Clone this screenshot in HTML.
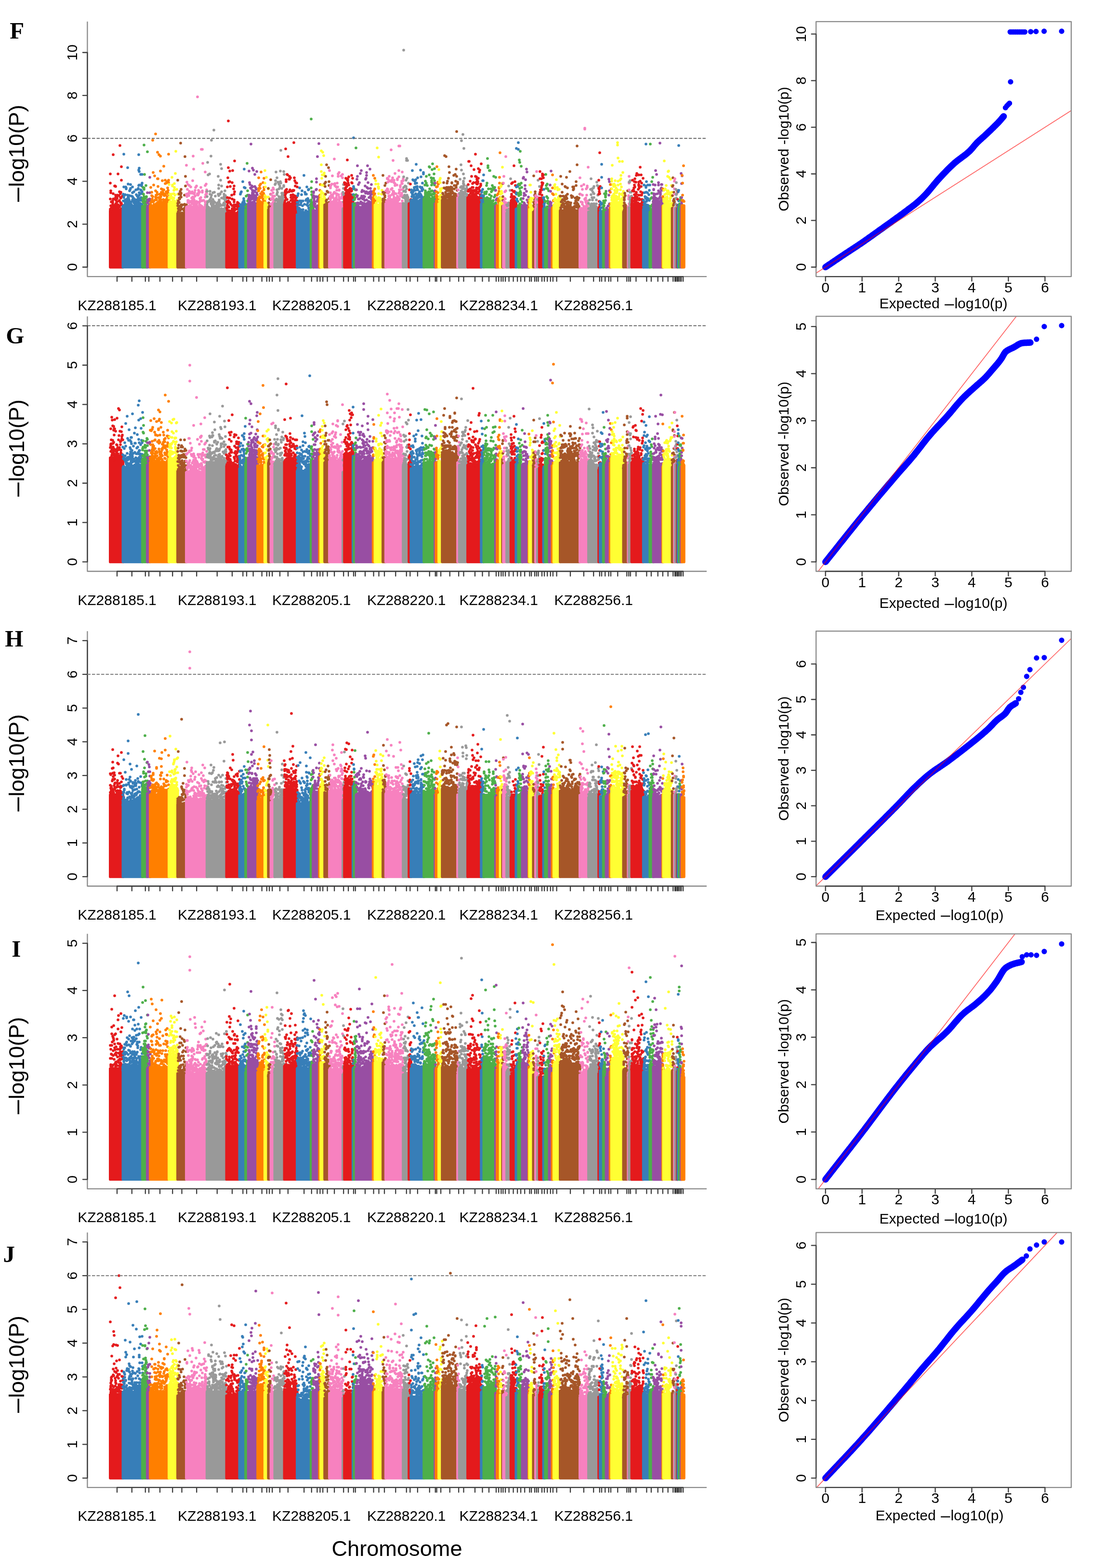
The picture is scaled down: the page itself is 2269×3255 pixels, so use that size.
<!DOCTYPE html><html><head><meta charset="utf-8"><style>html,body{margin:0;padding:0;background:#fff;width:2269px;height:3255px;overflow:hidden}svg{display:block}.tl{font-family:"Liberation Sans",sans-serif;font-size:30px;fill:#000}.al{font-family:"Liberation Sans",sans-serif;font-size:30px;fill:#000}.yl{font-family:"Liberation Sans",sans-serif;font-size:45.2px;fill:#000}.d1{font-size:52.9px}.d2{font-size:35px}.lt{font-family:"Liberation Serif",serif;font-size:49px;font-weight:bold;fill:#000}g.pts path{fill:none;stroke-width:5.7;stroke-linecap:round}</style></head><body><svg width="2269" height="3255" viewBox="0 0 2269 3255"><rect width="2269" height="3255" fill="#fff"/><g class="pts"><rect x="226" y="435.1" width="32.2" height="122.3" rx="2.9" fill="#E41A1C"/><path d="M229 361h0m0 19h0m0 33h0m0 21h0m0 1h0m0 5h0m0 0h0m1-44h0m0 4h0m0 27h0m0 12h0m1-20h0m0 13h0m2-1h0m1-14h0m0 4h0m0 3h0m0 3h0m0 3h0m1-109h0m0 81h0m0 11h0m0 22h0m0 5h0m0 0h0m0 0h0m1-27h0m0 24h0m1 2h0m1-53h0m0 42h0m0 4h0m0 6h0m1-52h0m0 40h0m0 14h0m1-53h0m0 18h0m0 5h0m0 4h0m0 10h0m0 7h0m0 5h0m1-20h0m0 6h0m0 2h0m0 3h0m0 6h0m0 3h0m1-12h0m0 3h0m0 2h0m1-21h0m0 2h0m0 2h0m0 7h0m0 15h0m0 3h0m0 0h0m0 3h0m1-35h0m0 22h0m0 4h0m0 2h0m0 4h0m1-76h0m0 64h0m0 13h0m1-6h0m0 1h0m0 3h0m1-30h0m0 11h0m0 10h0m0 13h0m1-42h0m0 18h0m0 13h0m0 8h0m0 0h0m1-135h0m0 125h0m1-25h0m0 8h0m0 10h0m1-21h0m0 12h0m0 11h0m0 13h0m1-89h0m0 28h0m0 48h0m0 11h0m0 6h0m1-1h0m1-31h0m0 19h0m0 7h0m0 2h0m1-8h0m0 9h0" stroke="#E41A1C"/><rect x="252.5" y="424.8" width="46.2" height="132.5" rx="2.9" fill="#377EB8"/><path d="M256 403h0m0 14h0m1-97h0m0 68h0m0 17h0m0 5h0m0 0h0m1 19h0m0 0h0m1-24h0m0 13h0m0 7h0m0 0h0m1-21h0m0 11h0m0 5h0m0 0h0m0 3h0m0 0h0m0 4h0m0 1h0m1-40h0m1 2h0m0 2h0m0 22h0m0 2h0m0 3h0m2 6h0m0 3h0m1-80h0m0 57h0m0 7h0m0 1h0m0 10h0m0 4h0m0 3h0m1-48h0m0 27h0m0 0h0m0 2h0m0 2h0m0 2h0m0 7h0m0 1h0m1-12h0m0 7h0m0 8h0m1-20h0m0 9h0m0 4h0m0 2h0m0 2h0m0 7h0m1-34h0m0 10h0m0 15h0m0 2h0m1-29h0m0 35h0m1-46h0m0 8h0m0 28h0m1 1h0m0 5h0m1-18h0m0 18h0m0 1h0m0 0h0m2-38h0m0 12h0m0 8h0m0 7h0m0 2h0m1-4h0m0 16h0m1-18h0m0 19h0m1-32h0m0 22h0m0 1h0m0 8h0m1-14h0m1-1h0m0 9h0m0 5h0m1 2h0m1-36h0m0 23h0m0 2h0m0 11h0m1-26h0m0 11h0m0 4h0m0 4h0m0 6h0m0 1h0m1-3h0m1-20h0m1-14h0m0 15h0m0 6h0m0 12h0m1-35h0m0 17h0m0 0h0m0 4h0m0 15h0m0 0h0m1-106h0m0 32h0m0 32h0m0 32h0m0 4h0m1-72h0m0 7h0m0 28h0m0 16h0m0 5h0m0 7h0m0 0h0m0 12h0m1-11h0m0 2h0m0 9h0m1-22h0m0 20h0m0 2h0m1-62h0m0 32h0m0 20h0m0 9h0m0 4h0m0 0h0m0 2h0m1-34h0m0 15h0m0 4h0m0 2h0m1-33h0m0 1h0m0 2h0m0 26h0m0 17h0m0 0h0m1-67h0m0 18h0m0 18h0m0 4h0m0 10h0m0 12h0m0 1h0m0 5h0" stroke="#377EB8"/><rect x="293" y="427.1" width="15.7" height="130.3" rx="2.9" fill="#4DAF4A"/><path d="M296 412h0m0 16h0m0 0h0m1-39h0m0 29h0m0 1h0m1-16h0m0 9h0m0 1h0m0 1h0m0 14h0m1-127h0m0 89h0m0 3h0m0 15h0m0 6h0m0 8h0m1-60h0m0 48h0m0 8h0m0 12h0m1-19h0m0 16h0m1-17h0m0 16h0m0 3h0m1-44h0m0 34h0m0 0h0m0 2h0m0 3h0m0 3h0m0 3h0m1-22h0m0 1h0m0 0h0m0 10h0m0 10h0m0 2h0m1-16h0m0 4h0m0 9h0m0 4h0m1-117h0" stroke="#4DAF4A"/><rect x="303" y="429.7" width="11.7" height="127.6" rx="2.9" fill="#984EA3"/><path d="M306 400h0m0 21h0m0 7h0m0 5h0m0 1h0m1-19h0m0 14h0m1-15h0m0 4h0m0 9h0m0 7h0m1-17h0m0 15h0m1-17h0m0 9h0m0 8h0m1-64h0m0 32h0m0 13h0m0 11h0m0 7h0m0 3h0m1-18h0" stroke="#984EA3"/><rect x="309" y="424.8" width="44.7" height="132.5" rx="2.9" fill="#FF7F00"/><path d="M313 389h0m0 31h0m0 5h0m2-26h0m0 7h0m0 10h0m0 13h0m1-16h0m0 3h0m0 13h0m1-138h0m0 117h0m0 11h0m0 11h0m1-72h0m0 69h0m1-43h0m0 34h0m1 6h0m1-59h0m1 50h0m0 12h0m0 1h0m0 0h0m1-150h0m0 118h0m0 13h0m1-4h0m0 5h0m0 1h0m1 4h0m0 7h0m0 1h0m1-24h0m0 5h0m0 19h0m0 4h0m0 1h0m0 2h0m1-114h0m0 55h0m0 57h0m0 2h0m1-59h0m0 16h0m0 33h0m0 1h0m0 2h0m1-13h0m1-89h0m0 99h0m0 1h0m0 1h0m1-19h0m0 9h0m0 4h0m0 8h0m0 1h0m1-14h0m0 4h0m0 2h0m0 6h0m0 1h0m0 3h0m1-103h0m0 31h0m0 53h0m0 5h0m0 2h0m0 13h0m0 1h0m1-25h0m0 4h0m0 7h0m0 3h0m0 4h0m0 3h0m1-33h0m0 7h0m1 1h0m0 28h0m1-53h0m0 18h0m1 7h0m0 20h0m1-25h0m0 6h0m0 3h0m0 10h0m0 6h0m0 3h0m1-78h0m0 49h0m0 23h0m0 3h0m1-14h0m0 17h0m1-19h0m0 15h0m1-45h0m0 7h0m0 46h0m1-22h0m0 0h0m0 10h0m0 14h0m1-49h0m0 18h0m0 2h0m0 27h0m0 1h0m0 1h0m1-16h0m0 7h0m0 3h0m1-46h0m0 32h0m0 6h0m0 1h0m0 2h0m0 6h0m1-34h0m0 7h0m0 30h0m1-32h0m0 6h0m1-81h0m0 54h0m0 5h0m0 25h0m0 13h0m0 4h0m0 4h0m0 3h0m0 1h0m1-18h0m0 3h0m0 10h0" stroke="#FF7F00"/><rect x="348" y="419.9" width="23.7" height="137.4" rx="2.9" fill="#FFFF33"/><path d="M351 383h0m0 28h0m0 14h0m1-22h0m0 7h0m0 9h0m1-1h0m0 0h0m0 7h0m1-13h0m1-9h0m0 3h0m0 4h0m0 9h0m0 3h0m0 2h0m1-21h0m1-35h0m0 43h0m0 12h0m0 1h0m1-40h0m0 2h0m0 24h0m1 6h0m0 5h0m1-19h0m0 16h0m1-23h0m0 7h0m0 9h0m0 10h0m0 3h0m1-43h0m0 8h0m0 5h0m0 9h0m0 0h0m0 14h0m0 0h0m0 1h0m1-13h0m0 14h0m1-59h0m0 64h0m1-110h0m0 106h0m2-27h0m0 28h0m1-6h0m1-12h0" stroke="#FFFF33"/><rect x="366" y="440" width="23.7" height="117.4" rx="2.9" fill="#A65628"/><path d="M369 374h0m0 48h0m0 5h0m1-10h0m0 10h0m0 6h0m0 6h0m1-18h0m0 13h0m0 11h0m1-43h0m0 1h0m0 8h0m0 9h0m0 9h0m1-17h0m0 1h0m1-16h0m0 31h0m0 9h0m1-140h0m0 107h0m0 5h0m0 20h0m1-36h0m0 8h0m0 8h0m0 16h0m0 3h0m0 6h0m1-1h0m1-8h0m0 1h0m0 16h0m1-8h0m2 0h0m0 10h0m1-7h0m1-32h0m0 19h0m0 1h0m0 0h0m0 7h0m0 1h0m0 0h0m0 9h0m1-117h0m0 114h0m0 2h0m1-75h0m0 20h0m0 43h0m0 13h0m0 0h0m1-5h0m1-12h0" stroke="#A65628"/><rect x="384" y="429.7" width="48.5" height="127.6" rx="2.9" fill="#F781BF"/><path d="M387 343h0m0 60h0m0 1h0m0 26h0m1-52h0m0 30h0m1-15h0m0 36h0m0 0h0m1-46h0m0 19h0m0 4h0m0 10h0m0 4h0m0 9h0m0 5h0m1-18h0m0 4h0m0 9h0m0 3h0m1-31h0m0 5h0m0 12h0m0 3h0m0 11h0m0 3h0m1-50h0m0 12h0m0 30h0m1-27h0m1 18h0m0 8h0m0 3h0m1-41h0m0 12h0m0 1h0m0 28h0m0 1h0m0 4h0m1-14h0m1-9h0m0 6h0m0 12h0m1-31h0m0 25h0m1-48h0m0 26h0m0 8h0m0 2h0m0 7h0m1-94h0m0 90h0m0 18h0m1-81h0m0 51h0m0 9h0m0 13h0m0 5h0m0 2h0m1-29h0m0 13h0m0 12h0m0 3h0m1-30h0m0 19h0m0 1h0m0 12h0m1-37h0m0 11h0m0 1h0m0 14h0m0 1h0m0 1h0m0 6h0m0 2h0m0 3h0m1-45h0m0 30h0m0 1h0m1 6h0m0 3h0m0 0h0m1-43h0m0 32h0m0 6h0m1-3h0m0 7h0m1-227h0m0 201h0m0 2h0m1 1h0m0 15h0m0 12h0m0 1h0m1-38h0m0 8h0m0 28h0m0 1h0m1-34h0m1 0h0m0 1h0m0 20h0m0 1h0m0 5h0m0 6h0m1-19h0m0 6h0m0 11h0m1-14h0m0 11h0m0 7h0m1-44h0m0 21h0m1-100h0m0 106h0m0 13h0m1-12h0m0 11h0m0 3h0m0 3h0m1-124h0m0 86h0m0 3h0m0 31h0m0 4h0m1-95h0m0 96h0m1-19h0m1 0h0m2 14h0m0 5h0m1-78h0m0 28h0m0 24h0m0 11h0m0 5h0m0 3h0m0 4h0m1-28h0m0 19h0m0 8h0m1-49h0m0 16h0m0 5h0m0 21h0m0 5h0m1-35h0m0 1h0m0 7h0m0 16h0m0 4h0m0 0h0" stroke="#F781BF"/><rect x="426.8" y="432.4" width="46.5" height="124.9" rx="2.9" fill="#999999"/><path d="M430 397h0m0 11h0m0 17h0m0 3h0m0 3h0m0 1h0m0 4h0m0 1h0m0 0h0m1-100h0m0 83h0m1-57h0m0 55h0m0 20h0m1-8h0m0 1h0m0 2h0m0 2h0m0 0h0m1-18h0m0 15h0m0 1h0m1-72h0m0 57h0m1-21h0m0 6h0m0 11h0m0 19h0m0 2h0m1-17h0m1-94h0m0 86h0m0 7h0m0 6h0m0 10h0m0 3h0m1-145h0m0 114h0m0 14h0m0 1h0m0 12h0m1-5h0m0 0h0m0 4h0m0 6h0m1 0h0m1-37h0m0 14h0m0 10h0m0 5h0m0 3h0m1-9h0m0 1h0m0 2h0m1-156h0m0 148h0m0 16h0m1-35h0m0 29h0m0 4h0m0 5h0m1-17h0m0 9h0m0 0h0m0 3h0m1-25h0m0 21h0m1 1h0m0 4h0m1-7h0m0 1h0m1-5h0m0 2h0m0 1h0m0 6h0m1-4h0m1 0h0m0 4h0m0 0h0m0 1h0m1-66h0m0 37h0m0 17h0m0 3h0m0 1h0m1-40h0m0 7h0m0 15h0m0 24h0m0 0h0m1-15h0m0 2h0m0 2h0m0 3h0m0 4h0m0 10h0m1-2h0m1-32h0m0 1h0m0 21h0m0 1h0m0 9h0m1-93h0m0 33h0m0 53h0m0 0h0m2-77h0m0 36h0m0 12h0m0 13h0m0 22h0m1 1h0m1-8h0m0 10h0m2-24h0m0 11h0m1-20h0m0 5h0m0 13h0m0 1h0m0 0h0m0 4h0m0 0h0m1-19h0m0 0h0m0 2h0m0 17h0m0 7h0m1-37h0m0 19h0m0 8h0m0 11h0m0 1h0m1-29h0m0 11h0m0 14h0m0 4h0m1-20h0m1-4h0m0 24h0" stroke="#999999"/><rect x="467.5" y="440" width="32.7" height="117.4" rx="2.9" fill="#E41A1C"/><path d="M471 419h0m0 13h0m0 0h0m0 1h0m1-45h0m0 22h0m0 16h0m0 2h0m0 9h0m0 7h0m1-75h0m0 52h0m1-170h0m0 97h0m0 69h0m0 12h0m1-51h0m0 33h0m0 8h0m0 11h0m0 7h0m0 1h0m0 1h0m0 2h0m0 4h0m1-1h0m1-89h0m0 22h0m0 34h0m0 9h0m1-33h0m1 37h0m0 0h0m0 14h0m0 6h0m0 1h0m1-4h0m0 0h0m0 3h0m1-39h0m0 32h0m0 6h0m1-64h0m0 34h0m0 14h0m0 6h0m0 3h0m0 1h0m0 4h0m1-87h0m0 81h0m0 3h0m1-5h0m0 5h0m1-46h0m0 46h0m1-52h0m0 17h0m0 12h0m0 4h0m0 6h0m0 5h0m0 1h0m0 1h0m1-98h0m0 64h0m0 31h0m0 8h0m1 7h0m0 0h0m1-10h0m1-9h0m1 19h0m1-16h0m1-8h0m0 9h0m0 5h0m0 0h0m1-11h0m0 2h0m0 15h0m1-18h0m0 12h0m1-7h0m1-3h0m0 8h0m0 7h0m0 6h0" stroke="#E41A1C"/><rect x="494.5" y="429.7" width="18.3" height="127.6" rx="2.9" fill="#377EB8"/><path d="M499 403h0m0 22h0m0 0h0m1-25h0m0 30h0m1-32h0m1 29h0m0 3h0m0 1h0m1-8h0m0 1h0m0 4h0m0 4h0m1-55h0m0 43h0m0 5h0m1-5h0m0 6h0m0 2h0m0 3h0m0 3h0m1-22h0m0 4h0m0 2h0m0 8h0m1-75h0m0 38h0m0 28h0m0 3h0m0 5h0m0 5h0m1-2h0m1-38h0m0 37h0m1-3h0" stroke="#377EB8"/><rect x="507.1" y="432.4" width="11.3" height="124.9" rx="2.9" fill="#4DAF4A"/><path d="M510 429h0m1-22h0m1 28h0m0 1h0m1-97h0m0 86h0m1-29h0m0 9h0m0 12h0m0 12h0m0 5h0m0 2h0m0 2h0m1-5h0m0 2h0m0 2h0" stroke="#4DAF4A"/><rect x="512.8" y="419.9" width="25.2" height="137.4" rx="2.9" fill="#984EA3"/><path d="M516 413h0m0 9h0m1-67h0m0 50h0m0 4h0m1-30h0m0 31h0m0 8h0m0 5h0m0 1h0m1-41h0m0 25h0m0 6h0m0 5h0m1-29h0m1-91h0m0 92h0m0 23h0m0 9h0m0 2h0m1-19h0m0 2h0m0 2h0m0 10h0m1-34h0m0 23h0m1-60h0m0 39h0m0 7h0m0 5h0m0 2h0m0 4h0m0 18h0m0 1h0m1-17h0m0 3h0m0 13h0m1-71h0m0 50h0m0 2h0m0 8h0m0 6h0m0 4h0m1-27h0m0 0h0m0 11h0m0 6h0m0 11h0m0 0h0m1-27h0m0 14h0m0 2h0m0 6h0m1-57h0m0 25h0m0 11h0m0 8h0m0 9h0m0 10h0m2-35h0m0 18h0m0 16h0m1-31h0m1-37h0m0 44h0m0 4h0m0 7h0m0 4h0m1-11h0m1 14h0m0 5h0" stroke="#984EA3"/><rect x="532.2" y="419.9" width="20.3" height="137.4" rx="2.9" fill="#FF7F00"/><path d="M535 418h0m1-3h0m0 2h0m0 7h0m1-55h0m0 22h0m0 5h0m0 0h0m0 15h0m1 2h0m1-28h0m0 5h0m0 18h0m0 13h0m0 2h0m1-32h0m0 27h0m0 4h0m1-40h0m0 20h0m0 8h0m1-53h0m2 41h0m0 7h0m0 2h0m0 3h0m0 10h0m0 2h0m0 2h0m0 1h0m1-19h0m0 19h0m1-46h0m0 35h0m0 9h0m0 2h0m1-24h0m0 18h0m0 6h0m1-55h0m0 19h0m0 5h0m0 10h0m0 1h0m0 8h0m0 0h0m0 10h0m1-8h0m1-8h0m0 11h0" stroke="#FF7F00"/><rect x="546.9" y="422.2" width="13.2" height="135.2" rx="2.9" fill="#FFFF33"/><path d="M550 354h0m0 0h0m0 26h0m0 26h0m0 15h0m1-33h0m0 24h0m0 1h0m0 9h0m0 5h0m0 0h0m1-6h0m0 1h0m1-54h0m0 55h0m0 3h0m2-17h0m1 18h0m1-35h0m0 17h0m0 14h0" stroke="#FFFF33"/><rect x="554.4" y="432.4" width="10.9" height="124.9" rx="2.9" fill="#A65628"/><path d="M557 391h0m1 30h0m0 9h0m0 4h0m0 3h0m1-9h0m0 7h0m1-22h0m0 11h0m1 12h0m1-63h0m0 30h0m0 11h0m0 14h0" stroke="#A65628"/><rect x="559.6" y="429.7" width="13.6" height="127.6" rx="2.9" fill="#F781BF"/><path d="M562 424h0m1-21h0m0 10h0m0 21h0m0 1h0m1-40h0m0 37h0m1-3h0m0 2h0m0 3h0m1-27h0m0 3h0m0 11h0m0 2h0m1-33h0m0 10h0m0 13h0m0 7h0m0 5h0m0 4h0m1-36h0m0 20h0m0 3h0m0 7h0m0 7h0m0 4h0m1-27h0m0 8h0m0 8h0m1-16h0m0 12h0m0 7h0" stroke="#F781BF"/><rect x="567.5" y="419.9" width="25.8" height="137.4" rx="2.9" fill="#999999"/><path d="M571 383h0m0 39h0m0 2h0m0 1h0m1-50h0m0 6h0m0 35h0m0 9h0m1-68h0m0 59h0m0 7h0m1-10h0m0 3h0m0 7h0m1-54h0m0 25h0m0 8h0m0 2h0m1-5h0m0 15h0m1-36h0m0 41h0m1 0h0m0 3h0m1-43h0m0 3h0m0 10h0m0 16h0m0 9h0m0 5h0m1-10h0m1-26h0m0 4h0m0 25h0m0 8h0m1-68h0m0 22h0m0 44h0m0 3h0m1-112h0m0 68h0m0 30h0m1 2h0m0 13h0m1-34h0m0 10h0m0 6h0m0 6h0m0 4h0m0 2h0m1-18h0m0 4h0m0 2h0m0 2h0m1-8h0m0 13h0m0 4h0m0 4h0m0 3h0m1-15h0m0 9h0m0 4h0m1-67h0m0 29h0m0 2h0m0 20h0m0 13h0m1-58h0m0 42h0m0 18h0m0 0h0" stroke="#999999"/><rect x="587.6" y="420.8" width="32.1" height="136.5" rx="2.9" fill="#E41A1C"/><path d="M591 420h0m0 4h0m0 1h0m1-28h0m0 2h0m0 6h0m0 11h0m1-107h0m0 86h0m0 7h0m0 8h0m1-37h0m0 4h0m0 37h0m1-21h0m0 30h0m1-61h0m0 37h0m0 15h0m1-51h0m1-38h0m0 95h0m0 5h0m2-53h0m0 26h0m0 22h0m1-54h0m0 6h0m0 25h0m1-3h0m1-25h0m1 36h0m0 5h0m0 6h0m2-19h0m0 9h0m0 17h0m1-11h0m0 9h0m0 2h0m1-28h0m0 9h0m0 11h0m0 5h0m0 4h0m1-28h0m1-100h0m0 99h0m0 15h0m0 6h0m0 1h0m1-48h0m0 37h0m1-31h0m0 0h0m0 33h0m0 8h0m0 7h0m0 2h0m1-39h0m0 21h0m0 12h0m0 2h0m0 3h0m0 0h0m1-45h0m0 33h0m0 7h0m1 0h0m0 7h0m1-46h0m0 29h0m1-21h0m0 29h0" stroke="#E41A1C"/><rect x="614" y="442.7" width="34.6" height="114.7" rx="2.9" fill="#377EB8"/><path d="M617 420h0m0 6h0m0 21h0m0 1h0m1-42h0m0 25h0m0 1h0m0 3h0m1-33h0m0 18h0m0 14h0m0 6h0m2-15h0m0 7h0m0 8h0m0 1h0m0 6h0m1-57h0m0 27h0m0 18h0m0 2h0m0 4h0m1-6h0m1-10h0m0 10h0m0 1h0m0 12h0m1-31h0m0 4h0m0 19h0m1-36h0m0 36h0m0 2h0m0 1h0m1-47h0m1 31h0m0 20h0m1-30h0m0 18h0m0 5h0m0 1h0m0 2h0m1 0h0m1-79h0m1 60h0m0 17h0m1-42h0m1 4h0m0 37h0m0 0h0m0 7h0m1-31h0m0 21h0m0 9h0m1-43h0m0 11h0m0 25h0m0 3h0m0 3h0m1-57h0m0 37h0m1-9h0m0 24h0m1-28h0m0 9h0m0 6h0m1-33h0m0 45h0m0 1h0m0 1h0m0 0h0m0 2h0m1-50h0m0 23h0m0 15h0m0 2h0m0 9h0m2-24h0m0 19h0m1-12h0m0 11h0m0 7h0m0 0h0m1-12h0m0 13h0" stroke="#377EB8"/><rect x="642.9" y="419.9" width="10" height="137.4" rx="2.9" fill="#4DAF4A"/><path d="M646 247h0m0 143h0m0 25h0m1-38h0m0 21h0m0 6h0m0 16h0m1 2h0m0 1h0m0 2h0m1-17h0m0 2h0m1-3h0m0 13h0" stroke="#4DAF4A"/><rect x="647.2" y="435.1" width="18.8" height="122.3" rx="2.9" fill="#984EA3"/><path d="M651 398h0m0 2h0m0 6h0m0 2h0m0 28h0m0 1h0m1-28h0m0 2h0m0 2h0m0 4h0m0 5h0m0 2h0m1-6h0m0 5h0m0 4h0m0 1h0m1-5h0m0 17h0m1-11h0m1-35h0m0 14h0m1-37h0m0 7h0m0 15h0m0 39h0m1-23h0m0 9h0m0 14h0m0 4h0m1-111h0m0 90h0m0 12h0m0 4h0m0 2h0m0 2h0m0 3h0m1-2h0m1-28h0m0 3h0m0 20h0m1-133h0m0 111h0m0 22h0" stroke="#984EA3"/><rect x="660.3" y="412.4" width="8.5" height="145" rx="2.9" fill="#FF7F00"/><path d="M664 395h0m0 10h0m0 1h0m0 1h0m0 3h0m0 1h0m0 3h0m0 2h0m0 0h0m1-33h0m0 28h0m0 2h0m0 4h0" stroke="#FF7F00"/><rect x="663.1" y="410.1" width="13.8" height="147.2" rx="2.9" fill="#FFFF33"/><path d="M666 407h0m1-94h0m0 29h0m0 14h0m0 41h0m0 4h0m0 1h0m1-32h0m0 14h0m0 28h0m1-49h0m0 37h0m1-84h0m0 97h0m1-29h0m1-61h0m0 62h0m0 17h0m0 5h0m0 6h0m1-54h0m0 5h0m0 42h0m1-1h0m0 6h0m0 2h0" stroke="#FFFF33"/><rect x="671.2" y="422.6" width="15.5" height="134.7" rx="2.9" fill="#A65628"/><path d="M674 381h0m1 6h0m0 38h0m1-59h0m0 12h0m0 25h0m0 25h0m1-11h0m1-75h0m0 73h0m0 6h0m1-24h0m0 25h0m2-23h0m0 26h0m1-77h0m1 29h0m0 8h0m0 27h0m0 8h0m0 2h0m0 3h0" stroke="#A65628"/><rect x="681" y="419.9" width="33.7" height="137.4" rx="2.9" fill="#F781BF"/><path d="M684 354h0m1 54h0m0 1h0m0 4h0m0 11h0m1-37h0m0 3h0m0 10h0m0 8h0m0 6h0m1-30h0m0 35h0m1-14h0m0 2h0m0 18h0m1-43h0m1-17h0m0 45h0m0 11h0m0 1h0m1-18h0m0 0h0m0 5h0m1 9h0m0 2h0m0 1h0m1-20h0m0 19h0m0 3h0m1-93h0m0 52h0m0 17h0m0 15h0m0 2h0m0 2h0m0 3h0m1-40h0m0 1h0m0 3h0m0 33h0m1-17h0m0 11h0m0 5h0m0 6h0m1-36h0m0 32h0m0 2h0m1-11h0m0 2h0m0 6h0m0 0h0m0 2h0m1-31h0m0 6h0m0 7h0m0 3h0m0 15h0m0 5h0m1-45h0m0 34h0m1-26h0m1-88h0m0 61h0m0 5h0m0 55h0m0 4h0m1-21h0m0 20h0m1-66h0m0 36h0m0 1h0m0 14h0m0 5h0m0 2h0m0 4h0m0 1h0m0 0h0m0 3h0m1-12h0m1 0h0m0 11h0m0 2h0m2-60h0m0 55h0m0 3h0m1-3h0m0 3h0m1-21h0m0 1h0m0 5h0m1-46h0m0 7h0m0 43h0m1-5h0m0 16h0m0 1h0" stroke="#F781BF"/><rect x="709" y="432.4" width="8.9" height="124.9" rx="2.9" fill="#999999"/><path d="M712 399h0m0 34h0m1-50h0m0 8h0m0 13h0m0 15h0m0 18h0m1-35h0m0 32h0m1-29h0m0 11h0m0 8h0m0 2h0" stroke="#999999"/><rect x="712.2" y="407.5" width="23.4" height="149.9" rx="2.9" fill="#E41A1C"/><path d="M715 379h0m0 30h0m1-26h0m1-3h0m0 11h0m0 3h0m1-24h0m0 11h0m0 8h0m0 12h0m0 5h0m1-24h0m0 17h0m0 11h0m1-23h0m0 8h0m0 5h0m1-68h0m0 39h0m0 2h0m0 22h0m0 8h0m0 5h0m1-36h0m0 3h0m0 20h0m0 16h0m0 1h0m1-32h0m0 17h0m0 9h0m1-39h0m0 17h0m0 14h0m0 3h0m1-1h0m0 5h0m0 1h0m0 4h0m0 1h0m1-19h0m0 11h0m0 9h0m0 0h0m1-21h0m0 6h0m0 9h0m0 3h0m0 3h0m1-1h0m1-14h0m0 7h0m1-40h0m0 15h0m0 17h0m0 14h0m1-30h0m0 12h0m0 15h0m1-37h0m0 38h0m0 4h0m0 0h0m1-6h0" stroke="#E41A1C"/><rect x="730" y="419.9" width="8.2" height="137.4" rx="2.9" fill="#377EB8"/><path d="M733 404h0m0 20h0m0 1h0m1-139h0m0 101h0m0 5h0m0 12h0m0 11h0m1-24h0m0 23h0m0 10h0" stroke="#377EB8"/><rect x="732.5" y="419.9" width="9.8" height="137.4" rx="2.9" fill="#4DAF4A"/><path d="M735 406h0m1 8h0m1-3h0m1-17h0m0 30h0m1-117h0m0 97h0m0 18h0m0 0h0" stroke="#4DAF4A"/><rect x="736.6" y="427.5" width="41" height="129.8" rx="2.9" fill="#984EA3"/><path d="M740 394h0m1-22h0m0 36h0m0 14h0m1-78h0m0 22h0m0 40h0m0 21h0m1-6h0m0 6h0m0 2h0m1-46h0m0 0h0m0 30h0m0 16h0m0 2h0m2-52h0m0 34h0m0 10h0m2-63h0m0 71h0m0 1h0m1-21h0m0 8h0m1-65h0m0 69h0m0 10h0m0 0h0m1-35h0m0 9h0m0 15h0m0 1h0m1-28h0m0 26h0m1-13h0m0 5h0m0 13h0m1-4h0m0 4h0m0 3h0m0 1h0m1-23h0m0 5h0m0 20h0m1-35h0m0 25h0m0 4h0m1-18h0m0 8h0m1-30h0m0 42h0m0 3h0m1-59h0m0 29h0m0 31h0m1-62h0m0 54h0m0 5h0m1-71h0m0 6h0m0 34h0m0 17h0m1-26h0m0 33h0m0 0h0m0 2h0m1-80h0m0 56h0m1-21h0m0 12h0m0 11h0m0 22h0m0 5h0m1-11h0m0 9h0m1-17h0m0 0h0m0 9h0m0 5h0m0 4h0m0 1h0m0 2h0m1-32h0m0 20h0m0 0h0m0 9h0m1-77h0m0 75h0m0 3h0m0 2h0m1-40h0m0 11h0m0 5h0m0 13h0m0 7h0m0 5h0m0 0h0m1-35h0m0 1h0m0 35h0m1-50h0m0 15h0m0 2h0m0 3h0m0 7h0m0 3h0m0 7h0m0 4h0m1-12h0m0 9h0m0 1h0m0 6h0m1-11h0m0 2h0m0 4h0m0 2h0m0 6h0m1-32h0m0 24h0m0 3h0m0 1h0m0 1h0m1-27h0" stroke="#984EA3"/><rect x="771.9" y="407.5" width="9.4" height="149.9" rx="2.9" fill="#FF7F00"/><path d="M775 364h0m0 36h0m0 0h0m0 11h0m1-15h0m0 10h0m1-1h0m0 7h0m1-42h0m0 22h0m0 10h0" stroke="#FF7F00"/><rect x="775.6" y="422.6" width="22.1" height="134.7" rx="2.9" fill="#FFFF33"/><path d="M779 409h0m1-34h0m0 7h0m0 26h0m1 4h0m0 9h0m0 2h0m0 2h0m0 1h0m1 1h0m1-120h0m1 108h0m0 3h0m0 10h0m1-46h0m0 6h0m0 25h0m0 5h0m0 9h0m1-101h0m0 62h0m0 3h0m0 11h0m0 8h0m0 6h0m2 10h0m0 0h0m1-15h0m0 1h0m0 5h0m0 3h0m0 4h0m1-7h0m0 2h0m1 8h0m1-24h0m0 15h0m1-23h0m0 20h0m0 7h0m0 1h0m1 2h0" stroke="#FFFF33"/><rect x="792" y="419.9" width="11.6" height="137.4" rx="2.9" fill="#A65628"/><path d="M795 364h0m0 35h0m0 14h0m0 3h0m0 5h0m0 4h0m1-26h0m0 19h0m1-15h0m0 11h0m0 9h0m1-3h0m0 1h0m0 2h0m0 1h0m1-39h0m0 21h0m0 3h0m1 7h0m1-36h0m0 19h0" stroke="#A65628"/><rect x="797.9" y="419.9" width="41.9" height="137.4" rx="2.9" fill="#F781BF"/><path d="M801 396h0m0 29h0m1-7h0m0 0h0m1-22h0m1-26h0m0 1h0m0 21h0m0 8h0m0 20h0m0 1h0m0 3h0m1-46h0m0 15h0m0 23h0m0 0h0m1-44h0m0 29h0m0 12h0m0 2h0m0 5h0m0 3h0m0 1h0m0 0h0m0 1h0m0 0h0m1-18h0m0 9h0m0 0h0m0 5h0m1-55h0m0 32h0m0 19h0m0 5h0m0 2h0m1-48h0m0 34h0m1-34h0m0 30h0m0 11h0m0 5h0m0 3h0m1-5h0m1-109h0m0 82h0m0 21h0m0 1h0m0 5h0m0 3h0m0 1h0m1-50h0m0 3h0m0 44h0m0 0h0m0 1h0m1-31h0m0 13h0m0 13h0m1-48h0m0 33h0m0 1h0m0 1h0m0 12h0m0 3h0m0 3h0m1-89h0m0 64h0m0 26h0m1-26h0m0 0h0m0 7h0m0 9h0m0 7h0m1-46h0m0 5h0m0 21h0m0 9h0m1 3h0m0 2h0m0 9h0m1-63h0m0 21h0m0 4h0m0 34h0m1-7h0m0 6h0m0 0h0m1-16h0m0 10h0m1-1h0m0 5h0m0 4h0m1-36h0m1-13h0m0 2h0m0 34h0m0 12h0m1-8h0m0 6h0m1-7h0m1-107h0m0 51h0m0 13h0m0 34h0m0 11h0m0 3h0m1-21h0m0 5h0m0 14h0m1-110h0m1 82h0m0 3h0m0 18h0m0 19h0m1-31h0m0 11h0m0 2h0m2-31h0m0 4h0m0 21h0m0 7h0m0 17h0m1-68h0m0 24h0m0 25h0m0 11h0m1-24h0m1-22h0m0 4h0m0 32h0" stroke="#F781BF"/><rect x="834.1" y="419.9" width="17.8" height="137.4" rx="2.9" fill="#999999"/><path d="M837 410h0m0 12h0m1-318h0m0 263h0m0 22h0m0 8h0m1 0h0m0 13h0m1-5h0m0 19h0m0 1h0m1-39h0m0 10h0m0 14h0m0 2h0m0 10h0m1-24h0m0 9h0m0 10h0m1-43h0m0 13h0m0 23h0m1-81h0m0 4h0m0 59h0m0 14h0m0 14h0m0 4h0m1-54h0m0 35h0m0 18h0m0 1h0m1-91h0m0 75h0m0 7h0m0 5h0m1-10h0m0 4h0m1-34h0m0 37h0m1-1h0m0 2h0" stroke="#999999"/><rect x="846.2" y="419.9" width="9.8" height="137.4" rx="2.9" fill="#E41A1C"/><path d="M850 394h0m2-12h0m0 39h0m1-7h0m0 2h0" stroke="#E41A1C"/><rect x="850.4" y="415" width="32.5" height="142.3" rx="2.9" fill="#377EB8"/><path d="M854 394h0m0 5h0m0 16h0m1-7h0m0 8h0m1-62h0m0 47h0m0 2h0m1-30h0m0 26h0m0 20h0m1-45h0m0 23h0m1-2h0m0 10h0m0 3h0m0 2h0m0 3h0m0 1h0m1-25h0m0 1h0m1-14h0m0 19h0m0 21h0m0 1h0m0 3h0m0 0h0m1-39h0m0 14h0m0 16h0m0 6h0m1-44h0m0 15h0m0 14h0m0 9h0m0 3h0m0 4h0m1-77h0m0 68h0m0 2h0m0 4h0m0 1h0m0 0h0m1-36h0m0 25h0m1-18h0m0 4h0m0 3h0m1-25h0m0 25h0m0 12h0m0 5h0m0 6h0m0 0h0m2-15h0m1 17h0m1-21h0m0 3h0m0 4h0m0 2h0m0 2h0m1-21h0m0 21h0m0 6h0m0 4h0m1-66h0m0 50h0m0 3h0m0 2h0m1-41h0m0 38h0m0 13h0m1-27h0m0 16h0m0 7h0m1-25h0m0 7h0m0 15h0m0 1h0m0 4h0m1-36h0m0 30h0m0 7h0m1-24h0m0 17h0m1-52h0m0 3h0m1 55h0" stroke="#377EB8"/><rect x="877.2" y="410.1" width="28.7" height="147.2" rx="2.9" fill="#4DAF4A"/><path d="M881 412h0m0 1h0m0 2h0m1-31h0m0 24h0m0 2h0m1-34h0m0 20h0m0 4h0m0 3h0m0 7h0m1-5h0m1-39h0m0 14h0m0 4h0m0 28h0m0 3h0m1-15h0m0 7h0m0 7h0m1-29h0m0 16h0m0 7h0m0 5h0m1-7h0m0 2h0m0 2h0m1-10h0m0 5h0m1-7h0m0 9h0m0 6h0m0 2h0m1-69h0m0 17h0m0 38h0m0 3h0m0 6h0m1-63h0m0 45h0m2 11h0m0 0h0m1-34h0m0 28h0m0 8h0m1-30h0m0 3h0m0 6h0m0 31h0m1-63h0m0 18h0m0 26h0m0 7h0m1-63h0m0 0h0m0 40h0m0 29h0m1-6h0m0 11h0m1-44h0m0 33h0m0 11h0m1-53h0m0 38h0m1-49h0m0 25h0m0 9h0m0 13h0m0 5h0m0 8h0m0 5h0m1-17h0m0 10h0" stroke="#4DAF4A"/><rect x="900.2" y="419.9" width="8" height="137.4" rx="2.9" fill="#984EA3"/><path d="M903 380h0m0 16h0m2 20h0" stroke="#984EA3"/><rect x="902.5" y="419.9" width="11.3" height="137.4" rx="2.9" fill="#FF7F00"/><path d="M906 388h0m0 10h0m0 7h0m0 1h0m0 3h0m0 8h0m0 2h0m0 3h0m1-76h0m0 65h0m0 5h0m0 4h0m0 3h0m1-36h0m0 21h0m0 1h0m0 2h0m1-33h0m0 3h0m0 19h0m0 9h0m0 13h0m0 0h0m1-40h0m0 27h0m0 9h0m0 3h0m1-6h0" stroke="#FF7F00"/><rect x="908.1" y="419.9" width="12.8" height="137.4" rx="2.9" fill="#FFFF33"/><path d="M911 352h0m0 73h0m1-47h0m0 32h0m0 7h0m0 7h0m1-51h0m0 35h0m1-38h0m0 9h0m0 13h0m0 6h0m0 10h0m1-12h0m0 9h0m0 2h0m0 2h0m0 1h0m0 1h0m0 2h0m1-2h0m0 7h0m0 3h0m1-4h0m0 1h0m0 1h0m0 4h0m0 1h0m0 1h0m1-34h0m0 19h0" stroke="#FFFF33"/><rect x="915.2" y="412.4" width="37.6" height="145" rx="2.9" fill="#A65628"/><path d="M918 409h0m1-8h0m0 10h0m1-8h0m0 9h0m1-33h0m1 11h0m0 18h0m0 0h0m0 8h0m1-93h0m0 93h0m1-25h0m0 0h0m0 16h0m0 5h0m0 1h0m0 1h0m1-15h0m0 10h0m1-84h0m0 78h0m0 5h0m0 2h0m1-21h0m0 5h0m0 9h0m0 1h0m0 3h0m0 2h0m0 8h0m1-37h0m0 13h0m0 11h0m1-28h0m0 40h0m0 1h0m1-28h0m0 2h0m0 5h0m0 0h0m0 9h0m0 4h0m1-39h0m0 19h0m0 13h0m0 6h0m0 2h0m1-64h0m0 70h0m0 1h0m1-59h0m0 48h0m1-17h0m0 5h0m0 2h0m0 11h0m0 5h0m1-11h0m0 5h0m1-18h0m0 13h0m0 2h0m0 5h0m1-18h0m0 4h0m0 16h0m0 1h0m0 5h0m0 1h0m1-38h0m0 1h0m0 9h0m0 4h0m0 4h0m0 19h0m1-18h0m0 13h0m0 3h0m0 0h0m0 3h0m1-9h0m0 9h0m1-16h0m0 9h0m1-46h0m0 48h0m0 3h0m1-30h0m0 7h0m0 13h0m0 2h0m0 1h0m0 2h0m0 3h0m1-11h0m0 8h0m0 0h0m0 4h0m1-52h0m0 50h0m0 6h0m1-42h0m0 27h0m1-52h0m0 34h0m0 4h0m0 22h0m1-138h0m0 93h0m0 39h0m1-10h0m0 11h0m0 2h0m0 7h0m0 0h0m0 0h0m1-37h0m0 3h0" stroke="#A65628"/><rect x="947.1" y="407.5" width="9.5" height="149.9" rx="2.9" fill="#F781BF"/><path d="M951 394h0m0 10h0m1 1h0m1-3h0m0 9h0" stroke="#F781BF"/><rect x="950.9" y="407.5" width="22.9" height="149.9" rx="2.9" fill="#999999"/><path d="M954 401h0m1-29h0m0 31h0m0 5h0m0 0h0m0 4h0m1-23h0m1-47h0m0 54h0m1-104h0m0 61h0m0 34h0m0 11h0m0 8h0m0 4h0m1-12h0m1-7h0m0 10h0m0 11h0m1-133h0m0 113h0m0 12h0m1-43h0m0 15h0m0 4h0m0 1h0m0 7h0m0 11h0m0 13h0m1-104h0m0 75h0m0 1h0m0 1h0m0 18h0m0 1h0m0 3h0m1-37h0m0 31h0m0 7h0m1-16h0m0 9h0m0 1h0m1-5h0m1 0h0m0 12h0m0 0h0m1 4h0m1-27h0m0 5h0m0 4h0m0 0h0m0 8h0m0 2h0m0 3h0m1-2h0" stroke="#999999"/><rect x="968.1" y="407.5" width="33.8" height="149.9" rx="2.9" fill="#E41A1C"/><path d="M972 383h0m0 14h0m0 16h0m1-78h0m0 59h0m0 15h0m1-74h0m0 70h0m0 1h0m1-11h0m1-19h0m0 16h0m0 3h0m0 1h0m0 11h0m0 2h0m0 0h0m0 1h0m0 0h0m1-15h0m0 6h0m1-57h0m0 52h0m0 2h0m1-32h0m0 47h0m1-24h0m0 6h0m0 8h0m0 0h0m0 8h0m1-30h0m0 25h0m0 2h0m0 4h0m1-23h0m0 10h0m0 2h0m1-22h0m0 16h0m0 1h0m0 9h0m0 6h0m0 0h0m1-59h0m0 57h0m1-12h0m0 9h0m1-11h0m0 8h0m0 3h0m0 1h0m1-87h0m0 46h0m0 44h0m0 1h0m1-32h0m0 24h0m0 1h0m0 0h0m0 8h0m0 0h0m1-45h0m0 11h0m0 2h0m0 10h0m0 4h0m0 4h0m0 2h0m0 8h0m0 2h0m0 3h0m1-41h0m0 10h0m0 8h0m0 2h0m0 16h0m0 1h0m0 3h0m1-37h0m0 7h0m0 18h0m1-23h0m0 3h0m0 21h0m1-51h0m0 20h0m1 20h0m0 2h0m0 6h0m1-41h0m1-4h0m0 35h0m0 8h0m0 13h0m0 1h0m1-14h0m0 8h0m1-22h0m0 3h0m1-45h0m0 69h0m0 3h0" stroke="#E41A1C"/><rect x="996.2" y="420.8" width="10.9" height="136.5" rx="2.9" fill="#377EB8"/><path d="M999 407h0m0 8h0m1-18h0m0 2h0m0 6h0m0 11h0m0 3h0m0 4h0m1 2h0m0 1h0m1-51h0m0 18h0m1-18h0m0 33h0m0 7h0m0 3h0m0 3h0m0 5h0m1-63h0m0 43h0m0 4h0m0 12h0" stroke="#377EB8"/><rect x="1001.5" y="420.8" width="30.1" height="136.5" rx="2.9" fill="#4DAF4A"/><path d="M1006 399h0m0 3h0m0 10h0m0 13h0m1-13h0m0 5h0m1-16h0m0 18h0m0 6h0m1-23h0m0 15h0m0 7h0m1-39h0m0 13h0m0 25h0m1-43h0m0 30h0m0 3h0m0 0h0m0 2h0m0 4h0m1-90h0m0 92h0m1-77h0m0 4h0m0 67h0m0 2h0m1-25h0m0 20h0m0 9h0m1-6h0m0 4h0m0 1h0m1-66h0m0 50h0m0 12h0m1-62h0m0 65h0m0 1h0m1-8h0m0 13h0m1-33h0m0 25h0m0 1h0m0 4h0m1-24h0m0 9h0m0 15h0m0 2h0m1 2h0m1-41h0m0 10h0m0 23h0m1 0h0m0 7h0m1-36h0m0 27h0m1-50h0m0 26h0m0 32h0m1-15h0m1-20h0m0 34h0m0 1h0m1-29h0m0 10h0m0 1h0m1-38h0m0 53h0" stroke="#4DAF4A"/><rect x="1025.9" y="425.3" width="8.9" height="132.1" rx="2.9" fill="#984EA3"/><path d="M1029 395h0m0 34h0m1-14h0m1-1h0m0 12h0m0 1h0m0 2h0m1-17h0m0 1h0" stroke="#984EA3"/><rect x="1029.1" y="424" width="12.2" height="133.4" rx="2.9" fill="#FF7F00"/><path d="M1032 405h0m1 22h0m1-25h0m0 15h0m1-4h0m0 1h0m0 7h0m1-32h0m0 2h0m0 6h0m0 32h0m1-61h0m0 12h0m0 33h0m0 4h0m0 4h0m1-104h0m0 85h0m0 8h0m0 4h0m0 9h0" stroke="#FF7F00"/><rect x="1035.6" y="418.6" width="10.4" height="138.7" rx="2.9" fill="#FFFF33"/><path d="M1039 387h0m0 14h0m0 2h0m0 8h0m0 12h0m1-36h0m0 27h0m1-30h0m0 13h0m0 25h0m1-21h0m0 11h0m0 1h0m0 10h0m1-76h0m0 33h0m0 33h0" stroke="#FFFF33"/><rect x="1040.3" y="425.3" width="7.6" height="132.1" rx="2.9" fill="#A65628"/><path d="M1044 381h0m0 27h0m0 8h0" stroke="#A65628"/><rect x="1042.2" y="424" width="12.6" height="133.4" rx="2.9" fill="#F781BF"/><path d="M1045 380h0m1-14h0m0 52h0m1 2h0m0 8h0m1-30h0m0 14h0m0 9h0m0 6h0m1-14h0m0 7h0m0 2h0m0 4h0m0 0h0m1-101h0m0 71h0m1 25h0m0 1h0m1 0h0m0 3h0m0 3h0" stroke="#F781BF"/><rect x="1049.1" y="440.9" width="14.4" height="116.5" rx="2.9" fill="#999999"/><path d="M1052 425h0m0 11h0m0 6h0m1-15h0m0 11h0m1-12h0m1 1h0m0 9h0m1-50h0m0 35h0m0 5h0m0 18h0m0 1h0m1-12h0m0 9h0m1-3h0m0 2h0m0 4h0m1-50h0m0 40h0m0 1h0m1-65h0m0 56h0m0 1h0m0 15h0" stroke="#999999"/><rect x="1057.8" y="418.6" width="16.4" height="138.7" rx="2.9" fill="#E41A1C"/><path d="M1061 409h0m0 8h0m0 3h0m0 2h0m1-41h0m0 22h0m0 4h0m0 8h0m1-20h0m0 12h0m1-28h0m1 32h0m0 7h0m1-20h0m0 19h0m0 5h0m1-78h0m0 64h0m0 2h0m0 5h0m1-18h0m0 21h0m0 1h0m1-42h0m0 33h0m0 7h0m0 5h0m1-37h0m0 15h0m0 19h0m1-19h0m0 19h0" stroke="#E41A1C"/><rect x="1068.4" y="431.5" width="10.8" height="125.8" rx="2.9" fill="#377EB8"/><path d="M1072 308h0m0 80h0m0 12h0m0 3h0m1 10h0m0 2h0m0 0h0m0 18h0m2-49h0m0 3h0m0 31h0m0 15h0m1-137h0m0 14h0m0 122h0m0 4h0m0 0h0" stroke="#377EB8"/><rect x="1073.5" y="424" width="13.7" height="133.4" rx="2.9" fill="#4DAF4A"/><path d="M1076 401h0m0 27h0m1-46h0m0 24h0m1-74h0m1 5h0m0 47h0m0 7h0m0 10h0m0 22h0m0 6h0m1-115h0m0 83h0m0 32h0m1-29h0m0 4h0m0 10h0m0 11h0m0 0h0m1-80h0m0 35h0m0 32h0m0 13h0m1-36h0m1 30h0m0 7h0m0 2h0" stroke="#4DAF4A"/><rect x="1081.5" y="424" width="19.2" height="133.4" rx="2.9" fill="#984EA3"/><path d="M1086 370h0m0 42h0m0 16h0m1-60h0m1 33h0m0 5h0m0 15h0m1 2h0m1-38h0m0 7h0m1-19h0m0 32h0m0 21h0m1 2h0m0 1h0m1-78h0m0 46h0m1-40h0m0 58h0m2 5h0m1-11h0m0 19h0" stroke="#984EA3"/><rect x="1095" y="425.3" width="7.2" height="132.1" rx="2.9" fill="#FF7F00"/><path d="M1098 421h0m1-6h0m0 5h0m0 5h0m0 3h0" stroke="#FF7F00"/><rect x="1096.5" y="431.5" width="13.6" height="125.8" rx="2.9" fill="#FFFF33"/><path d="M1100 384h0m0 32h0m0 10h0m1-42h0m0 36h0m0 2h0m0 2h0m0 5h0m1-30h0m0 12h0m0 15h0m1-9h0m0 9h0m1-14h0m0 0h0m0 6h0m0 17h0m1-5h0m0 5h0m2-23h0" stroke="#FFFF33"/><rect x="1104.4" y="437.3" width="10.3" height="120" rx="2.9" fill="#A65628"/><path d="M1108 365h0m0 55h0m0 7h0m0 13h0m1-16h0m0 5h0m1-24h0m0 10h0m0 14h0m0 8h0m0 2h0m1-41h0m0 5h0m0 4h0m0 23h0m0 2h0m0 2h0m0 8h0m1-30h0" stroke="#A65628"/><rect x="1109" y="429.7" width="9.4" height="127.6" rx="2.9" fill="#F781BF"/><path d="M1112 406h0m0 1h0m0 9h0m0 5h0m0 6h0m1-14h0m0 10h0m0 3h0m0 5h0m1-75h0m0 0h0m0 52h0m0 9h0m1 1h0m0 9h0m0 3h0m0 5h0m1-26h0m0 24h0" stroke="#F781BF"/><rect x="1112.8" y="431.5" width="9.9" height="125.8" rx="2.9" fill="#999999"/><path d="M1116 414h0m0 11h0m0 8h0m1-59h0m0 55h0m0 4h0m1-18h0m0 0h0m0 18h0m1-30h0m1-16h0m0 25h0m0 15h0" stroke="#999999"/><rect x="1116.9" y="410.1" width="14.4" height="147.2" rx="2.9" fill="#E41A1C"/><path d="M1120 411h0m0 2h0m1-57h0m0 15h0m0 28h0m0 4h0m0 8h0m0 2h0m1-19h0m0 5h0m1 12h0m0 4h0m1-44h0m0 18h0m0 5h0m0 17h0m1-32h0m0 6h0m0 9h0m0 11h0m0 8h0m0 2h0m1-54h0m0 4h0m0 18h0m0 32h0m1-35h0m0 31h0m0 4h0m1-52h0m0 6h0" stroke="#E41A1C"/><rect x="1125.6" y="429.7" width="9.5" height="127.6" rx="2.9" fill="#377EB8"/><path d="M1128 411h0m1-18h0m0 17h0m0 14h0m1-8h0m0 7h0m0 5h0m0 6h0m1-14h0" stroke="#377EB8"/><rect x="1129.4" y="431.5" width="13.8" height="125.8" rx="2.9" fill="#4DAF4A"/><path d="M1132 418h0m0 17h0m1-73h0m0 72h0m1-49h0m0 6h0m0 41h0m0 2h0m1-26h0m0 25h0m1-51h0m0 9h0m0 38h0m1-37h0m0 19h0m0 6h0m0 5h0m2-26h0m1 24h0m0 4h0m0 5h0" stroke="#4DAF4A"/><rect x="1137.5" y="431.5" width="11.7" height="125.8" rx="2.9" fill="#984EA3"/><path d="M1141 428h0m1-44h0m0 35h0m0 17h0m1-39h0m0 24h0m0 4h0m0 3h0m1-73h0m0 66h0m0 8h0m1-2h0m0 4h0m0 2h0" stroke="#984EA3"/><rect x="1143.5" y="429.7" width="9.1" height="127.6" rx="2.9" fill="#FF7F00"/><path d="M1147 363h0m0 27h0m0 12h0m0 29h0m0 3h0m1-2h0m1-28h0m0 12h0m0 1h0m0 14h0m0 3h0m0 1h0m0 0h0" stroke="#FF7F00"/><rect x="1146.9" y="424" width="18.8" height="133.4" rx="2.9" fill="#FFFF33"/><path d="M1150 425h0m0 1h0m0 2h0m1-43h0m0 31h0m1-33h0m0 9h0m0 20h0m0 12h0m1-35h0m0 32h0m0 8h0m1-26h0m1-30h0m0 42h0m2-26h0m0 26h0m0 0h0m0 2h0m1-23h0m0 23h0m0 6h0m0 3h0m1-16h0m0 9h0m1-8h0m0 4h0m0 0h0m0 11h0m1-33h0m0 14h0m0 15h0m0 0h0m0 1h0m1-16h0m0 13h0m1-9h0m0 5h0m0 8h0" stroke="#FFFF33"/><rect x="1160" y="434.6" width="46.7" height="122.7" rx="2.9" fill="#A65628"/><path d="M1163 407h0m1-41h0m0 41h0m0 24h0m0 4h0m1-16h0m0 12h0m1-12h0m0 7h0m0 3h0m1-47h0m0 17h0m0 17h0m0 10h0m1-12h0m0 10h0m1-17h0m0 15h0m0 2h0m1 15h0m1-16h0m0 8h0m0 7h0m1-28h0m0 5h0m0 2h0m0 11h0m0 6h0m0 6h0m1-53h0m0 21h0m0 5h0m0 21h0m0 3h0m1-49h0m0 47h0m1-29h0m0 7h0m0 17h0m0 4h0m1-66h0m0 42h0m0 10h0m0 1h0m0 1h0m1-10h0m0 15h0m0 3h0m0 5h0m1-45h0m0 13h0m1 16h0m0 6h0m0 0h0m0 3h0m0 1h0m0 3h0m1-3h0m0 6h0m1-15h0m0 8h0m0 4h0m0 4h0m0 0h0m0 0h0m1 0h0m1-80h0m0 74h0m0 0h0m0 7h0m1-12h0m0 3h0m1-7h0m1-15h0m0 0h0m0 27h0m1-23h0m0 21h0m1 0h0m0 7h0m1-50h0m0 20h0m0 24h0m1-38h0m0 37h0m0 6h0m1-49h0m0 4h0m0 38h0m0 1h0m0 0h0m0 4h0m1-2h0m0 2h0m0 4h0m1-17h0m0 6h0m0 8h0m0 0h0m1-25h0m0 26h0m1-20h0m1-40h0m0 8h0m1 25h0m0 1h0m0 4h0m0 9h0m0 1h0m0 1h0m0 3h0m0 1h0m0 8h0m0 2h0m1-137h0m0 39h0m0 67h0m0 3h0m0 9h0m0 9h0m0 8h0m1-9h0m0 9h0m1-23h0m0 9h0m0 14h0m1-6h0m0 0h0m0 0h0m0 6h0m1-27h0m0 17h0m0 3h0m0 5h0m0 0h0m0 3h0m1-7h0m0 7h0m1-36h0m0 37h0" stroke="#A65628"/><rect x="1201" y="432" width="23.7" height="125.4" rx="2.9" fill="#F781BF"/><path d="M1204 369h0m1 34h0m0 30h0m1-14h0m0 13h0m0 5h0m1-51h0m0 51h0m2-44h0m0 12h0m0 15h0m0 4h0m1 11h0m0 0h0m0 2h0m1-5h0m0 3h0m1-52h0m0 45h0m0 7h0m0 2h0m2-171h0m0 2h0m0 145h0m0 1h0m0 15h0m0 4h0m0 1h0m1-4h0m0 5h0m1-24h0m0 5h0m0 3h0m0 15h0m1-42h0m0 29h0m0 7h0m0 5h0m0 2h0m0 1h0m1-31h0m0 20h0m0 3h0m0 5h0m0 3h0m1-50h0m0 3h0m0 33h0m0 5h0m0 9h0m0 0h0m1-19h0m0 11h0m0 1h0m0 2h0m0 3h0m0 0h0m0 3h0m1-90h0m0 77h0" stroke="#F781BF"/><rect x="1219" y="437.3" width="26.9" height="120" rx="2.9" fill="#999999"/><path d="M1222 422h0m0 11h0m0 7h0m2-25h0m0 18h0m1-1h0m0 9h0m1-48h0m0 33h0m0 4h0m0 4h0m0 1h0m0 4h0m0 1h0m0 2h0m1-71h0m0 33h0m1 19h0m0 12h0m0 1h0m1-44h0m0 3h0m0 15h0m0 16h0m0 10h0m0 2h0m0 3h0m1-26h0m0 9h0m0 5h0m0 4h0m0 9h0m1-43h0m0 39h0m1-48h0m0 33h0m0 8h0m0 0h0m0 8h0m0 2h0m0 1h0m1-55h0m0 15h0m0 8h0m0 18h0m0 2h0m0 4h0m1-11h0m0 3h0m0 1h0m0 13h0m1-12h0m0 9h0m0 2h0m0 1h0m0 2h0m1-11h0m1 2h0m1-18h0m0 8h0m0 6h0m1-51h0m0 55h0m1-48h0m0 50h0m0 2h0m1-32h0m0 33h0m0 1h0m1-52h0m1 48h0" stroke="#999999"/><rect x="1240.2" y="434.2" width="8.5" height="123.1" rx="2.9" fill="#E41A1C"/><path d="M1243 374h0m0 17h0m0 12h0m0 29h0m0 2h0m1-44h0m0 3h0m0 5h0m0 20h0m0 12h0m0 4h0m0 3h0m0 2h0m1-122h0m0 85h0m0 23h0m0 10h0m1-48h0" stroke="#E41A1C"/><rect x="1243.1" y="437.3" width="12.4" height="120" rx="2.9" fill="#377EB8"/><path d="M1246 419h0m0 15h0m1-10h0m0 1h0m0 13h0m1-7h0m1-90h0m0 27h0m0 22h0m1 32h0m0 1h0m0 16h0m0 4h0m2-13h0m1 11h0" stroke="#377EB8"/><rect x="1249.8" y="434.2" width="11.5" height="123.1" rx="2.9" fill="#4DAF4A"/><path d="M1253 417h0m0 9h0m0 3h0m0 5h0m0 3h0m1-16h0m0 6h0m0 8h0m0 1h0m1-34h0m0 19h0m0 15h0m2-30h0m0 3h0m0 7h0m1-19h0m0 5h0" stroke="#4DAF4A"/><rect x="1255.6" y="437.3" width="13.9" height="120" rx="2.9" fill="#984EA3"/><path d="M1259 432h0m2 2h0m1-6h0m1-1h0m0 11h0m0 4h0m1-70h0m0 33h0m0 33h0m0 2h0m1-63h0m0 19h0m0 27h0m0 17h0m0 2h0m1-6h0m0 0h0" stroke="#984EA3"/><rect x="1263.8" y="429.7" width="8.7" height="127.6" rx="2.9" fill="#FF7F00"/><path d="M1267 383h0m0 16h0m0 25h0m0 7h0m0 3h0m0 0h0m0 1h0m1-52h0m1 9h0m0 30h0m0 1h0m0 12h0m1-6h0" stroke="#FF7F00"/><rect x="1266.8" y="418.6" width="30.4" height="138.7" rx="2.9" fill="#FFFF33"/><path d="M1270 371h0m0 5h0m0 16h0m0 18h0m0 5h0m1-72h0m0 64h0m0 6h0m1-30h0m0 27h0m0 6h0m0 6h0m0 2h0m2-38h0m0 1h0m0 16h0m0 1h0m0 8h0m0 5h0m0 4h0m1-39h0m0 23h0m1-10h0m0 12h0m0 5h0m0 4h0m0 2h0m1-43h0m0 10h0m0 15h0m0 20h0m0 3h0m1-7h0m0 1h0m1-27h0m0 9h0m0 8h0m0 13h0m0 0h0m1-23h0m0 3h0m0 9h0m0 6h0m1-18h0m0 17h0m0 8h0m1-126h0m0 5h0m0 93h0m0 30h0m1-96h0m0 48h0m0 8h0m0 36h0m1 2h0m0 2h0m1-16h0m0 4h0m0 1h0m0 8h0m1-86h0m0 67h0m0 1h0m0 18h0m1-47h0m0 45h0m1-37h0m0 12h0m0 22h0m0 6h0m1-58h0m0 7h0m0 32h0m0 19h0m0 2h0m1-36h0m0 29h0m0 4h0m1-9h0m1-77h0m0 70h0m0 10h0m1-57h0m0 43h0m1-4h0m0 5h0m0 3h0m0 3h0m0 6h0" stroke="#FFFF33"/><rect x="1291.5" y="437.3" width="15.5" height="120" rx="2.9" fill="#A65628"/><path d="M1295 427h0m0 11h0m1-28h0m0 4h0m0 1h0m0 6h0m0 9h0m0 5h0m1-34h0m0 29h0m0 4h0m0 5h0m1-33h0m0 19h0m0 6h0m0 6h0m1-10h0m2 4h0m0 3h0m0 2h0m0 1h0m0 1h0m1-5h0m0 0h0m0 1h0m0 4h0m1-42h0" stroke="#A65628"/><rect x="1301.3" y="429.7" width="7.7" height="127.6" rx="2.9" fill="#F781BF"/><path d="M1304 429h0m1-23h0m0 2h0m0 5h0m0 16h0m0 4h0m1-67h0m0 14h0m0 14h0m0 14h0m0 15h0m0 6h0m0 5h0" stroke="#F781BF"/><rect x="1303.3" y="429.7" width="11" height="127.6" rx="2.9" fill="#999999"/><path d="M1306 378h0m0 53h0m1-53h0m1-3h0m0 24h0m0 11h0m0 5h0m0 4h0m0 2h0m0 2h0m0 2h0m0 7h0m0 2h0m1-15h0m0 1h0m0 12h0m1-33h0m0 15h0m1-7h0m0 27h0" stroke="#999999"/><rect x="1308.6" y="420.8" width="29.9" height="136.5" rx="2.9" fill="#E41A1C"/><path d="M1312 415h0m0 3h0m0 3h0m1-47h0m0 22h0m0 15h0m0 6h0m0 8h0m1 1h0m1-32h0m1-4h0m0 7h0m1-20h0m0 7h0m0 20h0m0 14h0m1-47h0m0 17h0m0 22h0m0 4h0m0 2h0m0 3h0m0 6h0m1-22h0m0 3h0m0 16h0m1-44h0m0 41h0m0 3h0m0 2h0m1-60h0m0 35h0m0 4h0m0 19h0m0 2h0m1-64h0m0 49h0m0 6h0m1-4h0m0 11h0m0 2h0m1-3h0m0 4h0m1-32h0m0 29h0m1-59h0m0 15h0m0 5h0m0 2h0m0 20h0m0 20h0m1-36h0m0 1h0m0 22h0m0 3h0m0 0h0m1-1h0m1-67h0m0 29h0m0 11h0m1 11h0m0 7h0m0 21h0m1-63h0m0 24h0m0 36h0m0 2h0m1-45h0m0 24h0m0 1h0m0 9h0m0 8h0m0 2h0m0 1h0m1-11h0m0 0h0m0 5h0m0 3h0m0 1h0m1-23h0m1-30h0m0 45h0m0 6h0" stroke="#E41A1C"/><rect x="1332.8" y="432" width="19.3" height="125.4" rx="2.9" fill="#377EB8"/><path d="M1336 416h0m0 13h0m0 5h0m1-50h0m0 39h0m1-23h0m0 31h0m0 2h0m1-25h0m0 12h0m0 7h0m0 3h0m0 5h0m0 1h0m1-25h0m1-112h0m0 87h0m0 3h0m0 10h0m0 36h0m1-58h0m0 22h0m0 11h0m0 3h0m0 5h0m0 7h0m0 4h0m1-13h0m0 11h0m0 7h0m1-34h0m0 32h0m1-48h0m0 28h0m0 14h0m0 11h0m1-5h0m1-28h0m0 26h0m1-35h0m0 21h0m0 0h0m0 12h0m0 7h0m0 0h0m0 1h0m1-52h0m0 46h0" stroke="#377EB8"/><rect x="1346.4" y="437.3" width="12.8" height="120" rx="2.9" fill="#4DAF4A"/><path d="M1350 299h0m0 129h0m1-16h0m0 22h0m0 6h0m1-2h0m1-61h0m0 24h0m0 9h0m0 18h0m1-3h0m0 0h0m0 10h0m1-67h0m0 65h0m1-22h0m0 7h0m0 0h0m0 13h0m0 2h0" stroke="#4DAF4A"/><rect x="1353.5" y="415.5" width="25.1" height="141.9" rx="2.9" fill="#984EA3"/><path d="M1356 383h0m0 28h0m1-18h0m0 1h0m0 8h0m0 8h0m0 6h0m0 3h0m1-13h0m0 8h0m2-30h0m0 26h0m0 1h0m0 2h0m1-59h0m0 49h0m0 11h0m0 5h0m0 0h0m1-5h0m0 1h0m0 2h0m1-55h0m0 50h0m0 6h0m1-5h0m0 2h0m1-13h0m0 13h0m1 2h0m1-38h0m0 5h0m0 12h0m0 23h0m1-7h0m0 8h0m1-21h0m0 21h0m1-123h0m0 112h0m1-9h0m0 2h0m0 2h0m0 0h0m0 6h0m0 9h0m1-27h0m0 24h0m0 2h0m1-35h0m0 7h0m0 5h0m1-12h0m0 10h0m0 2h0m0 17h0m0 2h0m0 1h0m0 3h0m1-5h0m0 2h0m0 1h0" stroke="#984EA3"/><rect x="1372.9" y="425.3" width="7.3" height="132.1" rx="2.9" fill="#FF7F00"/><path d="M1376 392h0m0 16h0m0 20h0m0 3h0m1-19h0" stroke="#FF7F00"/><rect x="1374.5" y="424" width="23.8" height="133.4" rx="2.9" fill="#FFFF33"/><path d="M1378 395h0m0 18h0m0 0h0m0 3h0m0 2h0m1-84h0m0 82h0m0 12h0m1-24h0m0 11h0m0 5h0m0 3h0m0 2h0m1-33h0m0 1h0m1 17h0m0 10h0m0 2h0m0 7h0m1-44h0m0 17h0m0 12h0m0 6h0m0 1h0m0 7h0m0 0h0m1-19h0m0 6h0m1-19h0m0 13h0m0 3h0m0 7h0m1-53h0m0 35h0m0 2h0m0 21h0m0 3h0m1-71h0m0 40h0m0 21h0m0 6h0m0 3h0m0 2h0m0 1h0m1-74h0m0 70h0m0 1h0m1-58h0m0 50h0m0 10h0m0 0h0m1-1h0m1-27h0m0 3h0m0 9h0m0 5h0m1-45h0m0 33h0m0 5h0m0 1h0m0 12h0m0 6h0m0 0h0m1-24h0m0 18h0m0 3h0m0 2h0m1-43h0m0 23h0m0 17h0m1-26h0m0 23h0" stroke="#FFFF33"/><rect x="1392.6" y="429.7" width="10.3" height="127.6" rx="2.9" fill="#A65628"/><path d="M1396 387h0m0 19h0m0 26h0m1-63h0m0 16h0m0 48h0m1-16h0m0 9h0m1-27h0m0 15h0m0 9h0m1-10h0m0 5h0m0 2h0" stroke="#A65628"/><rect x="1397.2" y="429.7" width="7.9" height="127.6" rx="2.9" fill="#F781BF"/><path d="M1400 376h0m0 16h0m1-21h0m0 32h0m1 28h0m0 2h0" stroke="#F781BF"/><rect x="1399.4" y="429.7" width="9.4" height="127.6" rx="2.9" fill="#999999"/><path d="M1403 393h0m0 19h0m0 12h0m0 11h0m1-56h0m0 24h0m0 1h0m0 7h0m0 20h0m1-36h0m0 7h0m0 26h0m0 5h0m1 0h0" stroke="#999999"/><rect x="1403.1" y="429.7" width="7" height="127.6" rx="2.9" fill="#E41A1C"/><path d="M1407 398h0m0 16h0m0 12h0m0 7h0" stroke="#E41A1C"/><rect x="1404.4" y="429.7" width="8.6" height="127.6" rx="2.9" fill="#377EB8"/><path d="M1408 398h0m0 28h0m0 9h0m1-133h0m0 93h0m0 22h0m0 8h0m0 3h0m0 3h0m1-2h0" stroke="#377EB8"/><rect x="1407.3" y="429.7" width="9.1" height="127.6" rx="2.9" fill="#4DAF4A"/><path d="M1410 430h0m1-7h0m0 2h0m1-9h0m0 9h0m1-15h0m0 3h0" stroke="#4DAF4A"/><rect x="1410.7" y="429.7" width="7.9" height="127.6" rx="2.9" fill="#984EA3"/><path d="M1414 360h0m0 68h0m1-47h0m0 29h0m0 9h0m0 4h0m0 3h0m1-61h0" stroke="#984EA3"/><rect x="1412.9" y="424" width="9.9" height="133.4" rx="2.9" fill="#FF7F00"/><path d="M1416 364h0m0 52h0m1-36h0m0 25h0m1 11h0m0 11h0m1-83h0m0 74h0m1 0h0" stroke="#FF7F00"/></g><path d="M181.4 44.8V574.1H1467" fill="none" stroke="#8a8a8a" stroke-width="2.3" stroke-linejoin="round"/><path d="M181.4 554.5V109M171.9 554.5H181.4M171.9 465.4H181.4M171.9 376.3H181.4M171.9 287.2H181.4M171.9 198.1H181.4M171.9 109H181.4M243 574.1H1418.1M243 574.1v9.8M273.8 574.1v9.8M301.8 574.1v9.8M309 574.1v9.8M332 574.1v9.8M358.2 574.1v9.8M377.5 574.1v9.8M408.2 574.1v9.8M450.8 574.1v9.8M482 574.1v9.8M504.3 574.1v9.8M512 574.1v9.8M525.6 574.1v9.8M543.7 574.1v9.8M553.8 574.1v9.8M559.1 574.1v9.8M565.2 574.1v9.8M581 574.1v9.8M597.9 574.1v9.8M631.2 574.1v9.8M646.8 574.1v9.8M658.4 574.1v9.8M664.4 574.1v9.8M670.2 574.1v9.8M679.6 574.1v9.8M694.1 574.1v9.8M713.2 574.1v9.8M723.1 574.1v9.8M734 574.1v9.8M737.8 574.1v9.8M758 574.1v9.8M775.6 574.1v9.8M786.5 574.1v9.8M798 574.1v9.8M821.3 574.1v9.8M843.8 574.1v9.8M851.3 574.1v9.8M866.9 574.1v9.8M891.8 574.1v9.8M903.8 574.1v9.8M906.6 574.1v9.8M915.1 574.1v9.8M933.8 574.1v9.8M952.2 574.1v9.8M962.5 574.1v9.8M986 574.1v9.8M1001.5 574.1v9.8M1015 574.1v9.8M1030 574.1v9.8M1035.2 574.1v9.8M1040.4 574.1v9.8M1044.4 574.1v9.8M1049.1 574.1v9.8M1056.6 574.1v9.8M1065.6 574.1v9.8M1074.1 574.1v9.8M1081.1 574.1v9.8M1089.2 574.1v9.8M1099.4 574.1v9.8M1103.1 574.1v9.8M1110 574.1v9.8M1113.8 574.1v9.8M1117.5 574.1v9.8M1125 574.1v9.8M1130 574.1v9.8M1136.2 574.1v9.8M1142.8 574.1v9.8M1147.9 574.1v9.8M1155.6 574.1v9.8M1184 574.1v9.8M1211.9 574.1v9.8M1232.2 574.1v9.8M1244.8 574.1v9.8M1249 574.1v9.8M1256.2 574.1v9.8M1263.6 574.1v9.8M1268 574.1v9.8M1282.3 574.1v9.8M1301.3 574.1v9.8M1305.3 574.1v9.8M1308.8 574.1v9.8M1320.4 574.1v9.8M1342.4 574.1v9.8M1351.9 574.1v9.8M1365.7 574.1v9.8M1375.9 574.1v9.8M1386.7 574.1v9.8M1397.3 574.1v9.8M1401.2 574.1v9.8M1403.4 574.1v9.8M1406.2 574.1v9.8M1408.5 574.1v9.8M1411.5 574.1v9.8M1414.3 574.1v9.8M1418.1 574.1v9.8" fill="none" stroke="#3c3c3c" stroke-width="2.3" stroke-linecap="round"/><path d="M181.4 287.2H1467" stroke="#666" stroke-width="2.1" stroke-dasharray="6.5 3.03"/><text transform="translate(160,554.5) rotate(-90)" text-anchor="middle" class="tl">0</text><text transform="translate(160,465.4) rotate(-90)" text-anchor="middle" class="tl">2</text><text transform="translate(160,376.3) rotate(-90)" text-anchor="middle" class="tl">4</text><text transform="translate(160,287.2) rotate(-90)" text-anchor="middle" class="tl">6</text><text transform="translate(160,198.1) rotate(-90)" text-anchor="middle" class="tl">8</text><text transform="translate(160,109) rotate(-90)" text-anchor="middle" class="tl">10</text><text x="243" y="643.6" text-anchor="middle" class="tl">KZ288185.1</text><text x="450.8" y="643.6" text-anchor="middle" class="tl">KZ288193.1</text><text x="646.8" y="643.6" text-anchor="middle" class="tl">KZ288205.1</text><text x="843.8" y="643.6" text-anchor="middle" class="tl">KZ288220.1</text><text x="1035.2" y="643.6" text-anchor="middle" class="tl">KZ288234.1</text><text x="1232.2" y="643.6" text-anchor="middle" class="tl">KZ288256.1</text><text transform="translate(50.2,419.1) rotate(-90)" class="yl"><tspan class="d1" dy="1.65">&#8211;</tspan><tspan dx="1.5" dy="-1.65">log10(P)</tspan></text><path d="M1713.7 554.5 L1716.1 552.9 L1718.4 551.3 L1720.8 549.7 L1723.2 548.1 L1725.6 546.5 L1727.9 544.9 L1730.3 543.3 L1732.7 541.6 L1735.1 540 L1737.4 538.4 L1739.8 536.8 L1742.2 535.2 L1744.5 533.6 L1746.9 532 L1749.3 530.4 L1751.7 528.9 L1754 527.3 L1756.4 525.7 L1758.8 524.1 L1761.2 522.6 L1763.5 521 L1765.9 519.5 L1768.3 517.9 L1770.6 516.4 L1773 514.8 L1775.4 513.2 L1777.8 511.7 L1780.1 510.1 L1782.5 508.5 L1784.9 506.9 L1787.3 505.3 L1789.6 503.7 L1792 502.1 L1794.4 500.4 L1796.7 498.8 L1799.1 497.1 L1801.5 495.5 L1803.8 493.8 L1806.2 492.1 L1808.6 490.4 L1810.9 488.7 L1813.3 487 L1815.7 485.3 L1818 483.6 L1820.4 481.9 L1822.8 480.2 L1825.1 478.5 L1827.5 476.8 L1829.9 475.2 L1832.4 473.4 L1834.9 471.6 L1837.4 469.8 L1839.9 468 L1842.4 466.2 L1844.9 464.5 L1847.4 462.7 L1849.9 460.9 L1852.4 459.1 L1854.9 457.3 L1857.4 455.4 L1859.9 453.6 L1862.4 451.8 L1865 450 L1867.5 448.1 L1870 446.3 L1872.5 444.5 L1875 442.6 L1877.5 440.7 L1880 438.9 L1882.5 437 L1885 435.1 L1887.5 433.3 L1890 431.4 L1892.5 429.5 L1895 427.6 L1897.5 425.7 L1900 423.7 L1902.5 421.6 L1905 419.5 L1907.5 417.3 L1910 415 L1912.5 412.7 L1915 410.2 L1917.5 407.7 L1920 405.2 L1922.5 402.6 L1925 399.9 L1927.5 397 L1930 394 L1932.5 391 L1935 388 L1937.5 384.9 L1940 381.8 L1942.6 378.8 L1945.1 375.9 L1947.6 373.1 L1949.9 370.5 L1952.2 368 L1954.6 365.4 L1956.9 362.9 L1959.2 360.4 L1961.6 358 L1963.9 355.6 L1966.2 353.2 L1968.6 350.8 L1970.9 348.5 L1973.2 346.2 L1975.6 344 L1977.9 341.8 L1980.2 339.7 L1982.5 337.6 L1984.9 335.7 L1987.2 333.8 L1989.5 332 L1991.9 330.3 L1994.2 328.6 L1996.5 326.8 L1998.9 325.1 L2001.2 323.4 L2003.5 321.6 L2005.9 319.7 L2008.2 317.8 L2010.5 315.7 L2012.9 313.6 L2015.5 310.8 L2018.2 307.9 L2020.8 304.7 L2023.5 301.5 L2026.2 298.5 L2028.8 295.7 L2031.5 293.1 L2034.1 290.6 L2036.8 288.3 L2039.4 285.9 L2042.1 283.6 L2044.8 281.1 L2047.1 278.9 L2049.5 276.7 L2051.9 274.4 L2054.3 272.1 L2056.7 269.8 L2059.1 267.5 L2061.5 265.2 L2064 262.6 L2066.6 260.1 L2069.2 257.5 L2071.8 254.9 L2074.4 252.1 L2077.4 248.7 L2080.4 245.1 L2083.5 241.5" fill="none" stroke="#0000FF" stroke-width="13.5" stroke-linecap="round" stroke-linejoin="round"/><path d="M2087.3 223.6h0M2090.3 219.7h0M2093.3 216.8h0M2095.6 214.4h0M2097.9 169.9h0M2097.1 66.3h0M2100.9 66.3h0M2104.7 66.3h0M2108.5 66.3h0M2112.3 66.3h0M2116.1 66.3h0M2119.9 66.3h0M2123.7 66.3h0M2127.5 66.3h0M2139.7 65.8h0M2150.7 65.4h0M2167.5 64.9h0M2203.9 64.9h0" stroke="#0000FF" stroke-width="11.2" stroke-linecap="round"/><path d="M1694.1 567L2223.8 229.5" stroke="#FF0000" stroke-opacity="0.62" stroke-width="1.7"/><rect x="1694.1" y="44.8" width="529.7" height="529.3" fill="none" stroke="#8a8a8a" stroke-width="2.3" stroke-linejoin="round"/><path d="M1694.1 554.5V70.7M1684.6 554.5H1694.1M1684.6 457.7H1694.1M1684.6 361H1694.1M1684.6 264.2H1694.1M1684.6 167.4H1694.1M1684.6 70.7H1694.1M1713.7 574.1H2169.3M1713.7 574.1v9.5M1789.6 574.1v9.5M1865.6 574.1v9.5M1941.5 574.1v9.5M2017.4 574.1v9.5M2093.3 574.1v9.5M2169.3 574.1v9.5" fill="none" stroke="#3c3c3c" stroke-width="2.3" stroke-linecap="round"/><text transform="translate(1672.5,554.5) rotate(-90)" text-anchor="middle" class="tl">0</text><text transform="translate(1672.5,457.7) rotate(-90)" text-anchor="middle" class="tl">2</text><text transform="translate(1672.5,361) rotate(-90)" text-anchor="middle" class="tl">4</text><text transform="translate(1672.5,264.2) rotate(-90)" text-anchor="middle" class="tl">6</text><text transform="translate(1672.5,167.4) rotate(-90)" text-anchor="middle" class="tl">8</text><text transform="translate(1672.5,70.7) rotate(-90)" text-anchor="middle" class="tl">10</text><text x="1713.7" y="606.6" text-anchor="middle" class="tl">0</text><text x="1789.6" y="606.6" text-anchor="middle" class="tl">1</text><text x="1865.6" y="606.6" text-anchor="middle" class="tl">2</text><text x="1941.5" y="606.6" text-anchor="middle" class="tl">3</text><text x="2017.4" y="606.6" text-anchor="middle" class="tl">4</text><text x="2093.3" y="606.6" text-anchor="middle" class="tl">5</text><text x="2169.3" y="606.6" text-anchor="middle" class="tl">6</text><text x="1958.5" y="640.4" text-anchor="middle" class="al">Expected <tspan class="d2" dx="2" dy="1.5">&#8211;</tspan><tspan dx="1" dy="-1.5">log10(p)</tspan></text><text transform="translate(1636.5,309.5) rotate(-90)" text-anchor="middle" class="al">Observed -log10(p)</text><text x="20.2" y="80" class="lt">F</text><g class="pts"><rect x="226" y="947.5" width="32.2" height="221.8" rx="2.9" fill="#E41A1C"/><path d="M229 929h0m1-39h0m0 32h0m0 0h0m0 3h0m0 12h0m0 18h0m0 1h0m0 1h0m1-44h0m0 8h0m0 28h0m0 3h0m0 5h0m1-91h0m0 68h0m0 11h0m0 12h0m0 0h0m1-85h0m0 49h0m0 8h0m0 12h0m0 15h0m1-72h0m0 30h0m0 28h0m0 11h0m0 0h0m0 0h0m1-33h0m0 8h0m0 1h0m0 10h0m0 6h0m0 10h0m1-70h0m0 8h0m0 25h0m0 23h0m0 10h0m0 1h0m1-62h0m0 13h0m0 29h0m0 2h0m0 2h0m0 6h0m0 12h0m1-83h0m0 19h0m0 54h0m0 2h0m0 6h0m1-16h0m0 8h0m0 3h0m0 6h0m1-58h0m0 41h0m1 12h0m1-25h0m0 10h0m0 6h0m0 13h0m1-84h0m0 56h0m0 20h0m0 5h0m0 0h0m0 6h0m0 2h0m1-27h0m0 5h0m0 19h0m0 0h0m1-25h0m0 13h0m0 11h0m1-105h0m0 65h0m0 20h0m0 13h0m0 10h0m1-52h0m0 48h0m0 0h0m1-101h0m0 78h0m0 28h0m1-62h0m0 51h0m0 0h0m1-29h0m0 6h0m0 11h0m1 0h0m0 1h0m0 5h0m0 3h0m0 3h0m0 7h0m0 3h0m0 1h0m1-61h0m0 18h0m0 29h0m0 8h0m1-65h0m0 20h0m0 5h0m0 32h0m0 3h0m0 1h0m0 0h0m0 5h0m0 5h0m1-54h0m0 43h0m0 8h0m1-41h0" stroke="#E41A1C"/><rect x="252.5" y="967.9" width="46.2" height="201.3" rx="2.9" fill="#377EB8"/><path d="M255 928h0m0 16h0m1 8h0m0 17h0m0 3h0m0 1h0m0 2h0m1-26h0m0 19h0m0 0h0m0 6h0m0 1h0m0 0h0m0 2h0m1-46h0m0 16h0m0 25h0m0 4h0m1-57h0m0 36h0m0 15h0m0 2h0m1-26h0m0 7h0m0 18h0m0 5h0m0 0h0m1-97h0m0 47h0m0 30h0m0 1h0m0 2h0m0 13h0m0 2h0m0 1h0m1-15h0m0 3h0m0 8h0m1-20h0m0 11h0m0 1h0m0 6h0m1-105h0m0 77h0m0 13h0m0 7h0m0 6h0m0 7h0m0 1h0m1-65h0m0 45h0m1-6h0m0 16h0m0 1h0m0 9h0m0 3h0m1-64h0m0 36h0m0 3h0m0 11h0m0 11h0m0 0h0m0 2h0m1-85h0m0 57h0m0 1h0m0 14h0m0 0h0m0 1h0m0 6h0m1-9h0m0 13h0m0 2h0m1-63h0m0 15h0m0 14h0m0 29h0m0 1h0m0 2h0m1-43h0m0 6h0m0 7h0m0 32h0m1-69h0m0 9h0m0 36h0m0 4h0m0 6h0m0 1h0m0 4h0m1-60h0m0 13h0m0 17h0m0 10h0m0 11h0m0 7h0m0 10h0m1-41h0m0 15h0m0 21h0m0 4h0m0 2h0m1-118h0m0 83h0m0 5h0m0 4h0m0 8h0m0 11h0m0 4h0m2-48h0m0 15h0m0 15h0m0 11h0m1-14h0m0 20h0m0 4h0m1-78h0m0 71h0m1-50h0m0 19h0m0 19h0m0 7h0m0 11h0m1-88h0m0 32h0m0 51h0m0 0h0m1-21h0m0 6h0m0 9h0m0 8h0m0 1h0m0 4h0m1-36h0m0 19h0m0 4h0m0 5h0m1-40h0m0 22h0m0 7h0m0 3h0m0 3h0m0 7h0m0 3h0m1-73h0m0 50h0m0 1h0m0 2h0m0 18h0m0 2h0m0 0h0m1-47h0m0 38h0m0 7h0m0 4h0m1-136h0m0 98h0m0 3h0m0 15h0m0 1h0m0 1h0m1-87h0m0 40h0m0 52h0m0 7h0m1-139h0m0 87h0m0 16h0m0 1h0m0 13h0m0 3h0m0 1h0m0 24h0m1-42h0m0 22h0m0 1h0m0 12h0m0 1h0m1-29h0m0 2h0m0 23h0m0 10h0m1-108h0m0 54h0m0 36h0m0 9h0m0 6h0m0 4h0m1-89h0m0 64h0m0 12h0m0 0h0m0 2h0m0 7h0m1-60h0m0 33h0m0 5h0m0 19h0m0 6h0m1-58h0m0 24h0m0 10h0m0 17h0m0 5h0m1-119h0m0 120h0" stroke="#377EB8"/><rect x="293" y="952.4" width="15.7" height="216.9" rx="2.9" fill="#4DAF4A"/><path d="M296 931h0m0 3h0m0 12h0m0 7h0m1-86h0m0 30h0m0 18h0m0 13h0m0 31h0m0 3h0m1-79h0m0 16h0m0 53h0m0 6h0m0 0h0m1-29h0m0 18h0m0 0h0m0 13h0m0 2h0m1-18h0m0 4h0m0 6h0m0 4h0m0 1h0m1-35h0m0 12h0m0 11h0m0 14h0m0 1h0m1-33h0m0 7h0m0 0h0m0 5h0m0 14h0m0 3h0m1-42h0m0 10h0m0 24h0m0 1h0m1-11h0m0 11h0m1-41h0m0 26h0m0 19h0m0 4h0m1-47h0m0 13h0m0 19h0m0 3h0" stroke="#4DAF4A"/><rect x="303" y="962.5" width="11.7" height="206.7" rx="2.9" fill="#984EA3"/><path d="M306 919h0m0 31h0m1 8h0m0 7h0m0 4h0m1-12h0m0 14h0m0 1h0m1-53h0m0 34h0m0 9h0m0 4h0m1-31h0m0 19h0m0 1h0m0 8h0m0 5h0m0 4h0m1-54h0m0 3h0m0 27h0m0 5h0m0 3h0m0 6h0m1-12h0m0 20h0" stroke="#984EA3"/><rect x="309" y="957.3" width="44.7" height="212" rx="2.9" fill="#FF7F00"/><path d="M312 893h0m0 57h0m0 4h0m0 7h0m0 2h0m1-90h0m0 50h0m0 36h0m1-65h0m0 46h0m0 9h0m0 4h0m0 10h0m1-26h0m0 18h0m0 12h0m1-76h0m0 25h0m0 17h0m0 2h0m0 1h0m0 8h0m0 2h0m0 5h0m0 1h0m0 6h0m0 2h0m0 6h0m1-79h0m0 36h0m0 5h0m0 8h0m0 4h0m0 21h0m1-32h0m0 33h0m0 0h0m1-36h0m0 8h0m0 17h0m1-82h0m0 62h0m0 24h0m0 11h0m1-69h0m0 17h0m0 33h0m1-34h0m0 18h0m0 11h0m0 8h0m0 13h0m0 4h0m1-65h0m0 1h0m0 35h0m0 11h0m0 9h0m0 2h0m0 4h0m0 3h0m1-9h0m1-83h0m0 62h0m0 26h0m0 0h0m0 1h0m0 2h0m0 0h0m1-26h0m0 6h0m0 0h0m0 8h0m0 5h0m0 1h0m0 0h0m0 7h0m1-63h0m0 13h0m0 36h0m0 13h0m1-1h0m0 1h0m1-115h0m0 39h0m0 2h0m0 59h0m0 11h0m0 1h0m1-90h0m0 41h0m0 6h0m0 12h0m0 22h0m0 2h0m0 2h0m0 8h0m0 1h0m1-97h0m0 67h0m0 13h0m0 14h0m1-109h0m0 48h0m0 15h0m0 20h0m0 1h0m0 4h0m0 10h0m1-5h0m0 13h0m0 0h0m0 3h0m0 2h0m1-79h0m0 53h0m0 6h0m0 2h0m0 14h0m1-85h0m0 60h0m0 1h0m0 5h0m0 16h0m0 1h0m1-28h0m0 21h0m0 5h0m0 1h0m0 0h0m0 3h0m1-40h0m0 11h0m0 13h0m0 9h0m0 7h0m1-33h0m0 29h0m1-61h0m0 21h0m0 5h0m1-20h0m0 22h0m0 4h0m1-17h0m0 3h0m0 12h0m0 32h0m1-42h0m0 23h0m0 11h0m1-131h0m0 90h0m0 20h0m0 14h0m0 8h0m0 0h0m1-26h0m0 15h0m0 22h0m1-38h0m1 9h0m0 8h0m1-37h0m0 33h0m0 19h0m1-64h0m0 12h0m0 14h0m0 8h0m0 20h0m0 11h0m0 5h0m0 0h0m0 1h0m1-41h0m0 22h0m0 8h0m0 0h0m0 6h0m1-126h0m0 76h0m0 42h0m0 0h0m0 3h0m0 6h0m0 1h0m0 0h0m1-55h0" stroke="#FF7F00"/><rect x="348" y="949.9" width="23.7" height="219.3" rx="2.9" fill="#FFFF33"/><path d="M351 944h0m0 11h0m1-80h0m0 0h0m0 32h0m0 17h0m0 5h0m0 11h0m0 13h0m1-31h0m0 14h0m0 12h0m0 4h0m1-25h0m0 2h0m0 15h0m0 7h0m1-29h0m0 36h0m1-80h0m0 44h0m0 8h0m0 7h0m0 4h0m0 14h0m0 3h0m1-62h0m0 12h0m0 12h0m0 18h0m0 1h0m0 13h0m1-10h0m1-71h0m0 69h0m1-41h0m0 17h0m0 38h0m0 0h0m1-84h0m0 47h0m0 22h0m0 12h0m1 2h0m1-44h0m0 1h0m1 12h0m0 6h0m0 2h0m0 10h0m0 8h0m1-39h0m0 24h0m0 16h0m1-71h0m0 17h0m0 22h0m0 17h0m0 4h0m0 16h0m0 5h0m1-82h0m0 55h0m0 13h0m0 9h0m0 4h0m1-19h0m0 10h0m0 3h0" stroke="#FFFF33"/><rect x="366" y="975.3" width="23.7" height="194" rx="2.9" fill="#A65628"/><path d="M369 937h0m0 21h0m1-28h0m0 21h0m0 15h0m0 8h0m0 0h0m0 5h0m1-55h0m0 21h0m0 29h0m0 1h0m0 1h0m1-27h0m0 4h0m0 6h0m0 10h0m0 11h0m1-34h0m0 5h0m0 27h0m1-20h0m0 18h0m0 2h0m0 3h0m1-68h0m0 23h0m0 27h0m0 8h0m0 11h0m1-54h0m0 47h0m1-50h0m0 11h0m0 9h0m0 4h0m0 16h0m0 4h0m0 2h0m0 10h0m1-44h0m0 19h0m0 3h0m0 0h0m0 7h0m0 8h0m1-46h0m0 34h0m0 10h0m0 4h0m1-13h0m0 1h0m0 7h0m0 12h0m0 0h0m1-40h0m0 5h0m0 15h0m0 7h0m0 8h0m0 7h0m1-39h0m0 3h0m0 12h0m0 7h0m1-55h0m0 23h0m0 12h0m1-16h0m0 13h0m0 12h0m0 9h0m0 9h0m0 1h0m0 2h0m0 2h0m0 5h0m1-18h0m0 9h0m0 1h0m1-42h0m0 8h0m0 7h0m0 8h0m0 12h0m0 7h0m0 5h0m0 2h0m0 0h0m1-17h0m0 2h0" stroke="#A65628"/><rect x="384" y="977.7" width="48.5" height="191.5" rx="2.9" fill="#F781BF"/><path d="M387 943h0m0 14h0m1 13h0m0 11h0m0 5h0m0 1h0m1-46h0m0 28h0m0 4h0m0 6h0m1-17h0m0 6h0m0 11h0m0 5h0m0 0h0m2-74h0m0 53h0m0 5h0m0 17h0m1-75h0m0 26h0m0 1h0m0 1h0m0 21h0m0 10h0m0 12h0m0 4h0m1-227h0m0 33h0m0 165h0m0 22h0m0 4h0m0 3h0m1-65h0m0 52h0m0 13h0m1-19h0m0 5h0m0 7h0m0 4h0m0 4h0m1-51h0m0 8h0m0 30h0m0 2h0m0 1h0m0 1h0m0 8h0m1-55h0m0 16h0m1 15h0m0 8h0m0 4h0m0 2h0m0 4h0m0 7h0m0 1h0m1-18h0m0 9h0m0 4h0m1-36h0m0 12h0m0 15h0m0 3h0m0 1h0m1-94h0m0 59h0m0 7h0m0 6h0m0 13h0m1-22h0m0 11h0m0 1h0m0 6h0m0 1h0m0 5h0m1-14h0m0 1h0m0 18h0m0 11h0m1-26h0m0 12h0m0 8h0m1-29h0m0 11h0m0 3h0m0 18h0m0 1h0m1-28h0m0 4h0m0 4h0m0 8h0m0 8h0m0 1h0m1-156h0m0 144h0m0 7h0m1-18h0m0 6h0m0 15h0m0 7h0m1-74h0m0 49h0m0 2h0m0 14h0m0 1h0m0 2h0m0 1h0m0 1h0m0 2h0m0 2h0m1-43h0m0 1h0m0 39h0m0 1h0m0 3h0m1-43h0m0 20h0m0 5h0m1-20h0m0 36h0m1-63h0m0 42h0m0 9h0m0 6h0m0 1h0m0 0h0m0 3h0m1-40h0m1-36h0m0 1h0m0 59h0m0 6h0m0 11h0m1-104h0m0 27h0m1-2h0m0 11h0m0 36h0m0 10h0m1-15h0m0 0h0m0 18h0m0 3h0m0 19h0m1-45h0m0 13h0m0 16h0m0 5h0m1-36h0m0 13h0m1-20h0m1 26h0m0 12h0m0 7h0m0 1h0m1-46h0m0 12h0m0 25h0m0 5h0m0 7h0m1-115h0m0 55h0m0 38h0m0 19h0m0 1h0m0 5h0m1-41h0m0 14h0m0 11h0m0 6h0m0 6h0m1-62h0m0 30h0m0 18h0m0 9h0m0 0h0m0 9h0m1-14h0m0 6h0m0 5h0m0 4h0m1-49h0m0 11h0m0 11h0m0 24h0m0 1h0m1-35h0" stroke="#F781BF"/><rect x="426.8" y="957.3" width="46.5" height="212" rx="2.9" fill="#999999"/><path d="M430 915h0m0 33h0m1-5h0m1-13h0m0 19h0m0 14h0m1-30h0m0 28h0m0 1h0m1-12h0m1-45h0m0 19h0m0 9h0m0 6h0m0 4h0m0 4h0m0 1h0m0 2h0m0 9h0m1-100h0m0 49h0m0 23h0m0 7h0m0 11h0m0 0h0m0 11h0m0 1h0m1-17h0m0 4h0m0 0h0m1 6h0m0 8h0m0 0h0m1-3h0m0 4h0m0 1h0m0 0h0m1-57h0m0 34h0m0 10h0m1-53h0m0 6h0m0 1h0m0 20h0m1-21h0m0 35h0m0 15h0m0 9h0m0 2h0m0 1h0m1-17h0m0 1h0m1 1h0m0 2h0m1-77h0m0 40h0m0 2h0m0 20h0m0 2h0m0 6h0m0 17h0m1-71h0m0 70h0m1-47h0m0 38h0m0 11h0m1-28h0m0 9h0m0 7h0m0 4h0m0 7h0m1-30h0m0 1h0m0 2h0m0 23h0m1-38h0m0 1h0m0 9h0m0 1h0m0 26h0m0 3h0m2-43h0m0 15h0m0 20h0m0 2h0m0 8h0m0 3h0m1-30h0m0 12h0m0 4h0m0 12h0m1-20h0m0 2h0m0 6h0m0 6h0m0 5h0m0 1h0m0 1h0m0 1h0m0 0h0m1-64h0m0 33h0m0 25h0m0 4h0m1-100h0m0 42h0m0 26h0m0 11h0m0 8h0m0 15h0m1-56h0m0 38h0m0 6h0m1-67h0m0 21h0m0 55h0m0 0h0m0 4h0m1-77h0m0 31h0m0 3h0m0 4h0m0 20h0m0 4h0m0 3h0m0 3h0m1-36h0m0 27h0m0 7h0m0 0h0m0 7h0m0 3h0m0 0h0m1-56h0m0 11h0m0 26h0m0 13h0m0 5h0m1-122h0m0 116h0m0 3h0m1-24h0m0 20h0m1-3h0m0 0h0m0 11h0m1-49h0m0 10h0m0 12h0m0 2h0m0 10h0m0 5h0m1-82h0m0 49h0m0 17h0m0 16h0m0 2h0m0 6h0m1-78h0m0 50h0m0 21h0m0 10h0m1-61h0m0 17h0m0 33h0m1-23h0m0 5h0m0 6h0m0 20h0m1-6h0m0 5h0m0 1h0" stroke="#999999"/><rect x="467.5" y="964.6" width="32.7" height="204.6" rx="2.9" fill="#E41A1C"/><path d="M470 944h0m1 7h0m0 13h0m0 6h0m0 4h0m1-169h0m0 143h0m0 26h0m1-46h0m0 19h0m0 0h0m0 4h0m0 3h0m0 6h0m0 3h0m0 1h0m0 5h0m1-21h0m0 23h0m0 0h0m0 2h0m1-100h0m0 79h0m0 1h0m0 21h0m0 0h0m1-76h0m0 14h0m0 16h0m0 14h0m0 13h0m0 6h0m0 6h0m0 6h0m1-41h0m0 21h0m0 6h0m0 0h0m0 4h0m0 6h0m1-66h0m0 30h0m0 13h0m0 8h0m0 6h0m0 0h0m0 5h0m0 0h0m1-27h0m0 20h0m0 1h0m1-62h0m0 19h0m0 18h0m0 2h0m0 25h0m0 8h0m1-30h0m0 31h0m1-109h0m0 112h0m1-7h0m0 4h0m0 4h0m1-13h0m0 2h0m0 10h0m0 1h0m0 0h0m0 0h0m1-3h0m1-64h0m0 42h0m0 14h0m1-61h0m0 24h0m0 14h0m0 12h0m0 14h0m1-9h0m0 7h0m1-27h0m0 3h0m0 24h0m0 6h0m1-67h0m0 26h0m0 15h0m0 1h0m0 2h0m0 18h0m1-48h0m0 4h0m1-4h0m0 23h0m0 17h0m1-19h0m0 12h0m0 4h0m0 5h0m1-26h0m0 22h0m0 1h0m1-47h0m0 13h0m0 6h0m0 20h0m0 18h0m1-48h0m0 18h0m0 11h0m0 2h0m0 6h0m1-1h0m0 9h0m0 5h0m0 0h0m0 1h0" stroke="#E41A1C"/><rect x="494.5" y="969.5" width="18.3" height="199.7" rx="2.9" fill="#377EB8"/><path d="M497 948h0m1-22h0m0 11h0m0 10h0m0 4h0m0 2h0m0 5h0m0 4h0m0 5h0m1-29h0m0 29h0m0 7h0m1-54h0m0 39h0m1-14h0m0 34h0m1-46h0m0 37h0m0 5h0m0 2h0m0 2h0m1-75h0m0 52h0m0 5h0m1-36h0m0 34h0m0 12h0m0 8h0m1-47h0m0 14h0m0 1h0m0 7h0m0 18h0m1-65h0m0 30h0m0 9h0m0 13h0m0 7h0m0 1h0m0 8h0m1-75h0m0 12h0m0 30h0m0 15h0m0 15h0m1-38h0m0 16h0m0 13h0m0 2h0m0 3h0m0 1h0m0 1h0m1-85h0m0 68h0m0 14h0m0 2h0m1 9h0" stroke="#377EB8"/><rect x="507.1" y="958.9" width="11.3" height="210.3" rx="2.9" fill="#4DAF4A"/><path d="M510 868h0m1 73h0m0 10h0m0 5h0m0 4h0m0 8h0m1-36h0m0 26h0m1-27h0m0 6h0m0 19h0m1-34h0m0 11h0m0 29h0m1-40h0m0 13h0m0 26h0m0 6h0m0 1h0m1-1h0" stroke="#4DAF4A"/><rect x="512.8" y="947.5" width="25.2" height="221.8" rx="2.9" fill="#984EA3"/><path d="M516 918h0m0 0h0m0 8h0m0 27h0m1-2h0m0 4h0m0 1h0m1-123h0m0 47h0m0 21h0m0 8h0m0 23h0m0 11h0m0 2h0m0 0h0m0 10h0m1-83h0m0 66h0m0 6h0m0 5h0m0 3h0m0 2h0m1-21h0m0 4h0m0 17h0m1-116h0m0 61h0m0 24h0m0 3h0m0 14h0m0 8h0m1-34h0m0 5h0m0 18h0m0 7h0m0 8h0m1-66h0m0 43h0m0 7h0m0 5h0m0 11h0m0 2h0m1-21h0m0 11h0m0 1h0m1-32h0m0 24h0m0 15h0m0 1h0m1-35h0m0 31h0m1-39h0m0 0h0m0 41h0m0 5h0m1-48h0m0 16h0m0 10h0m0 4h0m0 5h0m0 3h0m0 3h0m0 5h0m0 3h0m1-35h0m0 5h0m0 1h0m0 20h0m0 2h0m1-29h0m0 23h0m0 4h0m0 8h0m1-55h0m0 13h0m0 35h0m0 3h0m1-17h0m0 4h0m0 3h0m0 7h0m0 8h0m1-94h0m0 48h0m0 17h0m0 10h0m1-82h0m0 36h0m0 24h0m0 9h0m1-18h0m0 36h0" stroke="#984EA3"/><rect x="532.2" y="964.6" width="20.3" height="204.6" rx="2.9" fill="#FF7F00"/><path d="M535 894h0m0 59h0m0 14h0m1-92h0m0 43h0m0 35h0m1-18h0m0 8h0m0 11h0m0 5h0m0 7h0m0 6h0m1-40h0m0 8h0m0 6h0m0 7h0m0 7h0m0 9h0m0 3h0m0 0h0m0 0h0m1-52h0m0 13h0m0 16h0m0 1h0m0 9h0m1-100h0m0 61h0m0 14h0m0 17h0m0 2h0m0 21h0m1-18h0m1-19h0m0 8h0m0 13h0m0 2h0m0 5h0m0 1h0m0 3h0m0 2h0m1 3h0m1-47h0m0 16h0m0 1h0m0 8h0m0 20h0m1-26h0m0 21h0m1-167h0m0 105h0m0 23h0m0 24h0m0 17h0m0 0h0m0 0h0m1-123h0m0 78h0m0 17h0m0 10h0m0 14h0m0 3h0m1-63h0m0 48h0m0 6h0m0 6h0m0 0h0m1-3h0m0 11h0m0 1h0m1-51h0" stroke="#FF7F00"/><rect x="546.9" y="962.2" width="13.2" height="207.1" rx="2.9" fill="#FFFF33"/><path d="M550 905h0m0 19h0m0 16h0m1 0h0m0 10h0m0 15h0m0 1h0m0 2h0m2-14h0m0 2h0m0 2h0m0 1h0m0 12h0m1-76h0m0 17h0m0 21h0m0 23h0m0 15h0m1-36h0m0 12h0m0 13h0m0 3h0m1-53h0m0 6h0m0 44h0m0 3h0m0 6h0m0 1h0m0 1h0m1-79h0m0 62h0m0 1h0m0 5h0" stroke="#FFFF33"/><rect x="554.4" y="958.1" width="10.9" height="211.1" rx="2.9" fill="#A65628"/><path d="M557 926h0m1 0h0m0 9h0m0 22h0m0 9h0m0 1h0m1-34h0m0 9h0m0 4h0m0 8h0m0 10h0m0 0h0m1-51h0m0 10h0m0 25h0m0 5h0m0 1h0m0 4h0m0 6h0m0 3h0m1-35h0m0 30h0m0 2h0m1-43h0m0 33h0m0 6h0m0 1h0" stroke="#A65628"/><rect x="559.6" y="964.6" width="13.6" height="204.6" rx="2.9" fill="#F781BF"/><path d="M562 968h0m1-31h0m0 4h0m0 16h0m0 2h0m0 9h0m0 5h0m0 1h0m1-94h0m0 59h0m0 11h0m0 2h0m0 6h0m0 1h0m0 4h0m0 4h0m0 6h0m1-33h0m0 20h0m0 3h0m0 4h0m2-89h0m0 70h0m0 11h0m0 1h0m1-32h0m0 14h0m0 2h0m0 5h0m0 10h0m0 9h0m0 3h0m0 1h0m0 1h0m1-51h0m0 26h0m0 14h0m0 3h0m0 2h0m1-18h0m0 16h0" stroke="#F781BF"/><rect x="567.5" y="964.6" width="25.8" height="204.6" rx="2.9" fill="#999999"/><path d="M570 912h0m0 21h0m0 30h0m1-29h0m0 14h0m0 13h0m0 9h0m0 1h0m1-87h0m0 4h0m0 33h0m0 17h0m0 25h0m0 1h0m0 8h0m1-54h0m0 4h0m0 14h0m0 21h0m0 12h0m0 4h0m1-71h0m0 28h0m0 4h0m0 24h0m0 10h0m1-148h0m0 129h0m0 2h0m0 2h0m0 2h0m0 7h0m1-50h0m0 30h0m1-156h0m0 66h0m0 72h0m0 35h0m0 4h0m0 9h0m1-81h0m0 2h0m0 29h0m0 34h0m0 10h0m0 6h0m1-40h0m0 21h0m0 5h0m1 6h0m1-8h0m0 5h0m0 8h0m1-39h0m0 11h0m0 4h0m0 24h0m0 4h0m1-60h0m0 30h0m1-25h0m0 48h0m1-59h0m0 33h0m0 12h0m0 9h0m0 11h0m0 2h0m1-23h0m0 1h0m0 4h0m0 10h0m1-69h0m0 61h0m0 16h0m0 0h0m1-61h0m0 44h0m0 6h0m0 6h0m0 1h0m1-60h0m0 62h0m1-14h0m0 4h0m0 9h0m0 2h0" stroke="#999999"/><rect x="587.6" y="956.1" width="32.1" height="213.1" rx="2.9" fill="#E41A1C"/><path d="M590 929h0m1-58h0m0 74h0m0 14h0m0 3h0m0 1h0m1-27h0m0 7h0m0 12h0m0 5h0m0 1h0m0 1h0m1-57h0m0 18h0m0 8h0m0 7h0m0 17h0m0 9h0m0 1h0m1-168h0m0 133h0m0 13h0m0 12h0m0 5h0m1-53h0m0 16h0m0 9h0m0 14h0m0 6h0m0 8h0m0 3h0m1-52h0m0 31h0m0 10h0m1-37h0m0 30h0m0 16h0m0 2h0m2-27h0m0 12h0m0 9h0m0 1h0m0 4h0m0 0h0m0 1h0m1-25h0m0 3h0m0 7h0m0 8h0m0 8h0m1-42h0m0 11h0m0 13h0m0 6h0m1-52h0m0 14h0m0 2h0m0 10h0m0 23h0m1-81h0m0 40h0m0 48h0m0 2h0m0 4h0m1-43h0m0 9h0m0 8h0m0 6h0m0 12h0m1-28h0m0 19h0m0 12h0m1-6h0m1-24h0m0 30h0m0 1h0m0 4h0m1-51h0m0 13h0m0 30h0m0 11h0m1-43h0m0 18h0m1 11h0m1-25h0m0 21h0m0 1h0m0 1h0m0 8h0m1-26h0m0 13h0m0 19h0m1-50h0m0 31h0m0 3h0m0 1h0m0 8h0m1-24h0m0 16h0m0 13h0m1-9h0m0 5h0m0 1h0m0 3h0m0 3h0m1-51h0m0 13h0m0 4h0m0 20h0m0 14h0" stroke="#E41A1C"/><rect x="614" y="974.9" width="34.6" height="194.3" rx="2.9" fill="#377EB8"/><path d="M617 930h0m0 10h0m0 10h0m0 17h0m1-9h0m0 7h0m0 9h0m1-24h0m0 3h0m0 16h0m0 9h0m0 2h0m1-33h0m0 24h0m1-16h0m0 2h0m0 15h0m0 8h0m1-39h0m0 10h0m0 8h0m0 4h0m0 4h0m0 4h0m0 6h0m1-49h0m0 22h0m0 17h0m0 6h0m0 0h0m0 9h0m1-38h0m0 10h0m0 19h0m0 4h0m1-26h0m0 19h0m0 2h0m0 2h0m1-40h0m0 9h0m0 14h0m0 12h0m0 10h0m1-116h0m0 90h0m0 26h0m0 5h0m1-37h0m0 13h0m0 0h0m0 25h0m1-68h0m0 8h0m0 13h0m0 46h0m1-32h0m0 33h0m1-27h0m0 3h0m0 1h0m0 0h0m0 1h0m0 15h0m0 5h0m1-84h0m0 38h0m0 46h0m0 1h0m1-78h0m0 41h0m0 13h0m0 4h0m1-45h0m0 56h0m0 3h0m1-41h0m0 20h0m0 4h0m0 1h0m0 2h0m0 4h0m1-30h0m0 27h0m1-32h0m0 5h0m0 29h0m0 5h0m1-19h0m0 20h0m0 0h0m0 10h0m0 2h0m1-36h0m0 25h0m0 4h0m0 6h0m1-43h0m0 17h0m0 9h0m0 2h0m0 10h0m0 5h0m1-57h0m0 37h0m0 18h0m1-56h0m0 10h0m0 5h0m0 11h0m0 13h0m0 2h0m0 5h0m0 7h0m1-199h0m0 201h0m1-53h0m0 16h0m0 2h0m0 27h0m0 7h0m1-15h0m0 5h0m0 0h0m0 4h0m0 6h0m0 1h0m1-13h0" stroke="#377EB8"/><rect x="642.9" y="954.9" width="10" height="214.3" rx="2.9" fill="#4DAF4A"/><path d="M646 931h0m0 24h0m0 2h0m1-73h0m0 12h0m0 31h0m0 15h0m0 15h0m1-8h0m0 0h0m0 1h0m0 5h0m0 4h0m0 4h0m1-29h0m0 2h0m0 7h0m0 7h0m0 6h0m1-44h0m0 23h0m0 29h0" stroke="#4DAF4A"/><rect x="647.2" y="957.4" width="18.8" height="211.8" rx="2.9" fill="#984EA3"/><path d="M650 903h0m0 45h0m0 9h0m1 8h0m1-88h0m0 4h0m0 19h0m0 0h0m0 23h0m0 17h0m0 25h0m0 0h0m1-32h0m0 11h0m1-46h0m0 10h0m0 15h0m0 30h0m0 4h0m0 1h0m0 2h0m1-51h0m0 7h0m0 35h0m1 4h0m0 11h0m1-32h0m0 7h0m0 2h0m0 11h0m0 3h0m0 6h0m1-51h0m0 27h0m0 2h0m0 6h0m0 11h0m0 5h0m1-59h0m0 60h0m0 0h0m1-24h0m0 12h0m0 2h0m1-21h0m0 9h0m0 16h0m0 0h0m0 0h0m0 2h0m0 4h0m0 1h0m1-69h0m0 52h0m0 16h0m1-30h0m0 10h0m0 11h0m0 12h0" stroke="#984EA3"/><rect x="660.3" y="944.9" width="8.5" height="224.3" rx="2.9" fill="#FF7F00"/><path d="M663 955h0m1-59h0m0 39h0m0 0h0m0 3h0m0 15h0m1-61h0m0 40h0m0 8h0m1-33h0m0 13h0m0 25h0m0 3h0" stroke="#FF7F00"/><rect x="663.1" y="944.9" width="13.8" height="224.3" rx="2.9" fill="#FFFF33"/><path d="M666 937h0m0 17h0m1-19h0m0 2h0m0 0h0m0 9h0m1-16h0m0 6h0m0 4h0m0 12h0m0 1h0m0 1h0m1-69h0m0 8h0m0 15h0m0 44h0m0 3h0m1-50h0m0 3h0m0 18h0m0 0h0m0 13h0m0 6h0m0 6h0m0 0h0m0 2h0m1-80h0m0 43h0m0 22h0m0 8h0m1 4h0m0 2h0m1-74h0m0 26h0m0 30h0m0 4h0m0 3h0m1-32h0m0 34h0m0 2h0m0 2h0" stroke="#FFFF33"/><rect x="671.2" y="957.4" width="15.5" height="211.8" rx="2.9" fill="#A65628"/><path d="M674 922h0m0 18h0m0 12h0m1-68h0m0 32h0m0 22h0m0 14h0m0 8h0m1-56h0m0 29h0m0 17h0m0 1h0m0 6h0m1-58h0m0 23h0m0 27h0m0 7h0m0 3h0m0 3h0m1-128h0m0 93h0m0 2h0m0 5h0m0 8h0m0 3h0m0 3h0m0 3h0m0 15h0m1-126h0m0 103h0m0 10h0m0 8h0m0 2h0m1-22h0m0 12h0m0 2h0m0 0h0m0 0h0m0 1h0m0 4h0m0 7h0m1-53h0m0 13h0m0 4h0m0 14h0m1-17h0m0 8h0m0 2h0m0 3h0m0 16h0m1-43h0m0 15h0m0 18h0m0 8h0m1-21h0m0 17h0m0 2h0m0 8h0m0 5h0" stroke="#A65628"/><rect x="681" y="954.9" width="33.7" height="214.3" rx="2.9" fill="#F781BF"/><path d="M684 902h0m0 43h0m0 1h0m0 1h0m0 4h0m0 0h0m0 11h0m0 2h0m1-14h0m0 3h0m0 3h0m0 6h0m1-32h0m0 24h0m0 3h0m1-41h0m0 17h0m0 5h0m0 0h0m0 15h0m0 6h0m0 6h0m1-42h0m0 0h0m0 28h0m0 2h0m0 1h0m0 6h0m1-61h0m0 27h0m0 13h0m0 14h0m1-41h0m0 32h0m0 6h0m0 4h0m1-74h0m0 16h0m0 24h0m0 29h0m0 1h0m0 4h0m0 2h0m0 3h0m0 6h0m1-37h0m0 13h0m0 18h0m1-4h0m0 0h0m0 3h0m1-52h0m0 22h0m0 10h0m0 9h0m0 12h0m0 4h0m1-36h0m1-25h0m0 26h0m0 1h0m0 23h0m1-54h0m0 10h0m0 20h0m0 32h0m0 0h0m1-77h0m0 73h0m0 8h0m1-14h0m0 0h0m0 12h0m0 2h0m1-41h0m0 22h0m0 15h0m1-87h0m0 1h0m0 11h0m0 47h0m0 5h0m0 20h0m0 1h0m1-32h0m0 7h0m0 24h0m0 1h0m0 3h0m0 3h0m1-34h0m0 9h0m0 15h0m0 1h0m0 10h0m1-29h0m0 23h0m0 1h0m0 3h0m1-3h0m0 2h0m1-12h0m0 13h0m1-61h0m0 24h0m0 14h0m0 5h0m0 10h0m0 1h0m1-10h0m0 1h0m0 12h0m0 3h0m0 2h0m1-16h0m0 9h0m0 1h0m1-40h0m0 25h0m0 13h0m1-116h0m0 97h0m0 12h0m0 3h0m0 3h0m0 7h0" stroke="#F781BF"/><rect x="709" y="977.4" width="8.9" height="191.8" rx="2.9" fill="#999999"/><path d="M712 880h0m0 75h0m1-1h0m0 26h0m0 7h0m1-22h0m0 2h0m1-93h0m0 91h0m0 6h0m0 11h0m0 3h0" stroke="#999999"/><rect x="712.2" y="939.9" width="23.4" height="229.3" rx="2.9" fill="#E41A1C"/><path d="M715 917h0m0 27h0m1-31h0m0 33h0m0 4h0m1-17h0m0 8h0m0 6h0m0 0h0m1-55h0m0 16h0m0 13h0m0 21h0m0 6h0m0 1h0m1-28h0m0 14h0m0 0h0m0 3h0m0 1h0m1-54h0m0 33h0m0 8h0m1-43h0m0 41h0m0 8h0m0 1h0m0 10h0m0 4h0m1-5h0m0 5h0m1-58h0m0 13h0m0 9h0m0 11h0m0 5h0m0 19h0m1-41h0m0 6h0m0 21h0m0 15h0m1-95h0m0 42h0m0 47h0m1-69h0m0 36h0m0 4h0m0 11h0m0 17h0m0 9h0m1-90h0m0 40h0m0 32h0m1-49h0m0 67h0m1-82h0m0 53h0m0 1h0m0 10h0m0 10h0m0 7h0m0 0h0m1-91h0m0 4h0m0 57h0m0 19h0m0 8h0m1-24h0m0 0h0m0 4h0m0 5h0m0 5h0m0 4h0m0 8h0m0 2h0m1-88h0m0 60h0m0 14h0m1-11h0m0 15h0m0 3h0" stroke="#E41A1C"/><rect x="730" y="952.4" width="8.2" height="216.8" rx="2.9" fill="#377EB8"/><path d="M733 845h0m0 54h0m0 26h0m0 22h0m0 3h0m0 2h0m0 3h0m0 3h0m1-28h0m0 27h0m1-34h0m0 24h0m0 6h0m0 0h0m0 2h0m0 0h0m0 6h0" stroke="#377EB8"/><rect x="732.5" y="952.4" width="9.8" height="216.8" rx="2.9" fill="#4DAF4A"/><path d="M736 934h0m0 15h0m0 4h0m0 3h0m0 1h0m0 1h0m1-36h0m0 9h0m0 3h0m0 21h0m1-36h0m0 15h0m0 6h0m0 3h0m0 0h0m1-34h0m0 21h0m0 20h0m0 10h0" stroke="#4DAF4A"/><rect x="736.6" y="954.9" width="41" height="214.3" rx="2.9" fill="#984EA3"/><path d="M740 925h0m0 5h0m0 13h0m0 4h0m0 4h0m0 2h0m0 10h0m1-35h0m0 30h0m0 4h0m1-81h0m0 48h0m0 21h0m0 9h0m0 3h0m1-49h0m1-16h0m0 46h0m0 1h0m0 11h0m1 2h0m0 2h0m1-31h0m0 19h0m0 3h0m0 2h0m0 5h0m1-58h0m0 4h0m0 7h0m0 28h0m0 9h0m0 10h0m0 5h0m1-34h0m0 9h0m0 16h0m0 10h0m1-66h0m0 32h0m0 12h0m0 16h0m1-16h0m0 10h0m0 11h0m1-15h0m0 2h0m0 11h0m1-76h0m0 29h0m0 25h0m0 7h0m0 17h0m1-59h0m0 17h0m0 20h0m0 17h0m0 7h0m1-63h0m0 0h0m0 14h0m0 13h0m0 28h0m0 8h0m1-126h0m0 12h0m0 54h0m0 19h0m0 17h0m0 2h0m1-36h0m0 12h0m0 17h0m0 7h0m0 6h0m0 2h0m0 5h0m0 1h0m0 3h0m1-6h0m0 2h0m0 7h0m1-37h0m0 9h0m0 26h0m0 3h0m1-45h0m0 13h0m0 1h0m0 17h0m0 13h0m1-12h0m0 2h0m0 2h0m0 3h0m1-39h0m0 13h0m0 3h0m0 2h0m0 16h0m0 1h0m0 9h0m1-50h0m0 29h0m0 11h0m0 0h0m0 9h0m1-82h0m0 44h0m0 31h0m0 9h0m1-99h0m0 28h0m0 55h0m0 0h0m0 5h0m0 0h0m1-27h0m0 12h0m0 18h0m0 4h0m0 0h0m0 4h0m1-37h0m0 13h0m0 1h0m0 16h0m0 1h0m1-41h0m0 29h0m0 4h0m0 8h0m0 3h0m1-54h0m0 26h0m0 14h0m0 7h0m0 5h0m0 1h0m1-29h0m0 8h0m0 1h0m0 18h0m1-4h0m0 5h0m1-24h0m0 2h0m1 1h0m0 14h0m0 5h0m2-85h0m0 45h0m0 13h0m0 19h0m0 5h0m0 5h0" stroke="#984EA3"/><rect x="771.9" y="957.4" width="9.4" height="211.8" rx="2.9" fill="#FF7F00"/><path d="M775 944h0m0 2h0m1-65h0m0 27h0m0 2h0m0 20h0m1 0h0m0 30h0m0 4h0m0 0h0m1-31h0m0 28h0" stroke="#FF7F00"/><rect x="775.6" y="952.4" width="22.1" height="216.8" rx="2.9" fill="#FFFF33"/><path d="M779 930h0m0 6h0m0 8h0m0 15h0m1-26h0m0 5h0m0 6h0m0 1h0m1-34h0m0 5h0m0 43h0m0 1h0m0 1h0m1-23h0m0 2h0m0 10h0m0 8h0m0 4h0m1-8h0m0 3h0m1-19h0m0 1h0m0 4h0m0 9h0m1-16h0m0 9h0m0 7h0m1-90h0m0 60h0m0 2h0m0 12h0m0 11h0m0 11h0m0 2h0m1-18h0m1-11h0m0 7h0m0 6h0m2-61h0m0 16h0m0 22h0m0 17h0m0 1h0m0 1h0m0 22h0m1-113h0m0 50h0m0 53h0m0 5h0m1-79h0m0 44h0m0 12h0m0 1h0m0 6h0m0 8h0m0 2h0m0 4h0m0 0h0m1-50h0m0 35h0m0 16h0m0 3h0m1-18h0m0 1h0m0 2h0m0 11h0m0 0h0m0 1h0" stroke="#FFFF33"/><rect x="792" y="957.4" width="11.6" height="211.8" rx="2.9" fill="#A65628"/><path d="M795 950h0m0 13h0m1-5h0m0 8h0m1-14h0m0 13h0m1-61h0m0 14h0m0 23h0m0 8h0m0 10h0m0 6h0m1-35h0m0 3h0m0 1h0m0 22h0m0 1h0m0 3h0m0 6h0m0 1h0m1-58h0m0 11h0m0 8h0m0 8h0m0 4h0m0 10h0m0 5h0m0 4h0m1 5h0" stroke="#A65628"/><rect x="797.9" y="949.9" width="41.9" height="219.3" rx="2.9" fill="#F781BF"/><path d="M801 937h0m0 1h0m0 2h0m0 6h0m0 9h0m1-61h0m0 2h0m0 21h0m0 26h0m1-49h0m0 20h0m0 16h0m0 27h0m0 2h0m0 0h0m1-141h0m0 39h0m0 42h0m0 18h0m0 9h0m0 4h0m0 8h0m0 3h0m0 8h0m0 5h0m1-75h0m0 72h0m1-55h0m0 33h0m0 11h0m0 12h0m1-12h0m0 13h0m1-39h0m0 0h0m0 15h0m0 10h0m0 2h0m0 3h0m0 0h0m0 4h0m0 1h0m0 5h0m0 2h0m1-125h0m0 85h0m0 27h0m0 1h0m0 1h0m0 10h0m0 4h0m1-93h0m0 38h0m0 41h0m0 1h0m1-13h0m0 11h0m0 9h0m0 4h0m1-108h0m0 47h0m0 38h0m0 20h0m1-25h0m0 18h0m1 0h0m0 6h0m0 2h0m0 1h0m0 3h0m1-19h0m0 1h0m0 2h0m0 9h0m0 7h0m1-13h0m1-12h0m0 8h0m0 3h0m0 0h0m0 14h0m1-85h0m0 15h0m0 10h0m0 28h0m0 4h0m0 11h0m0 17h0m1-102h0m0 12h0m0 60h0m0 3h0m0 11h0m0 14h0m0 0h0m0 1h0m1-63h0m0 15h0m0 24h0m0 13h0m0 6h0m0 1h0m1-27h0m0 12h0m0 12h0m0 8h0m1-5h0m1-36h0m0 10h0m0 23h0m0 6h0m1-109h0m0 40h0m0 27h0m0 9h0m0 15h0m0 19h0m1-60h0m0 38h0m0 5h0m0 12h0m0 2h0m2-107h0m0 89h0m0 6h0m0 2h0m0 1h0m1-108h0m0 0h0m0 59h0m0 14h0m0 30h0m0 8h0m0 1h0m0 2h0m0 0h0m0 1h0m1-87h0m0 57h0m0 23h0m0 12h0m1-33h0m0 12h0m0 9h0m0 5h0m0 2h0m1-51h0m0 13h0m0 13h0m0 6h0m0 19h0m1-48h0m0 8h0m0 16h0m0 4h0m0 6h0m0 0h0m0 6h0m0 2h0m1-31h0m0 8h0m0 13h0m0 7h0m0 2h0m0 6h0m1-18h0m0 3h0m0 7h0m0 12h0m0 3h0m0 0h0m1-109h0m0 79h0m1-43h0m1 61h0" stroke="#F781BF"/><rect x="834.1" y="964.9" width="17.8" height="204.3" rx="2.9" fill="#999999"/><path d="M837 965h0m1-62h0m0 39h0m0 19h0m0 6h0m1-51h0m0 40h0m0 7h0m1-57h0m0 37h0m0 8h0m0 5h0m0 1h0m0 1h0m0 9h0m1-12h0m1-50h0m0 38h0m0 2h0m0 7h0m0 8h0m1-83h0m0 36h0m0 42h0m0 14h0m0 1h0m1-42h0m0 36h0m0 3h0m0 0h0m1-87h0m0 47h0m0 2h0m0 8h0m0 29h0m1-42h0m1-74h0m0 103h0m0 14h0m1-95h0m0 75h0m0 19h0m0 3h0m1-41h0m0 46h0m0 0h0" stroke="#999999"/><rect x="846.2" y="957.4" width="9.8" height="211.8" rx="2.9" fill="#E41A1C"/><path d="M849 923h0m0 6h0m0 21h0m0 14h0m1-64h0m0 13h0m0 35h0m0 18h0m1-22h0m0 16h0m0 0h0m0 3h0m0 1h0m1-103h0m0 71h0m0 15h0m0 8h0m0 1h0m1-1h0" stroke="#E41A1C"/><rect x="850.4" y="969.9" width="32.5" height="199.3" rx="2.9" fill="#377EB8"/><path d="M853 939h0m0 3h0m0 22h0m1-38h0m0 13h0m0 14h0m1-7h0m0 4h0m1-13h0m0 20h0m0 9h0m0 6h0m0 2h0m0 4h0m1-53h0m0 39h0m0 14h0m1-50h0m0 13h0m0 28h0m0 1h0m0 1h0m1-66h0m0 53h0m0 3h0m0 18h0m1-30h0m1 9h0m0 11h0m0 1h0m0 5h0m1-64h0m0 5h0m0 46h0m0 9h0m1-17h0m0 6h0m0 14h0m1-72h0m0 33h0m0 32h0m0 1h0m0 10h0m1-106h0m0 65h0m0 5h0m0 31h0m0 5h0m0 2h0m1-30h0m0 3h0m0 11h0m0 1h0m0 6h0m1-38h0m0 13h0m0 16h0m0 2h0m0 7h0m1-77h0m0 64h0m0 11h0m0 5h0m0 5h0m1-121h0m0 100h0m0 10h0m0 3h0m0 6h0m0 2h0m0 0h0m1-35h0m0 33h0m0 2h0m1-48h0m0 6h0m0 3h0m0 5h0m0 13h0m0 13h0m0 9h0m1-46h0m0 25h0m0 15h0m0 1h0m0 0h0m1-8h0m0 2h0m0 1h0m1-99h0m0 58h0m0 27h0m0 17h0m1-29h0m0 31h0m1-70h0m0 43h0m0 16h0m0 0h0m0 15h0m1-59h0m0 14h0m0 6h0m0 15h0m0 7h0m0 11h0m1-31h0m0 25h0m0 6h0m1-44h0m0 44h0m0 4h0m0 2h0m1-9h0" stroke="#377EB8"/><rect x="877.2" y="957.4" width="28.7" height="211.8" rx="2.9" fill="#4DAF4A"/><path d="M880 955h0m1-22h0m0 34h0m1-117h0m0 81h0m0 22h0m0 0h0m0 13h0m1-26h0m0 6h0m0 19h0m1-56h0m0 15h0m0 22h0m1-39h0m0 24h0m0 10h0m0 0h0m0 22h0m0 3h0m1-115h0m0 41h0m0 35h0m0 13h0m0 13h0m0 9h0m2-4h0m0 3h0m0 4h0m1-54h0m0 18h0m0 15h0m0 14h0m0 3h0m0 5h0m1-29h0m0 7h0m0 18h0m1-103h0m0 81h0m0 22h0m0 1h0m0 1h0m0 1h0m0 2h0m1-43h0m0 14h0m0 8h0m0 8h0m0 10h0m0 2h0m1-67h0m0 51h0m0 7h0m0 7h0m1-26h0m0 5h0m0 10h0m0 10h0m0 1h0m1-59h0m0 33h0m0 27h0m1-62h0m0 22h0m0 18h0m0 3h0m1-4h0m0 1h0m0 16h0m1-13h0m0 2h0m1 2h0m0 3h0m0 0h0m0 3h0m0 10h0m1-111h0m0 57h0m0 28h0m0 5h0m0 13h0m1-52h0m0 26h0m0 11h0m0 1h0m0 9h0m0 4h0m0 6h0m0 2h0m0 2h0m1-34h0m0 15h0m0 12h0m0 1h0m1-13h0m0 1h0m0 10h0m0 1h0" stroke="#4DAF4A"/><rect x="900.2" y="957.4" width="8" height="211.8" rx="2.9" fill="#984EA3"/><path d="M903 907h0m0 55h0m1-79h0m0 27h0m0 29h0m0 2h0m0 12h0m0 6h0m0 6h0m1-23h0m0 20h0" stroke="#984EA3"/><rect x="902.5" y="957.4" width="11.3" height="211.8" rx="2.9" fill="#FF7F00"/><path d="M905 963h0m0 4h0m1-37h0m0 13h0m0 1h0m0 4h0m0 17h0m1-96h0m0 36h0m0 30h0m0 13h0m0 19h0m1-28h0m0 3h0m0 19h0m0 1h0m0 2h0m1-25h0m0 11h0m0 2h0m0 12h0m1-15h0m0 9h0m1-12h0m0 1h0" stroke="#FF7F00"/><rect x="908.1" y="957.4" width="12.8" height="211.8" rx="2.9" fill="#FFFF33"/><path d="M911 935h0m0 5h0m0 18h0m0 6h0m1-26h0m0 19h0m0 9h0m0 0h0m0 0h0m1-6h0m0 7h0m1-35h0m0 16h0m1-42h0m0 6h0m0 19h0m0 1h0m0 0h0m0 29h0m0 2h0m0 3h0m1-91h0m0 55h0m0 14h0m0 21h0m1-69h0m0 29h0m0 7h0m0 7h0m0 6h0m0 19h0m1-4h0m0 3h0" stroke="#FFFF33"/><rect x="915.2" y="939.9" width="37.6" height="229.3" rx="2.9" fill="#A65628"/><path d="M918 922h0m0 17h0m1-14h0m0 7h0m0 16h0m1-33h0m0 18h0m0 14h0m0 2h0m1-87h0m0 36h0m0 7h0m0 26h0m0 5h0m0 2h0m0 6h0m0 2h0m0 1h0m1-28h0m0 23h0m0 3h0m0 4h0m1-101h0m0 59h0m0 21h0m0 13h0m0 3h0m1-57h0m0 3h0m0 10h0m0 25h0m0 13h0m0 6h0m0 4h0m1-46h0m0 24h0m0 3h0m1 6h0m0 13h0m0 2h0m1-46h0m0 21h0m0 17h0m0 3h0m0 2h0m1-42h0m0 20h0m0 23h0m1-12h0m0 2h0m0 2h0m1-24h0m0 9h0m0 2h0m0 19h0m0 2h0m1-3h0m0 4h0m0 0h0m1-24h0m0 9h0m0 2h0m0 6h0m0 3h0m1-58h0m0 32h0m0 19h0m1-74h0m0 3h0m0 34h0m0 28h0m0 8h0m1-12h0m0 14h0m1 3h0m1-44h0m0 3h0m0 5h0m0 26h0m0 16h0m1-52h0m0 48h0m0 5h0m1-72h0m0 10h0m0 52h0m0 7h0m0 3h0m1-75h0m0 54h0m0 4h0m0 16h0m1-39h0m1-2h0m0 25h0m0 0h0m0 10h0m1-69h0m0 20h0m0 2h0m0 13h0m1-51h0m0 1h0m0 50h0m0 4h0m0 2h0m0 12h0m0 1h0m1-53h0m1 17h0m0 16h0m0 23h0m1-55h0m0 22h0m0 31h0m0 6h0m0 0h0m0 4h0m0 8h0m1-120h0m0 78h0m0 11h0m1-26h0m0 46h0m0 10h0m0 2h0m1-40h0m0 25h0m0 12h0" stroke="#A65628"/><rect x="947.1" y="957.4" width="9.5" height="211.8" rx="2.9" fill="#F781BF"/><path d="M950 966h0m1-40h0m0 34h0m0 1h0m0 6h0m1-62h0m0 25h0m0 4h0m0 5h0m0 2h0m0 1h0m0 23h0m0 1h0m0 0h0m1-48h0m0 26h0m0 11h0m0 7h0" stroke="#F781BF"/><rect x="950.9" y="962.4" width="22.9" height="206.8" rx="2.9" fill="#999999"/><path d="M954 958h0m0 10h0m1-44h0m0 15h0m0 0h0m0 1h0m0 18h0m0 9h0m0 3h0m2-50h0m0 32h0m0 7h0m0 7h0m1-138h0m0 91h0m0 19h0m0 20h0m0 12h0m1-37h0m0 29h0m0 2h0m0 8h0m1-75h0m0 8h0m0 7h0m0 28h0m0 6h0m0 16h0m0 7h0m0 3h0m1-43h0m0 19h0m0 5h0m1-52h0m0 45h0m0 15h0m0 1h0m0 6h0m1-44h0m0 32h0m0 2h0m1-32h0m0 18h0m0 6h0m0 1h0m0 0h0m0 6h0m0 15h0m1-76h0m0 8h0m0 56h0m0 10h0m1-77h0m0 37h0m0 22h0m0 3h0m0 14h0m0 0h0m0 1h0m1-83h0m0 74h0m0 2h0m0 7h0m1-27h0m0 22h0m0 2h0m1-51h0m0 9h0m0 7h0m0 9h0m0 2h0m0 23h0m1-18h0m0 8h0m0 1h0m0 4h0m0 4h0m0 6h0m1-98h0m0 86h0" stroke="#999999"/><rect x="968.1" y="962.4" width="33.8" height="206.8" rx="2.9" fill="#E41A1C"/><path d="M971 947h0m1-46h0m0 26h0m0 25h0m0 6h0m1-35h0m0 39h0m0 3h0m1-55h0m0 27h0m0 11h0m0 24h0m1-48h0m0 16h0m0 13h0m0 2h0m0 16h0m0 1h0m1-81h0m0 42h0m0 19h0m0 2h0m1-23h0m0 13h0m0 9h0m0 9h0m1-85h0m0 50h0m0 12h0m0 14h0m0 10h0m0 2h0m1-51h0m0 32h0m1-29h0m0 31h0m0 5h0m0 3h0m0 11h0m1-32h0m0 8h0m1-137h0m0 101h0m0 22h0m0 13h0m0 1h0m0 15h0m0 5h0m1-48h0m0 3h0m0 35h0m0 16h0m1-28h0m0 24h0m1-69h0m0 55h0m0 9h0m0 4h0m1-52h0m0 45h0m0 2h0m0 2h0m1-50h0m0 12h0m0 41h0m1-16h0m0 2h0m0 14h0m0 1h0m1-37h0m0 12h0m0 7h0m0 22h0m1-74h0m0 47h0m0 5h0m1-15h0m0 27h0m0 12h0m1-45h0m0 10h0m0 10h0m0 13h0m1-39h0m0 21h0m0 9h0m0 8h0m0 5h0m1-101h0m0 87h0m0 10h0m0 2h0m0 3h0m0 3h0m0 1h0m1-110h0m0 58h0m0 14h0m0 17h0m0 2h0m0 5h0m0 0h0m0 6h0m0 3h0m0 1h0m1-52h0m0 27h0m0 2h0m0 14h0m0 13h0m0 3h0m1-32h0m0 7h0m0 9h0m0 6h0m0 7h0m0 2h0m0 1h0m0 0h0m0 0h0m0 1h0m1-37h0m0 1h0m0 1h0m0 25h0m0 9h0m1-27h0m0 2h0m0 14h0" stroke="#E41A1C"/><rect x="996.2" y="957.8" width="10.9" height="211.4" rx="2.9" fill="#377EB8"/><path d="M999 874h0m0 80h0m1-27h0m0 12h0m0 9h0m0 10h0m0 1h0m0 6h0m0 0h0m0 2h0m1-78h0m0 12h0m0 42h0m0 5h0m0 12h0m0 7h0m1-25h0m0 5h0m0 6h0m0 9h0m0 4h0m1-41h0m0 9h0m1-4h0m0 26h0m0 7h0m0 1h0" stroke="#377EB8"/><rect x="1001.5" y="963.1" width="30.1" height="206.2" rx="2.9" fill="#4DAF4A"/><path d="M1005 939h0m0 5h0m0 19h0m0 3h0m1-76h0m0 61h0m0 0h0m0 10h0m1-36h0m0 30h0m0 5h0m0 5h0m1-103h0m0 42h0m0 17h0m0 7h0m0 5h0m0 4h0m0 27h0m0 6h0m1-55h0m0 10h0m0 28h0m0 17h0m0 2h0m1-85h0m0 59h0m0 0h0m0 1h0m0 5h0m0 18h0m1-48h0m0 19h0m0 11h0m0 8h0m0 6h0m1-18h0m0 10h0m0 14h0m1-41h0m0 4h0m0 10h0m0 20h0m1-92h0m0 69h0m0 28h0m0 1h0m0 0h0m1-40h0m0 12h0m0 11h0m0 8h0m0 8h0m0 2h0m1-38h0m0 21h0m0 4h0m0 0h0m0 2h0m0 3h0m0 1h0m0 5h0m1-19h0m0 20h0m0 2h0m1-38h0m0 15h0m0 1h0m0 6h0m0 12h0m1-54h0m0 17h0m0 15h0m0 10h0m0 8h0m0 5h0m1-62h0m0 28h0m0 2h0m0 5h0m0 12h0m0 0h0m1-10h0m0 19h0m0 1h0m2-103h0m0 36h0m0 36h0m0 18h0m0 11h0m0 6h0m1-82h0m0 29h0m0 52h0m1-38h0m0 16h0m0 1h0m0 19h0m1-70h0m0 55h0m0 12h0m0 4h0m0 6h0m1-42h0m0 26h0m0 4h0m0 5h0m1-80h0m0 58h0m0 5h0m0 5h0m0 3h0m1-33h0" stroke="#4DAF4A"/><rect x="1025.9" y="964.8" width="8.9" height="204.4" rx="2.9" fill="#984EA3"/><path d="M1029 955h0m0 9h0m1-109h0m0 75h0m0 12h0m0 14h0m0 8h0m1-10h0m0 2h0m0 1h0m0 1h0m0 15h0m1-41h0m0 13h0m0 22h0m0 5h0" stroke="#984EA3"/><rect x="1029.1" y="957.7" width="12.2" height="211.5" rx="2.9" fill="#FF7F00"/><path d="M1032 961h0m1-5h0m0 2h0m1-51h0m0 20h0m0 0h0m0 17h0m0 23h0m1-55h0m0 16h0m0 18h0m0 13h0m0 2h0m1-58h0m0 10h0m0 15h0m0 39h0m0 0h0m1-80h0m0 39h0m0 4h0m0 11h0m0 15h0m1-85h0m0 2h0m0 58h0m0 7h0m0 10h0m0 4h0m0 4h0m0 1h0m0 5h0m0 1h0" stroke="#FF7F00"/><rect x="1035.6" y="949.6" width="10.4" height="219.6" rx="2.9" fill="#FFFF33"/><path d="M1039 937h0m0 7h0m0 2h0m0 1h0m0 2h0m0 3h0m0 4h0m1-11h0m0 1h0m0 0h0m0 8h0m0 1h0m0 2h0m0 2h0m1-22h0m0 10h0m0 8h0m0 0h0m1-102h0m0 21h0m0 68h0m0 9h0m1 6h0m0 0h0" stroke="#FFFF33"/><rect x="1040.3" y="954.7" width="7.6" height="214.5" rx="2.9" fill="#A65628"/><path d="M1043 921h0m0 33h0m1-40h0m0 1h0m0 26h0m0 11h0m0 5h0m0 0h0m0 4h0m1-7h0m0 3h0" stroke="#A65628"/><rect x="1042.2" y="963.1" width="12.6" height="206.2" rx="2.9" fill="#F781BF"/><path d="M1045 900h0m0 51h0m0 18h0m0 3h0m1-35h0m0 11h0m0 3h0m0 6h0m0 10h0m0 0h0m0 4h0m0 2h0m1-66h0m0 23h0m0 28h0m1-95h0m0 11h0m0 38h0m0 48h0m0 2h0m0 5h0m0 4h0m1-41h0m0 33h0m1-48h0m0 48h0m0 7h0m1-64h0m0 24h0m0 34h0m0 2h0m1-21h0m0 2h0m0 18h0" stroke="#F781BF"/><rect x="1049.1" y="957.7" width="14.4" height="211.5" rx="2.9" fill="#999999"/><path d="M1052 930h0m0 6h0m1 1h0m0 6h0m1 15h0m0 9h0m1-27h0m0 5h0m0 18h0m0 2h0m1-78h0m0 48h0m0 18h0m0 0h0m0 1h0m0 0h0m0 3h0m0 10h0m1-46h0m0 36h0m0 2h0m0 4h0m1-4h0m0 2h0m0 6h0m1-99h0m0 57h0m0 15h0m0 9h0m0 10h0m0 1h0m0 4h0m1-10h0m0 9h0m0 3h0" stroke="#999999"/><rect x="1057.8" y="957.7" width="16.4" height="211.5" rx="2.9" fill="#E41A1C"/><path d="M1061 902h0m0 7h0m0 18h0m0 4h0m0 7h0m0 27h0m1-51h0m0 37h0m0 13h0m0 1h0m1-44h0m0 1h0m0 9h0m0 5h0m0 7h0m1-2h0m0 16h0m1-29h0m0 28h0m1-36h0m0 47h0m1-103h0m0 44h0m0 29h0m0 18h0m0 12h0m1-41h0m0 17h0m0 24h0m1-77h0m0 45h0m0 16h0m0 0h0m0 1h0m0 0h0m0 8h0m0 6h0m0 1h0m1-71h0m0 36h0m0 1h0m0 24h0m0 5h0m1-26h0m0 23h0m0 2h0" stroke="#E41A1C"/><rect x="1068.4" y="963.1" width="10.8" height="206.2" rx="2.9" fill="#377EB8"/><path d="M1071 955h0m0 9h0m1-83h0m0 48h0m0 26h0m0 10h0m0 1h0m0 2h0m0 3h0m1-34h0m0 10h0m0 7h0m0 1h0m0 6h0m0 9h0m1-33h0m0 19h0m1-26h0m0 1h0m0 21h0m0 9h0m0 7h0m1-57h0m0 33h0" stroke="#377EB8"/><rect x="1073.5" y="963.1" width="13.7" height="206.2" rx="2.9" fill="#4DAF4A"/><path d="M1077 965h0m1-45h0m0 29h0m0 15h0m0 4h0m0 2h0m0 1h0m1-36h0m0 9h0m0 11h0m0 0h0m0 4h0m0 5h0m0 1h0m1-38h0m0 11h0m0 13h0m0 5h0m0 5h0m0 2h0m0 7h0m1-57h0m0 21h0m0 10h0m0 8h0m0 6h0m0 1h0m0 10h0m1-31h0m0 11h0m0 24h0m2-80h0m0 31h0m0 41h0" stroke="#4DAF4A"/><rect x="1081.5" y="963.1" width="19.2" height="206.2" rx="2.9" fill="#984EA3"/><path d="M1085 940h0m0 26h0m0 0h0m0 1h0m1-119h0m0 90h0m0 16h0m0 9h0m0 0h0m0 0h0m0 2h0m0 8h0m1-27h0m1-19h0m0 10h0m0 26h0m0 6h0m1-69h0m0 37h0m1-20h0m0 45h0m1-34h0m0 10h0m0 18h0m1-28h0m0 14h0m0 1h0m0 3h0m0 6h0m0 3h0m0 7h0m0 3h0m1-36h0m0 28h0m0 1h0m0 15h0m1-30h0m0 27h0m1-8h0m1-12h0m0 10h0m0 0h0m0 9h0m1-21h0m0 19h0m0 6h0" stroke="#984EA3"/><rect x="1095" y="963.5" width="7.2" height="205.8" rx="2.9" fill="#FF7F00"/><path d="M1098 901h0m1 57h0m0 5h0" stroke="#FF7F00"/><rect x="1096.5" y="957.7" width="13.6" height="211.5" rx="2.9" fill="#FFFF33"/><path d="M1100 909h0m0 15h0m0 0h0m0 34h0m1-45h0m0 6h0m0 30h0m0 15h0m1-4h0m0 1h0m0 0h0m1-13h0m0 14h0m0 4h0m1-19h0m0 3h0m1-56h0m0 40h0m0 11h0m0 3h0m0 5h0m0 2h0m0 2h0m0 7h0m0 2h0m1-29h0m0 3h0m0 4h0m0 8h0m0 6h0m0 4h0m1-25h0m0 10h0m0 10h0" stroke="#FFFF33"/><rect x="1104.4" y="963.1" width="10.3" height="206.2" rx="2.9" fill="#A65628"/><path d="M1107 956h0m0 10h0m1-94h0m0 45h0m0 23h0m0 9h0m0 13h0m0 6h0m1-20h0m0 11h0m0 0h0m0 1h0m0 4h0m1-15h0m0 7h0m0 2h0m0 2h0m0 2h0m0 3h0m0 6h0m1-62h0m0 8h0m0 21h0m0 7h0m0 5h0m0 2h0m0 7h0m0 2h0m0 11h0m1-17h0m0 7h0m0 5h0" stroke="#A65628"/><rect x="1109" y="969.6" width="9.4" height="199.6" rx="2.9" fill="#F781BF"/><path d="M1112 938h0m0 28h0m1-62h0m0 50h0m0 2h0m0 20h0m0 1h0m1-17h0m0 4h0m0 11h0m0 2h0m1-36h0m0 22h0m0 0h0m0 1h0m0 1h0m1 5h0" stroke="#F781BF"/><rect x="1112.8" y="971.2" width="9.9" height="198.1" rx="2.9" fill="#999999"/><path d="M1116 916h0m0 24h0m0 18h0m0 16h0m0 3h0m1-34h0m0 21h0m0 12h0m0 4h0m1-44h0m0 4h0m0 13h0m0 20h0m0 5h0m0 1h0m1-16h0m0 6h0m0 6h0m0 4h0m1-110h0m0 79h0m0 3h0m0 12h0m0 3h0m0 12h0" stroke="#999999"/><rect x="1116.9" y="968.5" width="14.4" height="200.8" rx="2.9" fill="#E41A1C"/><path d="M1120 925h0m0 40h0m0 7h0m0 2h0m1-21h0m0 0h0m0 5h0m0 18h0m1-6h0m1-62h0m0 52h0m0 4h0m0 3h0m1-64h0m0 48h0m0 13h0m1-77h0m0 32h0m0 23h0m0 14h0m0 17h0m1-56h0m0 24h0m0 31h0m1-19h0m0 1h0m0 11h0m0 3h0m0 2h0m0 3h0m0 3h0m1-58h0m0 17h0m0 18h0m0 21h0" stroke="#E41A1C"/><rect x="1125.6" y="969.2" width="9.5" height="200" rx="2.9" fill="#377EB8"/><path d="M1129 879h0m0 56h0m0 34h0m0 8h0m2-65h0m0 4h0m0 38h0m0 21h0m1-33h0m0 15h0m0 4h0" stroke="#377EB8"/><rect x="1129.4" y="949.6" width="13.8" height="219.6" rx="2.9" fill="#4DAF4A"/><path d="M1132 955h0m1-44h0m0 11h0m0 9h0m0 4h0m0 16h0m0 1h0m1-33h0m0 15h0m0 5h0m2-17h0m0 7h0m0 3h0m0 2h0m0 1h0m0 21h0m0 1h0m1-95h0m0 15h0m0 25h0m0 10h0m0 27h0m0 0h0m0 5h0m0 11h0m1-72h0m0 25h0m0 22h0m0 4h0m0 4h0m0 16h0m1-46h0m0 37h0m0 3h0m0 8h0m0 1h0m1-41h0m0 5h0m0 26h0m0 9h0" stroke="#4DAF4A"/><rect x="1137.5" y="963.1" width="11.7" height="206.2" rx="2.9" fill="#984EA3"/><path d="M1140 900h0m0 16h0m1-40h0m0 35h0m0 11h0m0 1h0m0 2h0m0 5h0m0 15h0m0 12h0m1-79h0m0 83h0m0 1h0m0 2h0m0 3h0m0 2h0m0 2h0m1-182h0m0 130h0m0 2h0m0 16h0m0 10h0m1-31h0m0 21h0m0 24h0m0 2h0m0 5h0m0 1h0m0 1h0m0 1h0m1-42h0m0 9h0m0 7h0m0 1h0m0 1h0m0 9h0m0 3h0m0 9h0m0 4h0m1-34h0m0 20h0m0 13h0" stroke="#984EA3"/><rect x="1143.5" y="963.8" width="9.1" height="205.5" rx="2.9" fill="#FF7F00"/><path d="M1146 943h0m0 25h0m1-173h0m0 130h0m0 10h0m0 1h0m0 12h0m0 21h0m0 3h0m1-33h0m0 8h0m0 14h0m0 9h0m0 3h0m1-217h0m0 120h0m0 89h0m0 5h0m1-4h0" stroke="#FF7F00"/><rect x="1146.9" y="963.1" width="18.8" height="206.2" rx="2.9" fill="#FFFF33"/><path d="M1150 894h0m0 33h0m0 13h0m1-31h0m0 13h0m0 3h0m0 27h0m0 9h0m0 6h0m1-77h0m0 82h0m0 1h0m1-67h0m0 34h0m0 11h0m0 7h0m0 1h0m0 2h0m1-43h0m0 32h0m0 8h0m0 2h0m0 6h0m0 2h0m1-112h0m0 70h0m0 23h0m0 3h0m0 5h0m0 5h0m0 5h0m0 1h0m1-27h0m0 8h0m0 12h0m0 7h0m0 3h0m1-32h0m0 15h0m0 1h0m0 18h0m1-41h0m0 22h0m0 0h0m0 10h0m1-18h0m0 9h0m0 3h0m0 0h0m0 3h0m0 6h0m0 5h0m1-50h0m0 23h0m0 23h0m0 3h0m1-51h0m0 11h0m0 5h0m0 7h0m0 5h0m0 2h0m0 5h0m0 8h0m0 4h0m1-84h0m0 86h0m0 2h0m0 2h0m1-67h0" stroke="#FFFF33"/><rect x="1160" y="957.7" width="46.7" height="211.5" rx="2.9" fill="#A65628"/><path d="M1163 936h0m0 14h0m0 0h0m1-47h0m0 27h0m0 10h0m0 5h0m0 17h0m0 4h0m1-36h0m0 11h0m1-36h0m0 23h0m0 29h0m0 2h0m0 1h0m0 2h0m1-39h0m0 13h0m0 8h0m0 3h0m1-20h0m0 2h0m0 22h0m0 7h0m0 5h0m1-49h0m0 14h0m0 1h0m0 26h0m1-11h0m0 3h0m0 20h0m1-44h0m0 1h0m0 20h0m0 5h0m0 3h0m0 12h0m0 0h0m1-65h0m0 27h0m0 2h0m0 14h0m0 5h0m0 7h0m0 10h0m0 1h0m0 2h0m1-41h0m0 16h0m0 5h0m0 10h0m0 7h0m1-42h0m0 26h0m0 8h0m0 0h0m0 1h0m0 2h0m0 2h0m1-37h0m0 22h0m0 0h0m0 8h0m0 4h0m0 7h0m1-39h0m0 20h0m0 5h0m0 15h0m0 1h0m1-23h0m0 18h0m0 3h0m0 2h0m1-31h0m0 21h0m0 9h0m1-34h0m0 7h0m0 21h0m0 3h0m1-32h0m0 13h0m0 5h0m1-35h0m0 8h0m0 16h0m0 15h0m0 7h0m0 0h0m1-60h0m1 33h0m0 5h0m0 2h0m0 3h0m0 4h0m0 16h0m0 1h0m1-79h0m0 15h0m0 5h0m0 22h0m0 6h0m0 14h0m0 4h0m0 11h0m0 2h0m0 2h0m0 0h0m1-64h0m0 45h0m0 2h0m0 3h0m0 1h0m0 3h0m0 7h0m0 2h0m1-35h0m0 8h0m0 15h0m0 5h0m0 0h0m0 0h0m0 8h0m1-55h0m0 36h0m0 4h0m0 3h0m0 1h0m1-29h0m0 16h0m0 5h0m0 7h0m1-35h0m0 25h0m0 10h0m0 10h0m0 0h0m0 2h0m0 0h0m0 0h0m1-45h0m0 2h0m0 7h0m0 14h0m0 12h0m0 6h0m1-51h0m0 40h0m0 2h0m0 2h0m0 3h0m0 2h0m0 3h0m0 2h0m1-29h0m0 11h0m0 7h0m0 8h0m1-63h0m0 41h0m0 4h0m0 2h0m0 1h0m0 10h0m0 6h0m1-53h0m0 10h0m0 10h0m0 9h0m0 1h0m0 20h0m0 1h0m0 4h0m1-55h0m0 33h0m0 1h0m0 19h0m1-35h0m0 34h0m1-37h0m0 9h0m1-1h0m0 13h0m0 16h0m0 2h0m1-24h0m0 15h0m0 11h0m0 1h0m1-8h0m0 4h0m1-48h0m0 29h0m0 5h0m0 2h0m0 0h0m0 15h0m1-43h0m0 3h0m0 21h0m0 18h0m1-55h0m0 13h0m0 13h0m1-48h0m0 42h0m0 35h0" stroke="#A65628"/><rect x="1201" y="957.7" width="23.7" height="211.5" rx="2.9" fill="#F781BF"/><path d="M1204 946h0m0 0h0m0 1h0m0 1h0m0 15h0m1-93h0m0 68h0m0 26h0m0 3h0m1-41h0m0 14h0m0 2h0m0 1h0m0 3h0m0 10h0m1-85h0m0 72h0m0 10h0m0 2h0m0 3h0m0 7h0m1-90h0m0 39h0m0 9h0m0 12h0m0 11h0m0 1h0m0 16h0m0 1h0m0 0h0m1-63h0m0 34h0m0 10h0m1-5h0m0 4h0m0 3h0m0 9h0m1-66h0m0 69h0m0 5h0m1-16h0m0 0h0m0 10h0m0 5h0m1-33h0m0 22h0m0 0h0m0 12h0m1-20h0m0 8h0m0 6h0m1-21h0m0 4h0m0 7h0m0 4h0m0 3h0m0 7h0m1-22h0m0 11h0m0 7h0m0 6h0m1-86h0m0 22h0m0 49h0m0 4h0m0 14h0m1-10h0m1-2h0m0 6h0m1-61h0m0 18h0m0 11h0m0 2h0m0 13h0m1-44h0m0 54h0m0 2h0m0 1h0m0 1h0m1-22h0m0 25h0" stroke="#F781BF"/><rect x="1219" y="963.1" width="26.9" height="206.2" rx="2.9" fill="#999999"/><path d="M1222 959h0m0 3h0m1-113h0m0 77h0m0 19h0m0 3h0m0 9h0m0 16h0m2-42h0m0 7h0m0 26h0m0 5h0m1-28h0m0 2h0m0 11h0m0 6h0m0 8h0m1-19h0m0 9h0m0 9h0m1-25h0m0 3h0m0 4h0m1-9h0m0 6h0m0 10h0m0 2h0m0 0h0m0 2h0m0 0h0m1-78h0m0 17h0m0 47h0m0 17h0m0 4h0m0 0h0m1-79h0m0 39h0m0 7h0m0 24h0m1-12h0m0 17h0m0 4h0m1-60h0m0 12h0m0 14h0m1 15h0m0 4h0m1-22h0m0 2h0m0 17h0m0 3h0m0 4h0m0 1h0m0 8h0m0 5h0m1-52h0m0 5h0m0 12h0m0 20h0m0 16h0m1-36h0m1-21h0m0 13h0m0 29h0m0 9h0m0 2h0m1-36h0m0 40h0m1-76h0m0 22h0m0 53h0m1-22h0m0 19h0m0 4h0m1-55h0m0 25h0m0 8h0m0 5h0m1-1h0" stroke="#999999"/><rect x="1240.2" y="972" width="8.5" height="197.3" rx="2.9" fill="#E41A1C"/><path d="M1243 977h0m0 3h0m1-54h0m0 21h0m0 14h0m0 10h0m0 10h0m1-64h0m0 18h0m0 37h0m1-12h0m0 12h0m0 1h0" stroke="#E41A1C"/><rect x="1243.1" y="963.1" width="12.4" height="206.2" rx="2.9" fill="#377EB8"/><path d="M1246 921h0m0 28h0m0 13h0m1-35h0m0 9h0m0 34h0m1-72h0m0 65h0m1-13h0m0 15h0m1-65h0m0 22h0m0 3h0m0 47h0m1-34h0m0 4h0m0 6h0m0 4h0m0 10h0m0 5h0m0 2h0m0 2h0m1-115h0m0 99h0m0 2h0m0 2h0m0 4h0m0 3h0m0 3h0" stroke="#377EB8"/><rect x="1249.8" y="963.1" width="11.5" height="206.2" rx="2.9" fill="#4DAF4A"/><path d="M1253 942h0m0 11h0m0 5h0m0 4h0m0 9h0m1-84h0m0 59h0m0 6h0m0 0h0m0 11h0m0 4h0m1-45h0m0 32h0m0 5h0m0 5h0m0 7h0m1-23h0m0 6h0m0 6h0m1-28h0m0 9h0m0 3h0m0 21h0m0 3h0m0 3h0m1-19h0m0 6h0m0 10h0m0 0h0" stroke="#4DAF4A"/><rect x="1255.6" y="968.5" width="13.9" height="200.8" rx="2.9" fill="#984EA3"/><path d="M1258 966h0m1-112h0m0 60h0m0 33h0m0 16h0m0 2h0m1-6h0m0 2h0m0 8h0m1-52h0m0 13h0m0 1h0m0 26h0m0 4h0m0 17h0m1-66h0m0 35h0m0 1h0m1-76h0m0 54h0m0 4h0m0 7h0m0 17h0m0 11h0m0 10h0m1-45h0m0 0h0m0 19h0m0 10h0m0 7h0m1-64h0m0 62h0m0 2h0m0 8h0m0 4h0m1-89h0m0 60h0m0 17h0" stroke="#984EA3"/><rect x="1263.8" y="958.3" width="8.7" height="210.9" rx="2.9" fill="#FF7F00"/><path d="M1267 879h0m0 72h0m0 2h0m1-10h0m0 8h0m0 6h0m0 7h0m1-72h0m0 27h0m0 37h0m0 10h0" stroke="#FF7F00"/><rect x="1266.8" y="949.6" width="30.4" height="219.6" rx="2.9" fill="#FFFF33"/><path d="M1270 941h0m0 8h0m0 0h0m0 5h0m0 4h0m1-79h0m0 17h0m0 6h0m0 13h0m0 31h0m0 8h0m1 4h0m1-35h0m0 18h0m0 17h0m1-71h0m0 14h0m0 17h0m0 15h0m0 8h0m0 4h0m0 2h0m0 1h0m1-43h0m0 6h0m0 2h0m0 11h0m0 9h0m0 17h0m0 1h0m0 5h0m2-79h0m0 60h0m0 1h0m0 17h0m1 1h0m0 0h0m1-41h0m0 15h0m0 5h0m0 5h0m0 7h0m1-30h0m0 32h0m0 0h0m0 2h0m0 8h0m1-29h0m0 11h0m0 14h0m1-87h0m0 86h0m0 0h0m0 3h0m1-8h0m0 1h0m0 1h0m0 2h0m0 4h0m1-27h0m0 15h0m0 6h0m0 1h0m1-27h0m1-11h0m0 19h0m0 11h0m0 2h0m0 12h0m0 1h0m1-44h0m0 18h0m0 0h0m0 16h0m0 7h0m0 0h0m1-26h0m0 3h0m1-20h0m0 21h0m0 24h0m1-14h0m0 6h0m0 8h0m1-20h0m0 11h0m1-25h0m0 15h0m0 7h0m0 5h0m0 8h0m0 0h0m1-52h0m0 29h0m0 8h0m1-12h0m0 15h0m0 3h0" stroke="#FFFF33"/><rect x="1291.5" y="963.1" width="15.5" height="206.2" rx="2.9" fill="#A65628"/><path d="M1294 972h0m1-4h0m0 0h0m1-86h0m0 56h0m0 16h0m0 3h0m0 8h0m0 0h0m1-35h0m0 18h0m0 2h0m0 6h0m0 9h0m0 2h0m1-12h0m0 10h0m0 3h0m1-7h0m0 2h0m0 4h0m0 2h0m1-27h0m0 18h0m0 4h0m1-49h0m0 4h0m0 27h0m0 4h0m0 14h0m1-100h0m0 4h0m0 28h0m0 6h0m0 10h0m0 18h0m1 14h0m0 25h0m1-51h0m0 25h0m0 1h0" stroke="#A65628"/><rect x="1301.3" y="957.8" width="7.7" height="211.4" rx="2.9" fill="#F781BF"/><path d="M1304 897h0m0 29h0m0 25h0m1 12h0m0 1h0m0 2h0m1-20h0m0 4h0m0 15h0" stroke="#F781BF"/><rect x="1303.3" y="962" width="11" height="207.2" rx="2.9" fill="#999999"/><path d="M1306 877h0m0 48h0m0 18h0m1-43h0m0 52h0m0 5h0m0 1h0m0 9h0m1-64h0m0 48h0m0 11h0m0 3h0m1-100h0m0 35h0m0 11h0m0 19h0m0 12h0m0 4h0m0 7h0m1-18h0m0 26h0m0 7h0m1-28h0m0 12h0m0 17h0" stroke="#999999"/><rect x="1308.6" y="957.7" width="29.9" height="211.5" rx="2.9" fill="#E41A1C"/><path d="M1312 964h0m1-18h0m0 6h0m0 6h0m0 5h0m0 2h0m1-78h0m0 67h0m0 11h0m1-80h0m0 22h0m0 38h0m0 11h0m0 8h0m1-20h0m0 10h0m0 5h0m0 4h0m1-31h0m0 4h0m0 8h0m0 16h0m0 4h0m0 2h0m1-18h0m0 2h0m0 9h0m0 2h0m1-78h0m0 58h0m0 12h0m0 12h0m0 2h0m1-74h0m0 15h0m0 48h0m0 2h0m0 2h0m1-66h0m0 45h0m0 11h0m0 3h0m0 5h0m0 2h0m0 2h0m0 3h0m1-22h0m0 17h0m1-48h0m0 25h0m0 4h0m0 4h0m0 14h0m0 5h0m1-55h0m0 23h0m0 12h0m0 2h0m0 4h0m0 12h0m0 3h0m0 0h0m1-37h0m0 12h0m0 4h0m0 9h0m0 1h0m0 7h0m1-6h0m0 1h0m0 1h0m0 1h0m0 5h0m1-49h0m0 33h0m0 4h0m0 2h0m0 4h0m0 2h0m0 4h0m1-30h0m0 22h0m0 4h0m0 1h0m1-31h0m0 25h0m0 2h0m0 2h0m0 5h0m0 3h0m1-118h0m0 111h0m0 6h0m1-24h0m0 3h0m0 17h0m0 1h0m0 3h0m1-91h0m1 46h0m0 15h0m0 22h0m0 4h0m0 1h0m0 2h0m1-104h0m0 49h0m0 6h0m0 1h0m0 35h0m0 8h0m0 3h0m1-110h0m0 104h0m0 2h0m0 7h0m0 1h0" stroke="#E41A1C"/><rect x="1332.8" y="963.1" width="19.3" height="206.2" rx="2.9" fill="#377EB8"/><path d="M1336 928h0m0 24h0m0 2h0m0 8h0m0 1h0m0 5h0m1-92h0m0 28h0m0 21h0m0 26h0m0 11h0m0 2h0m0 5h0m1-72h0m0 56h0m0 14h0m1-21h0m1-27h0m0 13h0m0 27h0m1-76h0m0 50h0m0 10h0m0 8h0m0 2h0m0 15h0m1-62h0m0 24h0m0 3h0m0 27h0m0 6h0m0 3h0m0 3h0m1-46h0m0 2h0m0 18h0m0 13h0m0 9h0m0 4h0m1-69h0m0 33h0m0 16h0m0 1h0m0 9h0m0 6h0m0 3h0m0 0h0m1-41h0m0 27h0m0 2h0m0 10h0m1-28h0m0 25h0m0 1h0m0 5h0m1-57h0m0 16h0m1-66h0m0 87h0m0 3h0m0 13h0m1-51h0m0 13h0m0 27h0m0 15h0" stroke="#377EB8"/><rect x="1346.4" y="963.1" width="12.8" height="206.2" rx="2.9" fill="#4DAF4A"/><path d="M1349 960h0m1-14h0m0 10h0m0 4h0m1-22h0m0 20h0m0 2h0m0 1h0m0 6h0m0 6h0m1-50h0m0 19h0m0 10h0m0 0h0m0 2h0m0 0h0m0 18h0m1-45h0m0 23h0m0 4h0m0 14h0m1-57h0m0 37h0m0 3h0m0 19h0m1 0h0m0 3h0m1-6h0m0 3h0" stroke="#4DAF4A"/><rect x="1353.5" y="963.1" width="25.1" height="206.2" rx="2.9" fill="#984EA3"/><path d="M1356 942h0m1 7h0m0 6h0m0 6h0m0 2h0m0 9h0m1-51h0m0 9h0m0 11h0m0 11h0m1 0h0m0 4h0m0 4h0m0 5h0m1-58h0m0 4h0m0 14h0m1-61h0m0 75h0m0 11h0m0 5h0m0 1h0m0 5h0m0 11h0m1-38h0m0 1h0m0 4h0m0 11h0m0 18h0m1-12h0m0 4h0m0 10h0m1-4h0m0 3h0m0 0h0m1-69h0m0 30h0m0 18h0m0 9h0m0 1h0m0 11h0m0 1h0m1-90h0m0 52h0m0 20h0m0 5h0m0 6h0m0 4h0m0 2h0m1-59h0m0 12h0m0 32h0m0 5h0m1-36h0m0 11h0m0 12h0m0 15h0m0 4h0m1-41h0m0 4h0m0 37h0m0 4h0m1-35h0m0 7h0m0 10h0m0 3h0m0 10h0m0 3h0m0 5h0m1-112h0m0 94h0m0 14h0m1-148h0m0 110h0m0 4h0m0 10h0m0 9h0m0 1h0m0 9h0m0 0h0m0 2h0m0 4h0m0 1h0m0 1h0m0 1h0m1-43h0m0 0h0m0 39h0m1-34h0m0 3h0m0 13h0m0 20h0m0 0h0m1-109h0m0 73h0m0 3h0m0 8h0m0 9h0m0 8h0m0 3h0m0 4h0m0 3h0" stroke="#984EA3"/><rect x="1372.9" y="965.9" width="7.3" height="203.4" rx="2.9" fill="#FF7F00"/><path d="M1376 880h0m1 56h0m0 8h0m0 19h0m0 11h0" stroke="#FF7F00"/><rect x="1374.5" y="963.1" width="23.8" height="206.2" rx="2.9" fill="#FFFF33"/><path d="M1378 944h0m0 3h0m0 15h0m0 1h0m0 2h0m1-15h0m0 10h0m0 6h0m0 5h0m0 0h0m1-52h0m0 22h0m0 15h0m0 6h0m0 3h0m0 7h0m1-30h0m0 18h0m0 7h0m1-9h0m0 5h0m1-47h0m0 17h0m0 3h0m0 18h0m0 3h0m0 2h0m0 6h0m0 7h0m1-58h0m0 5h0m0 18h0m0 8h0m0 10h0m0 11h0m0 7h0m1-31h0m0 24h0m1-46h0m0 12h0m0 10h0m0 7h0m0 5h0m0 5h0m0 3h0m0 1h0m1-46h0m0 30h0m0 10h0m0 3h0m0 0h0m0 10h0m0 2h0m1-46h0m0 6h0m0 3h0m0 17h0m0 7h0m0 11h0m1-13h0m0 9h0m1-79h0m0 50h0m0 26h0m1-48h0m0 45h0m0 3h0m1-51h0m0 41h0m0 9h0m0 1h0m1-55h0m0 52h0m0 0h0m0 3h0m0 8h0m0 0h0m1-16h0m0 3h0m0 3h0m1-83h0m0 30h0m0 37h0m0 16h0m0 7h0" stroke="#FFFF33"/><rect x="1392.6" y="966.8" width="10.3" height="202.5" rx="2.9" fill="#A65628"/><path d="M1395 955h0m1-14h0m0 20h0m0 1h0m0 10h0m0 4h0m1-84h0m0 2h0m0 60h0m0 13h0m0 5h0m0 4h0m1-36h0m0 13h0m0 2h0m0 4h0m0 5h0m0 7h0m0 2h0m1-42h0m0 27h0m1-102h0m0 48h0m0 40h0m0 12h0m0 6h0m0 2h0" stroke="#A65628"/><rect x="1397.2" y="963.8" width="7.9" height="205.4" rx="2.9" fill="#F781BF"/><path d="M1400 896h0m0 10h0m0 42h0m0 16h0m0 3h0m0 2h0m0 2h0m1-115h0m0 73h0m0 34h0m0 2h0m0 5h0m1-44h0m0 44h0m0 1h0" stroke="#F781BF"/><rect x="1399.4" y="961.7" width="9.4" height="207.5" rx="2.9" fill="#999999"/><path d="M1402 933h0m0 17h0m1-34h0m0 10h0m0 43h0m0 2h0m1-49h0m0 49h0m1-99h0m0 66h0m0 10h0m0 11h0m0 2h0m0 2h0m0 6h0m1-24h0" stroke="#999999"/><rect x="1403.1" y="963.5" width="7" height="205.8" rx="2.9" fill="#E41A1C"/><path d="M1406 884h0m0 47h0m0 24h0m0 2h0m0 1h0m0 6h0m0 2h0m1-61h0m0 17h0m0 9h0" stroke="#E41A1C"/><rect x="1404.4" y="959.2" width="8.6" height="210.1" rx="2.9" fill="#377EB8"/><path d="M1407 957h0m0 5h0m1-70h0m0 8h0m0 19h0m0 14h0m0 21h0m0 0h0m0 9h0m1-17h0m1-10h0m0 15h0m0 6h0" stroke="#377EB8"/><rect x="1407.3" y="966.6" width="9.1" height="202.6" rx="2.9" fill="#4DAF4A"/><path d="M1410 905h0m0 55h0m1-36h0m0 18h0m0 6h0m0 13h0m0 0h0m0 1h0m0 5h0m1-24h0m0 5h0m1-25h0m0 2h0m0 11h0m0 13h0m0 4h0m0 11h0m0 2h0m0 3h0m0 1h0" stroke="#4DAF4A"/><rect x="1410.7" y="966.5" width="7.9" height="202.8" rx="2.9" fill="#984EA3"/><path d="M1414 909h0m0 44h0m0 5h0m0 2h0m1-21h0m0 7h0m0 0h0m0 27h0m1-63h0m0 20h0" stroke="#984EA3"/><rect x="1412.9" y="963.1" width="9.9" height="206.2" rx="2.9" fill="#FF7F00"/><path d="M1416 864h0m0 95h0m0 2h0m0 8h0m1-2h0m0 4h0m1-51h0m0 14h0m0 1h0m0 21h0m0 2h0m0 3h0m1-58h0m0 17h0m0 37h0m0 7h0m0 1h0" stroke="#FF7F00"/></g><path d="M181.4 656.7V1186H1467" fill="none" stroke="#8a8a8a" stroke-width="2.3" stroke-linejoin="round"/><path d="M181.4 1166.4V676.3M171.9 1166.4H181.4M171.9 1084.7H181.4M171.9 1003H181.4M171.9 921.4H181.4M171.9 839.7H181.4M171.9 758H181.4M171.9 676.3H181.4M243 1186H1418.1M243 1186v9.8M273.8 1186v9.8M301.8 1186v9.8M309 1186v9.8M332 1186v9.8M358.2 1186v9.8M377.5 1186v9.8M408.2 1186v9.8M450.8 1186v9.8M482 1186v9.8M504.3 1186v9.8M512 1186v9.8M525.6 1186v9.8M543.7 1186v9.8M553.8 1186v9.8M559.1 1186v9.8M565.2 1186v9.8M581 1186v9.8M597.9 1186v9.8M631.2 1186v9.8M646.8 1186v9.8M658.4 1186v9.8M664.4 1186v9.8M670.2 1186v9.8M679.6 1186v9.8M694.1 1186v9.8M713.2 1186v9.8M723.1 1186v9.8M734 1186v9.8M737.8 1186v9.8M758 1186v9.8M775.6 1186v9.8M786.5 1186v9.8M798 1186v9.8M821.3 1186v9.8M843.8 1186v9.8M851.3 1186v9.8M866.9 1186v9.8M891.8 1186v9.8M903.8 1186v9.8M906.6 1186v9.8M915.1 1186v9.8M933.8 1186v9.8M952.2 1186v9.8M962.5 1186v9.8M986 1186v9.8M1001.5 1186v9.8M1015 1186v9.8M1030 1186v9.8M1035.2 1186v9.8M1040.4 1186v9.8M1044.4 1186v9.8M1049.1 1186v9.8M1056.6 1186v9.8M1065.6 1186v9.8M1074.1 1186v9.8M1081.1 1186v9.8M1089.2 1186v9.8M1099.4 1186v9.8M1103.1 1186v9.8M1110 1186v9.8M1113.8 1186v9.8M1117.5 1186v9.8M1125 1186v9.8M1130 1186v9.8M1136.2 1186v9.8M1142.8 1186v9.8M1147.9 1186v9.8M1155.6 1186v9.8M1184 1186v9.8M1211.9 1186v9.8M1232.2 1186v9.8M1244.8 1186v9.8M1249 1186v9.8M1256.2 1186v9.8M1263.6 1186v9.8M1268 1186v9.8M1282.3 1186v9.8M1301.3 1186v9.8M1305.3 1186v9.8M1308.8 1186v9.8M1320.4 1186v9.8M1342.4 1186v9.8M1351.9 1186v9.8M1365.7 1186v9.8M1375.9 1186v9.8M1386.7 1186v9.8M1397.3 1186v9.8M1401.2 1186v9.8M1403.4 1186v9.8M1406.2 1186v9.8M1408.5 1186v9.8M1411.5 1186v9.8M1414.3 1186v9.8M1418.1 1186v9.8" fill="none" stroke="#3c3c3c" stroke-width="2.3" stroke-linecap="round"/><path d="M181.4 676.3H1467" stroke="#444" stroke-width="1.6" stroke-dasharray="6.5 3.03"/><text transform="translate(160,1166.4) rotate(-90)" text-anchor="middle" class="tl">0</text><text transform="translate(160,1084.7) rotate(-90)" text-anchor="middle" class="tl">1</text><text transform="translate(160,1003) rotate(-90)" text-anchor="middle" class="tl">2</text><text transform="translate(160,921.4) rotate(-90)" text-anchor="middle" class="tl">3</text><text transform="translate(160,839.7) rotate(-90)" text-anchor="middle" class="tl">4</text><text transform="translate(160,758) rotate(-90)" text-anchor="middle" class="tl">5</text><text transform="translate(160,676.3) rotate(-90)" text-anchor="middle" class="tl">6</text><text x="243" y="1255.5" text-anchor="middle" class="tl">KZ288185.1</text><text x="450.8" y="1255.5" text-anchor="middle" class="tl">KZ288193.1</text><text x="646.8" y="1255.5" text-anchor="middle" class="tl">KZ288205.1</text><text x="843.8" y="1255.5" text-anchor="middle" class="tl">KZ288220.1</text><text x="1035.2" y="1255.5" text-anchor="middle" class="tl">KZ288234.1</text><text x="1232.2" y="1255.5" text-anchor="middle" class="tl">KZ288256.1</text><text transform="translate(50.2,1031) rotate(-90)" class="yl"><tspan class="d1" dy="1.65">&#8211;</tspan><tspan dx="1.5" dy="-1.65">log10(P)</tspan></text><path d="M1713.7 1166.4 L1716.4 1163 L1719.1 1159.6 L1721.8 1156.2 L1724.5 1152.8 L1727.3 1149.4 L1730 1146 L1732.7 1142.6 L1735.4 1139.2 L1738.1 1135.8 L1740.8 1132.4 L1743.5 1128.9 L1746.2 1125.5 L1749 1122.1 L1751.7 1118.7 L1754.4 1115.3 L1757.1 1111.9 L1759.8 1108.5 L1762.5 1105.1 L1765.2 1101.7 L1767.9 1098.4 L1770.6 1095 L1773.4 1091.6 L1776.1 1088.3 L1778.8 1084.9 L1781.5 1081.6 L1784.2 1078.2 L1786.9 1074.9 L1789.6 1071.6 L1792.3 1068.3 L1795.1 1065 L1797.8 1061.7 L1800.5 1058.4 L1803.2 1055.2 L1805.9 1051.9 L1808.6 1048.6 L1811.4 1045.4 L1814.1 1042.1 L1816.8 1038.9 L1819.5 1035.6 L1822.2 1032.4 L1824.9 1029.1 L1827.7 1025.9 L1830.4 1022.7 L1833.1 1019.5 L1835.8 1016.3 L1838.5 1013.1 L1841.2 1009.9 L1843.9 1006.7 L1846.7 1003.5 L1849.4 1000.3 L1852.1 997.1 L1854.8 993.9 L1857.5 990.8 L1860.2 987.6 L1862.9 984.5 L1865.6 981.4 L1868.3 978.3 L1871 975.3 L1873.7 972.3 L1876.4 969.2 L1879.1 966.2 L1881.7 963.2 L1884.4 960.1 L1887.1 957 L1889.8 953.9 L1892.5 950.7 L1895.2 947.5 L1897.9 944.3 L1900.5 940.9 L1903.2 937.5 L1905.9 934.1 L1908.6 930.6 L1911.3 927.2 L1914 923.7 L1916.7 920.2 L1919.4 916.8 L1922 913.4 L1924.7 910 L1927.4 906.8 L1930.1 903.6 L1932.8 900.5 L1935.5 897.4 L1938.2 894.4 L1940.8 891.5 L1943.5 888.6 L1946.2 885.7 L1948.9 882.9 L1951.6 880 L1954.3 877.1 L1957 874.3 L1959.7 871.4 L1962.3 868.4 L1965 865.5 L1967.7 862.4 L1970.4 859.3 L1973.1 856.2 L1975.8 853 L1978.5 849.8 L1981.1 846.6 L1983.8 843.4 L1986.5 840.2 L1989.2 837.1 L1991.9 834.1 L1994.6 831.1 L1997.3 828.2 L2000 825.4 L2002.6 822.7 L2005.3 820.2 L2007.9 817.7 L2010.6 815.2 L2013.2 812.8 L2015.9 810.4 L2018.6 808.1 L2021.2 805.7 L2023.9 803.4 L2026.5 801 L2029.4 798.4 L2032.4 795.9 L2035.3 793.3 L2038.2 790.8 L2041.1 788.1 L2044 785.3 L2046.9 782.4 L2049.8 779.2 L2052.7 776 L2055.6 772.6 L2058.5 769.2 L2061.5 765.8 L2064.4 762.4 L2067.3 759 L2070.2 755.6 L2073.1 752.1 L2076 748.3 L2078.9 744.3 L2081.7 739.5 L2084.5 734.4 L2087.3 730.6 L2090.2 728.3 L2093.1 726.5 L2096 725 L2098.9 723.6 L2101.8 722.3 L2104.7 720.9 L2107.7 719.2 L2110.6 717.3 L2113.5 715.5 L2116.4 713.9 L2119.3 712.7 L2122.2 712.1 L2125 711.8 L2127.8 711.6 L2130.6 711.5 L2133.3 711.3 L2136.1 711.2 L2138.9 711.1" fill="none" stroke="#0000FF" stroke-width="13.5" stroke-linecap="round" stroke-linejoin="round"/><path d="M2151.8 704.2h0M2167.8 677.9h0M2203.9 675.9h0" stroke="#0000FF" stroke-width="11.2" stroke-linecap="round"/><path d="M1698.5 1186L2109.8 656.7" stroke="#FF0000" stroke-opacity="0.62" stroke-width="1.7"/><rect x="1694.1" y="656.7" width="529.7" height="529.3" fill="none" stroke="#8a8a8a" stroke-width="2.3" stroke-linejoin="round"/><path d="M1694.1 1166.4V677.9M1684.6 1166.4H1694.1M1684.6 1068.7H1694.1M1684.6 971H1694.1M1684.6 873.3H1694.1M1684.6 775.6H1694.1M1684.6 677.9H1694.1M1713.7 1186H2169.3M1713.7 1186v9.5M1789.6 1186v9.5M1865.6 1186v9.5M1941.5 1186v9.5M2017.4 1186v9.5M2093.3 1186v9.5M2169.3 1186v9.5" fill="none" stroke="#3c3c3c" stroke-width="2.3" stroke-linecap="round"/><text transform="translate(1672.5,1166.4) rotate(-90)" text-anchor="middle" class="tl">0</text><text transform="translate(1672.5,1068.7) rotate(-90)" text-anchor="middle" class="tl">1</text><text transform="translate(1672.5,971) rotate(-90)" text-anchor="middle" class="tl">2</text><text transform="translate(1672.5,873.3) rotate(-90)" text-anchor="middle" class="tl">3</text><text transform="translate(1672.5,775.6) rotate(-90)" text-anchor="middle" class="tl">4</text><text transform="translate(1672.5,677.9) rotate(-90)" text-anchor="middle" class="tl">5</text><text x="1713.7" y="1218.5" text-anchor="middle" class="tl">0</text><text x="1789.6" y="1218.5" text-anchor="middle" class="tl">1</text><text x="1865.6" y="1218.5" text-anchor="middle" class="tl">2</text><text x="1941.5" y="1218.5" text-anchor="middle" class="tl">3</text><text x="2017.4" y="1218.5" text-anchor="middle" class="tl">4</text><text x="2093.3" y="1218.5" text-anchor="middle" class="tl">5</text><text x="2169.3" y="1218.5" text-anchor="middle" class="tl">6</text><text x="1958.5" y="1262.3" text-anchor="middle" class="al">Expected <tspan class="d2" dx="2" dy="1.5">&#8211;</tspan><tspan dx="1" dy="-1.5">log10(p)</tspan></text><text transform="translate(1636.5,921.4) rotate(-90)" text-anchor="middle" class="al">Observed -log10(p)</text><text x="12.2" y="712.5" class="lt">G</text><g class="pts"><rect x="226" y="1647" width="32.2" height="175.8" rx="2.9" fill="#E41A1C"/><path d="M229 1606h0m0 24h0m0 15h0m0 10h0m1-47h0m0 28h0m0 8h0m1-12h0m0 7h0m0 1h0m0 14h0m0 0h0m1-18h0m0 7h0m0 2h0m1-50h0m0 26h0m0 33h0m1-98h0m0 26h0m0 23h0m0 13h0m0 25h0m0 10h0m1-59h0m0 18h0m0 6h0m0 22h0m0 2h0m1-36h0m0 40h0m0 6h0m0 0h0m1-48h0m0 14h0m0 13h0m0 18h0m1-40h0m0 8h0m0 10h0m0 9h0m0 2h0m1-13h0m0 27h0m1-17h0m0 19h0m1-12h0m0 13h0m1-21h0m0 15h0m0 2h0m1-26h0m0 18h0m0 3h0m1-62h0m0 36h0m0 10h0m0 1h0m0 10h0m0 2h0m0 3h0m0 2h0m0 6h0m0 0h0m1-85h0m0 64h0m0 10h0m0 4h0m0 6h0m0 1h0m1-68h0m0 57h0m0 4h0m0 8h0m1-4h0m1-46h0m0 21h0m0 18h0m1-3h0m0 0h0m0 6h0m0 7h0m1-49h0m0 27h0m0 3h0m0 7h0m0 1h0m1-9h0m0 10h0m0 11h0m0 0h0m1-93h0m0 61h0m0 24h0m0 0h0m0 7h0m0 1h0m1-43h0m0 20h0m0 15h0m1 2h0m1-33h0m0 37h0" stroke="#E41A1C"/><rect x="252.5" y="1662.4" width="46.2" height="160.4" rx="2.9" fill="#377EB8"/><path d="M255 1650h0m0 12h0m0 9h0m1-40h0m0 13h0m0 13h0m0 6h0m0 4h0m0 3h0m1-93h0m0 53h0m0 15h0m0 10h0m0 1h0m0 8h0m0 0h0m0 5h0m1-31h0m0 2h0m0 20h0m1 7h0m0 0h0m1-64h0m0 64h0m0 0h0m1-2h0m1-47h0m0 11h0m0 1h0m0 39h0m1-22h0m0 13h0m0 3h0m0 1h0m1-19h0m0 17h0m0 8h0m1-23h0m0 1h0m0 8h0m0 1h0m0 1h0m0 6h0m0 1h0m0 5h0m1-132h0m0 26h0m1 61h0m0 3h0m0 39h0m1-49h0m0 26h0m0 26h0m1-16h0m0 12h0m1-80h0m0 27h0m0 19h0m0 23h0m0 8h0m0 2h0m1-44h0m0 1h0m0 12h0m0 24h0m0 4h0m0 2h0m0 5h0m1-22h0m0 7h0m1-57h0m0 71h0m0 0h0m1-36h0m0 4h0m0 0h0m0 10h0m0 0h0m0 5h0m0 15h0m1-4h0m0 0h0m0 5h0m1-43h0m0 2h0m0 15h0m0 11h0m0 3h0m0 1h0m1-23h0m0 7h0m0 23h0m1-12h0m0 1h0m0 16h0m1-15h0m0 6h0m0 3h0m0 0h0m0 5h0m0 1h0m1-43h0m0 4h0m0 10h0m0 9h0m0 11h0m1-39h0m0 28h0m0 17h0m0 4h0m0 1h0m1-39h0m0 16h0m0 2h0m0 10h0m0 0h0m1-33h0m0 21h0m0 2h0m0 1h0m0 10h0m0 5h0m0 1h0m0 4h0m1-80h0m0 48h0m0 28h0m1-20h0m0 10h0m0 0h0m0 3h0m0 8h0m0 1h0m1-52h0m0 28h0m0 17h0m0 3h0m0 6h0m0 0h0m1-187h0m0 139h0m0 37h0m1-16h0m0 12h0m0 14h0m1-45h0m0 10h0m0 22h0m0 1h0m0 6h0m0 6h0m1-25h0m0 0h0m0 10h0m0 5h0m0 3h0m1-11h0m0 13h0m0 4h0m0 2h0m1-58h0m0 49h0m1-36h0m0 32h0m1 9h0m0 2h0m0 0h0m1-38h0m0 2h0m0 15h0m0 11h0m0 2h0m0 2h0m0 2h0m1-16h0" stroke="#377EB8"/><rect x="293" y="1635.1" width="15.7" height="187.7" rx="2.9" fill="#4DAF4A"/><path d="M296 1634h0m1-74h0m0 63h0m0 5h0m0 1h0m0 1h0m0 11h0m1-39h0m0 3h0m0 18h0m0 12h0m1 2h0m0 5h0m1-66h0m0 18h0m0 19h0m0 17h0m0 3h0m0 1h0m1-107h0m1 94h0m0 8h0m1-23h0m0 5h0m0 18h0m0 7h0m0 3h0m0 4h0m1-16h0m0 8h0m0 7h0m1-59h0m0 45h0m0 14h0m0 0h0m1-21h0m0 9h0m0 13h0" stroke="#4DAF4A"/><rect x="303" y="1644.2" width="11.7" height="178.6" rx="2.9" fill="#984EA3"/><path d="M306 1582h0m1 43h0m0 7h0m0 4h0m0 4h0m0 9h0m1-47h0m0 29h0m0 5h0m0 1h0m0 11h0m0 2h0m1-63h0m0 41h0m0 2h0m0 17h0m1-55h0m0 30h0m0 22h0m0 4h0m1-46h0m0 9h0m0 20h0m0 12h0m0 2h0m1-19h0m0 23h0" stroke="#984EA3"/><rect x="309" y="1647" width="44.7" height="175.8" rx="2.9" fill="#FF7F00"/><path d="M312 1635h0m0 17h0m0 2h0m1-4h0m0 3h0m0 0h0m1-42h0m0 2h0m0 38h0m0 0h0m0 2h0m1-36h0m0 2h0m0 28h0m1-16h0m0 4h0m0 6h0m0 3h0m1-24h0m0 9h0m0 18h0m0 2h0m1-44h0m0 3h0m0 12h0m0 14h0m0 2h0m0 7h0m0 9h0m1-34h0m0 20h0m0 2h0m0 3h0m0 8h0m0 1h0m0 2h0m1-23h0m0 13h0m0 0h0m0 6h0m0 4h0m1-95h0m0 89h0m1-19h0m0 5h0m0 10h0m0 9h0m1-26h0m0 7h0m0 5h0m0 4h0m1-7h0m0 14h0m1-57h0m0 2h0m0 30h0m0 9h0m0 18h0m0 1h0m1-11h0m1 13h0m1-27h0m0 12h0m0 8h0m0 1h0m1-19h0m0 4h0m0 11h0m0 1h0m0 8h0m0 1h0m1-15h0m0 7h0m0 5h0m0 0h0m1-78h0m0 70h0m0 8h0m0 0h0m1-16h0m1-27h0m0 8h0m0 20h0m0 3h0m0 12h0m1-42h0m0 35h0m0 3h0m1-73h0m0 16h0m0 13h0m0 29h0m0 4h0m0 1h0m0 9h0m0 5h0m1-90h0m0 42h0m0 38h0m1-2h0m0 8h0m1-12h0m0 6h0m0 4h0m0 1h0m0 7h0m1-16h0m0 17h0m1-38h0m0 10h0m0 23h0m1-21h0m0 3h0m1 8h0m0 5h0m0 2h0m0 2h0m1-116h0m0 24h0m0 92h0m0 1h0m0 3h0m1-11h0m0 8h0m0 3h0m0 1h0m1-34h0m0 3h0m0 8h0m0 9h0m0 4h0m1-2h0m0 9h0m0 1h0m0 0h0m1-43h0m0 37h0m0 9h0m1-33h0m0 24h0m0 6h0m0 1h0m0 2h0m0 0h0m1-10h0m0 3h0m1-80h0m0 61h0m0 9h0m0 11h0m0 0h0m1-11h0m0 7h0" stroke="#FF7F00"/><rect x="348" y="1637.2" width="23.7" height="185.6" rx="2.9" fill="#FFFF33"/><path d="M351 1645h0m1-43h0m0 41h0m1-115h0m0 108h0m1-26h0m0 22h0m0 8h0m0 2h0m0 3h0m1-23h0m0 1h0m0 16h0m0 2h0m0 4h0m1-24h0m0 8h0m0 4h0m0 6h0m1-39h0m0 3h0m0 15h0m0 8h0m0 11h0m0 0h0m1-16h0m0 15h0m0 3h0m1-6h0m1-47h0m0 35h0m0 14h0m1-52h0m0 24h0m0 23h0m0 4h0m1-57h0m0 2h0m0 38h0m0 5h0m0 17h0m1-41h0m0 4h0m0 16h0m0 1h0m0 13h0m0 12h0m1-47h0m0 8h0m0 13h0m0 16h0m0 6h0m1-85h0m0 60h0m0 24h0m0 1h0m0 3h0m1-14h0m0 1h0m0 5h0m0 3h0m0 3h0m1-66h0m0 17h0m0 32h0m0 5h0m0 7h0m0 4h0m1-3h0m0 1h0m0 6h0m1-71h0m0 31h0m0 37h0" stroke="#FFFF33"/><rect x="366" y="1667.3" width="23.7" height="155.5" rx="2.9" fill="#A65628"/><path d="M369 1658h0m0 4h0m0 3h0m0 2h0m1-107h0m0 103h0m0 8h0m0 4h0m1-14h0m0 0h0m0 5h0m0 5h0m1-16h0m1 14h0m1-13h0m0 7h0m0 2h0m0 1h0m1-3h0m1-8h0m0 3h0m0 11h0m0 0h0m0 2h0m1-178h0m0 140h0m0 1h0m0 34h0m0 3h0m0 3h0m1-37h0m0 12h0m0 7h0m0 3h0m0 10h0m0 2h0m1-21h0m0 8h0m0 3h0m0 8h0m1-43h0m0 15h0m0 27h0m0 5h0m1-33h0m0 5h0m0 2h0m0 13h0m0 14h0m1-6h0m1-73h0m0 15h0m0 30h0m0 27h0m1-26h0m0 35h0m1-26h0m0 5h0m0 16h0m1-13h0m0 2h0m0 7h0m1-20h0m0 26h0" stroke="#A65628"/><rect x="384" y="1656.8" width="48.5" height="166" rx="2.9" fill="#F781BF"/><path d="M387 1628h0m0 6h0m0 7h0m0 4h0m1-63h0m0 62h0m0 3h0m0 13h0m0 5h0m1-21h0m0 5h0m0 14h0m1-32h0m0 12h0m0 1h0m0 11h0m0 2h0m0 6h0m1-43h0m0 10h0m0 33h0m0 1h0m1-41h0m1-1h0m0 21h0m0 18h0m0 0h0m1-308h0m0 34h0m0 268h0m0 2h0m0 2h0m1-5h0m1-43h0m0 7h0m0 23h0m0 17h0m1-59h0m1-5h0m0 8h0m0 35h0m0 21h0m0 5h0m0 1h0m0 1h0m1-43h0m0 18h0m1-5h0m0 27h0m0 3h0m1-59h0m0 58h0m1-23h0m0 11h0m0 5h0m1-24h0m0 27h0m1-42h0m0 29h0m0 6h0m1-40h0m0 33h0m0 5h0m0 9h0m0 5h0m1-63h0m0 62h0m1-30h0m0 14h0m0 9h0m0 7h0m1-12h0m0 5h0m2-33h0m0 13h0m1 4h0m0 6h0m1-1h0m1-38h0m0 18h0m0 26h0m1-20h0m0 12h0m0 5h0m1-5h0m0 4h0m0 12h0m0 0h0m0 3h0m1-11h0m0 6h0m1-27h0m0 19h0m0 2h0m0 8h0m0 1h0m1-57h0m0 12h0m0 21h0m0 21h0m0 5h0m1-4h0m1-39h0m0 21h0m0 5h0m0 18h0m1-76h0m1 22h0m0 38h0m0 1h0m0 3h0m0 3h0m0 2h0m0 5h0m0 0h0m1-39h0m0 24h0m0 3h0m0 3h0m0 5h0m0 3h0m0 3h0m1-28h0m0 0h0m0 23h0m0 4h0m0 2h0m1-71h0m0 25h0m0 12h0m0 24h0m0 1h0m1 8h0m0 0h0m1-11h0m0 1h0m0 4h0m0 1h0m1-38h0m0 30h0m0 10h0m0 2h0m1-26h0m0 1h0m0 25h0m1-31h0" stroke="#F781BF"/><rect x="426.8" y="1659.6" width="46.5" height="163.2" rx="2.9" fill="#999999"/><path d="M430 1637h0m0 20h0m0 10h0m1-24h0m0 11h0m1-32h0m0 12h0m0 16h0m0 2h0m0 9h0m0 4h0m0 1h0m1-39h0m0 17h0m0 6h0m0 5h0m0 8h0m0 0h0m1-25h0m0 7h0m0 13h0m0 9h0m0 1h0m1-63h0m0 46h0m0 13h0m1-22h0m0 3h0m0 13h0m0 8h0m0 2h0m1-23h0m1-57h0m0 63h0m0 1h0m0 5h0m0 10h0m1-61h0m0 23h0m0 25h0m0 9h0m1-20h0m0 13h0m0 11h0m1-63h0m0 47h0m0 12h0m0 2h0m0 2h0m1-44h0m0 25h0m1-49h0m0 59h0m0 5h0m1-70h0m0 57h0m0 7h0m0 3h0m0 5h0m1-41h0m0 31h0m0 11h0m1-18h0m0 3h0m0 14h0m1-49h0m0 5h0m0 28h0m0 1h0m0 7h0m0 4h0m0 1h0m0 1h0m0 2h0m1-10h0m0 11h0m1-42h0m0 18h0m0 12h0m0 9h0m1-49h0m0 37h0m0 10h0m0 7h0m1-35h0m0 13h0m0 0h0m0 9h0m0 2h0m0 5h0m0 5h0m1-5h0m0 1h0m1-32h0m0 30h0m1-52h0m0 45h0m0 10h0m1-41h0m0 1h0m0 9h0m0 10h0m0 17h0m1-8h0m1-110h0m0 122h0m1-51h0m0 26h0m0 11h0m0 2h0m0 4h0m0 12h0m1-32h0m0 13h0m0 1h0m1-27h0m0 7h0m0 8h0m0 19h0m0 6h0m1-20h0m0 3h0m0 2h0m0 8h0m1-47h0m0 0h0m0 28h0m0 3h0m0 19h0m0 3h0m0 5h0m1-36h0m0 16h0m1-4h0m0 4h0m0 7h0m0 6h0m0 2h0m0 5h0m1-87h0m0 85h0m1-125h0m0 106h0m0 22h0m1-31h0m0 8h0m0 23h0m1-34h0m0 18h0m1-36h0m0 41h0m0 6h0m0 0h0m0 3h0m1-42h0m0 20h0m0 17h0m0 1h0m0 6h0" stroke="#999999"/><rect x="467.5" y="1644.2" width="32.7" height="178.6" rx="2.9" fill="#E41A1C"/><path d="M471 1609h0m0 22h0m0 3h0m0 18h0m0 1h0m1-49h0m0 9h0m0 4h0m0 6h0m1-18h0m0 6h0m0 24h0m0 16h0m1-41h0m0 6h0m0 17h0m0 1h0m0 10h0m1-32h0m0 17h0m0 1h0m0 12h0m0 1h0m0 6h0m0 3h0m2-16h0m0 16h0m1-58h0m0 23h0m0 28h0m0 3h0m0 2h0m1-11h0m0 9h0m0 2h0m1-22h0m0 4h0m0 9h0m1-43h0m0 32h0m1-10h0m0 8h0m0 13h0m0 10h0m0 0h0m1-85h0m0 53h0m0 23h0m0 10h0m1-74h0m0 44h0m0 17h0m0 5h0m0 2h0m1-21h0m0 3h0m0 18h0m1-34h0m0 9h0m0 17h0m0 6h0m1-11h0m0 18h0m1-27h0m0 4h0m0 11h0m1 8h0m1-39h0m0 33h0m0 3h0m1-8h0m1-6h0m0 16h0m0 6h0m1-46h0m0 5h0m0 16h0m0 2h0m0 14h0m0 4h0m0 5h0m1-19h0m2-6h0m0 18h0m0 5h0m0 1h0m1-50h0m0 17h0m0 9h0m0 1h0m0 1h0m0 9h0m0 11h0m0 2h0m0 2h0" stroke="#E41A1C"/><rect x="494.5" y="1649.1" width="18.3" height="173.7" rx="2.9" fill="#377EB8"/><path d="M498 1627h0m0 9h0m0 3h0m0 2h0m0 11h0m0 4h0m0 1h0m1-57h0m0 23h0m0 10h0m0 8h0m0 16h0m1-11h0m0 8h0m1-43h0m0 8h0m0 19h0m1-38h0m0 26h0m0 13h0m0 3h0m0 11h0m1-30h0m0 33h0m1-6h0m0 3h0m1-46h0m0 8h0m0 17h0m1 24h0m1-65h0m0 24h0m0 22h0m0 11h0m1-11h0m0 1h0m1-23h0m0 26h0" stroke="#377EB8"/><rect x="507.1" y="1637.2" width="11.3" height="185.6" rx="2.9" fill="#4DAF4A"/><path d="M510 1598h0m1 25h0m1 5h0m0 14h0m1-38h0m0 27h0m0 8h0m1-77h0m0 51h0m0 27h0m0 5h0m1-64h0m0 17h0m0 35h0m0 5h0m0 1h0" stroke="#4DAF4A"/><rect x="512.8" y="1634.4" width="25.2" height="188.4" rx="2.9" fill="#984EA3"/><path d="M516 1606h0m1-9h0m0 28h0m0 14h0m0 3h0m1-137h0m0 99h0m0 21h0m0 9h0m0 7h0m1-47h0m0 1h0m0 20h0m0 23h0m1-162h0m0 142h0m1 13h0m0 6h0m0 3h0m0 1h0m1-124h0m0 19h0m0 30h0m0 16h0m0 37h0m0 7h0m0 15h0m1-36h0m0 1h0m0 30h0m0 6h0m1-52h0m0 48h0m1-77h0m0 75h0m0 7h0m1-27h0m0 6h0m0 12h0m0 5h0m0 4h0m1-18h0m0 4h0m1-50h0m0 6h0m0 33h0m0 1h0m0 7h0m0 7h0m0 1h0m1-18h0m0 4h0m0 2h0m0 20h0m1-36h0m0 14h0m0 8h0m0 10h0m0 4h0m1-23h0m0 1h0m0 18h0m1-29h0m0 7h0m0 9h0m0 4h0m0 0h0m0 2h0m0 4h0m0 0h0m1-19h0m0 17h0m0 1h0m0 6h0m0 2h0m1-17h0m1-30h0m0 25h0m0 11h0" stroke="#984EA3"/><rect x="532.2" y="1659.6" width="20.3" height="163.2" rx="2.9" fill="#FF7F00"/><path d="M535 1631h0m0 12h0m0 22h0m0 2h0m1-81h0m0 55h0m0 13h0m0 1h0m0 3h0m2-19h0m0 10h0m0 6h0m0 1h0m0 3h0m0 8h0m1-91h0m0 51h0m0 22h0m0 3h0m0 11h0m1-12h0m0 0h0m0 14h0m1-42h0m0 21h0m0 15h0m1-64h0m0 46h0m0 20h0m1-44h0m0 36h0m0 9h0m1-20h0m0 16h0m0 3h0m0 4h0m1-5h0m0 1h0m0 1h0m1-48h0m0 4h0m0 29h0m0 4h0m0 9h0m1-39h0m0 14h0m0 4h0m0 4h0m0 14h0m0 3h0m1-110h0m0 92h0m0 8h0m0 6h0m0 8h0m0 2h0m0 1h0m1-47h0m0 31h0m0 4h0m0 3h0m0 2h0m0 3h0m1-9h0" stroke="#FF7F00"/><rect x="546.9" y="1651.9" width="13.2" height="170.9" rx="2.9" fill="#FFFF33"/><path d="M550 1640h0m0 1h0m2 1h0m0 6h0m0 7h0m1-25h0m0 18h0m0 3h0m0 1h0m0 1h0m0 4h0m1-31h0m0 3h0m0 20h0m0 5h0m1-2h0m0 7h0m1-154h0m0 73h0m0 44h0m0 19h0m0 18h0m1-68h0m0 26h0m0 30h0m0 4h0" stroke="#FFFF33"/><rect x="554.4" y="1637.2" width="10.9" height="185.6" rx="2.9" fill="#A65628"/><path d="M557 1641h0m1-25h0m0 1h0m0 12h0m0 2h0m0 12h0m1-87h0m0 21h0m0 40h0m0 16h0m0 6h0m1-71h0m0 16h0m0 27h0m0 28h0m1-46h0m1 16h0m0 33h0" stroke="#A65628"/><rect x="559.6" y="1662.4" width="13.6" height="160.4" rx="2.9" fill="#F781BF"/><path d="M563 1579h0m0 75h0m0 4h0m0 8h0m1-12h0m1 8h0m0 7h0m0 1h0m0 1h0m1-51h0m0 16h0m0 1h0m0 14h0m0 3h0m0 8h0m1-44h0m0 30h0m0 0h0m0 3h0m0 9h0m0 11h0m1-30h0m0 2h0m0 17h0m0 6h0m0 2h0m1-27h0m0 6h0m1-30h0m0 12h0m0 16h0m0 15h0m0 1h0m0 6h0" stroke="#F781BF"/><rect x="567.5" y="1656.8" width="25.8" height="166" rx="2.9" fill="#999999"/><path d="M571 1639h0m0 20h0m1-16h0m0 1h0m0 6h0m0 10h0m1-23h0m0 7h0m0 10h0m0 2h0m0 5h0m0 1h0m0 1h0m0 2h0m1-39h0m0 23h0m0 1h0m0 1h0m0 1h0m0 6h0m0 4h0m0 1h0m1-143h0m0 130h0m0 13h0m1-5h0m0 4h0m1-23h0m0 14h0m1-6h0m1-9h0m1-4h0m0 19h0m0 6h0m0 6h0m1-3h0m0 1h0m1-21h0m0 1h0m0 12h0m0 4h0m0 2h0m0 2h0m1-13h0m0 8h0m0 1h0m1-33h0m0 13h0m0 1h0m0 5h0m0 2h0m0 6h0m0 4h0m0 7h0m1-66h0m0 11h0m0 45h0m0 7h0m1-75h0m0 59h0m0 17h0m1-21h0m0 3h0m0 15h0m1-20h0m0 3h0m0 7h0m0 1h0m0 7h0m1-43h0m0 9h0m0 34h0m0 2h0m0 1h0m1-49h0m0 29h0m0 6h0m0 13h0" stroke="#999999"/><rect x="587.6" y="1637.2" width="32.1" height="185.6" rx="2.9" fill="#E41A1C"/><path d="M590 1579h0m1 10h0m0 8h0m0 3h0m0 8h0m0 4h0m0 28h0m0 2h0m1-55h0m0 43h0m0 2h0m0 7h0m1-42h0m0 27h0m0 21h0m1-28h0m0 8h0m0 3h0m0 3h0m1-22h0m0 18h0m0 5h0m0 2h0m0 5h0m1-41h0m0 15h0m1-11h0m0 25h0m0 9h0m0 7h0m0 1h0m0 0h0m1-13h0m0 2h0m0 3h0m1-37h0m0 13h0m0 7h0m0 3h0m1-19h0m0 21h0m0 9h0m0 4h0m0 1h0m0 3h0m0 1h0m0 2h0m1-33h0m0 21h0m0 3h0m0 4h0m1-63h0m0 50h0m0 13h0m1-4h0m0 5h0m0 6h0m1-86h0m0 54h0m0 8h0m0 7h0m1-148h0m0 114h0m0 13h0m0 22h0m0 1h0m0 10h0m0 0h0m0 2h0m1-25h0m0 19h0m0 0h0m0 7h0m0 1h0m1-71h0m0 52h0m0 2h0m0 5h0m0 5h0m0 4h0m0 2h0m0 0h0m1-95h0m0 68h0m0 12h0m0 2h0m0 3h0m0 1h0m1-48h0m0 14h0m0 26h0m0 5h0m0 1h0m0 6h0m1-35h0m0 12h0m0 7h0m0 3h0m0 17h0m1-16h0m0 16h0m0 1h0m1-30h0m0 10h0m0 8h0m0 7h0m0 2h0m0 0h0m0 3h0m1-40h0m0 13h0m0 7h0m0 14h0m0 5h0m0 1h0m1-45h0m0 12h0m0 24h0m0 4h0m0 2h0m0 2h0m1-19h0m0 6h0m0 2h0m0 7h0m1-49h0m0 32h0m0 7h0m0 4h0m0 12h0" stroke="#E41A1C"/><rect x="614" y="1667.3" width="34.6" height="155.5" rx="2.9" fill="#377EB8"/><path d="M617 1668h0m0 4h0m1-27h0m0 26h0m1-82h0m0 0h0m0 63h0m0 2h0m0 6h0m0 8h0m1-21h0m0 17h0m0 4h0m0 7h0m1-54h0m0 28h0m0 16h0m0 2h0m0 1h0m0 7h0m1-27h0m0 1h0m1-66h0m0 41h0m0 32h0m1-30h0m0 28h0m1 7h0m0 7h0m0 1h0m0 6h0m1-40h0m0 20h0m0 17h0m0 0h0m0 2h0m0 0h0m1-59h0m0 25h0m0 16h0m0 2h0m0 17h0m0 0h0m1-29h0m0 18h0m0 9h0m0 2h0m1-18h0m1-35h0m0 38h0m0 5h0m0 1h0m0 9h0m1-27h0m0 2h0m0 1h0m0 13h0m0 4h0m1-44h0m0 1h0m0 23h0m0 12h0m0 15h0m1-35h0m0 19h0m0 15h0m1-30h0m0 10h0m0 7h0m1-99h0m0 75h0m0 15h0m0 3h0m0 8h0m0 4h0m0 1h0m0 1h0m1-79h0m0 13h0m0 28h0m0 18h0m0 1h0m0 10h0m1-48h0m0 45h0m0 6h0m0 2h0m1-51h0m0 7h0m0 6h0m0 2h0m0 7h0m0 2h0m0 23h0m0 4h0m0 7h0m0 1h0m0 0h0m1-21h0m0 15h0m1-11h0m0 14h0m0 3h0m1-69h0m0 32h0m0 4h0m0 4h0m0 24h0m0 4h0m0 0h0m1-67h0m0 61h0m0 6h0m0 1h0m0 1h0m1-33h0m0 24h0m0 6h0m1-98h0m0 54h0m0 12h0m0 2h0m0 7h0m0 0h0m0 21h0m1-11h0m0 1h0m0 1h0m0 2h0m0 5h0m0 6h0m1-35h0" stroke="#377EB8"/><rect x="642.9" y="1634.4" width="10" height="188.4" rx="2.9" fill="#4DAF4A"/><path d="M646 1608h0m0 11h0m2-4h0m0 1h0m0 19h0m0 1h0m0 2h0m0 2h0m1-39h0m0 5h0m0 26h0m0 3h0m0 5h0m1-10h0m0 8h0" stroke="#4DAF4A"/><rect x="647.2" y="1644.9" width="18.8" height="177.9" rx="2.9" fill="#984EA3"/><path d="M650 1599h0m0 14h0m0 40h0m1-49h0m0 39h0m1-13h0m0 5h0m0 6h0m0 4h0m0 0h0m0 3h0m1-5h0m0 1h0m0 4h0m1-27h0m0 4h0m0 3h0m0 5h0m0 4h0m1-91h0m0 82h0m0 2h0m0 1h0m0 14h0m1 3h0m0 1h0m1-55h0m0 36h0m0 1h0m0 13h0m1-7h0m0 11h0m1 0h0m1-23h0m0 2h0m0 3h0m0 22h0m1-38h0m0 7h0m0 23h0m0 6h0m1-34h0m0 26h0m0 1h0m0 2h0m1-61h0m0 11h0m0 12h0m0 33h0m0 7h0m0 2h0" stroke="#984EA3"/><rect x="660.3" y="1634.4" width="8.5" height="188.4" rx="2.9" fill="#FF7F00"/><path d="M664 1610h0m0 33h0m1-44h0m0 1h0m0 33h0m0 9h0m0 1h0m1-25h0m0 22h0m0 0h0" stroke="#FF7F00"/><rect x="663.1" y="1634.4" width="13.8" height="188.4" rx="2.9" fill="#FFFF33"/><path d="M666 1597h0m0 32h0m0 13h0m1-57h0m0 9h0m0 13h0m0 10h0m0 20h0m0 4h0m1-46h0m0 24h0m0 8h0m0 10h0m1-13h0m0 8h0m0 3h0m0 1h0m1-57h0m0 23h0m0 20h0m0 8h0m0 8h0m0 3h0m1-13h0m0 7h0m0 3h0m1-15h0m1-50h0m0 16h0m0 45h0m0 2h0m0 2h0m1-2h0m0 3h0" stroke="#FFFF33"/><rect x="671.2" y="1644.9" width="15.5" height="177.9" rx="2.9" fill="#A65628"/><path d="M674 1645h0m1-43h0m0 20h0m0 8h0m0 23h0m1-39h0m0 21h0m0 4h0m0 9h0m0 5h0m1-55h0m0 39h0m1-8h0m1-15h0m0 32h0m1-16h0m0 7h0m0 4h0m0 1h0m0 2h0m0 1h0m0 4h0m0 4h0m1-63h0m0 25h0m0 3h0m0 29h0m1-32h0m0 30h0m0 1h0m1-45h0m0 9h0m0 1h0m0 6h0m0 13h0m0 18h0m0 5h0m1-27h0m0 3h0" stroke="#A65628"/><rect x="681" y="1639.3" width="33.7" height="183.5" rx="2.9" fill="#F781BF"/><path d="M684 1633h0m0 2h0m0 10h0m1-36h0m0 25h0m0 10h0m0 3h0m1-6h0m1-20h0m0 4h0m0 15h0m1-11h0m0 7h0m0 5h0m0 3h0m1-25h0m0 10h0m0 7h0m0 2h0m1-81h0m0 63h0m0 4h0m0 8h0m0 12h0m0 0h0m0 4h0m1-102h0m0 33h0m1 49h0m1-1h0m0 14h0m0 2h0m0 4h0m1-80h0m0 19h0m0 29h0m0 7h0m0 9h0m1 3h0m0 2h0m0 2h0m1-23h0m0 8h0m0 1h0m0 14h0m1-20h0m0 11h0m0 13h0m0 1h0m0 3h0m1-72h0m0 23h0m0 25h0m1-22h0m0 23h0m0 19h0m1-45h0m0 26h0m0 9h0m0 9h0m0 1h0m0 0h0m1-18h0m0 16h0m0 0h0m0 7h0m1-52h0m0 24h0m0 3h0m0 13h0m0 7h0m0 4h0m1-35h0m0 2h0m1 8h0m1-10h0m0 20h0m0 8h0m1-13h0m0 15h0m0 3h0m0 2h0m0 0h0m1-58h0m0 36h0m1-34h0m0 11h0m0 0h0m0 26h0m0 7h0m0 6h0m0 1h0m1-79h0m0 0h0m0 34h0m0 20h0m0 18h0m0 3h0m0 9h0m0 0h0m1-38h0m0 25h0m0 7h0m1-41h0m0 6h0m0 12h0m0 12h0m0 6h0m0 9h0" stroke="#F781BF"/><rect x="709" y="1659.6" width="8.9" height="163.2" rx="2.9" fill="#999999"/><path d="M712 1661h0m1-31h0m0 7h0m0 2h0m0 12h0m0 1h0m0 7h0m0 2h0m0 3h0m0 1h0m1-41h0m0 43h0m1-106h0m0 104h0m0 1h0" stroke="#999999"/><rect x="712.2" y="1632.3" width="23.4" height="190.5" rx="2.9" fill="#E41A1C"/><path d="M716 1594h0m0 6h0m0 19h0m0 12h0m0 0h0m0 7h0m1-83h0m0 56h0m0 5h0m0 9h0m0 9h0m0 4h0m1-22h0m0 8h0m0 3h0m0 7h0m1-78h0m0 30h0m1-44h0m0 60h0m0 0h0m0 18h0m0 4h0m0 6h0m0 6h0m1-18h0m0 7h0m0 13h0m0 1h0m1-23h0m0 7h0m0 4h0m0 0h0m0 0h0m0 2h0m0 9h0m1-42h0m0 31h0m0 0h0m0 7h0m1-90h0m0 75h0m0 21h0m1-49h0m0 21h0m0 10h0m0 4h0m2-55h0m0 40h0m0 28h0m1-22h0m0 4h0m0 8h0m0 9h0m1-27h0m0 12h0m1-39h0m0 19h0m0 22h0m0 2h0m0 10h0m1-80h0m0 19h0m0 41h0m1 14h0m1-8h0" stroke="#E41A1C"/><rect x="730" y="1629.5" width="8.2" height="193.3" rx="2.9" fill="#377EB8"/><path d="M734 1587h0m0 46h0m0 1h0m1-38h0m0 1h0m0 29h0m0 2h0m0 1h0m0 3h0" stroke="#377EB8"/><rect x="732.5" y="1629.5" width="9.8" height="193.3" rx="2.9" fill="#4DAF4A"/><path d="M735 1603h0m1 10h0m0 10h0m1-65h0m1 67h0m0 1h0m0 2h0m1 1h0" stroke="#4DAF4A"/><rect x="736.6" y="1647" width="41" height="175.8" rx="2.9" fill="#984EA3"/><path d="M739 1609h0m0 15h0m1 1h0m1-13h0m0 22h0m0 15h0m0 0h0m1-43h0m0 42h0m0 0h0m0 3h0m1-2h0m0 0h0m0 2h0m1-46h0m0 22h0m0 13h0m0 7h0m1-39h0m0 29h0m0 3h0m0 11h0m1-33h0m0 27h0m0 9h0m1-53h0m0 38h0m0 2h0m0 7h0m1-32h0m0 19h0m0 3h0m0 12h0m1-33h0m0 1h0m0 21h0m0 1h0m0 6h0m1-51h0m0 32h0m0 4h0m0 10h0m0 1h0m0 10h0m1-11h0m0 2h0m0 0h0m0 7h0m1-19h0m0 11h0m1-19h0m0 15h0m0 3h0m0 3h0m0 0h0m1-31h0m0 18h0m0 16h0m0 2h0m1-41h0m0 6h0m0 34h0m0 2h0m0 3h0m1-10h0m1 9h0m0 1h0m1-84h0m0 68h0m0 7h0m0 8h0m1-78h0m0 48h0m0 2h0m0 16h0m0 9h0m1-26h0m0 23h0m1-46h0m0 44h0m0 7h0m0 2h0m1-7h0m1-126h0m0 124h0m0 2h0m1 1h0m0 2h0m0 3h0m0 3h0m1-25h0m0 5h0m0 11h0m0 9h0m1-27h0m0 8h0m1-35h0m0 22h0m1-6h0m0 7h0m0 6h0m0 23h0m1-7h0m0 3h0m0 2h0m1-30h0m0 7h0m2-5h0m0 20h0m0 2h0m0 4h0m0 2h0m1-24h0m0 6h0m0 20h0m1-21h0m0 5h0m0 12h0m0 5h0" stroke="#984EA3"/><rect x="771.9" y="1629.5" width="9.4" height="193.3" rx="2.9" fill="#FF7F00"/><path d="M775 1570h0m0 47h0m0 6h0m0 10h0m1-66h0m0 64h0m1-7h0m0 0h0m0 10h0m0 1h0m0 0h0m1-48h0m0 25h0m0 14h0m0 3h0m0 7h0" stroke="#FF7F00"/><rect x="775.6" y="1629.5" width="22.1" height="193.3" rx="2.9" fill="#FFFF33"/><path d="M779 1619h0m0 7h0m0 2h0m0 10h0m1-80h0m0 45h0m0 17h0m0 5h0m0 4h0m0 8h0m1-57h0m0 23h0m0 23h0m0 4h0m0 2h0m1-35h0m0 7h0m0 2h0m0 15h0m0 2h0m1-35h0m0 20h0m0 13h0m0 12h0m0 3h0m0 2h0m1-41h0m0 17h0m1 3h0m0 4h0m0 13h0m0 2h0m1-27h0m0 0h0m0 12h0m0 11h0m0 6h0m1-3h0m0 2h0m1-30h0m0 0h0m0 14h0m0 5h0m0 4h0m0 4h0m1-37h0m0 23h0m0 11h0m0 1h0m1-66h0m0 43h0m0 13h0m0 6h0m0 2h0m0 3h0m1-32h0m0 15h0m0 6h0m0 5h0m1-48h0m0 17h0m1 11h0m0 6h0m0 3h0m0 1h0m0 7h0m0 13h0m0 0h0m1-16h0m0 11h0m0 1h0m1-64h0m0 55h0m0 1h0m0 1h0" stroke="#FFFF33"/><rect x="792" y="1642.1" width="11.6" height="180.7" rx="2.9" fill="#A65628"/><path d="M795 1620h0m0 19h0m0 0h0m1-92h0m0 42h0m0 39h0m0 13h0m1-16h0m0 2h0m0 17h0m0 1h0m0 0h0m0 1h0m1-48h0m0 21h0m0 28h0m0 2h0m1-26h0m0 1h0m0 8h0m0 1h0m0 0h0m0 14h0m1-37h0m0 2h0m0 16h0m0 3h0m0 5h0m0 6h0m0 5h0m1-37h0m0 21h0m0 3h0" stroke="#A65628"/><rect x="797.9" y="1644.9" width="41.9" height="177.9" rx="2.9" fill="#F781BF"/><path d="M802 1559h0m0 49h0m0 29h0m0 4h0m0 4h0m0 1h0m0 0h0m0 1h0m0 3h0m0 2h0m1-6h0m0 4h0m0 1h0m1-116h0m0 59h0m0 32h0m0 0h0m0 4h0m0 21h0m1-40h0m0 23h0m0 1h0m0 0h0m0 8h0m1-19h0m0 4h0m0 5h0m0 2h0m0 10h0m0 1h0m0 0h0m0 2h0m1-80h0m0 42h0m0 5h0m0 6h0m0 22h0m1-4h0m0 10h0m0 0h0m0 3h0m1-8h0m0 3h0m0 3h0m1-16h0m0 5h0m0 5h0m1 0h0m0 0h0m0 1h0m0 2h0m0 2h0m1-102h0m0 78h0m0 11h0m0 16h0m1-38h0m0 11h0m0 12h0m0 9h0m0 2h0m1-27h0m0 3h0m0 29h0m1-10h0m0 10h0m0 0h0m1-25h0m0 15h0m0 10h0m1-83h0m0 68h0m0 7h0m1-8h0m0 0h0m0 3h0m0 0h0m0 3h0m1-22h0m0 26h0m0 2h0m0 1h0m1-14h0m0 5h0m0 3h0m0 4h0m0 5h0m1-7h0m0 2h0m1-55h0m0 19h0m0 15h0m0 8h0m0 11h0m1-23h0m0 8h0m0 16h0m0 3h0m1-36h0m0 8h0m0 11h0m0 1h0m0 8h0m1-29h0m0 27h0m1-47h0m0 22h0m0 10h0m0 17h0m0 5h0m1-47h0m0 33h0m0 7h0m0 1h0m0 5h0m1-17h0m0 2h0m0 21h0m1-19h0m0 3h0m0 14h0m1-109h0m0 69h0m0 40h0m1-27h0m0 16h0m1-82h0m0 78h0m0 0h0m0 11h0m0 5h0m1-64h0m0 32h0m0 15h0m0 0h0m0 19h0m1-8h0m1-50h0m0 20h0m0 12h0m0 14h0m0 10h0m1-11h0m1-5h0" stroke="#F781BF"/><rect x="834.1" y="1657.5" width="17.8" height="165.3" rx="2.9" fill="#999999"/><path d="M837 1632h0m0 17h0m1-59h0m0 49h0m0 19h0m1-20h0m0 0h0m0 11h0m0 1h0m0 5h0m0 10h0m1-8h0m0 3h0m0 2h0m1-28h0m0 5h0m0 26h0m1-59h0m0 31h0m0 1h0m0 5h0m0 8h0m0 1h0m1-45h0m0 38h0m0 3h0m0 2h0m0 2h0m0 10h0m0 3h0m1-57h0m0 0h0m0 27h0m0 28h0m2-24h0m1-18h0m0 9h0m0 2h0m0 11h0m0 4h0m1 14h0m0 1h0m0 3h0m1-2h0" stroke="#999999"/><rect x="846.2" y="1634.4" width="9.8" height="188.4" rx="2.9" fill="#E41A1C"/><path d="M850 1595h0m0 5h0m0 23h0m0 18h0m1-60h0m0 38h0m0 11h0m1-1h0m1-23h0" stroke="#E41A1C"/><rect x="850.4" y="1647" width="32.5" height="175.8" rx="2.9" fill="#377EB8"/><path d="M853 1638h0m1-15h0m0 32h0m1-4h0m1-4h0m0 1h0m1-29h0m0 10h0m0 0h0m0 2h0m0 1h0m1-21h0m0 17h0m0 4h0m0 4h0m0 7h0m0 3h0m0 8h0m1-5h0m1-64h0m0 45h0m0 25h0m1-27h0m1-36h0m0 32h0m0 13h0m0 4h0m0 1h0m0 3h0m1-21h0m1-14h0m0 1h0m0 12h0m0 2h0m0 14h0m1-24h0m0 9h0m0 1h0m0 11h0m0 6h0m0 8h0m1-59h0m0 12h0m0 40h0m0 9h0m1-69h0m0 26h0m0 4h0m0 36h0m0 0h0m0 1h0m0 3h0m1-76h0m0 36h0m0 2h0m0 6h0m0 5h0m0 21h0m0 5h0m0 0h0m1-31h0m0 24h0m1-7h0m1-53h0m0 53h0m0 12h0m1-7h0m0 9h0m0 0h0m0 1h0m1-57h0m1-27h0m0 49h0m0 1h0m0 6h0m0 4h0m0 5h0m0 5h0m0 11h0m0 0h0m0 2h0m0 2h0m1-61h0m0 43h0m0 2h0m0 9h0m0 7h0m1-24h0m0 13h0m0 2h0m0 6h0m1-74h0m0 0h0m0 30h0m0 22h0m0 5h0m0 8h0m0 1h0m0 6h0m0 4h0m1-86h0m0 77h0m0 2h0m1-39h0m0 26h0m0 10h0m0 12h0m0 0h0" stroke="#377EB8"/><rect x="877.2" y="1642.1" width="28.7" height="180.7" rx="2.9" fill="#4DAF4A"/><path d="M880 1622h0m0 20h0m1-12h0m0 0h0m0 14h0m1-48h0m0 14h0m1-5h0m0 18h0m0 21h0m1-35h0m0 35h0m0 2h0m0 1h0m1-62h0m0 52h0m0 7h0m1-32h0m0 13h0m0 12h0m0 8h0m1-41h0m0 22h0m0 12h0m0 10h0m1-6h0m0 4h0m1-64h0m0 20h0m0 9h0m0 12h0m0 0h0m0 8h0m0 10h0m0 3h0m1-122h0m0 72h0m0 23h0m0 7h0m0 2h0m0 3h0m0 2h0m0 2h0m0 3h0m0 2h0m0 4h0m0 3h0m0 4h0m1-38h0m0 20h0m0 12h0m0 1h0m0 2h0m2-34h0m0 7h0m0 15h0m0 9h0m1 4h0m0 0h0m1-68h0m0 33h0m0 9h0m0 19h0m0 1h0m0 8h0m1-41h0m0 18h0m0 3h0m0 1h0m1-32h0m0 3h0m0 12h0m0 9h0m0 8h0m0 10h0m0 4h0m1-6h0m0 4h0m0 6h0m1-31h0m0 17h0m0 12h0m0 3h0m1-7h0m0 8h0m1-47h0m0 14h0m0 12h0m0 7h0m0 2h0m1-20h0m0 17h0m0 12h0m1-2h0m0 4h0" stroke="#4DAF4A"/><rect x="900.2" y="1647" width="8" height="175.8" rx="2.9" fill="#984EA3"/><path d="M903 1637h0m0 14h0m1-36h0m0 38h0m0 0h0m0 0h0m1-9h0m0 7h0" stroke="#984EA3"/><rect x="902.5" y="1647" width="11.3" height="175.8" rx="2.9" fill="#FF7F00"/><path d="M905 1642h0m0 6h0m1-42h0m0 19h0m0 22h0m0 0h0m1-46h0m0 3h0m0 13h0m0 32h0m1-1h0m0 2h0m0 1h0m0 1h0m1-49h0m0 34h0m0 3h0m0 3h0m0 10h0m1-25h0m0 19h0m0 2h0m0 5h0" stroke="#FF7F00"/><rect x="908.1" y="1647" width="12.8" height="175.8" rx="2.9" fill="#FFFF33"/><path d="M911 1634h0m1-60h0m0 64h0m1-79h0m0 65h0m0 5h0m0 3h0m0 9h0m1-65h0m0 16h0m0 20h0m0 30h0m0 4h0m1-15h0m0 18h0m0 1h0m0 4h0m1-33h0m0 24h0m0 7h0m1-45h0m0 40h0m1-11h0" stroke="#FFFF33"/><rect x="915.2" y="1634.4" width="37.6" height="188.4" rx="2.9" fill="#A65628"/><path d="M918 1601h0m0 4h0m0 3h0m0 24h0m1-33h0m0 7h0m0 28h0m0 3h0m0 5h0m1-68h0m0 45h0m0 18h0m0 3h0m1-37h0m0 26h0m0 12h0m1-13h0m0 4h0m0 10h0m1-52h0m0 9h0m0 17h0m1 9h0m0 1h0m0 7h0m0 7h0m0 2h0m1-82h0m0 18h0m0 45h0m0 2h0m0 9h0m0 6h0m1-25h0m0 3h0m0 5h0m0 11h0m0 1h0m1-130h0m0 95h0m0 5h0m0 12h0m0 9h0m0 9h0m1-11h0m1-3h0m0 13h0m1-132h0m0 118h0m0 15h0m0 3h0m1-39h0m0 24h0m0 13h0m0 3h0m1-35h0m0 24h0m0 8h0m0 6h0m1-39h0m0 24h0m0 9h0m0 4h0m0 2h0m1-67h0m0 4h0m0 21h0m0 20h0m0 17h0m0 5h0m1-61h0m0 13h0m0 46h0m0 3h0m1-33h0m0 0h0m0 27h0m1-86h0m0 16h0m0 35h0m0 11h0m0 6h0m0 6h0m0 12h0m1-14h0m0 11h0m0 3h0m0 0h0m0 3h0m1-15h0m0 12h0m0 4h0m1-57h0m0 14h0m0 13h0m0 28h0m1-15h0m0 4h0m0 4h0m0 6h0m0 2h0m0 2h0m1-78h0m0 47h0m0 18h0m0 7h0m0 1h0m0 6h0m1-76h0m0 62h0m0 4h0m1-53h0m0 34h0m1-30h0m0 3h0m0 49h0m1-6h0m0 9h0m0 1h0m0 2h0m1-60h0m0 57h0m1-130h0m0 105h0m0 17h0m0 2h0m1-45h0m0 18h0m0 13h0m0 16h0m0 1h0m1-53h0" stroke="#A65628"/><rect x="947.1" y="1647" width="9.5" height="175.8" rx="2.9" fill="#F781BF"/><path d="M950 1573h0m0 82h0m1-63h0m0 37h0m1 1h0m0 7h0m0 6h0m0 11h0m1-46h0m0 11h0m0 24h0m0 7h0m1-11h0m0 7h0" stroke="#F781BF"/><rect x="950.9" y="1642.1" width="22.9" height="180.7" rx="2.9" fill="#999999"/><path d="M954 1625h0m0 3h0m0 10h0m0 3h0m1-31h0m0 36h0m0 1h0m0 1h0m1-18h0m0 19h0m0 1h0m1-41h0m0 8h0m0 14h0m0 4h0m1-126h0m0 109h0m0 25h0m0 2h0m1-27h0m0 22h0m0 7h0m1-96h0m0 75h0m0 4h0m0 20h0m1-87h0m0 7h0m0 35h0m0 7h0m0 6h0m0 1h0m0 17h0m0 9h0m1-29h0m0 11h0m0 6h0m0 8h0m0 4h0m1-8h0m1-32h0m0 9h0m0 29h0m1-24h0m0 25h0m1-9h0m0 1h0m1-88h0m0 93h0m0 1h0m0 6h0m0 0h0m0 1h0m1-97h0m0 23h0m0 59h0m0 11h0m0 4h0m1-81h0m0 59h0m0 5h0m0 12h0m0 5h0m1-35h0m0 5h0m0 5h0m0 15h0m0 4h0" stroke="#999999"/><rect x="968.1" y="1639.3" width="33.8" height="183.5" rx="2.9" fill="#E41A1C"/><path d="M972 1604h0m0 6h0m0 4h0m0 32h0m1-49h0m0 2h0m0 21h0m0 1h0m0 13h0m0 0h0m0 3h0m0 4h0m1-19h0m0 8h0m0 9h0m0 3h0m0 2h0m0 0h0m1-18h0m0 21h0m1-48h0m0 11h0m0 7h0m0 20h0m0 6h0m1-3h0m0 0h0m0 7h0m0 1h0m1-13h0m1-44h0m0 25h0m0 2h0m0 14h0m0 11h0m1-86h0m0 80h0m0 9h0m1-78h0m0 48h0m0 20h0m1-110h0m0 51h0m0 36h0m0 3h0m0 16h0m0 3h0m1 11h0m1-73h0m0 31h0m0 35h0m0 5h0m0 3h0m1-23h0m0 15h0m0 1h0m0 3h0m1-34h0m0 28h0m0 7h0m1-51h0m0 12h0m0 27h0m0 6h0m0 4h0m0 3h0m1-66h0m0 44h0m0 24h0m1-25h0m0 11h0m0 7h0m1-51h0m0 37h0m0 13h0m1-76h0m0 34h0m0 36h0m0 4h0m0 1h0m1-93h0m0 79h0m0 6h0m1-51h0m0 50h0m1-31h0m0 13h0m0 28h0m1-45h0m0 26h0m0 3h0m0 5h0m0 6h0m0 4h0m0 0h0m0 3h0m0 4h0m1-19h0m0 7h0m0 6h0m0 3h0m1-30h0m0 18h0m0 2h0m0 13h0m0 2h0m1-76h0m0 50h0m0 3h0m0 21h0m0 0h0m1-9h0m0 9h0" stroke="#E41A1C"/><rect x="996.2" y="1647" width="10.9" height="175.8" rx="2.9" fill="#377EB8"/><path d="M999 1620h0m0 20h0m0 8h0m1-93h0m0 61h0m0 13h0m0 9h0m0 3h0m0 13h0m0 0h0m1-28h0m0 15h0m0 2h0m0 7h0m0 4h0m1-22h0m1-9h0m0 1h0m0 2h0m0 7h0m0 1h0m0 6h0m0 15h0m1-141h0m0 122h0m0 13h0m0 0h0" stroke="#377EB8"/><rect x="1001.5" y="1647.7" width="30.1" height="175.1" rx="2.9" fill="#4DAF4A"/><path d="M1004 1652h0m1-50h0m0 3h0m0 50h0m1-1h0m1-38h0m0 9h0m0 12h0m0 5h0m1-32h0m0 7h0m0 14h0m0 11h0m0 0h0m0 10h0m0 4h0m0 0h0m1-75h0m0 30h0m0 1h0m1 10h0m0 21h0m1 10h0m2-39h0m0 17h0m2-50h0m0 17h0m0 12h0m0 36h0m1-43h0m0 16h0m0 16h0m0 14h0m0 7h0m1-3h0m0 2h0m1-5h0m0 1h0m1-5h0m0 8h0m0 2h0m1-17h0m0 2h0m0 9h0m1 1h0m1-35h0m0 5h0m0 7h0m0 0h0m0 14h0m0 6h0m0 0h0m0 5h0m0 2h0m0 1h0m1-31h0m0 16h0m0 3h0m1-42h0m0 4h0m0 32h0m0 4h0m0 4h0m0 6h0m0 4h0m1-39h0m0 19h0m0 7h0m0 1h0m0 0h0m0 5h0m1-35h0m0 41h0m1-33h0m0 4h0m0 13h0m0 2h0m0 0h0m1-15h0m0 11h0m0 8h0m0 7h0m0 3h0" stroke="#4DAF4A"/><rect x="1025.9" y="1650.5" width="8.9" height="172.3" rx="2.9" fill="#984EA3"/><path d="M1029 1597h0m0 33h0m0 23h0m0 5h0m1-79h0m0 63h0m0 1h0m0 0h0m0 12h0m0 0h0m1-43h0m0 0h0m0 1h0m0 24h0m0 3h0m0 0h0m0 10h0m0 1h0m0 5h0" stroke="#984EA3"/><rect x="1029.1" y="1652.6" width="12.2" height="170.2" rx="2.9" fill="#FF7F00"/><path d="M1032 1640h0m0 1h0m0 5h0m1-4h0m0 5h0m0 8h0m0 4h0m1-45h0m0 21h0m0 7h0m0 12h0m1-13h0m0 8h0m0 1h0m1-12h0m0 6h0m0 5h0m0 2h0m0 3h0m0 1h0m0 2h0m1-75h0m0 70h0m0 9h0m1-72h0m0 23h0m0 3h0m0 39h0" stroke="#FF7F00"/><rect x="1035.6" y="1642.1" width="10.4" height="180.7" rx="2.9" fill="#FFFF33"/><path d="M1039 1535h0m0 77h0m0 21h0m0 0h0m0 2h0m0 1h0m1-15h0m0 21h0m0 6h0m1-35h0m0 19h0m0 5h0m0 7h0m0 1h0m0 1h0m1-18h0" stroke="#FFFF33"/><rect x="1040.3" y="1647" width="7.6" height="175.8" rx="2.9" fill="#A65628"/><path d="M1043 1640h0m2-67h0" stroke="#A65628"/><rect x="1042.2" y="1639.3" width="12.6" height="183.5" rx="2.9" fill="#F781BF"/><path d="M1045 1576h0m1 25h0m0 9h0m0 1h0m0 22h0m0 0h0m0 5h0m0 5h0m1-30h0m0 2h0m0 4h0m0 20h0m1-11h0m0 2h0m0 10h0m0 1h0m0 4h0m0 0h0m0 2h0m1-14h0m1-61h0m0 26h0m0 45h0m0 4h0m1-30h0m0 5h0m0 7h0m0 8h0" stroke="#F781BF"/><rect x="1049.1" y="1652.6" width="14.4" height="170.2" rx="2.9" fill="#999999"/><path d="M1052 1650h0m1-165h0m0 130h0m0 19h0m0 6h0m0 8h0m0 7h0m0 2h0m1-24h0m0 5h0m0 20h0m1-65h0m0 14h0m0 37h0m0 16h0m1-50h0m0 38h0m1-37h0m0 13h0m0 18h0m0 2h0m0 11h0m0 2h0m1-160h0m0 106h0m0 11h0m0 27h0m0 1h0m0 11h0m1-10h0m0 1h0m1 5h0m0 7h0m1 5h0" stroke="#999999"/><rect x="1057.8" y="1658.2" width="16.4" height="164.6" rx="2.9" fill="#E41A1C"/><path d="M1061 1656h0m1-12h0m0 10h0m0 7h0m0 1h0m0 2h0m1-14h0m0 9h0m1-5h0m0 1h0m0 3h0m0 7h0m0 1h0m1-44h0m0 28h0m0 12h0m0 3h0m1-15h0m1-20h0m0 28h0m0 3h0m0 3h0m0 1h0m1-22h0m0 9h0m0 1h0m0 2h0m0 1h0m0 2h0m1-22h0m0 14h0m0 4h0m0 3h0m0 7h0m1-46h0m0 12h0m0 8h0m0 19h0m0 1h0m0 3h0m0 5h0m1-37h0m0 19h0m0 14h0m0 2h0" stroke="#E41A1C"/><rect x="1068.4" y="1652.6" width="10.8" height="170.2" rx="2.9" fill="#377EB8"/><path d="M1072 1598h0m0 44h0m0 1h0m0 4h0m0 5h0m0 2h0m0 7h0m1-31h0m0 30h0m1-128h0m0 124h0m0 2h0m1-36h0m0 12h0m0 4h0m1-44h0m0 32h0m0 15h0" stroke="#377EB8"/><rect x="1073.5" y="1647.7" width="13.7" height="175.1" rx="2.9" fill="#4DAF4A"/><path d="M1077 1632h0m0 0h0m0 2h0m0 18h0m1-46h0m0 9h0m0 26h0m1-42h0m0 11h0m0 39h0m1-30h0m0 31h0m0 5h0m1-39h0m0 3h0m0 8h0m1-17h0m0 1h0m0 24h0m0 11h0m0 7h0m1-36h0m0 23h0m0 2h0m0 4h0m0 4h0m0 4h0m1-17h0m0 5h0m0 5h0m0 5h0" stroke="#4DAF4A"/><rect x="1081.5" y="1642.1" width="19.2" height="180.7" rx="2.9" fill="#984EA3"/><path d="M1085 1503h0m0 62h0m0 42h0m0 6h0m0 24h0m0 9h0m1-11h0m0 7h0m0 3h0m1-55h0m0 2h0m0 25h0m0 20h0m1-13h0m1-29h0m0 28h0m0 10h0m0 11h0m0 3h0m1-14h0m0 7h0m0 9h0m1-58h0m0 45h0m0 9h0m1-4h0m1-27h0m0 7h0m0 12h0m0 9h0m0 1h0m1-80h0m0 87h0m1-6h0m1-20h0m0 13h0m0 11h0m1-82h0m0 44h0m0 5h0m0 32h0m1 3h0" stroke="#984EA3"/><rect x="1095" y="1647" width="7.2" height="175.8" rx="2.9" fill="#FF7F00"/><path d="M1098 1611h0m0 17h0m0 17h0m1-72h0m0 32h0m0 14h0m0 11h0m0 8h0m0 1h0m0 2h0" stroke="#FF7F00"/><rect x="1096.5" y="1639.3" width="13.6" height="183.5" rx="2.9" fill="#FFFF33"/><path d="M1100 1634h0m0 4h0m0 8h0m1-43h0m0 5h0m1-6h0m0 1h0m0 19h0m0 12h0m1-32h0m0 23h0m1 7h0m0 5h0m0 3h0m0 5h0m1-55h0m0 32h0m0 23h0m0 0h0m0 3h0m1-43h0m0 25h0m1-47h0" stroke="#FFFF33"/><rect x="1104.4" y="1652.6" width="10.3" height="170.2" rx="2.9" fill="#A65628"/><path d="M1107 1636h0m0 3h0m1-11h0m0 9h0m0 22h0m1-16h0m1-15h0m0 13h0m0 16h0m1-8h0m0 11h0m1-20h0m0 8h0m0 8h0" stroke="#A65628"/><rect x="1109" y="1647" width="9.4" height="175.8" rx="2.9" fill="#F781BF"/><path d="M1112 1625h0m0 6h0m0 4h0m1-39h0m0 18h0m0 19h0m0 13h0m0 5h0m0 2h0m0 1h0m1-50h0m0 6h0m0 13h0m0 10h0m0 6h0m0 4h0m1-26h0m0 5h0m0 14h0m0 9h0m0 0h0m0 1h0m0 4h0m1-21h0" stroke="#F781BF"/><rect x="1112.8" y="1647" width="9.9" height="175.8" rx="2.9" fill="#999999"/><path d="M1116 1623h0m0 22h0m0 1h0m0 9h0m0 0h0m1-45h0m0 15h0m0 9h0m0 20h0m1-88h0m0 75h0m1-54h0m0 61h0m0 1h0m0 5h0m0 1h0m1-2h0" stroke="#999999"/><rect x="1116.9" y="1652.6" width="14.4" height="170.2" rx="2.9" fill="#E41A1C"/><path d="M1120 1640h0m0 13h0m1-44h0m0 11h0m0 16h0m0 22h0m1-16h0m0 0h0m0 15h0m0 4h0m1-33h0m0 6h0m0 24h0m0 1h0m0 1h0m1-8h0m0 8h0m1-90h0m1 69h0m0 8h0m0 5h0m0 8h0m0 1h0m1-32h0m0 1h0m0 1h0m0 11h0m1-91h0m0 56h0" stroke="#E41A1C"/><rect x="1125.6" y="1647" width="9.5" height="175.8" rx="2.9" fill="#377EB8"/><path d="M1129 1602h0m0 22h0m0 29h0m1-3h0m0 3h0m1-18h0m0 7h0m1 7h0m0 4h0" stroke="#377EB8"/><rect x="1129.4" y="1639.3" width="13.8" height="183.5" rx="2.9" fill="#4DAF4A"/><path d="M1133 1590h0m0 17h0m0 7h0m0 7h0m0 21h0m1-44h0m0 30h0m0 17h0m1-32h0m0 17h0m0 15h0m1-12h0m0 3h0m0 6h0m1-43h0m0 2h0m0 12h0m0 9h0m0 0h0m0 11h0m0 3h0m0 7h0m1-64h0m0 7h0m0 42h0m0 11h0m0 2h0m1-45h0m0 5h0m0 20h0m0 21h0m0 0h0m0 4h0m0 1h0m1-18h0m0 4h0m0 5h0" stroke="#4DAF4A"/><rect x="1137.5" y="1647.7" width="11.7" height="175.1" rx="2.9" fill="#984EA3"/><path d="M1140 1642h0m1-51h0m0 44h0m0 2h0m0 7h0m0 4h0m0 6h0m1-9h0m0 7h0m0 3h0m1-15h0m0 14h0m1-53h0m0 30h0m1-14h0m0 12h0m0 8h0m0 4h0m0 4h0m0 4h0m0 2h0m1-34h0m0 21h0m0 3h0m0 11h0" stroke="#984EA3"/><rect x="1143.5" y="1647" width="9.1" height="175.8" rx="2.9" fill="#FF7F00"/><path d="M1147 1615h0m0 25h0m0 4h0m0 9h0m1-40h0m0 22h0m0 3h0m0 12h0m0 2h0m0 2h0m0 1h0m1-37h0m0 11h0m0 15h0m0 3h0m0 0h0" stroke="#FF7F00"/><rect x="1146.9" y="1639.3" width="18.8" height="183.5" rx="2.9" fill="#FFFF33"/><path d="M1150 1522h0m0 119h0m0 3h0m0 2h0m0 1h0m1-48h0m0 9h0m0 9h0m0 23h0m0 7h0m1-33h0m0 28h0m1-4h0m0 3h0m0 0h0m0 5h0m1-90h0m0 57h0m0 30h0m1-43h0m0 12h0m0 7h0m1-46h0m0 6h0m0 16h0m0 47h0m0 3h0m1-31h0m0 13h0m0 10h0m1-38h0m0 33h0m0 14h0m1-79h0m0 40h0m0 39h0m1-44h0m0 33h0m0 7h0m0 1h0m0 4h0m0 0h0m1-59h0m0 17h0m0 28h0m0 11h0m0 0h0m0 2h0m1-43h0m0 6h0m0 4h0m0 11h0m0 6h0m0 15h0m0 0h0m0 1h0" stroke="#FFFF33"/><rect x="1160" y="1639.3" width="46.7" height="183.5" rx="2.9" fill="#A65628"/><path d="M1163 1631h0m0 17h0m1-13h0m1-44h0m1 29h0m0 18h0m0 4h0m0 2h0m1-10h0m0 3h0m1-96h0m0 14h0m0 72h0m0 8h0m0 0h0m1-24h0m0 16h0m0 4h0m0 14h0m1-17h0m0 1h0m0 10h0m0 2h0m1-27h0m1 11h0m0 11h0m0 3h0m0 3h0m0 6h0m1-11h0m0 4h0m0 1h0m1-50h0m0 45h0m0 6h0m0 4h0m1-26h0m0 20h0m0 2h0m0 0h0m1-27h0m0 2h0m0 18h0m0 5h0m1-9h0m0 2h0m0 2h0m0 4h0m0 1h0m1-23h0m0 16h0m0 10h0m1-16h0m0 3h0m0 5h0m0 1h0m0 10h0m1-24h0m0 8h0m0 0h0m0 6h0m0 5h0m0 4h0m1-38h0m0 18h0m0 2h0m0 10h0m0 2h0m0 2h0m0 0h0m0 4h0m1-15h0m0 7h0m0 0h0m0 9h0m1-69h0m0 20h0m0 46h0m1-66h0m0 22h0m0 29h0m0 14h0m1-60h0m0 59h0m1-30h0m0 36h0m1-34h0m0 19h0m1-25h0m0 15h0m0 4h0m0 11h0m0 1h0m0 3h0m0 1h0m1-4h0m1-32h0m0 37h0m1-2h0m1-23h0m0 19h0m1-21h0m0 18h0m0 7h0m0 4h0m1-14h0m0 10h0m1-25h0m0 10h0m0 1h0m0 1h0m0 5h0m0 9h0m1-5h0m0 1h0m0 4h0m2-11h0m0 5h0m0 9h0m1-22h0m0 2h0m0 11h0m1-1h0m0 7h0m2-19h0m0 15h0m0 3h0m1-32h0m0 18h0m0 6h0m0 10h0m0 2h0m1-39h0m0 6h0" stroke="#A65628"/><rect x="1201" y="1647.7" width="23.7" height="175.1" rx="2.9" fill="#F781BF"/><path d="M1204 1583h0m0 69h0m1-140h0m0 100h0m0 41h0m1-35h0m0 15h0m0 4h0m0 3h0m0 3h0m0 0h0m1-57h0m0 51h0m0 5h0m0 5h0m0 2h0m0 6h0m1-29h0m0 5h0m0 4h0m0 3h0m0 13h0m0 4h0m1-111h0m0 92h0m0 16h0m1-134h0m0 77h0m0 31h0m0 20h0m0 4h0m1-22h0m0 21h0m0 2h0m0 3h0m1-94h0m0 55h0m0 1h0m0 32h0m1-5h0m0 0h0m0 1h0m1-26h0m0 1h0m0 35h0m0 2h0m1-17h0m0 7h0m0 3h0m0 5h0m0 0h0m1-26h0m0 11h0m0 2h0m0 9h0m0 3h0m1-7h0m1-48h0m0 47h0m0 10h0m1-4h0m0 1h0m1-47h0m0 20h0m0 5h0m0 19h0m0 1h0m1-14h0m0 5h0m0 7h0m0 8h0" stroke="#F781BF"/><rect x="1219" y="1652.6" width="26.9" height="170.2" rx="2.9" fill="#999999"/><path d="M1222 1649h0m1-20h0m0 1h0m0 0h0m0 2h0m0 20h0m0 6h0m0 1h0m1-34h0m0 19h0m0 0h0m0 12h0m0 4h0m0 1h0m1-34h0m0 25h0m0 8h0m1-27h0m0 14h0m0 10h0m1-54h0m0 40h0m0 13h0m0 3h0m1-58h0m1-13h0m0 53h0m0 10h0m0 6h0m1-38h0m0 22h0m0 8h0m0 10h0m1-58h0m0 12h0m0 27h0m0 8h0m0 10h0m1-45h0m0 37h0m0 6h0m1-37h0m0 20h0m0 14h0m1-15h0m0 6h0m0 5h0m0 7h0m0 2h0m1-16h0m0 18h0m1-77h0m0 37h0m0 6h0m0 12h0m0 5h0m0 7h0m0 10h0m1-29h0m0 18h0m0 3h0m0 1h0m1-107h0m0 85h0m0 19h0m1-16h0m0 4h0m0 19h0m1-34h0m0 2h0m0 22h0m1-6h0m0 6h0m0 5h0m0 4h0m1-61h0m0 61h0m0 3h0m1-59h0m0 13h0m0 43h0" stroke="#999999"/><rect x="1240.2" y="1650.5" width="8.5" height="172.3" rx="2.9" fill="#E41A1C"/><path d="M1243 1591h0m0 58h0m0 1h0m1-27h0m0 4h0m0 16h0m0 1h0m1 4h0m0 0h0m0 7h0m0 3h0" stroke="#E41A1C"/><rect x="1243.1" y="1650.5" width="12.4" height="172.3" rx="2.9" fill="#377EB8"/><path d="M1246 1624h0m1-4h0m0 24h0m0 14h0m1-13h0m0 10h0m1-63h0m0 23h0m0 5h0m0 21h0m1-17h0m0 9h0m0 6h0m0 7h0m0 2h0m1-3h0m1-43h0m0 37h0m0 13h0m0 1h0m0 4h0m1-12h0" stroke="#377EB8"/><rect x="1249.8" y="1650.5" width="11.5" height="172.3" rx="2.9" fill="#4DAF4A"/><path d="M1253 1605h0m0 17h0m1-116h0m0 91h0m0 7h0m0 22h0m0 16h0m0 10h0m0 3h0m0 0h0m1-32h0m0 0h0m0 21h0m0 3h0m0 7h0m0 0h0m0 4h0m0 1h0m1-26h0m0 23h0m1-58h0m0 24h0m0 20h0m0 1h0m0 6h0m0 3h0m0 1h0m1-26h0m0 24h0m0 4h0m0 3h0m0 1h0" stroke="#4DAF4A"/><rect x="1255.6" y="1650.5" width="13.9" height="172.3" rx="2.9" fill="#984EA3"/><path d="M1259 1601h0m0 52h0m0 3h0m0 2h0m1 0h0m1-65h0m0 27h0m0 6h0m0 22h0m0 8h0m0 2h0m1-53h0m0 32h0m0 5h0m0 11h0m0 1h0m1-99h0m0 40h0m0 51h0m0 8h0m0 1h0m1-131h0m0 99h0m0 25h0m0 3h0m0 2h0m0 5h0m1-87h0m0 61h0m0 9h0m0 5h0m0 1h0m0 6h0m0 3h0m1-36h0m0 14h0m0 7h0m0 7h0" stroke="#984EA3"/><rect x="1263.8" y="1647" width="8.7" height="175.8" rx="2.9" fill="#FF7F00"/><path d="M1267 1611h0m0 26h0m0 15h0m1-185h0m0 163h0m0 18h0m0 5h0m0 0h0m1-43h0m0 26h0m0 13h0m0 3h0" stroke="#FF7F00"/><rect x="1266.8" y="1636.5" width="30.4" height="186.3" rx="2.9" fill="#FFFF33"/><path d="M1270 1587h0m0 28h0m0 21h0m0 1h0m0 1h0m1-41h0m0 8h0m0 16h0m0 2h0m0 15h0m0 2h0m1-65h0m0 38h0m0 20h0m1-12h0m1-17h0m0 4h0m0 23h0m0 13h0m0 1h0m1-22h0m1-21h0m0 12h0m0 24h0m1-37h0m0 5h0m0 1h0m0 3h0m0 1h0m0 24h0m0 2h0m0 2h0m1-90h0m1 72h0m0 1h0m0 16h0m0 6h0m1-33h0m0 3h0m0 2h0m0 12h0m0 1h0m0 7h0m0 4h0m1-36h0m0 20h0m0 4h0m0 15h0m0 1h0m0 0h0m1-34h0m0 1h0m0 10h0m0 7h0m0 1h0m0 4h0m1-74h0m0 31h0m0 12h0m0 12h0m0 18h0m0 2h0m1-52h0m0 24h0m0 21h0m0 3h0m0 2h0m0 1h0m0 10h0m0 0h0m0 1h0m1-9h0m1-32h0m0 37h0m1-52h0m0 33h0m0 20h0m1-34h0m0 19h0m0 1h0m0 1h0m0 2h0m0 15h0m1-30h0m0 7h0m1-65h0m0 51h0m0 6h0m0 3h0m0 25h0m1-93h0m0 45h0m0 24h0m0 14h0m0 11h0m1-74h0m0 36h0m0 11h0m0 9h0m0 8h0m0 6h0m0 0h0m1-28h0m0 15h0m0 7h0m0 3h0m0 0h0m1-3h0m0 9h0m0 2h0" stroke="#FFFF33"/><rect x="1291.5" y="1652.6" width="15.5" height="170.2" rx="2.9" fill="#A65628"/><path d="M1295 1642h0m0 2h0m0 13h0m1-53h0m0 23h0m0 3h0m0 26h0m0 0h0m1-103h0m0 52h0m0 12h0m0 21h0m0 16h0m0 1h0m0 5h0m1-48h0m0 26h0m0 8h0m0 10h0m0 3h0m1-65h0m0 58h0m0 8h0m1-60h0m0 22h0m0 10h0m0 11h0m0 11h0m0 6h0m0 0h0m1-33h0m0 20h0m1-18h0m0 5h0m0 17h0m0 4h0m1-59h0m0 23h0m0 24h0m0 4h0m0 1h0m0 10h0m1-5h0" stroke="#A65628"/><rect x="1301.3" y="1647" width="7.7" height="175.8" rx="2.9" fill="#F781BF"/><path d="M1304 1650h0m0 5h0m1-25h0m0 5h0m0 2h0m0 7h0m1-4h0m0 5h0m0 0h0" stroke="#F781BF"/><rect x="1303.3" y="1647" width="11" height="175.8" rx="2.9" fill="#999999"/><path d="M1306 1653h0m1-21h0m0 2h0m0 2h0m0 7h0m0 10h0m1-14h0m0 13h0m1-21h0m0 22h0m1-15h0m0 6h0m0 1h0m0 3h0m0 5h0m1-58h0m0 53h0m0 0h0m0 6h0" stroke="#999999"/><rect x="1308.6" y="1639.3" width="29.9" height="183.5" rx="2.9" fill="#E41A1C"/><path d="M1312 1584h0m0 14h0m0 23h0m0 11h0m0 4h0m0 7h0m1-93h0m0 97h0m1-46h0m0 24h0m0 6h0m0 7h0m0 8h0m1-73h0m0 15h0m0 44h0m0 11h0m0 2h0m1-55h0m0 18h0m0 1h0m0 14h0m0 12h0m0 12h0m1-14h0m0 3h0m0 2h0m0 9h0m1 0h0m1-34h0m0 1h0m0 24h0m0 4h0m0 2h0m1-21h0m0 24h0m1-44h0m0 20h0m0 8h0m1-1h0m0 5h0m0 1h0m0 11h0m1-88h0m0 29h0m0 44h0m0 10h0m0 3h0m0 1h0m1-12h0m0 6h0m0 4h0m0 0h0m0 1h0m0 2h0m1-77h0m1 27h0m0 28h0m0 5h0m1-50h0m0 16h0m0 25h0m0 17h0m1-88h0m0 18h0m0 39h0m0 29h0m0 10h0m1-16h0m0 3h0m0 15h0m1-34h0m0 1h0m0 11h0m0 4h0m1-62h0m0 43h0m0 4h0m0 20h0m1-25h0m0 20h0m0 5h0m0 4h0m0 3h0m1-4h0m0 4h0m0 2h0m1-26h0m0 22h0m0 2h0m0 2h0m0 0h0m1-45h0m0 43h0m1-16h0m0 16h0" stroke="#E41A1C"/><rect x="1332.8" y="1652.6" width="19.3" height="170.2" rx="2.9" fill="#377EB8"/><path d="M1336 1604h0m0 51h0m0 2h0m1-41h0m0 6h0m0 8h0m0 26h0m1-36h0m0 7h0m0 28h0m0 5h0m1-16h0m0 1h0m0 10h0m1-130h0m0 126h0m0 5h0m0 2h0m1-48h0m0 10h0m0 25h0m0 3h0m0 11h0m0 1h0m1-49h0m2 21h0m0 10h0m0 17h0m1-61h0m0 20h0m0 25h0m1-120h0m0 101h0m0 28h0m0 0h0m0 6h0m1-15h0m0 13h0m0 4h0m1-31h0m0 32h0m1-24h0m0 21h0" stroke="#377EB8"/><rect x="1346.4" y="1639.3" width="12.8" height="183.5" rx="2.9" fill="#4DAF4A"/><path d="M1350 1590h0m0 35h0m0 2h0m0 20h0m1-13h0m0 13h0m1-40h0m0 7h0m0 11h0m0 3h0m0 9h0m0 1h0m0 9h0m1-13h0m0 5h0m1-60h0m0 29h0m0 1h0m0 5h0m0 6h0m0 13h0m0 11h0m1-58h0m0 10h0m0 37h0m0 0h0m0 14h0m1-22h0" stroke="#4DAF4A"/><rect x="1353.5" y="1652.6" width="25.1" height="170.2" rx="2.9" fill="#984EA3"/><path d="M1357 1569h0m0 28h0m0 9h0m0 1h0m0 31h0m0 2h0m0 8h0m0 1h0m0 1h0m0 4h0m1-23h0m0 21h0m0 3h0m0 3h0m0 0h0m1-13h0m0 8h0m0 3h0m1-16h0m0 3h0m0 1h0m0 5h0m0 5h0m1-54h0m0 54h0m0 6h0m1-53h0m0 51h0m0 1h0m1-2h0m1-16h0m0 7h0m0 1h0m0 11h0m1-61h0m0 27h0m0 15h0m0 14h0m1-7h0m0 4h0m0 6h0m0 2h0m1-22h0m0 20h0m0 1h0m1-13h0m0 8h0m0 4h0m1-68h0m0 30h0m0 36h0m0 0h0m1-99h0m0 77h0m0 21h0m0 6h0m1-85h0m0 38h0m0 21h0m0 5h0m0 12h0m1-143h0m0 142h0m0 2h0m1-15h0m0 21h0m0 1h0m1-19h0m0 2h0m0 11h0m1-28h0m0 16h0m0 8h0m0 10h0m1-22h0" stroke="#984EA3"/><rect x="1372.9" y="1647" width="7.3" height="175.8" rx="2.9" fill="#FF7F00"/><path d="M1376 1616h0m0 34h0m0 1h0m0 0h0m1-76h0m0 67h0m0 7h0" stroke="#FF7F00"/><rect x="1374.5" y="1639.3" width="23.8" height="183.5" rx="2.9" fill="#FFFF33"/><path d="M1377 1610h0m1-45h0m1 82h0m1-51h0m0 30h0m0 1h0m0 3h0m0 8h0m0 0h0m1 0h0m0 2h0m1-58h0m0 54h0m0 4h0m0 5h0m0 0h0m1-17h0m0 1h0m0 5h0m1-14h0m0 6h0m0 6h0m0 9h0m1-6h0m1-21h0m0 12h0m1-14h0m0 21h0m0 3h0m0 4h0m0 2h0m0 0h0m1-34h0m0 9h0m0 12h0m0 6h0m0 2h0m0 1h0m1-36h0m0 11h0m0 22h0m0 6h0m0 6h0m0 1h0m1-36h0m0 6h0m0 1h0m0 4h0m0 3h0m1 0h0m0 4h0m0 9h0m0 3h0m0 3h0m1-14h0m0 10h0m0 4h0m1-26h0m0 3h0m0 4h0m0 20h0m1-63h0m0 20h0m0 22h0m0 20h0m0 0h0" stroke="#FFFF33"/><rect x="1392.6" y="1647" width="10.3" height="175.8" rx="2.9" fill="#A65628"/><path d="M1395 1621h0m0 22h0m1-74h0m0 37h0m0 40h0m0 1h0m0 7h0m1-39h0m0 29h0m1-7h0m0 9h0m1-114h0m1 116h0" stroke="#A65628"/><rect x="1397.2" y="1647" width="7.9" height="175.8" rx="2.9" fill="#F781BF"/><path d="M1400 1644h0m0 0h0m1-33h0m0 33h0m1 3h0" stroke="#F781BF"/><rect x="1399.4" y="1647" width="9.4" height="175.8" rx="2.9" fill="#999999"/><path d="M1403 1580h0m0 36h0m0 8h0m0 23h0m0 4h0m0 0h0m0 2h0m1-41h0m0 25h0m0 0h0m0 1h0m0 2h0m0 12h0m0 1h0m1-54h0m0 38h0m0 5h0m0 10h0m0 3h0m1-22h0" stroke="#999999"/><rect x="1403.1" y="1647" width="7" height="175.8" rx="2.9" fill="#E41A1C"/><path d="M1407 1651h0m0 1h0m0 3h0" stroke="#E41A1C"/><rect x="1404.4" y="1647" width="8.6" height="175.8" rx="2.9" fill="#377EB8"/><path d="M1408 1618h0m0 15h0m0 16h0m1 3h0m0 1h0m1-83h0m0 72h0" stroke="#377EB8"/><rect x="1407.3" y="1647" width="9.1" height="175.8" rx="2.9" fill="#4DAF4A"/><path d="M1410 1649h0m0 0h0m1-22h0m0 9h0m0 18h0m1-33h0m0 10h0m0 22h0" stroke="#4DAF4A"/><rect x="1410.7" y="1647" width="7.9" height="175.8" rx="2.9" fill="#984EA3"/><path d="M1414 1620h0m0 14h0m0 20h0m1-16h0m0 11h0m0 4h0m1-67h0" stroke="#984EA3"/><rect x="1412.9" y="1652.6" width="9.9" height="170.2" rx="2.9" fill="#FF7F00"/><path d="M1416 1624h0m0 10h0m0 10h0m0 14h0m1-39h0m0 35h0m1-60h0m0 8h0m0 33h0m0 21h0m1-45h0m0 2h0m0 18h0m0 3h0m0 13h0m0 2h0m0 10h0m0 0h0m1-18h0m0 1h0" stroke="#FF7F00"/></g><path d="M181.4 1310.2V1839.5H1467" fill="none" stroke="#8a8a8a" stroke-width="2.3" stroke-linejoin="round"/><path d="M181.4 1819.9V1329.8M171.9 1819.9H181.4M171.9 1749.9H181.4M171.9 1679.9H181.4M171.9 1609.9H181.4M171.9 1539.8H181.4M171.9 1469.8H181.4M171.9 1399.8H181.4M171.9 1329.8H181.4M243 1839.5H1418.1M243 1839.5v9.8M273.8 1839.5v9.8M301.8 1839.5v9.8M309 1839.5v9.8M332 1839.5v9.8M358.2 1839.5v9.8M377.5 1839.5v9.8M408.2 1839.5v9.8M450.8 1839.5v9.8M482 1839.5v9.8M504.3 1839.5v9.8M512 1839.5v9.8M525.6 1839.5v9.8M543.7 1839.5v9.8M553.8 1839.5v9.8M559.1 1839.5v9.8M565.2 1839.5v9.8M581 1839.5v9.8M597.9 1839.5v9.8M631.2 1839.5v9.8M646.8 1839.5v9.8M658.4 1839.5v9.8M664.4 1839.5v9.8M670.2 1839.5v9.8M679.6 1839.5v9.8M694.1 1839.5v9.8M713.2 1839.5v9.8M723.1 1839.5v9.8M734 1839.5v9.8M737.8 1839.5v9.8M758 1839.5v9.8M775.6 1839.5v9.8M786.5 1839.5v9.8M798 1839.5v9.8M821.3 1839.5v9.8M843.8 1839.5v9.8M851.3 1839.5v9.8M866.9 1839.5v9.8M891.8 1839.5v9.8M903.8 1839.5v9.8M906.6 1839.5v9.8M915.1 1839.5v9.8M933.8 1839.5v9.8M952.2 1839.5v9.8M962.5 1839.5v9.8M986 1839.5v9.8M1001.5 1839.5v9.8M1015 1839.5v9.8M1030 1839.5v9.8M1035.2 1839.5v9.8M1040.4 1839.5v9.8M1044.4 1839.5v9.8M1049.1 1839.5v9.8M1056.6 1839.5v9.8M1065.6 1839.5v9.8M1074.1 1839.5v9.8M1081.1 1839.5v9.8M1089.2 1839.5v9.8M1099.4 1839.5v9.8M1103.1 1839.5v9.8M1110 1839.5v9.8M1113.8 1839.5v9.8M1117.5 1839.5v9.8M1125 1839.5v9.8M1130 1839.5v9.8M1136.2 1839.5v9.8M1142.8 1839.5v9.8M1147.9 1839.5v9.8M1155.6 1839.5v9.8M1184 1839.5v9.8M1211.9 1839.5v9.8M1232.2 1839.5v9.8M1244.8 1839.5v9.8M1249 1839.5v9.8M1256.2 1839.5v9.8M1263.6 1839.5v9.8M1268 1839.5v9.8M1282.3 1839.5v9.8M1301.3 1839.5v9.8M1305.3 1839.5v9.8M1308.8 1839.5v9.8M1320.4 1839.5v9.8M1342.4 1839.5v9.8M1351.9 1839.5v9.8M1365.7 1839.5v9.8M1375.9 1839.5v9.8M1386.7 1839.5v9.8M1397.3 1839.5v9.8M1401.2 1839.5v9.8M1403.4 1839.5v9.8M1406.2 1839.5v9.8M1408.5 1839.5v9.8M1411.5 1839.5v9.8M1414.3 1839.5v9.8M1418.1 1839.5v9.8" fill="none" stroke="#3c3c3c" stroke-width="2.3" stroke-linecap="round"/><path d="M181.4 1399.8H1467" stroke="#888" stroke-width="2.2" stroke-dasharray="6.5 3.03"/><text transform="translate(160,1819.9) rotate(-90)" text-anchor="middle" class="tl">0</text><text transform="translate(160,1749.9) rotate(-90)" text-anchor="middle" class="tl">1</text><text transform="translate(160,1679.9) rotate(-90)" text-anchor="middle" class="tl">2</text><text transform="translate(160,1609.9) rotate(-90)" text-anchor="middle" class="tl">3</text><text transform="translate(160,1539.8) rotate(-90)" text-anchor="middle" class="tl">4</text><text transform="translate(160,1469.8) rotate(-90)" text-anchor="middle" class="tl">5</text><text transform="translate(160,1399.8) rotate(-90)" text-anchor="middle" class="tl">6</text><text transform="translate(160,1329.8) rotate(-90)" text-anchor="middle" class="tl">7</text><text x="243" y="1909" text-anchor="middle" class="tl">KZ288185.1</text><text x="450.8" y="1909" text-anchor="middle" class="tl">KZ288193.1</text><text x="646.8" y="1909" text-anchor="middle" class="tl">KZ288205.1</text><text x="843.8" y="1909" text-anchor="middle" class="tl">KZ288220.1</text><text x="1035.2" y="1909" text-anchor="middle" class="tl">KZ288234.1</text><text x="1232.2" y="1909" text-anchor="middle" class="tl">KZ288256.1</text><text transform="translate(50.2,1684.5) rotate(-90)" class="yl"><tspan class="d1" dy="1.65">&#8211;</tspan><tspan dx="1.5" dy="-1.65">log10(P)</tspan></text><path d="M1713.7 1819.9 L1716.2 1817.4 L1718.8 1814.9 L1721.3 1812.4 L1723.8 1809.9 L1726.4 1807.4 L1728.9 1804.9 L1731.4 1802.4 L1733.9 1799.9 L1736.5 1797.4 L1739 1794.9 L1741.5 1792.4 L1744.1 1789.9 L1746.6 1787.4 L1749.1 1784.9 L1751.7 1782.4 L1754.2 1779.9 L1756.7 1777.4 L1759.3 1774.9 L1761.8 1772.4 L1764.3 1769.9 L1766.9 1767.4 L1769.4 1764.9 L1771.9 1762.4 L1774.4 1759.9 L1777 1757.4 L1779.5 1754.9 L1782 1752.4 L1784.6 1749.9 L1787.1 1747.3 L1789.6 1744.8 L1792.2 1742.3 L1794.7 1739.8 L1797.2 1737.3 L1799.8 1734.8 L1802.3 1732.3 L1804.8 1729.8 L1807.3 1727.3 L1809.9 1724.8 L1812.4 1722.3 L1814.9 1719.8 L1817.5 1717.3 L1820 1714.8 L1822.5 1712.2 L1825.1 1709.7 L1827.6 1707.2 L1830.1 1704.7 L1832.7 1702.2 L1835.2 1699.7 L1837.7 1697.1 L1840.2 1694.6 L1842.8 1692.1 L1845.3 1689.5 L1847.8 1687 L1850.4 1684.5 L1852.9 1681.9 L1855.4 1679.3 L1858 1676.8 L1860.5 1674.2 L1863 1671.6 L1865.6 1669 L1868 1666.5 L1870.5 1663.9 L1873 1661.3 L1875.4 1658.7 L1877.9 1656 L1880.4 1653.4 L1882.8 1650.8 L1885.3 1648.2 L1887.8 1645.6 L1890.2 1643.1 L1892.7 1640.6 L1895.2 1638.1 L1897.7 1635.7 L1900.2 1633.3 L1902.7 1630.9 L1905.2 1628.5 L1907.6 1626.1 L1910.1 1623.8 L1912.6 1621.5 L1915.1 1619.2 L1917.6 1617 L1920.1 1614.8 L1922.6 1612.6 L1925.1 1610.5 L1927.6 1608.5 L1930.1 1606.5 L1932.6 1604.6 L1935.1 1602.7 L1937.6 1600.9 L1940.1 1599.1 L1942.6 1597.4 L1945.1 1595.7 L1947.6 1594.1 L1950.1 1592.4 L1952.6 1590.8 L1955 1589.1 L1957.5 1587.4 L1960 1585.7 L1962.5 1584 L1965 1582.2 L1967.5 1580.4 L1970 1578.6 L1972.5 1576.7 L1975 1574.8 L1977.5 1573 L1980 1571.1 L1982.5 1569.2 L1985 1567.3 L1987.5 1565.4 L1990 1563.5 L1992.5 1561.5 L1995 1559.6 L1997.5 1557.7 L2000 1555.7 L2002.5 1553.8 L2004.9 1551.8 L2007.4 1549.9 L2009.9 1547.9 L2012.4 1546 L2014.9 1544 L2017.4 1542 L2019.9 1540 L2022.4 1538 L2024.9 1536 L2027.4 1534 L2029.9 1531.9 L2032.4 1529.8 L2034.9 1527.7 L2037.4 1525.6 L2039.9 1523.5 L2042.4 1521.3 L2044.9 1519.1 L2047.4 1516.9 L2049.9 1514.6 L2052.3 1512.3 L2054.8 1509.9 L2057.3 1507.3 L2059.8 1504.7 L2062.3 1502 L2064.8 1499.4 L2067.3 1497 L2069.8 1494.6 L2072.3 1492.5 L2074.8 1490.6 L2077.3 1488.9 L2079.8 1487.1 L2082.3 1485.2 L2084.8 1483.1 L2087.3 1480.7 L2090.3 1476.6 L2093.3 1471.9 L2096.4 1468.1 L2099.4 1465.7 L2102.5 1463.7 L2105.5 1461.9 L2108.5 1460" fill="none" stroke="#0000FF" stroke-width="13.5" stroke-linecap="round" stroke-linejoin="round"/><path d="M2114.6 1450.5h0M2119.2 1437.2h0M2124.5 1426.9h0M2131.3 1404.1h0M2138.1 1390.1h0M2151.8 1365.9h0M2167.8 1365.1h0M2203.9 1329.1h0" stroke="#0000FF" stroke-width="11.2" stroke-linecap="round"/><path d="M1694.1 1838.9L2223.8 1325.5" stroke="#FF0000" stroke-opacity="0.62" stroke-width="1.7"/><rect x="1694.1" y="1310.2" width="529.7" height="529.3" fill="none" stroke="#8a8a8a" stroke-width="2.3" stroke-linejoin="round"/><path d="M1694.1 1819.9V1378.4M1684.6 1819.9H1694.1M1684.6 1746.3H1694.1M1684.6 1672.7H1694.1M1684.6 1599.1H1694.1M1684.6 1525.5H1694.1M1684.6 1452H1694.1M1684.6 1378.4H1694.1M1713.7 1839.5H2169.3M1713.7 1839.5v9.5M1789.6 1839.5v9.5M1865.6 1839.5v9.5M1941.5 1839.5v9.5M2017.4 1839.5v9.5M2093.3 1839.5v9.5M2169.3 1839.5v9.5" fill="none" stroke="#3c3c3c" stroke-width="2.3" stroke-linecap="round"/><text transform="translate(1672.5,1819.9) rotate(-90)" text-anchor="middle" class="tl">0</text><text transform="translate(1672.5,1746.3) rotate(-90)" text-anchor="middle" class="tl">1</text><text transform="translate(1672.5,1672.7) rotate(-90)" text-anchor="middle" class="tl">2</text><text transform="translate(1672.5,1599.1) rotate(-90)" text-anchor="middle" class="tl">3</text><text transform="translate(1672.5,1525.5) rotate(-90)" text-anchor="middle" class="tl">4</text><text transform="translate(1672.5,1452) rotate(-90)" text-anchor="middle" class="tl">5</text><text transform="translate(1672.5,1378.4) rotate(-90)" text-anchor="middle" class="tl">6</text><text x="1713.7" y="1872" text-anchor="middle" class="tl">0</text><text x="1789.6" y="1872" text-anchor="middle" class="tl">1</text><text x="1865.6" y="1872" text-anchor="middle" class="tl">2</text><text x="1941.5" y="1872" text-anchor="middle" class="tl">3</text><text x="2017.4" y="1872" text-anchor="middle" class="tl">4</text><text x="2093.3" y="1872" text-anchor="middle" class="tl">5</text><text x="2169.3" y="1872" text-anchor="middle" class="tl">6</text><text x="1950.5" y="1909.5" text-anchor="middle" class="al">Expected <tspan class="d2" dx="2" dy="1.5">&#8211;</tspan><tspan dx="1" dy="-1.5">log10(p)</tspan></text><text transform="translate(1636.5,1574.8) rotate(-90)" text-anchor="middle" class="al">Observed -log10(p)</text><text x="10.2" y="1342.2" class="lt">H</text><g class="pts"><rect x="226" y="2215.4" width="32.2" height="235.7" rx="2.9" fill="#E41A1C"/><path d="M229 2170h0m0 27h0m0 25h0m1-44h0m0 32h0m0 3h0m0 6h0m0 0h0m0 1h0m1-32h0m0 36h0m0 0h0m0 0h0m1-129h0m0 37h0m0 14h0m0 24h0m0 19h0m0 8h0m0 16h0m0 5h0m0 5h0m1-60h0m0 58h0m0 1h0m0 0h0m1-71h0m0 60h0m0 1h0m0 12h0m0 0h0m0 2h0m1-72h0m0 27h0m0 10h0m0 27h0m1-89h0m0 28h0m0 3h0m1 39h0m1-132h0m0 81h0m0 19h0m0 8h0m0 34h0m0 12h0m1-42h0m0 9h0m0 31h0m0 1h0m0 2h0m1-76h0m0 43h0m0 16h0m0 9h0m0 8h0m0 1h0m1-50h0m0 12h0m0 5h0m0 19h0m1-5h0m0 19h0m0 3h0m1-69h0m0 55h0m0 14h0m1-48h0m0 16h0m0 30h0m1-107h0m0 19h0m0 30h0m0 53h0m0 1h0m0 3h0m1-115h0m0 78h0m0 15h0m0 4h0m0 17h0m1-16h0m0 19h0m1-58h0m0 11h0m0 34h0m0 1h0m0 7h0m1-53h0m0 23h0m0 2h0m0 6h0m0 0h0m1-25h0m0 4h0m0 6h0m0 17h0m0 6h0m0 3h0m0 8h0m0 1h0m1-114h0m0 38h0m0 45h0m0 21h0m0 14h0m0 1h0m1-52h0m0 18h0m0 21h0m0 6h0m0 5h0m0 1h0m1-89h0m0 41h0m0 17h0m0 21h0m0 7h0m1-29h0m0 4h0m0 4h0m0 21h0m1-36h0m0 8h0m0 2h0m0 33h0m0 1h0" stroke="#E41A1C"/><rect x="252.5" y="2210.4" width="46.2" height="240.7" rx="2.9" fill="#377EB8"/><path d="M255 2216h0m0 6h0m1-108h0m0 73h0m0 7h0m0 16h0m1-35h0m0 3h0m0 8h0m0 10h0m0 5h0m0 1h0m0 1h0m0 1h0m0 6h0m0 6h0m1-108h0m0 76h0m0 1h0m0 16h0m0 16h0m1-49h0m0 7h0m0 14h0m0 24h0m0 0h0m1-45h0m0 20h0m0 8h0m0 13h0m0 2h0m0 3h0m0 1h0m0 0h0m0 4h0m1-35h0m0 12h0m0 18h0m0 7h0m1-56h0m0 20h0m0 36h0m1-110h0m0 2h0m0 50h0m0 7h0m0 16h0m0 11h0m0 5h0m0 17h0m0 3h0m1-68h0m0 46h0m0 10h0m0 3h0m0 7h0m1-161h0m0 141h0m0 11h0m0 2h0m0 1h0m1-25h0m0 25h0m0 5h0m1-99h0m0 37h0m0 12h0m0 11h0m0 30h0m0 1h0m1-144h0m0 102h0m0 30h0m0 10h0m0 5h0m0 7h0m1-71h0m0 31h0m0 15h0m0 1h0m0 2h0m0 1h0m1-3h0m0 8h0m0 11h0m0 1h0m1-106h0m0 61h0m0 14h0m0 20h0m1-45h0m0 24h0m0 8h0m0 10h0m0 0h0m0 2h0m0 7h0m0 2h0m0 1h0m0 2h0m1-5h0m0 3h0m0 2h0m0 4h0m1-67h0m0 13h0m0 44h0m0 0h0m0 7h0m1-82h0m0 47h0m0 5h0m0 1h0m0 9h0m0 14h0m0 1h0m0 9h0m1-66h0m0 4h0m0 4h0m0 33h0m0 5h0m0 8h0m1-93h0m0 36h0m0 43h0m0 4h0m0 1h0m0 5h0m0 3h0m0 4h0m1-96h0m0 36h0m0 33h0m0 27h0m0 4h0m0 1h0m1-57h0m0 22h0m0 7h0m0 13h0m0 6h0m0 2h0m0 7h0m1-90h0m0 0h0m0 11h0m0 20h0m0 27h0m0 8h0m0 10h0m0 2h0m0 6h0m1-114h0m0 98h0m0 7h0m0 1h0m0 2h0m0 5h0m1-9h0m0 9h0m0 1h0m0 2h0m0 5h0m1-70h0m0 7h0m0 33h0m0 13h0m0 8h0m0 5h0m0 1h0m0 0h0m0 0h0m0 2h0m0 4h0m0 0h0m1-86h0m0 32h0m0 17h0m0 12h0m0 15h0m0 7h0m0 2h0m0 0h0m1-58h0m0 3h0m0 0h0m0 18h0m0 21h0m1-34h0m0 4h0m0 39h0m1-215h0m0 127h0m0 22h0m0 65h0m0 3h0m0 4h0m0 2h0m0 0h0m1-131h0m0 102h0m0 2h0m0 12h0m0 10h0m1-71h0m0 17h0m0 48h0m0 3h0m0 6h0m1-84h0m0 62h0m0 3h0m0 3h0m0 8h0m0 9h0m1-22h0m0 1h0m1-21h0m0 14h0m0 6h0m0 6h0m0 2h0m0 3h0m0 0h0m0 1h0m0 1h0m0 3h0m0 3h0m0 3h0m1-109h0m0 62h0m0 36h0m0 5h0m0 1h0m1 5h0m0 1h0m0 0h0m1-35h0m0 7h0m1 13h0m0 8h0" stroke="#377EB8"/><rect x="293" y="2190.4" width="15.7" height="260.7" rx="2.9" fill="#4DAF4A"/><path d="M296 2081h0m0 63h0m0 32h0m0 3h0m0 16h0m0 2h0m1-148h0m0 130h0m0 5h0m0 17h0m1-23h0m1-35h0m0 24h0m0 8h0m0 12h0m0 13h0m1-39h0m0 14h0m0 8h0m0 3h0m0 1h0m0 9h0m0 1h0m0 2h0m1-67h0m0 35h0m0 3h0m0 1h0m0 5h0m0 2h0m1-101h0m0 49h0m0 35h0m0 25h0m0 4h0m0 12h0m1-77h0m0 15h0m0 4h0m0 26h0m0 6h0m0 3h0m0 5h0m0 2h0m0 13h0m1-61h0m0 53h0m0 3h0m0 0h0m0 5h0m1-48h0m0 30h0m0 16h0m1-90h0m0 48h0m0 27h0m0 3h0" stroke="#4DAF4A"/><rect x="303" y="2215.4" width="11.7" height="235.7" rx="2.9" fill="#984EA3"/><path d="M306 2172h0m0 1h0m0 54h0m1-120h0m0 76h0m0 7h0m0 27h0m0 2h0m1-72h0m0 22h0m0 22h0m0 17h0m0 7h0m0 10h0m1-49h0m0 48h0m0 0h0m1-50h0m0 10h0m0 12h0m0 13h0m1-7h0m0 5h0m0 17h0m1-36h0m0 23h0" stroke="#984EA3"/><rect x="309" y="2212.9" width="44.7" height="238.2" rx="2.9" fill="#FF7F00"/><path d="M312 2132h0m0 89h0m1-44h0m0 7h0m0 41h0m1-151h0m0 87h0m0 0h0m0 38h0m0 20h0m0 3h0m1-71h0m0 11h0m0 21h0m0 19h0m0 4h0m0 5h0m0 5h0m0 5h0m1-137h0m0 65h0m0 20h0m0 23h0m0 0h0m0 2h0m0 8h0m0 20h0m1-24h0m0 9h0m0 9h0m0 8h0m1-105h0m0 29h0m0 31h0m0 29h0m0 2h0m0 8h0m0 4h0m0 1h0m0 1h0m1-42h0m0 2h0m0 13h0m0 11h0m0 2h0m0 7h0m0 1h0m0 2h0m0 4h0m0 0h0m1-41h0m0 2h0m0 0h0m0 36h0m0 1h0m0 2h0m1-36h0m0 20h0m0 1h0m0 3h0m0 1h0m0 6h0m0 1h0m0 1h0m1-14h0m0 1h0m0 4h0m0 1h0m1-10h0m0 12h0m0 5h0m1-124h0m0 46h0m0 26h0m0 11h0m0 24h0m0 11h0m0 6h0m1-74h0m0 15h0m0 29h0m0 1h0m0 11h0m0 9h0m0 5h0m1-63h0m0 34h0m0 25h0m0 4h0m0 1h0m1-92h0m0 13h0m0 26h0m0 34h0m0 17h0m0 1h0m0 2h0m1-52h0m0 15h0m0 17h0m0 19h0m0 7h0m1-38h0m0 16h0m0 11h0m1-21h0m0 7h0m0 13h0m0 12h0m1-68h0m0 14h0m0 15h0m0 34h0m1-101h0m0 24h0m0 59h0m0 14h0m0 3h0m1-114h0m0 66h0m0 11h0m0 39h0m0 3h0m1-15h0m0 9h0m0 6h0m1-109h0m0 87h0m0 0h0m0 2h0m0 18h0m1-145h0m0 111h0m0 21h0m0 11h0m1-1h0m0 3h0m1-71h0m0 31h0m0 23h0m0 12h0m0 1h0m0 6h0m0 1h0m2-57h0m0 36h0m0 7h0m0 3h0m0 5h0m1-18h0m1 16h0m0 3h0m0 6h0m1-36h0m0 13h0m0 2h0m0 9h0m0 4h0m1-79h0m0 23h0m0 20h0m0 12h0m0 0h0m0 31h0m0 0h0m1-77h0m0 21h0m0 55h0m0 1h0m1-77h0m0 1h0m0 50h0m0 6h0m0 1h0m0 10h0m0 5h0m1-85h0m0 27h0m0 3h0m0 0h0m0 24h0m0 13h0m1-29h0m0 20h0m0 6h0m0 9h0m0 9h0m0 0h0m2-20h0m0 10h0m0 1h0m0 14h0m1-40h0m0 33h0m0 8h0" stroke="#FF7F00"/><rect x="348" y="2190.4" width="23.7" height="260.7" rx="2.9" fill="#FFFF33"/><path d="M351 2150h0m0 25h0m0 18h0m1-55h0m0 46h0m0 3h0m0 8h0m1-18h0m0 1h0m0 2h0m0 13h0m0 2h0m0 1h0m0 2h0m0 1h0m1-79h0m0 24h0m0 20h0m0 22h0m0 4h0m1-81h0m0 38h0m0 14h0m0 19h0m0 17h0m0 1h0m1-23h0m0 6h0m1-68h0m0 16h0m0 4h0m0 8h0m0 8h0m0 38h0m0 10h0m0 4h0m1-24h0m1 3h0m0 2h0m0 12h0m0 1h0m0 7h0m1-47h0m0 6h0m0 0h0m0 2h0m0 9h0m0 5h0m0 5h0m0 1h0m0 4h0m0 4h0m0 1h0m0 8h0m1-50h0m0 9h0m0 29h0m0 5h0m0 6h0m0 1h0m1-89h0m0 11h0m0 49h0m1-12h0m0 15h0m0 16h0m0 6h0m0 6h0m1-61h0m0 12h0m0 20h0m0 10h0m0 10h0m0 5h0m1-22h0m0 14h0m0 11h0m1-22h0m0 5h0m1-67h0m0 25h0m0 10h0m0 33h0m0 2h0m0 1h0m0 2h0m1-21h0m0 11h0m0 4h0m0 1h0m0 1h0m0 4h0" stroke="#FFFF33"/><rect x="366" y="2225.4" width="23.7" height="225.7" rx="2.9" fill="#A65628"/><path d="M370 2196h0m0 6h0m0 20h0m0 9h0m0 6h0m0 0h0m1-135h0m0 72h0m0 14h0m0 4h0m0 10h0m0 14h0m0 16h0m1-38h0m0 0h0m0 29h0m1-58h0m0 8h0m0 21h0m0 3h0m0 16h0m0 9h0m0 12h0m1-82h0m0 68h0m0 11h0m0 0h0m1-96h0m0 66h0m0 14h0m0 10h0m0 1h0m1-61h0m0 46h0m0 11h0m0 11h0m1-154h0m0 113h0m0 31h0m0 4h0m1-71h0m0 70h0m0 4h0m0 4h0m0 1h0m1-65h0m0 14h0m0 45h0m0 4h0m0 2h0m0 0h0m1-25h0m0 11h0m0 2h0m0 4h0m0 0h0m0 3h0m0 1h0m0 1h0m0 4h0m1-55h0m0 11h0m0 6h0m0 22h0m0 1h0m0 11h0m0 0h0m1-73h0m0 56h0m0 5h0m0 16h0m1-74h0m0 42h0m0 17h0m0 7h0m0 6h0m1-96h0m0 67h0m0 10h0m0 2h0m0 12h0m0 7h0m0 1h0m1-20h0m0 4h0m0 6h0m0 9h0m1-61h0m0 8h0m0 28h0m0 9h0m0 1h0m0 3h0m0 8h0m0 3h0m1-52h0m0 48h0" stroke="#A65628"/><rect x="384" y="2227.9" width="48.5" height="223.2" rx="2.9" fill="#F781BF"/><path d="M387 2216h0m0 9h0m1-65h0m0 18h0m0 27h0m0 1h0m0 5h0m0 9h0m0 9h0m1-69h0m0 14h0m0 41h0m0 24h0m0 0h0m1-58h0m0 2h0m0 41h0m0 14h0m0 1h0m1-48h0m0 25h0m0 6h0m1-12h0m0 15h0m0 12h0m0 1h0m1-37h0m0 10h0m0 18h0m1-243h0m0 28h0m0 166h0m0 23h0m0 0h0m0 7h0m0 10h0m0 1h0m0 13h0m0 2h0m0 0h0m1-120h0m0 86h0m0 2h0m0 8h0m0 6h0m0 7h0m0 6h0m0 5h0m1-30h0m0 9h0m0 12h0m0 11h0m1-39h0m0 7h0m0 2h0m0 19h0m1-44h0m0 9h0m0 26h0m0 11h0m0 2h0m1-55h0m0 3h0m0 22h0m0 15h0m0 4h0m1-26h0m0 3h0m0 16h0m0 9h0m0 5h0m0 5h0m1-54h0m1 3h0m0 35h0m0 17h0m0 4h0m1-49h0m0 22h0m0 11h0m1-109h0m0 111h0m0 15h0m1-113h0m0 74h0m0 8h0m0 22h0m0 7h0m0 3h0m1-106h0m0 76h0m0 7h0m0 2h0m0 13h0m1-31h0m0 12h0m0 5h0m0 5h0m0 11h0m0 1h0m1-10h0m0 4h0m1-43h0m0 26h0m0 8h0m0 4h0m0 16h0m1-61h0m0 22h0m0 11h0m0 1h0m0 14h0m0 1h0m0 8h0m1-65h0m0 3h0m0 56h0m0 10h0m1-76h0m0 22h0m0 20h0m0 7h0m0 9h0m1 9h0m0 1h0m0 4h0m1-8h0m0 2h0m1-83h0m0 26h0m0 13h0m0 33h0m0 4h0m0 0h0m0 0h0m0 1h0m0 4h0m1-57h0m0 39h0m0 16h0m0 9h0m0 4h0m1-94h0m0 31h0m0 62h0m1-63h0m0 45h0m0 17h0m1-104h0m0 45h0m0 2h0m0 37h0m0 2h0m0 5h0m0 2h0m0 7h0m0 5h0m1-38h0m0 24h0m0 6h0m1-32h0m0 15h0m0 6h0m0 17h0m0 1h0m1-96h0m0 33h0m0 5h0m0 37h0m0 3h0m0 4h0m1-41h0m0 30h0m0 4h0m0 10h0m0 8h0m1-37h0m0 13h0m0 13h0m0 2h0m0 4h0m0 3h0m1-110h0m0 72h0m0 13h0m0 2h0m0 9h0m0 10h0m0 5h0m1-61h0m0 9h0m0 45h0m1-68h0m0 42h0m0 11h0m0 20h0m1-62h0m0 20h0m0 14h0m0 2h0m0 31h0m0 1h0m0 1h0m1-69h0m0 51h0m0 14h0m1-24h0" stroke="#F781BF"/><rect x="426.8" y="2225.4" width="46.5" height="225.7" rx="2.9" fill="#999999"/><path d="M430 2188h0m0 2h0m0 20h0m0 10h0m1-64h0m0 15h0m0 56h0m0 3h0m0 7h0m1-29h0m0 11h0m0 7h0m0 1h0m0 3h0m0 7h0m1-48h0m0 27h0m0 4h0m0 1h0m0 11h0m1-36h0m0 7h0m0 6h0m0 1h0m0 14h0m0 12h0m1-42h0m0 36h0m0 6h0m0 0h0m1-54h0m0 4h0m0 26h0m0 8h0m0 10h0m1-76h0m0 48h0m0 31h0m1-58h0m0 29h0m0 9h0m0 5h0m0 6h0m0 2h0m0 7h0m0 1h0m0 2h0m1-3h0m1-42h0m0 15h0m0 6h0m0 1h0m0 1h0m0 2h0m0 7h0m0 7h0m0 1h0m0 0h0m0 1h0m1-36h0m0 5h0m0 2h0m0 13h0m0 7h0m0 13h0m1-79h0m0 32h0m0 39h0m0 4h0m0 1h0m1-60h0m0 20h0m0 30h0m0 0h0m0 6h0m0 1h0m0 4h0m0 2h0m1-20h0m0 18h0m1-37h0m0 26h0m0 5h0m1-58h0m0 15h0m0 46h0m0 3h0m1-27h0m0 11h0m0 8h0m0 9h0m1-42h0m0 15h0m0 20h0m0 8h0m1-91h0m0 19h0m0 25h0m0 7h0m0 40h0m1-73h0m0 3h0m0 30h0m0 1h0m0 5h0m0 3h0m0 4h0m0 10h0m0 6h0m0 1h0m0 4h0m0 6h0m0 1h0m1-54h0m0 1h0m0 19h0m0 18h0m0 1h0m0 6h0m1-32h0m0 10h0m0 0h0m0 21h0m1-60h0m0 6h0m0 30h0m0 24h0m0 1h0m1-80h0m0 23h0m0 65h0m1-31h0m0 6h0m0 3h0m0 7h0m0 2h0m1-52h0m0 29h0m0 2h0m0 2h0m0 16h0m0 4h0m0 10h0m1-61h0m0 41h0m0 15h0m0 2h0m0 5h0m1-6h0m0 0h0m0 2h0m0 3h0m1-63h0m0 16h0m0 25h0m0 10h0m0 6h0m0 7h0m1-44h0m0 36h0m0 0h0m0 2h0m0 6h0m1-69h0m0 24h0m0 20h0m0 16h0m1-23h0m0 14h0m0 13h0m0 2h0m0 3h0m1-63h0m0 14h0m0 9h0m0 13h0m0 16h0m0 6h0m1-26h0m0 24h0m0 1h0m1-12h0m0 2h0m0 10h0m0 2h0m0 4h0m1-181h0m0 91h0m0 56h0m0 18h0m0 14h0m1-25h0m0 6h0m0 4h0m0 3h0m0 6h0m0 1h0m1-35h0m0 10h0m0 9h0m0 12h0m1-39h0m0 25h0m0 25h0m1-95h0m0 49h0m0 21h0m0 11h0m0 6h0m0 2h0m0 7h0" stroke="#999999"/><rect x="467.5" y="2210.4" width="32.7" height="240.7" rx="2.9" fill="#E41A1C"/><path d="M470 2193h0m0 5h0m1-76h0m0 25h0m0 66h0m0 0h0m0 8h0m0 1h0m1-58h0m0 1h0m0 16h0m0 19h0m0 10h0m1 7h0m1-39h0m0 24h0m0 7h0m0 8h0m1-64h0m0 55h0m0 2h0m0 5h0m0 6h0m1-111h0m0 66h0m0 18h0m0 5h0m0 0h0m0 4h0m0 5h0m0 9h0m0 4h0m1-178h0m0 89h0m0 23h0m0 49h0m0 12h0m1-93h0m0 34h0m0 22h0m0 1h0m0 33h0m0 0h0m0 4h0m0 3h0m1-105h0m0 64h0m0 2h0m1 1h0m0 33h0m1-58h0m0 38h0m0 9h0m0 14h0m1-35h0m0 2h0m0 8h0m0 10h0m0 1h0m0 3h0m0 1h0m0 10h0m1-77h0m0 45h0m0 36h0m1-23h0m0 7h0m0 10h0m0 2h0m1-52h0m0 41h0m0 6h0m1-120h0m0 56h0m0 31h0m0 12h0m0 30h0m1-75h0m0 58h0m1-47h0m0 8h0m0 30h0m0 12h0m1-22h0m0 5h0m0 7h0m0 7h0m0 1h0m0 2h0m0 10h0m0 3h0m1-36h0m0 25h0m0 2h0m0 5h0m0 2h0m1-41h0m0 31h0m0 6h0m1-64h0m0 23h0m0 1h0m0 6h0m0 19h0m1-42h0m0 1h0m1-40h0m0 57h0m0 36h0m0 5h0m0 2h0m0 2h0m1-36h0m1 16h0m0 14h0m0 0h0m1-3h0m0 6h0" stroke="#E41A1C"/><rect x="494.5" y="2210.4" width="18.3" height="240.7" rx="2.9" fill="#377EB8"/><path d="M497 2199h0m1 0h0m0 21h0m1-93h0m0 65h0m0 16h0m1-5h0m0 3h0m0 1h0m0 6h0m0 8h0m1-25h0m0 11h0m0 5h0m1 8h0m1-79h0m0 32h0m0 30h0m0 0h0m0 1h0m1-15h0m0 13h0m0 2h0m0 4h0m0 3h0m0 0h0m0 8h0m1-64h0m0 56h0m0 1h0m0 4h0m0 3h0m1-120h0m0 49h0m0 35h0m0 17h0m0 11h0m1-36h0m0 19h0m1-24h0m0 32h0m1-57h0m0 22h0m0 6h0m0 10h0m0 17h0m0 0h0m0 1h0m0 1h0m0 15h0m0 1h0m0 2h0m1-17h0" stroke="#377EB8"/><rect x="507.1" y="2222.9" width="11.3" height="228.2" rx="2.9" fill="#4DAF4A"/><path d="M510 2172h0m0 9h0m0 38h0m0 10h0m0 0h0m0 2h0m1-51h0m0 42h0m0 0h0m0 11h0m1-42h0m0 23h0m0 15h0m0 1h0m0 3h0m0 1h0m0 1h0m1-29h0m0 5h0m0 6h0m0 5h0m0 3h0m0 4h0m0 2h0m0 2h0m1-126h0m0 57h0m0 10h0m0 28h0m0 16h0m0 12h0m1-42h0m0 21h0m0 1h0m0 24h0" stroke="#4DAF4A"/><rect x="512.8" y="2202.9" width="25.2" height="248.2" rx="2.9" fill="#984EA3"/><path d="M516 2166h0m0 3h0m0 25h0m0 2h0m0 5h0m0 4h0m0 4h0m0 4h0m0 0h0m1-81h0m0 21h0m0 27h0m0 1h0m0 18h0m0 1h0m0 2h0m0 3h0m1-100h0m0 79h0m0 6h0m0 0h0m0 7h0m0 2h0m0 14h0m1-11h0m0 3h0m0 3h0m0 1h0m0 4h0m1-95h0m0 41h0m0 14h0m0 35h0m1-150h0m0 72h0m0 37h0m0 23h0m0 11h0m0 3h0m0 5h0m1-73h0m0 11h0m0 1h0m0 21h0m0 4h0m0 25h0m1-27h0m0 9h0m0 21h0m0 2h0m0 2h0m0 4h0m0 5h0m1-69h0m0 6h0m0 39h0m0 2h0m0 16h0m0 4h0m1-59h0m0 1h0m0 14h0m0 24h0m0 3h0m1 3h0m0 1h0m0 12h0m1-54h0m0 18h0m0 5h0m0 3h0m0 1h0m0 30h0m1-46h0m0 0h0m0 30h0m0 3h0m0 8h0m0 2h0m1-57h0m0 43h0m0 15h0m0 1h0m1-45h0m0 38h0m0 4h0m1-33h0m1-46h0m0 4h0m0 9h0m0 36h0m0 6h0m0 7h0m0 8h0m0 8h0m0 5h0m1-52h0m0 8h0m0 23h0m1-32h0m0 7h0m0 8h0m0 12h0m0 13h0m0 6h0m0 1h0m0 2h0m1 4h0" stroke="#984EA3"/><rect x="532.2" y="2222.9" width="20.3" height="228.2" rx="2.9" fill="#FF7F00"/><path d="M535 2191h0m0 28h0m1-32h0m0 9h0m0 30h0m0 1h0m0 2h0m0 1h0m1-64h0m0 24h0m0 28h0m0 4h0m0 5h0m1-65h0m0 35h0m1-79h0m0 96h0m0 4h0m0 8h0m0 7h0m1-124h0m0 97h0m0 4h0m0 9h0m0 2h0m1-15h0m0 3h0m0 5h0m0 10h0m0 1h0m0 7h0m0 1h0m1-80h0m0 53h0m0 5h0m0 5h0m0 8h0m1-128h0m0 114h0m0 16h0m1-24h0m0 1h0m0 13h0m0 3h0m0 1h0m0 7h0m0 1h0m1-76h0m0 7h0m0 13h0m0 20h0m0 3h0m0 12h0m0 2h0m0 2h0m0 2h0m0 4h0m0 6h0m0 7h0m1-119h0m0 79h0m0 12h0m0 3h0m1-2h0m0 8h0m1-55h0m0 20h0m0 38h0m0 0h0m0 20h0m0 0h0m1-107h0m0 59h0m0 3h0m0 11h0m0 16h0m0 6h0m0 0h0" stroke="#FF7F00"/><rect x="546.9" y="2222.9" width="13.2" height="228.2" rx="2.9" fill="#FFFF33"/><path d="M550 2147h0m0 28h0m0 0h0m0 49h0m1-69h0m0 5h0m0 42h0m0 32h0m1-127h0m0 88h0m0 8h0m0 16h0m1-60h0m0 32h0m0 17h0m0 2h0m0 4h0m0 2h0m0 3h0m0 1h0m0 4h0m1-133h0m0 94h0m0 20h0m0 7h0m0 9h0m0 12h0m1-112h0m0 87h0m0 16h0m0 5h0m1-91h0m0 3h0m0 66h0m0 8h0m0 12h0m0 3h0m0 3h0m1-43h0m0 2h0" stroke="#FFFF33"/><rect x="554.4" y="2227.9" width="10.9" height="223.2" rx="2.9" fill="#A65628"/><path d="M557 2196h0m0 38h0m1-66h0m0 26h0m0 17h0m0 1h0m0 7h0m0 7h0m0 4h0m0 7h0m1-56h0m0 45h0m0 13h0m1-45h0m0 15h0m0 4h0m0 2h0m0 13h0m0 7h0m1-53h0m0 28h0m0 5h0m0 17h0m0 5h0m0 2h0m1-14h0m0 5h0m0 3h0" stroke="#A65628"/><rect x="559.6" y="2227.9" width="13.6" height="223.2" rx="2.9" fill="#F781BF"/><path d="M563 2154h0m0 51h0m0 19h0m0 1h0m0 14h0m0 1h0m1-43h0m0 17h0m0 15h0m0 2h0m1-140h0m0 54h0m0 74h0m1-14h0m0 10h0m0 9h0m0 13h0m0 3h0m1-56h0m0 9h0m0 14h0m0 14h0m0 12h0m0 2h0m0 0h0m0 2h0m1-27h0m0 16h0m0 6h0m1-37h0m0 3h0m0 10h0m0 20h0m1-65h0m0 9h0m0 32h0m0 24h0m0 9h0m0 1h0" stroke="#F781BF"/><rect x="567.5" y="2215.4" width="25.8" height="235.7" rx="2.9" fill="#999999"/><path d="M570 2226h0m1-43h0m0 28h0m0 16h0m1-27h0m0 10h0m0 3h0m0 10h0m0 2h0m1-68h0m0 44h0m0 3h0m0 10h0m0 4h0m0 6h0m1-36h0m0 1h0m0 16h0m0 4h0m0 7h0m1-155h0m0 110h0m0 24h0m0 6h0m0 15h0m0 2h0m0 3h0m0 3h0m1-110h0m0 22h0m0 25h0m0 52h0m0 12h0m1-92h0m0 39h0m0 34h0m0 6h0m0 2h0m0 9h0m1-16h0m0 9h0m0 3h0m0 3h0m1-106h0m0 86h0m0 11h0m0 7h0m0 4h0m0 3h0m1-87h0m0 8h0m0 76h0m1-58h0m0 40h0m0 14h0m0 7h0m1-51h0m0 5h0m0 12h0m0 0h0m0 12h0m0 5h0m0 4h0m1-118h0m0 29h0m0 42h0m0 16h0m0 1h0m0 1h0m0 24h0m0 11h0m0 7h0m1-122h0m0 9h0m0 67h0m0 38h0m0 4h0m1-20h0m0 24h0m1-120h0m0 10h0m0 20h0m0 38h0m0 7h0m0 12h0m0 5h0m0 4h0m0 7h0m0 5h0m1-19h0m0 6h0m0 16h0m0 7h0m0 1h0m1-39h0m0 6h0m0 8h0m1 7h0m0 10h0m0 6h0m1-28h0m0 15h0m0 3h0" stroke="#999999"/><rect x="587.6" y="2210.4" width="32.1" height="240.7" rx="2.9" fill="#E41A1C"/><path d="M591 2180h0m0 34h0m1-85h0m0 24h0m0 23h0m0 12h0m0 23h0m0 0h0m1-58h0m0 3h0m0 39h0m0 17h0m0 9h0m1-28h0m0 10h0m0 6h0m0 12h0m1-73h0m0 28h0m0 11h0m0 5h0m0 3h0m0 24h0m0 2h0m1-52h0m1-5h0m0 21h0m0 12h0m0 3h0m0 16h0m0 4h0m0 1h0m0 0h0m1-123h0m0 93h0m0 9h0m0 17h0m0 3h0m1-123h0m0 71h0m0 12h0m0 5h0m0 26h0m0 11h0m1-66h0m0 35h0m0 10h0m0 20h0m1-32h0m0 15h0m0 9h0m0 9h0m1-108h0m0 16h0m0 42h0m0 5h0m0 8h0m0 13h0m0 7h0m1-38h0m0 20h0m0 24h0m0 3h0m0 3h0m1-73h0m0 55h0m0 11h0m0 4h0m0 4h0m0 0h0m0 3h0m1-117h0m0 57h0m0 0h0m0 35h0m0 10h0m0 14h0m1-54h0m0 19h0m0 15h0m0 22h0m1-39h0m0 11h0m0 13h0m1-39h0m0 3h0m0 28h0m0 9h0m0 2h0m0 1h0m0 8h0m0 0h0m1-47h0m0 21h0m0 10h0m1 8h0m0 1h0m0 7h0m1-23h0m0 8h0m0 2h0m0 6h0m0 1h0m0 2h0m0 1h0m0 2h0m0 0h0m1-70h0m0 9h0m0 10h0m0 29h0m0 26h0m1-94h0m0 37h0m0 20h0m0 6h0m0 2h0m0 18h0m0 1h0m0 3h0m1-57h0m0 43h0m0 6h0m0 6h0m0 0h0m1-70h0m0 33h0m0 5h0m0 8h0m0 0h0m0 23h0m0 6h0m1-47h0m0 13h0m0 9h0m0 5h0m0 7h0m0 3h0m0 4h0m0 7h0m1-65h0m0 28h0m0 21h0m0 18h0" stroke="#E41A1C"/><rect x="614" y="2215.4" width="34.6" height="235.7" rx="2.9" fill="#377EB8"/><path d="M617 2170h0m0 17h0m0 14h0m0 21h0m0 4h0m1-71h0m0 3h0m0 46h0m0 13h0m1-21h0m0 5h0m0 7h0m0 1h0m0 15h0m1-19h0m0 4h0m0 4h0m0 7h0m0 3h0m1-52h0m0 15h0m0 36h0m1-22h0m0 12h0m1-57h0m0 30h0m0 3h0m0 2h0m0 17h0m0 6h0m0 2h0m0 6h0m0 0h0m0 5h0m1-40h0m0 10h0m0 5h0m0 2h0m0 6h0m0 4h0m0 11h0m0 3h0m1-66h0m0 58h0m0 5h0m1-38h0m0 24h0m0 15h0m1-22h0m0 4h0m0 0h0m1-53h0m0 28h0m0 17h0m0 3h0m0 14h0m1-95h0m0 18h0m0 56h0m0 24h0m0 0h0m0 1h0m1-122h0m0 16h0m0 80h0m0 6h0m0 27h0m1-121h0m0 87h0m0 13h0m0 2h0m0 4h0m0 0h0m0 7h0m0 2h0m1-117h0m0 100h0m0 10h0m0 1h0m0 3h0m0 1h0m0 2h0m1-85h0m0 0h0m0 15h0m0 42h0m1-85h0m0 36h0m0 28h0m0 17h0m0 27h0m0 3h0m0 0h0m0 5h0m0 2h0m1-26h0m0 8h0m0 0h0m0 6h0m0 10h0m0 1h0m1-45h0m0 14h0m0 8h0m0 15h0m0 3h0m0 6h0m0 1h0m0 0h0m1-62h0m0 16h0m0 26h0m1-69h0m0 6h0m0 55h0m0 7h0m0 6h0m0 11h0m0 1h0m0 3h0m1-79h0m0 30h0m0 20h0m0 2h0m0 6h0m1 1h0m0 13h0m0 1h0m1-35h0m0 5h0m0 20h0m0 1h0m0 11h0m0 1h0m0 0h0m0 2h0m1-21h0m0 2h0m1-18h0m0 23h0m0 4h0m0 8h0m0 3h0m1-53h0m0 11h0m0 6h0m0 27h0m0 1h0m0 7h0m0 0h0m0 1h0m1-112h0m0 72h0m0 21h0m0 1h0m1-4h0" stroke="#377EB8"/><rect x="642.9" y="2215.4" width="10" height="235.7" rx="2.9" fill="#4DAF4A"/><path d="M646 2160h0m0 53h0m0 5h0m1-57h0m0 30h0m0 16h0m0 11h0m0 3h0m0 1h0m0 5h0m1-64h0m0 18h0m0 23h0m0 2h0m0 0h0m0 4h0m0 7h0m0 2h0m1-78h0m0 70h0m0 2h0m0 9h0m0 3h0m1-32h0m0 14h0" stroke="#4DAF4A"/><rect x="647.2" y="2207.9" width="18.8" height="243.2" rx="2.9" fill="#984EA3"/><path d="M650 2182h0m0 5h0m0 25h0m1-92h0m0 72h0m0 7h0m0 4h0m0 7h0m0 3h0m1-178h0m0 116h0m0 28h0m0 2h0m0 22h0m0 6h0m0 6h0m0 2h0m1-29h0m0 27h0m1-46h0m0 14h0m0 34h0m0 2h0m1-145h0m0 91h0m0 23h0m0 26h0m1-60h0m0 44h0m0 8h0m0 3h0m0 2h0m0 5h0m1-45h0m1-45h0m0 73h0m0 6h0m0 5h0m0 9h0m1-86h0m0 46h0m0 2h0m0 9h0m0 0h0m0 10h0m0 12h0m1-53h0m0 17h0m0 16h0m0 3h0m0 15h0m1-92h0m0 28h0m0 18h0m0 41h0m0 1h0m0 4h0m0 5h0m0 2h0m1-82h0m0 23h0m0 20h0m0 1h0m0 14h0m0 16h0m0 1h0m0 2h0m1-69h0m0 5h0m0 17h0m0 18h0m0 30h0m0 6h0" stroke="#984EA3"/><rect x="660.3" y="2202.9" width="8.5" height="248.2" rx="2.9" fill="#FF7F00"/><path d="M663 2182h0m1-45h0m0 25h0m0 28h0m0 9h0m0 3h0m0 4h0m1-20h0m0 1h0m0 9h0m0 7h0m0 6h0m0 1h0m0 0h0m1 2h0m0 2h0m0 0h0" stroke="#FF7F00"/><rect x="663.1" y="2202.9" width="13.8" height="248.2" rx="2.9" fill="#FFFF33"/><path d="M666 2159h0m0 25h0m0 2h0m0 24h0m0 1h0m1-17h0m0 15h0m1-143h0m0 75h0m0 19h0m0 3h0m0 15h0m0 7h0m0 13h0m0 9h0m0 1h0m1-71h0m0 23h0m0 21h0m0 4h0m0 9h0m0 3h0m1-14h0m0 27h0m1-125h0m0 109h0m0 1h0m1-3h0m0 14h0m0 6h0m0 0h0m1-40h0m0 1h0m0 20h0m0 14h0m0 3h0m1-59h0m0 26h0" stroke="#FFFF33"/><rect x="671.2" y="2207.9" width="15.5" height="243.2" rx="2.9" fill="#A65628"/><path d="M674 2184h0m0 14h0m0 11h0m0 10h0m0 0h0m1-24h0m0 1h0m0 13h0m0 1h0m0 2h0m1-90h0m0 11h0m0 35h0m0 33h0m1-58h0m0 33h0m0 2h0m0 19h0m0 17h0m0 4h0m1-12h0m0 7h0m0 1h0m1-113h0m0 50h0m0 1h0m0 4h0m0 16h0m0 17h0m0 1h0m0 1h0m0 21h0m0 3h0m0 0h0m0 2h0m1-89h0m0 25h0m1 22h0m0 12h0m0 5h0m0 8h0m0 2h0m0 3h0m0 4h0m0 5h0m0 5h0m1-4h0m0 2h0m0 0h0m2-46h0" stroke="#A65628"/><rect x="681" y="2217.9" width="33.7" height="233.2" rx="2.9" fill="#F781BF"/><path d="M684 2163h0m0 30h0m0 15h0m0 14h0m0 7h0m1-11h0m0 5h0m0 5h0m0 1h0m0 0h0m1-98h0m0 68h0m0 18h0m0 1h0m0 0h0m0 5h0m0 5h0m1-46h0m0 3h0m0 14h0m0 5h0m0 2h0m0 2h0m0 20h0m1-99h0m0 53h0m1 17h0m0 1h0m0 2h0m0 11h0m0 14h0m0 1h0m0 1h0m1-158h0m0 49h0m0 40h0m0 4h0m0 37h0m0 8h0m0 0h0m0 2h0m0 9h0m1-8h0m0 1h0m0 7h0m0 6h0m0 1h0m1-73h0m0 49h0m0 6h0m0 12h0m0 0h0m0 2h0m1-68h0m0 40h0m0 2h0m0 0h0m0 29h0m1-29h0m0 12h0m0 1h0m0 2h0m0 4h0m0 9h0m1-61h0m0 55h0m0 2h0m0 7h0m1-162h0m0 20h0m0 105h0m0 10h0m0 15h0m0 12h0m1-39h0m0 16h0m0 3h0m0 5h0m0 2h0m0 1h0m1-147h0m0 79h0m0 18h0m0 56h0m0 0h0m1-41h0m0 2h0m0 34h0m0 1h0m0 3h0m1-131h0m0 82h0m0 38h0m0 6h0m0 6h0m0 5h0m0 0h0m0 2h0m1-167h0m0 91h0m0 38h0m0 17h0m1-8h0m0 6h0m0 18h0m0 2h0m1-36h0m0 21h0m0 9h0m0 9h0m0 0h0m1-140h0m0 90h0m0 3h0m0 1h0m0 16h0m0 8h0m0 2h0m0 3h0m1-29h0m0 24h0m1-33h0m0 14h0m0 31h0m0 4h0m0 5h0m1-66h0m0 32h0m0 17h0m0 0h0m0 5h0m0 2h0m0 3h0m0 1h0m0 5h0m1-25h0m0 21h0m1-53h0m0 27h0m0 18h0m0 12h0m1-35h0m0 2h0m0 13h0m0 12h0m1-115h0m0 42h0m0 58h0m0 1h0m1 8h0" stroke="#F781BF"/><rect x="709" y="2227.9" width="8.9" height="223.2" rx="2.9" fill="#999999"/><path d="M712 2094h0m0 122h0m0 17h0m0 3h0m0 1h0m0 2h0m1-110h0m0 21h0m0 63h0m0 5h0m0 19h0m1-10h0m0 3h0m0 9h0" stroke="#999999"/><rect x="712.2" y="2210.4" width="23.4" height="240.7" rx="2.9" fill="#E41A1C"/><path d="M715 2178h0m0 30h0m0 0h0m1-71h0m0 17h0m0 21h0m0 21h0m0 8h0m0 2h0m1-26h0m0 16h0m0 4h0m0 5h0m0 8h0m0 3h0m0 0h0m0 3h0m1-24h0m0 13h0m1-50h0m0 21h0m0 2h0m0 16h0m0 9h0m0 16h0m1-83h0m0 27h0m0 54h0m1-71h0m0 30h0m0 26h0m0 2h0m0 7h0m0 3h0m0 5h0m1-83h0m0 60h0m0 3h0m0 9h0m0 2h0m0 1h0m0 6h0m1-85h0m0 43h0m0 21h0m0 4h0m0 0h0m0 2h0m0 7h0m0 8h0m0 1h0m1-108h0m0 70h0m0 8h0m0 1h0m0 21h0m0 1h0m1-23h0m0 4h0m0 7h0m0 13h0m1-89h0m0 76h0m0 2h0m0 17h0m1-59h0m0 28h0m1-95h0m0 69h0m0 44h0m1-55h0m0 56h0m1 0h0m0 7h0m1-38h0m0 1h0m0 5h0m0 2h0m0 11h0m0 21h0m1-38h0m0 15h0m0 7h0m0 13h0m0 6h0m0 0h0m1-56h0m0 2h0m0 36h0m0 9h0" stroke="#E41A1C"/><rect x="730" y="2215.4" width="8.2" height="235.7" rx="2.9" fill="#377EB8"/><path d="M733 2208h0m1-8h0m0 6h0m0 10h0m0 1h0m0 7h0m0 2h0m1-10h0m0 11h0m0 0h0" stroke="#377EB8"/><rect x="732.5" y="2215.4" width="9.8" height="235.7" rx="2.9" fill="#4DAF4A"/><path d="M735 2120h0m0 42h0m1 4h0m0 42h0m0 15h0m0 1h0m1-72h0m0 24h0m0 2h0m0 10h0m0 1h0m0 11h0m0 14h0m0 4h0m0 4h0m0 1h0m1-66h0m0 23h0m0 4h0m0 7h0m0 4h0m0 9h0m0 10h0m0 11h0m1-74h0m0 9h0m0 63h0m0 2h0" stroke="#4DAF4A"/><rect x="736.6" y="2215.4" width="41" height="235.7" rx="2.9" fill="#984EA3"/><path d="M739 2224h0m1-103h0m0 41h0m0 11h0m0 37h0m0 8h0m0 7h0m1-44h0m0 29h0m0 2h0m0 6h0m1-124h0m0 38h0m0 40h0m0 51h0m0 0h0m1-37h0m0 0h0m0 14h0m0 6h0m0 11h0m0 9h0m1-31h0m0 10h0m0 10h0m1-68h0m0 27h0m0 2h0m0 15h0m0 13h0m0 17h0m1-168h0m0 123h0m0 8h0m0 10h0m0 6h0m0 11h0m0 10h0m0 0h0m1-127h0m0 35h0m0 23h0m0 46h0m0 6h0m0 1h0m0 7h0m1-16h0m0 2h0m0 0h0m0 19h0m0 6h0m1-41h0m0 4h0m0 9h0m0 27h0m1-51h0m0 12h0m0 3h0m0 13h0m0 9h0m0 11h0m1-19h0m0 8h0m0 14h0m0 4h0m0 1h0m1-70h0m0 1h0m0 3h0m1-8h0m0 30h0m0 21h0m0 11h0m0 3h0m1-32h0m0 31h0m1-35h0m0 3h0m0 12h0m0 10h0m0 8h0m1 3h0m0 5h0m1-57h0m0 4h0m0 31h0m0 10h0m0 9h0m0 2h0m0 3h0m0 2h0m1-104h0m0 84h0m0 5h0m0 11h0m1-40h0m0 11h0m0 17h0m0 3h0m0 5h0m1-95h0m0 83h0m0 8h0m0 8h0m1-79h0m0 58h0m0 1h0m0 8h0m1-45h0m0 38h0m0 18h0m1-60h0m0 48h0m0 4h0m0 2h0m0 7h0m1-111h0m0 69h0m0 26h0m0 0h0m0 3h0m0 2h0m0 0h0m1-49h0m0 40h0m0 8h0m0 4h0m0 7h0m0 2h0m1-47h0m0 19h0m0 1h0m0 9h0m0 3h0m1 4h0m0 3h0m0 7h0m0 3h0m1-52h0m0 15h0m0 5h0m0 29h0m0 0h0m1-102h0m0 104h0m1-42h0m0 23h0m0 7h0m0 9h0m1-37h0m0 0h0m0 6h0m0 8h0m0 10h0m0 1h0m0 6h0m0 4h0m0 2h0m1-138h0m0 116h0m0 3h0m0 5h0m1-22h0m0 8h0m0 2h0m0 29h0m0 2h0m1-90h0m0 77h0m0 5h0m0 5h0m0 2h0" stroke="#984EA3"/><rect x="771.9" y="2202.9" width="9.4" height="248.2" rx="2.9" fill="#FF7F00"/><path d="M775 2100h0m0 83h0m0 17h0m0 10h0m0 3h0m1-80h0m0 18h0m0 1h0m0 31h0m0 18h0m1-65h0m0 12h0m0 52h0m0 10h0m0 4h0m1-29h0m0 1h0m0 5h0m0 12h0m0 1h0m0 5h0m0 2h0m0 1h0m0 0h0" stroke="#FF7F00"/><rect x="775.6" y="2202.9" width="22.1" height="248.2" rx="2.9" fill="#FFFF33"/><path d="M779 2152h0m0 26h0m0 9h0m0 7h0m0 5h0m0 2h0m0 5h0m0 7h0m1-184h0m0 108h0m0 42h0m0 1h0m0 2h0m0 0h0m0 16h0m0 0h0m0 9h0m0 7h0m1-11h0m0 11h0m1-47h0m0 17h0m0 11h0m0 13h0m1-37h0m1 9h0m0 1h0m0 27h0m1-48h0m0 24h0m0 24h0m0 5h0m1-15h0m0 2h0m1-21h0m0 1h0m0 9h0m0 8h0m0 6h0m0 10h0m1-66h0m0 24h0m0 26h0m0 8h0m1-57h0m0 37h0m0 21h0m0 0h0m1-41h0m0 16h0m0 17h0m0 2h0m0 10h0m1-66h0m0 10h0m0 46h0m1-26h0m0 5h0m1 2h0m0 20h0m0 1h0m1-34h0m0 2h0m0 11h0m0 17h0m0 1h0" stroke="#FFFF33"/><rect x="792" y="2202.9" width="11.6" height="248.2" rx="2.9" fill="#A65628"/><path d="M795 2189h0m0 23h0m1-110h0m0 71h0m0 6h0m0 27h0m0 6h0m1-27h0m0 16h0m0 6h0m0 1h0m0 3h0m1-144h0m0 105h0m0 4h0m0 12h0m0 21h0m0 0h0m0 4h0m1-88h0m0 39h0m0 37h0m0 10h0m1-14h0m0 6h0m0 2h0m0 9h0m1-2h0" stroke="#A65628"/><rect x="797.9" y="2210.4" width="41.9" height="240.7" rx="2.9" fill="#F781BF"/><path d="M801 2115h0m0 89h0m0 2h0m0 8h0m0 8h0m1-100h0m0 37h0m0 17h0m0 12h0m0 19h0m0 6h0m0 2h0m0 2h0m0 5h0m1-110h0m0 23h0m0 67h0m0 4h0m0 4h0m1-143h0m0 72h0m0 19h0m0 18h0m0 14h0m0 10h0m0 3h0m0 7h0m0 1h0m0 3h0m0 6h0m0 2h0m1-18h0m0 14h0m1-14h0m0 2h0m0 2h0m0 0h0m0 6h0m1-124h0m0 5h0m0 68h0m0 13h0m0 8h0m0 26h0m0 5h0m1-118h0m0 9h0m0 89h0m0 5h0m0 6h0m0 15h0m1-42h0m0 9h0m0 2h0m0 3h0m0 8h0m0 11h0m0 4h0m0 1h0m1-85h0m0 40h0m0 6h0m0 26h0m0 15h0m0 2h0m0 1h0m1-74h0m0 29h0m0 17h0m0 21h0m0 2h0m0 2h0m0 1h0m0 0h0m0 2h0m1-71h0m0 36h0m1 7h0m0 1h0m0 11h0m0 0h0m0 1h0m0 8h0m0 6h0m1-219h0m0 147h0m0 9h0m0 24h0m0 3h0m0 5h0m0 2h0m0 8h0m0 0h0m0 7h0m0 3h0m0 8h0m1-75h0m0 67h0m0 1h0m0 1h0m0 6h0m1-2h0m0 3h0m1-49h0m0 41h0m0 6h0m0 3h0m1-100h0m0 83h0m0 19h0m1-129h0m0 47h0m0 22h0m0 3h0m0 29h0m0 24h0m1-49h0m0 18h0m0 3h0m0 4h0m0 5h0m0 0h0m0 3h0m0 16h0m1-44h0m0 11h0m0 16h0m0 2h0m0 19h0m1-73h0m0 20h0m0 1h0m0 11h0m0 9h0m0 7h0m0 5h0m0 17h0m0 1h0m1-80h0m0 54h0m0 9h0m0 1h0m0 7h0m0 5h0m0 1h0m0 3h0m1-45h0m0 24h0m1-59h0m0 37h0m0 11h0m0 31h0m1-39h0m0 17h0m0 7h0m0 9h0m0 7h0m1-115h0m0 27h0m0 48h0m0 12h0m0 6h0m0 16h0m0 3h0m0 3h0m1-61h0m0 34h0m0 26h0m1-113h0m0 78h0m0 12h0m0 14h0m0 11h0m1-34h0m0 10h0m0 13h0m0 6h0m0 2h0m1-123h0m0 72h0m0 4h0m0 1h0m0 0h0m0 15h0m0 9h0m0 13h0m0 5h0m0 0h0m0 5h0m1-127h0m0 57h0m0 31h0m0 19h0m0 0h0m0 12h0m0 4h0m1-72h0m0 12h0m0 2h0m0 12h0m0 25h0m0 2h0m0 14h0m1-148h0m0 83h0m0 39h0m0 2h0m0 30h0m0 1h0m1-90h0m0 16h0m1 39h0m0 4h0m0 14h0m0 5h0m0 6h0m1-35h0m0 21h0m0 17h0" stroke="#F781BF"/><rect x="834.1" y="2227.9" width="17.8" height="223.2" rx="2.9" fill="#999999"/><path d="M837 2217h0m0 5h0m0 14h0m1-79h0m0 75h0m0 3h0m1-102h0m0 32h0m0 10h0m0 21h0m0 19h0m0 7h0m0 12h0m1-62h0m0 4h0m0 63h0m1-88h0m0 15h0m0 33h0m0 2h0m0 0h0m0 5h0m0 1h0m0 8h0m0 5h0m0 4h0m0 4h0m0 10h0m1-75h0m0 13h0m0 5h0m0 15h0m0 10h0m0 21h0m0 0h0m1-104h0m0 78h0m0 12h0m0 7h0m0 9h0m0 0h0m0 7h0m0 1h0m1-57h0m0 34h0m0 17h0m0 6h0m0 1h0m1-28h0m0 18h0m1-46h0m0 48h0m0 2h0m0 4h0m1-125h0m0 44h0m0 37h0m0 3h0m0 3h0m0 30h0m0 3h0m1-39h0m0 22h0m0 19h0m0 4h0m0 1h0m0 1h0m1-26h0m0 1h0m0 20h0m0 1h0m0 2h0" stroke="#999999"/><rect x="846.2" y="2202.9" width="9.8" height="248.2" rx="2.9" fill="#E41A1C"/><path d="M849 2143h0m0 70h0m1-100h0m0 77h0m0 11h0m0 13h0m1-73h0m0 26h0m0 2h0m0 20h0m0 3h0m0 7h0m0 2h0m2-37h0m0 16h0m0 23h0m0 1h0" stroke="#E41A1C"/><rect x="850.4" y="2215.4" width="32.5" height="235.7" rx="2.9" fill="#377EB8"/><path d="M853 2192h0m1-15h0m0 18h0m0 31h0m1-43h0m0 29h0m0 5h0m0 6h0m0 3h0m1-104h0m0 59h0m0 18h0m0 11h0m0 3h0m0 14h0m1-13h0m1-132h0m0 97h0m0 14h0m0 4h0m0 19h0m0 1h0m0 6h0m1-72h0m0 59h0m1-81h0m0 96h0m0 1h0m0 1h0m1-73h0m0 38h0m0 10h0m0 2h0m0 11h0m0 10h0m1-28h0m0 6h0m0 7h0m0 2h0m0 3h0m0 9h0m0 0h0m1-46h0m0 16h0m0 8h0m0 25h0m1-15h0m0 1h0m0 5h0m1-17h0m0 13h0m0 2h0m0 2h0m1-116h0m0 43h0m0 68h0m0 8h0m0 0h0m0 4h0m0 1h0m0 0h0m1-38h0m0 5h0m0 12h0m0 14h0m1-107h0m0 63h0m0 26h0m0 4h0m0 9h0m0 1h0m1-103h0m0 101h0m0 1h0m1-58h0m0 35h0m0 26h0m0 4h0m1-69h0m0 31h0m0 35h0m0 7h0m1-66h0m0 8h0m0 11h0m0 18h0m0 1h0m0 18h0m0 1h0m0 8h0m0 0h0m1-18h0m0 1h0m0 0h0m1 8h0m0 2h0m0 8h0m1-60h0m0 1h0m0 31h0m0 17h0m0 4h0m1-126h0m0 103h0m0 3h0m0 28h0m1-33h0m0 1h0m0 1h0m0 2h0m0 26h0m0 0h0m1-98h0m0 39h0m0 20h0m0 35h0m0 6h0m1-60h0m0 10h0m0 6h0m0 33h0m0 12h0m0 1h0m1-67h0m0 48h0m0 2h0m0 9h0" stroke="#377EB8"/><rect x="877.2" y="2207.9" width="28.7" height="243.2" rx="2.9" fill="#4DAF4A"/><path d="M880 2177h0m0 4h0m1-30h0m0 15h0m0 37h0m0 1h0m1-32h0m0 16h0m0 22h0m0 9h0m1-89h0m0 40h0m0 34h0m0 4h0m0 4h0m0 7h0m1-96h0m0 22h0m0 34h0m0 6h0m0 28h0m1-65h0m0 41h0m0 1h0m0 28h0m1-73h0m0 54h0m0 11h0m0 2h0m0 1h0m1-50h0m0 17h0m0 1h0m0 7h0m0 1h0m0 26h0m1-66h0m0 9h0m0 29h0m0 4h0m0 6h0m0 5h0m0 14h0m1-30h0m0 1h0m0 1h0m0 1h0m0 1h0m0 8h0m0 4h0m0 1h0m0 1h0m0 6h0m0 2h0m1-69h0m0 11h0m0 25h0m0 10h0m0 10h0m0 18h0m1-47h0m0 13h0m0 12h0m0 2h0m0 11h0m0 7h0m0 3h0m1-33h0m0 3h0m0 14h0m0 3h0m0 6h0m0 0h0m0 8h0m1-51h0m0 35h0m0 2h0m0 2h0m0 7h0m0 4h0m1-122h0m0 32h0m0 66h0m0 1h0m0 18h0m0 7h0m1-131h0m0 51h0m0 71h0m0 3h0m1-45h0m0 28h0m0 2h0m0 7h0m0 0h0m0 1h0m1-36h0m0 20h0m0 18h0m0 3h0m0 6h0m1-102h0m0 52h0m0 40h0m1-89h0m0 70h0m0 2h0m0 10h0m0 2h0m0 3h0m0 1h0m0 2h0m0 1h0m0 4h0m0 5h0m1-145h0m0 94h0m0 2h0m0 26h0m0 4h0m0 1h0m0 13h0m1-21h0m1-2h0m0 5h0m0 9h0m0 4h0m0 0h0m0 4h0m0 1h0m0 2h0m1-50h0m0 13h0m0 11h0m0 2h0m0 6h0m0 8h0m0 7h0m0 2h0m0 1h0" stroke="#4DAF4A"/><rect x="900.2" y="2215.4" width="8" height="235.7" rx="2.9" fill="#984EA3"/><path d="M904 2210h0m0 17h0m1-94h0m0 84h0" stroke="#984EA3"/><rect x="902.5" y="2215.4" width="11.3" height="235.7" rx="2.9" fill="#FF7F00"/><path d="M905 2185h0m0 40h0m1-64h0m0 8h0m0 6h0m0 50h0m1-60h0m0 1h0m0 1h0m0 34h0m0 15h0m0 0h0m1-25h0m0 1h0m0 1h0m0 0h0m0 2h0m0 22h0m1-75h0m0 60h0m0 8h0m0 10h0m0 6h0m1-104h0m0 33h0m0 40h0m0 5h0m0 7h0m0 2h0m0 1h0m0 1h0m0 1h0m0 13h0m1-31h0m0 25h0m0 7h0" stroke="#FF7F00"/><rect x="908.1" y="2215.4" width="12.8" height="235.7" rx="2.9" fill="#FFFF33"/><path d="M911 2192h0m0 3h0m1-33h0m0 40h0m0 13h0m0 6h0m1-55h0m0 36h0m0 11h0m1-173h0m0 131h0m0 29h0m0 14h0m1-125h0m0 47h0m0 17h0m0 34h0m0 7h0m0 10h0m0 18h0m0 4h0m1-138h0m0 55h0m0 70h0m0 8h0m1-37h0m0 17h0m0 5h0m1-12h0m0 2h0m0 13h0" stroke="#FFFF33"/><rect x="915.2" y="2212.9" width="37.6" height="238.2" rx="2.9" fill="#A65628"/><path d="M918 2194h0m1-9h0m0 12h0m0 11h0m0 4h0m0 1h0m1-47h0m0 14h0m0 27h0m1-122h0m0 101h0m0 16h0m0 0h0m0 3h0m0 3h0m0 17h0m1-90h0m0 83h0m1-23h0m0 2h0m0 11h0m0 8h0m0 6h0m1-79h0m0 21h0m0 54h0m0 2h0m1-135h0m0 110h0m0 16h0m0 8h0m0 3h0m1-76h0m0 18h0m0 2h0m0 2h0m0 11h0m0 3h0m0 13h0m0 6h0m0 20h0m0 2h0m1-60h0m0 15h0m0 35h0m0 2h0m0 6h0m0 2h0m0 1h0m1-110h0m0 101h0m0 4h0m0 5h0m1-130h0m0 73h0m0 3h0m0 23h0m0 8h0m0 12h0m0 3h0m0 4h0m1-94h0m0 17h0m0 29h0m0 1h0m0 6h0m0 11h0m0 10h0m0 3h0m0 14h0m0 5h0m1-15h0m0 8h0m0 0h0m0 2h0m0 2h0m0 0h0m1-74h0m0 45h0m0 0h0m0 10h0m0 3h0m0 18h0m1-84h0m0 8h0m0 11h0m0 30h0m0 8h0m0 1h0m1-37h0m0 23h0m0 16h0m0 1h0m0 26h0m0 1h0m1-82h0m0 36h0m0 8h0m0 31h0m0 1h0m0 5h0m0 0h0m1-134h0m0 105h0m0 1h0m0 18h0m0 0h0m1-41h0m0 14h0m0 24h0m0 5h0m1-46h0m0 13h0m0 2h0m0 12h0m0 21h0m1-109h0m0 24h0m0 25h0m0 26h0m0 21h0m0 5h0m0 12h0m1-112h0m0 73h0m0 15h0m0 8h0m0 12h0m0 2h0m0 0h0m1-13h0m0 1h0m0 4h0m0 3h0m0 9h0m1-19h0m0 6h0m0 10h0m1-46h0m0 8h0m0 1h0m0 6h0m0 23h0m1-56h0m0 12h0m0 23h0m0 17h0m0 8h0m0 2h0m0 5h0m1-54h0m0 25h0m0 3h0m0 8h0m0 5h0m0 7h0m0 5h0m1-90h0m0 37h0m0 4h0m0 8h0m0 4h0m0 14h0m1 4h0m0 1h0m0 9h0m0 3h0m0 3h0m0 2h0m0 1h0m1-31h0m0 20h0m0 6h0m1-44h0m0 12h0m0 9h0m0 6h0m0 10h0m0 2h0m0 2h0m0 2h0m1-21h0m0 25h0" stroke="#A65628"/><rect x="947.1" y="2227.9" width="9.5" height="223.2" rx="2.9" fill="#F781BF"/><path d="M950 2226h0m1-21h0m0 4h0m0 9h0m0 4h0m0 11h0m0 1h0m0 3h0m0 1h0m1-15h0m0 10h0m0 1h0m0 0h0m1-52h0m0 32h0m0 3h0m0 11h0m0 4h0m1-17h0" stroke="#F781BF"/><rect x="950.9" y="2215.4" width="22.9" height="235.7" rx="2.9" fill="#999999"/><path d="M954 2192h0m0 2h0m0 12h0m0 10h0m0 3h0m0 7h0m0 0h0m1-100h0m0 6h0m0 50h0m0 1h0m0 12h0m0 23h0m0 4h0m0 5h0m1-64h0m0 48h0m0 9h0m1-117h0m0 56h0m0 13h0m0 50h0m0 1h0m0 1h0m1-235h0m0 159h0m0 32h0m0 2h0m0 6h0m0 30h0m0 4h0m1-93h0m0 43h0m0 2h0m0 23h0m0 18h0m0 1h0m0 0h0m0 4h0m0 4h0m0 1h0m1-28h0m0 13h0m0 8h0m0 2h0m1-41h0m0 24h0m0 3h0m0 21h0m1-26h0m0 18h0m1-78h0m0 34h0m0 2h0m0 5h0m0 21h0m0 21h0m1-50h0m0 1h0m0 14h0m0 12h0m0 9h0m0 15h0m1-80h0m0 56h0m0 8h0m0 14h0m0 3h0m1-78h0m0 18h0m0 11h0m0 4h0m0 12h0m0 17h0m0 4h0m1-14h0m0 1h0m0 5h0m1-11h0m0 5h0m0 6h0m0 1h0m0 14h0m1-99h0m0 67h0m0 18h0m0 7h0m0 3h0m0 2h0m0 1h0m0 3h0m0 1h0m1-10h0m0 7h0m0 4h0m1-44h0m0 34h0m0 9h0" stroke="#999999"/><rect x="968.1" y="2217.9" width="33.8" height="233.2" rx="2.9" fill="#E41A1C"/><path d="M972 2171h0m0 5h0m0 13h0m0 13h0m0 9h0m1-12h0m0 17h0m0 12h0m1-81h0m0 71h0m1-47h0m0 6h0m0 14h0m0 15h0m0 3h0m0 8h0m0 11h0m1-19h0m0 0h0m0 19h0m1-81h0m0 20h0m0 5h0m0 14h0m0 11h0m0 8h0m1-132h0m0 58h0m0 71h0m0 3h0m0 7h0m0 14h0m2-111h0m0 65h0m0 18h0m0 3h0m0 19h0m0 6h0m1-160h0m0 82h0m0 7h0m0 58h0m0 3h0m0 3h0m0 8h0m1-108h0m0 96h0m0 7h0m1-53h0m0 29h0m0 15h0m0 5h0m0 1h0m1-65h0m0 41h0m0 11h0m0 13h0m0 9h0m0 0h0m1-65h0m0 14h0m0 1h0m0 3h0m0 2h0m0 5h0m0 12h0m0 28h0m0 1h0m0 0h0m1-70h0m0 17h0m0 42h0m0 3h0m0 5h0m1-37h0m0 6h0m0 17h0m0 14h0m0 3h0m1-38h0m0 5h0m0 10h0m0 10h0m0 8h0m1-57h0m0 12h0m0 19h0m0 6h0m0 3h0m0 5h0m0 16h0m1-59h0m0 40h0m0 14h0m0 3h0m1-52h0m0 36h0m0 7h0m1-7h0m0 13h0m1-74h0m0 74h0m0 5h0m1-49h0m0 29h0m0 10h0m0 1h0m1-121h0m0 91h0m0 15h0m0 21h0m1-49h0m0 40h0m0 8h0m0 4h0m0 0h0m0 1h0m1-107h0m0 68h0m0 5h0m0 20h0m0 5h0m0 0h0m0 5h0m0 0h0m1-22h0m0 6h0m0 1h0m0 2h0m0 2h0m0 4h0m0 2h0m1-73h0m0 57h0m0 10h0m0 7h0m0 6h0" stroke="#E41A1C"/><rect x="996.2" y="2221" width="10.9" height="230.1" rx="2.9" fill="#377EB8"/><path d="M999 2222h0m1-188h0m0 135h0m0 4h0m0 25h0m0 3h0m0 8h0m0 17h0m0 5h0m0 0h0m1-128h0m0 49h0m0 59h0m0 9h0m0 1h0m0 6h0m0 2h0m0 1h0m1-49h0m0 7h0m0 28h0m1-21h0m0 3h0m0 5h0m0 7h0m0 16h0m1-21h0" stroke="#377EB8"/><rect x="1001.5" y="2206.7" width="30.1" height="244.4" rx="2.9" fill="#4DAF4A"/><path d="M1004 2211h0m1-36h0m0 3h0m0 2h0m0 1h0m0 12h0m0 5h0m0 0h0m0 7h0m0 9h0m0 1h0m1-36h0m0 23h0m0 4h0m0 2h0m1-70h0m0 40h0m0 38h0m0 0h0m1-161h0m0 112h0m0 4h0m0 3h0m0 5h0m0 7h0m0 8h0m0 10h0m0 0h0m0 0h0m0 8h0m0 1h0m1-93h0m0 73h0m0 6h0m1-27h0m0 20h0m0 16h0m0 9h0m1-19h0m0 3h0m0 7h0m0 2h0m0 1h0m0 5h0m0 1h0m1-20h0m0 7h0m0 12h0m1-88h0m0 10h0m0 31h0m0 19h0m0 7h0m0 3h0m0 3h0m0 8h0m0 4h0m0 2h0m0 1h0m0 0h0m1-36h0m0 16h0m0 1h0m0 20h0m1-102h0m0 37h0m0 10h0m0 16h0m0 8h0m0 14h0m0 1h0m0 5h0m0 8h0m0 4h0m1-42h0m0 19h0m0 4h0m0 4h0m0 8h0m1-33h0m0 28h0m0 6h0m1-30h0m0 34h0m0 2h0m1-51h0m0 20h0m0 29h0m1-60h0m0 19h0m0 5h0m0 1h0m0 12h0m0 4h0m0 11h0m0 4h0m1-55h0m0 31h0m0 12h0m1-14h0m0 7h0m0 14h0m1-40h0m0 6h0m0 7h0m0 6h0m0 14h0m0 18h0m1-15h0m0 5h0m0 1h0m0 2h0m0 5h0m0 2h0m1-63h0m0 59h0m0 1h0m0 3h0m1-170h0m0 48h0m0 110h0m0 8h0m0 2h0m1-97h0m0 66h0m0 3h0m0 10h0m0 4h0m1-72h0m0 46h0m0 11h0m0 30h0" stroke="#4DAF4A"/><rect x="1025.9" y="2220.6" width="8.9" height="230.6" rx="2.9" fill="#984EA3"/><path d="M1029 2184h0m0 33h0m1-172h0m0 138h0m0 7h0m0 26h0m1-72h0m0 29h0m0 24h0m0 5h0m0 13h0m0 12h0m0 0h0m1-3h0" stroke="#984EA3"/><rect x="1029.1" y="2217.5" width="12.2" height="233.7" rx="2.9" fill="#FF7F00"/><path d="M1032 2204h0m0 10h0m1-21h0m0 7h0m0 25h0m1-73h0m0 53h0m0 3h0m0 1h0m1-63h0m0 8h0m0 21h0m0 9h0m0 24h0m0 5h0m0 1h0m0 5h0m0 1h0m1-67h0m0 55h0m0 17h0m1-33h0m0 19h0m0 2h0m0 8h0m0 5h0m1-52h0m0 44h0m0 8h0" stroke="#FF7F00"/><rect x="1035.6" y="2206.7" width="10.4" height="244.4" rx="2.9" fill="#FFFF33"/><path d="M1039 2149h0m0 6h0m0 20h0m0 16h0m0 11h0m1-21h0m0 30h0m1-34h0m0 7h0m0 3h0m0 13h0m0 0h0m0 3h0m0 1h0m1-30h0m0 16h0m0 11h0m0 11h0m0 1h0m1-76h0m0 39h0m0 16h0m0 16h0m0 1h0" stroke="#FFFF33"/><rect x="1040.3" y="2216.1" width="7.6" height="235" rx="2.9" fill="#A65628"/><path d="M1043 2207h0m1-12h0m0 3h0m0 9h0m0 8h0m0 1h0m0 3h0m1-35h0m0 16h0m0 19h0" stroke="#A65628"/><rect x="1042.2" y="2212.1" width="12.6" height="239.1" rx="2.9" fill="#F781BF"/><path d="M1045 2213h0m1-39h0m0 21h0m0 14h0m0 3h0m0 1h0m0 7h0m1-37h0m0 1h0m0 3h0m0 26h0m0 1h0m0 0h0m0 4h0m1-62h0m0 26h0m0 8h0m0 9h0m0 15h0m0 0h0m0 4h0m0 1h0m0 0h0m1-31h0m0 20h0m0 4h0m0 3h0m0 6h0m1-51h0m0 18h0m0 2h0m0 5h0m0 22h0m0 1h0m0 2h0m1-117h0m0 65h0m0 7h0m0 11h0m0 8h0m0 8h0m0 8h0m0 10h0m1-49h0m0 50h0" stroke="#F781BF"/><rect x="1049.1" y="2222.8" width="14.4" height="228.3" rx="2.9" fill="#999999"/><path d="M1052 2232h0m1-78h0m0 22h0m0 7h0m0 6h0m0 7h0m0 14h0m0 12h0m0 6h0m1-63h0m0 13h0m0 47h0m0 3h0m1-69h0m0 23h0m0 7h0m0 30h0m0 2h0m0 3h0m0 1h0m1-26h0m0 23h0m0 5h0m0 0h0m0 2h0m0 3h0m0 1h0m1-37h0m0 1h0m0 1h0m0 15h0m0 13h0m1-54h0m0 8h0m0 4h0m0 2h0m0 12h0m0 11h0m0 22h0m0 3h0m1-139h0m0 17h0m0 100h0m0 10h0m0 0h0m0 8h0m0 3h0m1-13h0m0 12h0m1 2h0" stroke="#999999"/><rect x="1057.8" y="2230.9" width="16.4" height="220.3" rx="2.9" fill="#E41A1C"/><path d="M1061 2210h0m0 10h0m0 2h0m0 12h0m1-66h0m0 53h0m0 7h0m0 7h0m0 4h0m1-79h0m0 24h0m0 9h0m0 5h0m0 16h0m0 7h0m0 8h0m2-46h0m0 9h0m0 26h0m0 4h0m0 5h0m0 4h0m0 0h0m0 1h0m0 4h0m0 6h0m1-38h0m0 3h0m0 3h0m0 8h0m0 5h0m0 7h0m1-4h0m0 14h0m0 0h0m0 0h0m1-7h0m1-151h0m0 108h0m0 23h0m0 19h0m0 6h0m0 2h0m0 2h0m1-98h0m0 71h0m0 23h0m0 3h0m1-40h0m0 15h0m0 5h0m0 6h0" stroke="#E41A1C"/><rect x="1068.4" y="2217.5" width="10.8" height="233.7" rx="2.9" fill="#377EB8"/><path d="M1071 2156h0m0 33h0m0 31h0m1-53h0m0 24h0m0 24h0m0 7h0m1-46h0m0 13h0m0 20h0m0 0h0m0 17h0m0 1h0m1-127h0m0 36h0m0 10h0m0 30h0m0 0h0m0 29h0m0 4h0m0 3h0m0 2h0m0 1h0m0 7h0m1-25h0m0 19h0m0 2h0m0 3h0m0 0h0m1-57h0m0 3h0m0 1h0m0 38h0m0 9h0" stroke="#377EB8"/><rect x="1073.5" y="2220.1" width="13.7" height="231" rx="2.9" fill="#4DAF4A"/><path d="M1076 2214h0m1-80h0m0 53h0m0 14h0m0 8h0m0 5h0m0 1h0m0 3h0m0 0h0m1-60h0m0 34h0m0 4h0m0 12h0m0 3h0m0 5h0m0 7h0m0 1h0m0 1h0m0 1h0m0 2h0m1-60h0m0 19h0m0 8h0m0 10h0m0 10h0m0 3h0m0 0h0m1-32h0m0 8h0m0 3h0m0 2h0m0 11h0m0 6h0m0 7h0m1-19h0m0 1h0m0 5h0m1-28h0m0 28h0m0 4h0m1-29h0m0 15h0m0 25h0m1-51h0m0 7h0m0 46h0" stroke="#4DAF4A"/><rect x="1081.5" y="2206.7" width="19.2" height="244.4" rx="2.9" fill="#984EA3"/><path d="M1084 2207h0m1-74h0m0 48h0m0 4h0m0 15h0m0 6h0m1-124h0m0 123h0m0 4h0m1-36h0m0 6h0m0 22h0m1-41h0m0 9h0m0 28h0m0 9h0m0 5h0m1-61h0m0 38h0m0 2h0m0 5h0m0 13h0m1-23h0m0 3h0m0 1h0m0 9h0m0 12h0m0 2h0m0 3h0m1-27h0m0 7h0m1-80h0m0 29h0m0 2h0m0 2h0m0 60h0m0 9h0m1-43h0m0 37h0m0 0h0m0 1h0m0 5h0m1-79h0m0 14h0m0 6h0m0 11h0m0 43h0m0 2h0m0 1h0m0 1h0m1-43h0m0 7h0m0 10h0m0 22h0m0 0h0m0 2h0m0 3h0m1-53h0m0 27h0m0 12h0m0 2h0m1-78h0m0 58h0m0 31h0m1-23h0m0 6h0" stroke="#984EA3"/><rect x="1095" y="2212.1" width="7.2" height="239" rx="2.9" fill="#FF7F00"/><path d="M1098 2149h0m0 47h0m0 7h0m0 2h0m1-15h0m0 8h0m0 22h0" stroke="#FF7F00"/><rect x="1096.5" y="2217.5" width="13.6" height="233.7" rx="2.9" fill="#FFFF33"/><path d="M1100 2159h0m0 39h0m0 10h0m1-1h0m0 18h0m1-146h0m0 106h0m0 8h0m0 18h0m0 6h0m0 4h0m0 1h0m0 5h0m0 1h0m1-70h0m0 33h0m0 24h0m0 2h0m0 3h0m0 4h0m1-16h0m0 2h0m0 1h0m0 2h0m1-83h0m0 60h0m0 15h0m0 14h0m0 2h0m0 7h0m1-46h0m0 6h0m0 11h0m1-118h0m0 124h0m0 15h0m0 5h0" stroke="#FFFF33"/><rect x="1104.4" y="2228.2" width="10.3" height="222.9" rx="2.9" fill="#A65628"/><path d="M1107 2187h0m0 18h0m1-8h0m0 11h0m0 10h0m0 3h0m0 11h0m1-24h0m0 1h0m0 2h0m0 21h0m1-12h0m0 15h0m1-75h0m0 53h0m0 0h0m0 16h0m0 7h0" stroke="#A65628"/><rect x="1109" y="2222.8" width="9.4" height="228.3" rx="2.9" fill="#F781BF"/><path d="M1112 2177h0m0 51h0m0 2h0m1-123h0m0 85h0m0 3h0m0 14h0m0 2h0m0 1h0m0 4h0m0 4h0m0 11h0m1-31h0m0 2h0m0 6h0m0 8h0m0 11h0m0 0h0m0 4h0m0 1h0m1-55h0m0 24h0m0 1h0m0 18h0m0 4h0" stroke="#F781BF"/><rect x="1112.8" y="2233.6" width="9.9" height="217.6" rx="2.9" fill="#999999"/><path d="M1116 2169h0m0 40h0m0 13h0m1-26h0m0 7h0m0 8h0m0 26h0m1-55h0m0 60h0m0 3h0m1-92h0m0 8h0m0 50h0m0 0h0m0 13h0m0 9h0m0 3h0m1 1h0" stroke="#999999"/><rect x="1116.9" y="2233.6" width="14.4" height="217.6" rx="2.9" fill="#E41A1C"/><path d="M1120 2220h0m0 16h0m1-71h0m0 42h0m0 10h0m1-23h0m0 31h0m0 6h0m1-95h0m0 63h0m0 27h0m0 2h0m0 1h0m0 1h0m0 5h0m0 1h0m1-96h0m0 45h0m0 21h0m0 13h0m0 0h0m0 6h0m0 19h0m1-57h0m0 24h0m0 7h0m0 7h0m0 1h0m0 17h0m1-6h0m1-112h0m0 103h0m0 16h0m0 1h0m1-63h0m0 13h0m0 6h0m0 5h0m0 1h0m0 12h0m0 3h0m0 2h0m0 4h0m0 7h0m0 1h0m0 3h0m0 1h0" stroke="#E41A1C"/><rect x="1125.6" y="2233.6" width="9.5" height="217.6" rx="2.9" fill="#377EB8"/><path d="M1129 2192h0m0 45h0m1-31h0m0 14h0m0 1h0m0 3h0m0 11h0m0 4h0m0 6h0m1-74h0m0 48h0m0 2h0m1-52h0m0 58h0" stroke="#377EB8"/><rect x="1129.4" y="2220.1" width="13.8" height="231" rx="2.9" fill="#4DAF4A"/><path d="M1133 2211h0m0 13h0m0 0h0m1-19h0m0 22h0m1-72h0m0 23h0m0 48h0m1-58h0m0 50h0m1-55h0m0 38h0m0 1h0m0 25h0m0 1h0m1-42h0m0 14h0m0 7h0m1-71h0m0 57h0m0 1h0m0 5h0m0 12h0m0 1h0m0 7h0m0 5h0m1-73h0m0 49h0m0 4h0m0 13h0m0 12h0" stroke="#4DAF4A"/><rect x="1137.5" y="2214.8" width="11.7" height="236.4" rx="2.9" fill="#984EA3"/><path d="M1140 2197h0m0 25h0m1-5h0m0 5h0m1-28h0m0 17h0m0 13h0m1-98h0m0 24h0m0 39h0m0 3h0m0 0h0m0 28h0m1-27h0m0 8h0m0 3h0m0 9h0m0 1h0m0 2h0m0 3h0m1-38h0m1-51h0m0 47h0m0 15h0m0 21h0" stroke="#984EA3"/><rect x="1143.5" y="2224.9" width="9.1" height="226.3" rx="2.9" fill="#FF7F00"/><path d="M1146 2234h0m1-273h0m0 196h0m0 46h0m0 2h0m0 1h0m0 7h0m0 14h0m0 7h0m1-32h0m1-64h0m0 72h0m0 11h0m0 9h0m1-44h0m0 47h0" stroke="#FF7F00"/><rect x="1146.9" y="2206.7" width="18.8" height="244.4" rx="2.9" fill="#FFFF33"/><path d="M1150 2002h0m0 116h0m0 60h0m0 5h0m1-21h0m0 9h0m0 33h0m0 14h0m1-89h0m0 51h0m0 4h0m0 32h0m1-59h0m0 13h0m0 0h0m0 21h0m0 17h0m0 2h0m0 2h0m0 4h0m0 1h0m1-98h0m0 65h0m0 12h0m0 0h0m0 11h0m0 3h0m0 4h0m0 1h0m0 1h0m0 2h0m1-10h0m0 8h0m1-70h0m0 15h0m0 14h0m0 2h0m0 1h0m0 21h0m0 1h0m0 3h0m0 3h0m0 0h0m0 6h0m1-97h0m0 23h0m0 32h0m0 28h0m0 1h0m0 5h0m0 8h0m0 3h0m0 1h0m1-77h0m0 13h0m0 8h0m0 44h0m0 0h0m0 13h0m1-24h0m0 21h0m1-41h0m0 8h0m0 0h0m0 3h0m0 10h0m0 6h0m0 3h0m0 4h0m0 1h0m0 6h0m1-67h0m0 21h0m0 15h0m0 10h0m0 17h0m0 7h0m1-60h0m0 30h0m0 8h0m0 1h0m0 3h0m0 19h0m1-40h0" stroke="#FFFF33"/><rect x="1160" y="2206.7" width="46.7" height="244.4" rx="2.9" fill="#A65628"/><path d="M1163 2113h0m0 92h0m0 5h0m1-83h0m0 62h0m0 24h0m0 1h0m1-106h0m0 86h0m0 0h0m0 9h0m0 6h0m0 3h0m0 1h0m1-110h0m0 73h0m0 10h0m0 7h0m0 2h0m0 15h0m0 0h0m0 0h0m1-122h0m0 85h0m0 5h0m0 12h0m0 4h0m0 9h0m0 15h0m1-159h0m0 121h0m0 24h0m0 4h0m0 2h0m1-59h0m0 18h0m1-79h0m0 57h0m0 40h0m0 3h0m0 1h0m0 6h0m0 4h0m0 1h0m0 10h0m1-57h0m0 15h0m0 1h0m0 3h0m0 18h0m0 0h0m0 15h0m0 4h0m0 0h0m0 6h0m0 1h0m1-122h0m0 90h0m0 1h0m0 19h0m0 3h0m0 0h0m0 1h0m0 7h0m1-85h0m0 0h0m0 67h0m0 18h0m1-51h0m0 34h0m0 16h0m1-48h0m0 5h0m0 1h0m0 9h0m0 8h0m0 12h0m0 1h0m0 11h0m1-93h0m0 28h0m0 16h0m0 1h0m0 5h0m0 22h0m0 1h0m0 9h0m0 6h0m0 6h0m1-98h0m0 62h0m0 28h0m0 0h0m1-28h0m0 3h0m0 16h0m0 16h0m0 3h0m1-15h0m0 1h0m1-44h0m0 44h0m0 12h0m1-44h0m0 11h0m0 9h0m0 17h0m0 3h0m1-75h0m0 60h0m0 8h0m1-13h0m0 10h0m0 9h0m0 4h0m1-64h0m0 1h0m0 51h0m1-38h0m0 14h0m0 33h0m1-65h0m0 9h0m0 27h0m0 24h0m0 3h0m1-2h0m1-30h0m0 4h0m0 10h0m0 5h0m0 16h0m0 3h0m1-93h0m0 86h0m1-59h0m0 27h0m0 11h0m0 10h0m0 14h0m0 0h0m0 5h0m1-57h0m0 16h0m0 18h0m0 14h0m0 9h0m1-35h0m0 3h0m0 14h0m0 10h0m0 6h0m1-15h0m0 13h0m0 4h0m1-50h0m0 1h0m0 13h0m0 29h0m0 6h0m1-76h0m0 39h0m0 3h0m0 31h0m0 1h0m1-114h0m0 43h0m0 47h0m0 6h0m0 11h0m0 3h0m0 1h0m0 3h0m1-48h0m0 28h0m0 11h0m0 1h0m1-27h0m0 15h0m0 4h0m0 8h0m0 1h0m0 5h0m0 6h0m1-66h0m0 6h0m0 30h0m0 5h0m0 17h0m0 3h0m0 3h0m0 1h0m1-102h0m0 60h0m0 3h0m0 6h0m0 3h0m0 10h0m0 7h0m0 3h0m1-34h0m0 3h0m0 18h0m0 4h0m0 16h0m0 1h0m1-80h0m0 9h0m0 1h0m0 30h0m0 34h0m1-57h0m0 20h0m0 22h0m0 12h0m0 6h0m0 3h0m1-55h0m0 53h0m0 5h0" stroke="#A65628"/><rect x="1201" y="2228.2" width="23.7" height="222.9" rx="2.9" fill="#F781BF"/><path d="M1204 2224h0m0 9h0m1-42h0m0 2h0m0 13h0m0 33h0m0 1h0m1-97h0m0 90h0m1 1h0m1-141h0m0 71h0m0 6h0m0 24h0m0 16h0m0 17h0m0 1h0m1-23h0m0 9h0m0 2h0m0 16h0m0 1h0m0 1h0m0 0h0m0 1h0m1-161h0m0 133h0m0 20h0m0 5h0m1-76h0m0 2h0m0 8h0m0 45h0m0 13h0m0 2h0m0 8h0m0 3h0m1-57h0m0 41h0m0 11h0m1-112h0m0 108h0m1-55h0m0 14h0m0 36h0m0 6h0m0 0h0m0 3h0m0 1h0m0 1h0m0 2h0m1-46h0m0 32h0m1-109h0m0 99h0m0 15h0m0 0h0m0 8h0m1-38h0m0 23h0m0 1h0m0 6h0m0 11h0m1-25h0m0 3h0m1-52h0m0 8h0m0 42h0m0 1h0m0 3h0m0 7h0m0 7h0m1-152h0m0 104h0m0 1h0m0 16h0m0 3h0m0 13h0m0 1h0m0 10h0m0 9h0m1-71h0m0 28h0m0 25h0m0 17h0m0 1h0m1 2h0" stroke="#F781BF"/><rect x="1219" y="2220.1" width="26.9" height="231" rx="2.9" fill="#999999"/><path d="M1222 2225h0m0 4h0m1 2h0m0 1h0m1-101h0m0 47h0m0 21h0m0 20h0m0 1h0m0 1h0m0 11h0m1-39h0m0 4h0m0 27h0m0 5h0m1-161h0m0 113h0m0 20h0m0 9h0m0 4h0m0 2h0m0 1h0m0 14h0m1-68h0m0 36h0m0 11h0m0 14h0m0 1h0m1-39h0m0 30h0m0 15h0m1-70h0m0 54h0m0 2h0m0 11h0m0 3h0m1-119h0m0 47h0m0 20h0m0 5h0m0 8h0m0 11h0m0 7h0m0 2h0m0 3h0m0 6h0m0 9h0m1-92h0m0 44h0m0 25h0m0 21h0m1-6h0m0 6h0m0 1h0m1-57h0m0 30h0m0 2h0m0 12h0m0 3h0m0 6h0m0 2h0m0 3h0m1-25h0m0 20h0m0 3h0m1-21h0m0 1h0m0 4h0m0 6h0m0 4h0m0 6h0m1-51h0m0 9h0m0 24h0m0 21h0m1-64h0m0 14h0m0 8h0m0 4h0m0 8h0m0 15h0m0 11h0m1-41h0m0 7h0m0 3h0m0 19h0m0 2h0m0 0h0m0 8h0m0 6h0m1-82h0m0 22h0m0 9h0m0 23h0m0 7h0m0 5h0m0 6h0m1-42h0m0 45h0m0 3h0m0 0h0m1-25h0m0 26h0m1-114h0m0 58h0m0 12h0m0 2h0m0 18h0m0 2h0m0 4h0m0 6h0m1-9h0m0 7h0m0 2h0m0 5h0m0 5h0" stroke="#999999"/><rect x="1240.2" y="2225.8" width="8.5" height="225.3" rx="2.9" fill="#E41A1C"/><path d="M1243 2210h0m1-87h0m0 28h0m0 19h0m0 27h0m0 10h0m0 12h0m0 5h0m0 7h0m1-85h0m0 20h0m0 42h0m0 6h0m0 11h0m0 2h0m1-9h0m0 0h0m0 14h0" stroke="#E41A1C"/><rect x="1243.1" y="2220.1" width="12.4" height="231" rx="2.9" fill="#377EB8"/><path d="M1246 2176h0m0 35h0m1-38h0m0 8h0m0 27h0m0 2h0m0 20h0m1-88h0m0 73h0m0 0h0m0 9h0m0 2h0m1-37h0m0 13h0m0 17h0m0 4h0m0 1h0m0 6h0m1-31h0m0 8h0m0 5h0m0 5h0m0 2h0m0 1h0m1-102h0m0 82h0m0 2h0m0 14h0m0 7h0m0 8h0m1-21h0m0 6h0m0 11h0m0 4h0m1-54h0" stroke="#377EB8"/><rect x="1249.8" y="2220.1" width="11.5" height="231" rx="2.9" fill="#4DAF4A"/><path d="M1253 2217h0m0 11h0m0 1h0m1-72h0m0 29h0m0 26h0m0 18h0m1-25h0m0 8h0m0 1h0m0 6h0m0 1h0m0 5h0m0 3h0m0 2h0m0 0h0m1-66h0m0 26h0m0 5h0m0 13h0m0 2h0m0 14h0m1-31h0m0 0h0m0 24h0m0 3h0m0 11h0m1-90h0m0 46h0m0 38h0" stroke="#4DAF4A"/><rect x="1255.6" y="2233.6" width="13.9" height="217.6" rx="2.9" fill="#984EA3"/><path d="M1258 2200h0m0 38h0m1-3h0m0 1h0m0 3h0m1-52h0m0 34h0m0 8h0m0 1h0m0 14h0m0 1h0m1-100h0m0 51h0m0 14h0m0 13h0m0 4h0m1-37h0m0 15h0m0 5h0m0 9h0m0 1h0m0 18h0m0 4h0m1-35h0m0 17h0m0 11h0m0 3h0m0 3h0m1-63h0m0 32h0m0 8h0m0 10h0m0 10h0m0 2h0m0 3h0m0 2h0m1-94h0m0 57h0m0 12h0m0 11h0m0 1h0m0 5h0m0 3h0m0 5h0m0 0h0m1-38h0" stroke="#984EA3"/><rect x="1263.8" y="2222.2" width="8.7" height="228.9" rx="2.9" fill="#FF7F00"/><path d="M1267 2192h0m0 11h0m0 11h0m0 1h0m0 9h0m0 9h0m1-126h0m0 67h0m0 22h0m0 9h0m0 13h0m0 2h0m0 4h0m0 1h0m0 3h0m0 2h0m1-58h0m0 26h0m0 1h0m0 16h0m0 3h0m0 4h0m0 4h0m0 3h0m0 4h0m1-1h0" stroke="#FF7F00"/><rect x="1266.8" y="2201.3" width="30.4" height="249.8" rx="2.9" fill="#FFFF33"/><path d="M1270 2174h0m0 24h0m0 6h0m0 6h0m1-67h0m0 2h0m0 64h0m0 0h0m1-26h0m0 14h0m0 4h0m0 8h0m1-105h0m0 47h0m0 18h0m0 5h0m0 27h0m0 7h0m1-23h0m0 11h0m0 7h0m0 1h0m1-64h0m0 20h0m0 18h0m0 10h0m0 10h0m0 11h0m0 0h0m1-62h0m0 20h0m0 15h0m0 8h0m0 14h0m0 1h0m0 2h0m1-54h0m0 12h0m0 26h0m0 6h0m0 4h0m1-34h0m0 3h0m0 5h0m0 18h0m0 6h0m0 0h0m0 4h0m0 2h0m0 2h0m0 0h0m1-98h0m0 49h0m0 1h0m0 26h0m0 1h0m0 10h0m0 1h0m0 12h0m1-37h0m0 6h0m0 2h0m0 12h0m0 3h0m0 5h0m0 6h0m1-66h0m0 12h0m0 10h0m0 6h0m0 9h0m0 6h0m1-21h0m0 5h0m0 12h0m0 10h0m0 7h0m1-66h0m0 20h0m0 6h0m0 10h0m0 20h0m0 16h0m0 0h0m0 3h0m0 1h0m1-94h0m0 48h0m0 22h0m0 0h0m0 3h0m0 13h0m0 7h0m0 8h0m1-130h0m0 115h0m0 3h0m1-72h0m0 25h0m0 21h0m0 17h0m0 17h0m0 2h0m1-27h0m0 4h0m0 12h0m0 1h0m1-18h0m0 8h0m0 5h0m0 6h0m1-19h0m0 11h0m0 8h0m0 0h0m0 0h0m0 8h0m1-36h0m0 19h0m0 14h0m0 3h0m1-23h0m0 1h0m0 7h0m0 7h0m0 3h0m0 0h0m1-58h0m0 11h0m0 35h0m0 2h0m0 5h0m0 7h0m0 5h0m1-35h0m0 17h0m0 19h0m1-20h0m0 3h0m0 2h0m0 9h0" stroke="#FFFF33"/><rect x="1291.5" y="2220.1" width="15.5" height="231" rx="2.9" fill="#A65628"/><path d="M1295 2181h0m0 1h0m0 22h0m0 3h0m0 3h0m0 10h0m0 6h0m0 6h0m1-105h0m0 38h0m0 21h0m0 38h0m0 2h0m0 3h0m1-104h0m0 95h0m0 6h0m0 1h0m1-42h0m0 3h0m0 16h0m0 14h0m0 4h0m0 1h0m1-122h0m0 40h0m0 5h0m0 26h0m0 21h0m0 34h0m1-9h0m0 4h0m0 0h0m0 4h0m0 2h0m1-78h0m0 16h0m0 19h0m0 35h0m0 7h0m0 2h0m1-31h0m0 8h0m0 6h0m0 5h0m1-98h0m0 57h0m0 6h0m0 8h0m0 26h0m0 15h0m1-89h0m0 43h0m0 0h0m0 27h0m0 10h0" stroke="#A65628"/><rect x="1301.3" y="2224.6" width="7.7" height="226.5" rx="2.9" fill="#F781BF"/><path d="M1304 2111h0m0 51h0m0 46h0m0 25h0m1-34h0m0 6h0m0 2h0m0 10h0m0 9h0m0 6h0m1-223h0m0 203h0m0 3h0m0 11h0m0 1h0m0 1h0" stroke="#F781BF"/><rect x="1303.3" y="2225.9" width="11" height="225.3" rx="2.9" fill="#999999"/><path d="M1306 2130h0m0 64h0m0 27h0m0 1h0m0 6h0m0 7h0m0 2h0m1-62h0m0 33h0m0 2h0m0 13h0m0 4h0m0 10h0m1-72h0m0 39h0m0 11h0m1-3h0m0 7h0m0 0h0m0 12h0m1-20h0m0 7h0m0 14h0m0 4h0m1-122h0m0 51h0m0 37h0m0 5h0m0 4h0m0 2h0m0 14h0m0 7h0m0 3h0" stroke="#999999"/><rect x="1308.6" y="2209.4" width="29.9" height="241.8" rx="2.9" fill="#E41A1C"/><path d="M1311 2220h0m1-202h0m0 73h0m0 67h0m0 1h0m0 20h0m0 9h0m0 5h0m0 0h0m0 0h0m0 14h0m0 14h0m1-45h0m0 13h0m0 9h0m0 22h0m1-22h0m0 9h0m0 3h0m0 7h0m1-31h0m0 15h0m0 6h0m0 0h0m0 8h0m0 1h0m0 3h0m0 1h0m0 0h0m0 1h0m1-163h0m0 80h0m0 38h0m0 26h0m0 0h0m0 8h0m0 7h0m1-23h0m0 0h0m0 8h0m0 8h0m0 9h0m1-36h0m0 22h0m0 12h0m0 2h0m0 1h0m1-144h0m0 91h0m0 35h0m0 10h0m0 8h0m1-27h0m0 5h0m0 14h0m1-15h0m0 14h0m1-42h0m0 6h0m0 18h0m1-25h0m0 5h0m0 11h0m0 2h0m0 27h0m0 0h0m0 6h0m1-148h0m0 90h0m0 42h0m0 4h0m0 0h0m0 7h0m0 1h0m0 3h0m1-89h0m0 30h0m0 7h0m0 23h0m0 29h0m1-42h0m0 2h0m0 3h0m0 0h0m0 1h0m0 8h0m0 3h0m1-85h0m0 46h0m0 11h0m0 9h0m0 42h0m0 4h0m1-21h0m0 15h0m0 0h0m0 3h0m1-59h0m0 37h0m0 19h0m0 6h0m1-78h0m0 47h0m0 14h0m0 4h0m0 7h0m0 1h0m0 1h0m0 5h0m1-83h0m0 9h0m0 52h0m0 3h0m0 3h0m0 10h0m1-110h0m0 76h0m0 32h0m1-85h0m0 57h0m0 18h0m0 13h0m0 3h0m1-36h0m0 17h0m0 1h0m0 8h0m1-96h0m0 70h0m0 16h0m0 7h0m0 4h0m0 10h0m0 1h0m1-24h0m0 13h0m0 10h0" stroke="#E41A1C"/><rect x="1332.8" y="2222.8" width="19.3" height="228.3" rx="2.9" fill="#377EB8"/><path d="M1336 2218h0m0 12h0m1-71h0m0 41h0m0 9h0m0 4h0m0 1h0m0 6h0m0 14h0m1-88h0m0 8h0m0 51h0m0 10h0m0 1h0m0 10h0m0 5h0m1-35h0m0 4h0m0 12h0m0 14h0m0 1h0m0 6h0m1-52h0m0 13h0m0 17h0m0 22h0m0 1h0m1-196h0m0 182h0m1-77h0m0 35h0m0 4h0m0 20h0m1-18h0m0 18h0m0 11h0m0 20h0m1-59h0m0 12h0m0 48h0m0 0h0m1-78h0m0 33h0m0 0h0m0 22h0m0 6h0m0 3h0m0 13h0m1-164h0m0 94h0m0 25h0m0 14h0m0 10h0m0 18h0m1-27h0m0 19h0m0 1h0m1-55h0m0 34h0m0 26h0m0 5h0m1-58h0m0 1h0m0 25h0m0 27h0m0 3h0" stroke="#377EB8"/><rect x="1346.4" y="2206.7" width="12.8" height="244.4" rx="2.9" fill="#4DAF4A"/><path d="M1349 2183h0m0 3h0m0 6h0m0 3h0m1-166h0m0 67h0m0 82h0m0 2h0m0 13h0m0 22h0m0 2h0m1-80h0m0 9h0m0 23h0m0 9h0m0 15h0m0 2h0m0 9h0m0 4h0m0 3h0m1-93h0m0 90h0m0 8h0m1-85h0m0 21h0m0 27h0m0 31h0m0 3h0m1-28h0m0 8h0m0 24h0m0 1h0m1-139h0m0 78h0m0 9h0m0 13h0m0 19h0m0 2h0m0 2h0m0 9h0m0 0h0m1-74h0m0 8h0m0 36h0m0 10h0m0 9h0m0 8h0" stroke="#4DAF4A"/><rect x="1353.5" y="2212.1" width="25.1" height="239.1" rx="2.9" fill="#984EA3"/><path d="M1356 2222h0m1-88h0m0 16h0m0 53h0m0 3h0m0 10h0m0 4h0m1-49h0m0 30h0m0 8h0m1-137h0m0 55h0m0 22h0m0 74h0m1-33h0m0 2h0m0 26h0m1-15h0m0 14h0m0 1h0m1-122h0m0 36h0m0 46h0m0 12h0m0 15h0m0 4h0m0 5h0m0 3h0m0 0h0m0 4h0m1-81h0m0 45h0m0 21h0m0 0h0m0 11h0m1-91h0m0 89h0m0 3h0m0 3h0m1-55h0m0 9h0m0 11h0m0 5h0m0 3h0m0 14h0m0 2h0m0 11h0m1-59h0m0 28h0m0 14h0m0 6h0m0 8h0m0 1h0m0 0h0m0 3h0m1-56h0m0 18h0m0 1h0m0 2h0m0 9h0m0 6h0m0 2h0m0 0h0m0 11h0m0 7h0m0 1h0m1-39h0m1 10h0m0 4h0m0 2h0m0 3h0m0 2h0m0 5h0m1-27h0m0 14h0m0 2h0m0 14h0m1-88h0m0 40h0m0 11h0m0 23h0m0 5h0m0 9h0m1-37h0m0 1h0m0 35h0m0 3h0m0 3h0m1-63h0m1 8h0m0 14h0m0 7h0m0 24h0m1-44h0m0 22h0m0 23h0m0 1h0m0 2h0m0 8h0m0 0h0m1-30h0" stroke="#984EA3"/><rect x="1372.9" y="2214.6" width="7.3" height="236.5" rx="2.9" fill="#FF7F00"/><path d="M1376 2192h0m0 4h0m0 5h0m0 1h0m0 8h0m0 2h0m1-24h0m0 6h0m0 23h0m0 3h0" stroke="#FF7F00"/><rect x="1374.5" y="2220.1" width="23.8" height="231" rx="2.9" fill="#FFFF33"/><path d="M1377 2217h0m1-20h0m0 31h0m1-39h0m0 3h0m0 35h0m1-31h0m0 6h0m1-109h0m0 86h0m0 7h0m0 40h0m1-1h0m1-14h0m0 1h0m0 11h0m0 7h0m0 1h0m1-40h0m0 29h0m0 6h0m0 3h0m0 1h0m0 2h0m1-104h0m1 36h0m0 22h0m0 26h0m0 3h0m0 0h0m0 2h0m1-46h0m0 27h0m0 20h0m0 14h0m1-173h0m0 77h0m0 27h0m0 10h0m0 16h0m0 5h0m0 8h0m0 25h0m0 3h0m1-45h0m0 5h0m0 29h0m0 2h0m0 5h0m0 4h0m0 2h0m1-47h0m0 17h0m0 22h0m0 3h0m1-39h0m0 24h0m1-75h0m0 69h0m0 7h0m1-67h0m0 36h0m0 32h0m1-19h0m0 13h0m0 20h0m0 0h0m1-66h0m0 6h0m0 12h0m0 14h0m0 1h0m0 4h0m0 13h0m0 2h0m0 17h0" stroke="#FFFF33"/><rect x="1392.6" y="2221.4" width="10.3" height="229.7" rx="2.9" fill="#A65628"/><path d="M1396 2178h0m0 15h0m0 1h0m0 28h0m0 1h0m1-27h0m0 9h0m0 6h0m0 12h0m0 6h0m0 3h0m1-104h0m0 24h0m0 35h0m0 20h0m1-12h0m0 14h0m0 3h0m0 6h0m1-20h0m0 19h0m0 8h0m0 5h0m0 2h0" stroke="#A65628"/><rect x="1397.2" y="2220.4" width="7.9" height="230.8" rx="2.9" fill="#F781BF"/><path d="M1400 2219h0m1-234h0m0 228h0m0 9h0m0 10h0m1-16h0m0 16h0" stroke="#F781BF"/><rect x="1399.4" y="2218" width="9.4" height="233.2" rx="2.9" fill="#999999"/><path d="M1402 2217h0m1-23h0m0 27h0m0 6h0m0 1h0m1-30h0m0 3h0m0 20h0m0 1h0m0 1h0m0 6h0m1-55h0m0 11h0m0 22h0m0 20h0m1-47h0m0 3h0m0 40h0" stroke="#999999"/><rect x="1403.1" y="2221.7" width="7" height="229.5" rx="2.9" fill="#E41A1C"/><path d="M1406 2153h0m0 78h0m1-48h0m0 33h0m0 5h0m0 3h0m0 7h0" stroke="#E41A1C"/><rect x="1404.4" y="2221.3" width="8.6" height="229.8" rx="2.9" fill="#377EB8"/><path d="M1407 2200h0m0 19h0m0 10h0m1-165h0m0 94h0m0 2h0m0 43h0m0 4h0m0 14h0m1-48h0m0 13h0m0 13h0m0 12h0m0 16h0m1-14h0m0 16h0" stroke="#377EB8"/><rect x="1407.3" y="2216.5" width="9.1" height="234.7" rx="2.9" fill="#4DAF4A"/><path d="M1410 2049h0m0 8h0m0 164h0m1-55h0m0 7h0m0 16h0m0 1h0m0 29h0m0 0h0m0 8h0m1-46h0m0 13h0m0 6h0m0 5h0m0 8h0m0 8h0m0 3h0m0 1h0m0 3h0m1-49h0m0 4h0m0 34h0m0 3h0" stroke="#4DAF4A"/><rect x="1410.7" y="2215.9" width="7.9" height="235.3" rx="2.9" fill="#984EA3"/><path d="M1414 2132h0m0 73h0m0 1h0m1-201h0m0 130h0m0 15h0m0 17h0m0 39h0m0 1h0m0 13h0m0 6h0m0 0h0m1-7h0" stroke="#984EA3"/><rect x="1412.9" y="2233.6" width="9.9" height="217.6" rx="2.9" fill="#FF7F00"/><path d="M1416 2231h0m0 10h0m1-64h0m0 7h0m0 34h0m0 0h0m0 6h0m0 4h0m1-39h0m0 24h0m0 12h0m1-35h0m0 20h0m0 3h0m0 9h0m0 6h0m0 1h0m0 3h0m0 3h0m0 8h0m0 1h0m1-41h0" stroke="#FF7F00"/></g><path d="M181.4 1938.6V2467.9H1467" fill="none" stroke="#8a8a8a" stroke-width="2.3" stroke-linejoin="round"/><path d="M181.4 2448.3V1958.2M171.9 2448.3H181.4M171.9 2350.3H181.4M171.9 2252.3H181.4M171.9 2154.2H181.4M171.9 2056.2H181.4M171.9 1958.2H181.4M243 2467.9H1418.1M243 2467.9v9.8M273.8 2467.9v9.8M301.8 2467.9v9.8M309 2467.9v9.8M332 2467.9v9.8M358.2 2467.9v9.8M377.5 2467.9v9.8M408.2 2467.9v9.8M450.8 2467.9v9.8M482 2467.9v9.8M504.3 2467.9v9.8M512 2467.9v9.8M525.6 2467.9v9.8M543.7 2467.9v9.8M553.8 2467.9v9.8M559.1 2467.9v9.8M565.2 2467.9v9.8M581 2467.9v9.8M597.9 2467.9v9.8M631.2 2467.9v9.8M646.8 2467.9v9.8M658.4 2467.9v9.8M664.4 2467.9v9.8M670.2 2467.9v9.8M679.6 2467.9v9.8M694.1 2467.9v9.8M713.2 2467.9v9.8M723.1 2467.9v9.8M734 2467.9v9.8M737.8 2467.9v9.8M758 2467.9v9.8M775.6 2467.9v9.8M786.5 2467.9v9.8M798 2467.9v9.8M821.3 2467.9v9.8M843.8 2467.9v9.8M851.3 2467.9v9.8M866.9 2467.9v9.8M891.8 2467.9v9.8M903.8 2467.9v9.8M906.6 2467.9v9.8M915.1 2467.9v9.8M933.8 2467.9v9.8M952.2 2467.9v9.8M962.5 2467.9v9.8M986 2467.9v9.8M1001.5 2467.9v9.8M1015 2467.9v9.8M1030 2467.9v9.8M1035.2 2467.9v9.8M1040.4 2467.9v9.8M1044.4 2467.9v9.8M1049.1 2467.9v9.8M1056.6 2467.9v9.8M1065.6 2467.9v9.8M1074.1 2467.9v9.8M1081.1 2467.9v9.8M1089.2 2467.9v9.8M1099.4 2467.9v9.8M1103.1 2467.9v9.8M1110 2467.9v9.8M1113.8 2467.9v9.8M1117.5 2467.9v9.8M1125 2467.9v9.8M1130 2467.9v9.8M1136.2 2467.9v9.8M1142.8 2467.9v9.8M1147.9 2467.9v9.8M1155.6 2467.9v9.8M1184 2467.9v9.8M1211.9 2467.9v9.8M1232.2 2467.9v9.8M1244.8 2467.9v9.8M1249 2467.9v9.8M1256.2 2467.9v9.8M1263.6 2467.9v9.8M1268 2467.9v9.8M1282.3 2467.9v9.8M1301.3 2467.9v9.8M1305.3 2467.9v9.8M1308.8 2467.9v9.8M1320.4 2467.9v9.8M1342.4 2467.9v9.8M1351.9 2467.9v9.8M1365.7 2467.9v9.8M1375.9 2467.9v9.8M1386.7 2467.9v9.8M1397.3 2467.9v9.8M1401.2 2467.9v9.8M1403.4 2467.9v9.8M1406.2 2467.9v9.8M1408.5 2467.9v9.8M1411.5 2467.9v9.8M1414.3 2467.9v9.8M1418.1 2467.9v9.8" fill="none" stroke="#3c3c3c" stroke-width="2.3" stroke-linecap="round"/><text transform="translate(160,2448.3) rotate(-90)" text-anchor="middle" class="tl">0</text><text transform="translate(160,2350.3) rotate(-90)" text-anchor="middle" class="tl">1</text><text transform="translate(160,2252.3) rotate(-90)" text-anchor="middle" class="tl">2</text><text transform="translate(160,2154.2) rotate(-90)" text-anchor="middle" class="tl">3</text><text transform="translate(160,2056.2) rotate(-90)" text-anchor="middle" class="tl">4</text><text transform="translate(160,1958.2) rotate(-90)" text-anchor="middle" class="tl">5</text><text x="243" y="2537.4" text-anchor="middle" class="tl">KZ288185.1</text><text x="450.8" y="2537.4" text-anchor="middle" class="tl">KZ288193.1</text><text x="646.8" y="2537.4" text-anchor="middle" class="tl">KZ288205.1</text><text x="843.8" y="2537.4" text-anchor="middle" class="tl">KZ288220.1</text><text x="1035.2" y="2537.4" text-anchor="middle" class="tl">KZ288234.1</text><text x="1232.2" y="2537.4" text-anchor="middle" class="tl">KZ288256.1</text><text transform="translate(50.2,2312.9) rotate(-90)" class="yl"><tspan class="d1" dy="1.65">&#8211;</tspan><tspan dx="1.5" dy="-1.65">log10(P)</tspan></text><path d="M1713.7 2448.3 L1716.3 2444.9 L1718.9 2441.6 L1721.6 2438.2 L1724.2 2434.9 L1726.8 2431.5 L1729.4 2428.2 L1732 2424.9 L1734.6 2421.5 L1737.3 2418.2 L1739.9 2414.8 L1742.5 2411.5 L1745.1 2408.2 L1747.7 2404.8 L1750.4 2401.5 L1753 2398.1 L1755.6 2394.8 L1758.2 2391.4 L1760.8 2388.1 L1763.4 2384.7 L1766.1 2381.4 L1768.7 2378 L1771.3 2374.6 L1773.9 2371.3 L1776.5 2367.9 L1779.2 2364.5 L1781.8 2361.1 L1784.4 2357.7 L1787 2354.3 L1789.6 2350.9 L1792.2 2347.5 L1794.9 2344.1 L1797.5 2340.6 L1800.1 2337.2 L1802.7 2333.7 L1805.3 2330.2 L1807.9 2326.7 L1810.6 2323.2 L1813.2 2319.7 L1815.8 2316.2 L1818.4 2312.7 L1821 2309.2 L1823.6 2305.7 L1826.2 2302.2 L1828.9 2298.7 L1831.5 2295.2 L1834.1 2291.7 L1836.7 2288.2 L1839.3 2284.8 L1841.9 2281.3 L1844.6 2277.9 L1847.2 2274.4 L1849.8 2271 L1852.4 2267.6 L1855 2264.2 L1857.6 2260.8 L1860.2 2257.5 L1862.9 2254.1 L1865.6 2250.7 L1868.3 2247.3 L1871 2243.9 L1873.7 2240.5 L1876.4 2237.2 L1879.1 2233.8 L1881.7 2230.5 L1884.4 2227.2 L1887.1 2223.9 L1889.8 2220.7 L1892.5 2217.4 L1895.2 2214.2 L1897.9 2211 L1900.5 2207.8 L1903.2 2204.5 L1905.9 2201.3 L1908.6 2198 L1911.3 2194.8 L1914 2191.7 L1916.7 2188.5 L1919.4 2185.5 L1922 2182.5 L1924.7 2179.5 L1927.4 2176.7 L1930.1 2173.9 L1932.8 2171.2 L1935.5 2168.7 L1938.2 2166.2 L1940.8 2163.8 L1943.5 2161.5 L1946.2 2159.2 L1948.9 2156.9 L1951.6 2154.6 L1954.3 2152.3 L1957 2149.9 L1959.7 2147.5 L1962.3 2145 L1965 2142.4 L1967.7 2139.7 L1970.4 2136.8 L1973.1 2133.8 L1975.8 2130.7 L1978.5 2127.6 L1981.1 2124.4 L1983.8 2121.3 L1986.5 2118.2 L1989.2 2115.1 L1991.9 2112.1 L1994.6 2109.3 L1997.3 2106.6 L2000 2104.1 L2002.6 2101.7 L2005.3 2099.6 L2007.9 2097.5 L2010.6 2095.5 L2013.2 2093.6 L2015.9 2091.6 L2018.6 2089.7 L2021.2 2087.7 L2023.9 2085.6 L2026.5 2083.4 L2029.1 2081.2 L2031.7 2078.9 L2034.3 2076.6 L2036.9 2074.3 L2039.4 2071.9 L2042 2069.5 L2044.6 2066.9 L2047.2 2064.3 L2049.8 2061.6 L2052.3 2058.8 L2055.3 2055.5 L2058.2 2051.9 L2061.1 2048.1 L2064 2044.2 L2066.9 2040.2 L2069.8 2036.2 L2072.7 2031.7 L2075.6 2026.7 L2078.5 2021.5 L2081.5 2016.7 L2084.4 2012.6 L2087.3 2009.6 L2090.2 2007.6 L2093.1 2005.8 L2096 2004.3 L2098.9 2002.9 L2101.8 2001.8 L2104.7 2000.8 L2107.4 2000 L2110.1 1999.3 L2112.7 1998.7 L2115.4 1998.1 L2118 1997.5 L2120.7 1996.8" fill="none" stroke="#0000FF" stroke-width="13.5" stroke-linecap="round" stroke-linejoin="round"/><path d="M2122.2 1986h0M2131.3 1982.1h0M2140.4 1982.1h0M2151.8 1983.1h0M2167.8 1975.2h0M2203.9 1959.5h0" stroke="#0000FF" stroke-width="11.2" stroke-linecap="round"/><path d="M1698.6 2467.9L2107.2 1938.6" stroke="#FF0000" stroke-opacity="0.62" stroke-width="1.7"/><rect x="1694.1" y="1938.6" width="529.7" height="529.3" fill="none" stroke="#8a8a8a" stroke-width="2.3" stroke-linejoin="round"/><path d="M1694.1 2448.3V1956.5M1684.6 2448.3H1694.1M1684.6 2349.9H1694.1M1684.6 2251.6H1694.1M1684.6 2153.2H1694.1M1684.6 2054.9H1694.1M1684.6 1956.5H1694.1M1713.7 2467.9H2169.3M1713.7 2467.9v9.5M1789.6 2467.9v9.5M1865.6 2467.9v9.5M1941.5 2467.9v9.5M2017.4 2467.9v9.5M2093.3 2467.9v9.5M2169.3 2467.9v9.5" fill="none" stroke="#3c3c3c" stroke-width="2.3" stroke-linecap="round"/><text transform="translate(1672.5,2448.3) rotate(-90)" text-anchor="middle" class="tl">0</text><text transform="translate(1672.5,2349.9) rotate(-90)" text-anchor="middle" class="tl">1</text><text transform="translate(1672.5,2251.6) rotate(-90)" text-anchor="middle" class="tl">2</text><text transform="translate(1672.5,2153.2) rotate(-90)" text-anchor="middle" class="tl">3</text><text transform="translate(1672.5,2054.9) rotate(-90)" text-anchor="middle" class="tl">4</text><text transform="translate(1672.5,1956.5) rotate(-90)" text-anchor="middle" class="tl">5</text><text x="1713.7" y="2500.4" text-anchor="middle" class="tl">0</text><text x="1789.6" y="2500.4" text-anchor="middle" class="tl">1</text><text x="1865.6" y="2500.4" text-anchor="middle" class="tl">2</text><text x="1941.5" y="2500.4" text-anchor="middle" class="tl">3</text><text x="2017.4" y="2500.4" text-anchor="middle" class="tl">4</text><text x="2093.3" y="2500.4" text-anchor="middle" class="tl">5</text><text x="2169.3" y="2500.4" text-anchor="middle" class="tl">6</text><text x="1958.5" y="2540.4" text-anchor="middle" class="al">Expected <tspan class="d2" dx="2" dy="1.5">&#8211;</tspan><tspan dx="1" dy="-1.5">log10(p)</tspan></text><text transform="translate(1636.5,2203.2) rotate(-90)" text-anchor="middle" class="al">Observed -log10(p)</text><text x="24.3" y="1986.2" class="lt">I</text><g class="pts"><rect x="226" y="2892.1" width="32.2" height="179.1" rx="2.9" fill="#E41A1C"/><path d="M229 2744h0m0 140h0m1-13h0m0 6h0m0 2h0m0 2h0m0 4h0m0 5h0m0 5h0m0 1h0m1-36h0m0 4h0m0 3h0m0 8h0m1-60h0m0 43h0m0 7h0m0 22h0m0 8h0m0 4h0m1-23h0m0 1h0m0 10h0m0 5h0m1-98h0m0 90h0m0 1h0m0 3h0m0 2h0m1-48h0m0 12h0m0 35h0m0 6h0m0 3h0m1-134h0m0 27h0m0 65h0m0 23h0m1-107h0m0 59h0m0 62h0m0 0h0m1-46h0m0 50h0m1-36h0m0 16h0m0 8h0m0 6h0m0 3h0m1-200h0m0 172h0m0 0h0m0 4h0m0 14h0m0 0h0m0 5h0m0 2h0m0 1h0m0 8h0m1-108h0m0 48h0m0 9h0m0 23h0m1-47h0m0 74h0m1-41h0m0 22h0m0 5h0m0 3h0m0 8h0m1-103h0m0 52h0m0 11h0m0 41h0m1-44h0m0 43h0m1-35h0m0 22h0m0 0h0m0 1h0m0 1h0m0 4h0m0 6h0m0 4h0m0 1h0m1-252h0m0 226h0m0 2h0m0 6h0m0 4h0m1-63h0m0 30h0m0 26h0m0 1h0m0 2h0m0 13h0m1-222h0m0 215h0m0 11h0m1-32h0m0 7h0m0 14h0m0 2h0m0 6h0m0 3h0m1-20h0m1-4h0m0 14h0m1-43h0m0 11h0m0 18h0m0 4h0m0 3h0m1-2h0m0 12h0m0 1h0m1-35h0m0 7h0m0 29h0" stroke="#E41A1C"/><rect x="252.5" y="2887.1" width="46.2" height="184.1" rx="2.9" fill="#377EB8"/><path d="M255 2879h0m1-17h0m0 7h0m0 25h0m1-46h0m0 21h0m0 8h0m0 5h0m1-32h0m0 19h0m0 3h0m0 15h0m0 1h0m0 6h0m1-41h0m0 6h0m0 20h0m0 8h0m1-105h0m0 98h0m1-73h0m0 10h0m0 48h0m0 1h0m0 13h0m0 7h0m0 3h0m1-1h0m1-76h0m0 33h0m0 31h0m1-35h0m0 3h0m0 38h0m0 13h0m1-8h0m2-181h0m0 136h0m0 4h0m0 45h0m0 1h0m1-61h0m0 30h0m0 2h0m0 8h0m0 15h0m1-51h0m0 13h0m0 9h0m0 23h0m0 1h0m0 7h0m0 0h0m0 2h0m0 2h0m1-106h0m1 51h0m0 16h0m0 19h0m0 18h0m0 2h0m1-35h0m0 6h0m0 18h0m0 4h0m0 7h0m1-7h0m0 2h0m0 2h0m0 5h0m1-42h0m0 14h0m0 2h0m0 2h0m0 11h0m0 2h0m1-37h0m0 28h0m1-123h0m0 88h0m0 23h0m0 18h0m0 3h0m1-66h0m0 33h0m0 28h0m0 4h0m1-8h0m1-74h0m0 50h0m0 29h0m1-9h0m0 8h0m0 7h0m1-34h0m0 29h0m0 1h0m1-20h0m0 13h0m1-115h0m0 118h0m0 4h0m0 3h0m0 3h0m0 8h0m1-193h0m0 168h0m0 15h0m0 1h0m0 6h0m0 0h0m1-45h0m0 30h0m0 10h0m0 8h0m1-39h0m0 24h0m0 3h0m0 12h0m1-6h0m0 3h0m1-51h0m0 39h0m0 7h0m0 1h0m1-90h0m0 15h0m0 4h0m0 25h0m0 2h0m0 18h0m0 8h0m0 1h0m0 5h0m0 8h0m0 9h0m1-118h0m0 54h0m0 21h0m0 35h0m0 3h0m1-18h0m0 14h0m0 5h0m0 1h0m0 1h0m0 3h0m1-104h0m0 74h0m0 16h0m0 8h0m0 5h0m1-14h0m1-3h0m0 14h0m0 1h0m1-117h0m0 55h0m0 45h0m0 5h0m0 14h0m1-57h0m0 14h0m0 22h0" stroke="#377EB8"/><rect x="293" y="2862.1" width="15.7" height="209.1" rx="2.9" fill="#4DAF4A"/><path d="M296 2793h0m0 49h0m0 13h0m0 13h0m0 0h0m1-28h0m0 2h0m0 19h0m0 4h0m0 4h0m0 0h0m0 1h0m1-49h0m0 30h0m0 4h0m0 7h0m0 4h0m0 2h0m0 2h0m1-33h0m0 2h0m1-79h0m0 74h0m0 1h0m0 22h0m0 13h0m1-153h0m0 76h0m0 1h0m0 42h0m0 25h0m0 3h0m0 2h0m0 2h0m1-116h0m0 67h0m0 26h0m0 0h0m0 1h0m1-22h0m0 5h0m0 2h0m0 17h0m0 10h0m0 1h0m1-31h0m0 13h0m0 7h0m0 4h0m0 6h0m1-100h0m0 42h0m0 39h0m0 19h0m0 4h0m0 3h0m0 2h0m0 3h0" stroke="#4DAF4A"/><rect x="303" y="2887.1" width="11.7" height="184.1" rx="2.9" fill="#984EA3"/><path d="M306 2799h0m0 51h0m0 33h0m1-45h0m0 29h0m0 17h0m0 1h0m0 6h0m0 1h0m1-59h0m0 2h0m0 36h0m0 12h0m0 8h0m1-103h0m0 79h0m0 11h0m1-12h0m0 16h0m0 6h0m0 1h0m0 6h0m1-119h0m0 56h0m0 19h0m0 7h0m0 1h0m0 11h0m0 1h0m0 16h0m1 2h0" stroke="#984EA3"/><rect x="309" y="2887.1" width="44.7" height="184.1" rx="2.9" fill="#FF7F00"/><path d="M312 2875h0m1-1h0m0 9h0m0 2h0m0 3h0m0 2h0m0 3h0m1-12h0m0 0h0m0 8h0m0 3h0m0 1h0m0 2h0m1-74h0m0 16h0m0 21h0m0 32h0m0 0h0m0 1h0m0 2h0m1 0h0m1-93h0m0 76h0m0 6h0m0 3h0m0 2h0m0 7h0m1-19h0m0 0h0m0 10h0m0 5h0m0 5h0m1-53h0m0 37h0m0 3h0m0 0h0m0 11h0m0 0h0m1-52h0m0 43h0m1-52h0m0 17h0m0 23h0m0 2h0m0 4h0m0 4h0m1-50h0m0 26h0m0 5h0m1-23h0m0 34h0m0 21h0m1-45h0m0 11h0m0 3h0m0 8h0m0 4h0m0 6h0m0 5h0m0 1h0m0 2h0m0 0h0m1-116h0m0 83h0m0 20h0m0 6h0m1-122h0m0 112h0m0 2h0m0 6h0m0 6h0m1-7h0m0 6h0m0 5h0m0 2h0m0 0h0m1-51h0m0 6h0m0 16h0m0 7h0m1-43h0m0 7h0m0 56h0m0 1h0m1-37h0m0 11h0m0 6h0m0 7h0m0 1h0m1-90h0m0 13h0m0 62h0m0 14h0m1-29h0m0 1h0m0 7h0m0 37h0m1-168h0m0 78h0m0 33h0m0 10h0m0 27h0m0 3h0m0 3h0m0 6h0m0 1h0m0 1h0m1-51h0m0 18h0m0 22h0m0 16h0m0 0h0m1-53h0m0 27h0m0 5h0m0 5h0m0 11h0m0 1h0m0 3h0m1-16h0m0 5h0m1-24h0m0 34h0m1-62h0m0 9h0m0 18h0m0 9h0m0 4h0m0 18h0m0 1h0m0 1h0m0 4h0m1-26h0m1-17h0m0 18h0m0 22h0m0 2h0m1-73h0m0 1h0m0 11h0m0 15h0m0 25h0m1-3h0m0 10h0m0 5h0m0 0h0m0 7h0m0 4h0m1-39h0m0 0h0m0 13h0m0 12h0m0 0h0m1-38h0m0 18h0m1-65h0m0 59h0m0 11h0m0 15h0m0 1h0m0 2h0m0 4h0m0 2h0m1-49h0m0 19h0m0 2h0m0 14h0m0 9h0m0 5h0m0 4h0m1-15h0m0 14h0m1-82h0m0 33h0m0 9h0m0 34h0m0 0h0m0 7h0m1-18h0m0 5h0m0 2h0m0 0h0m0 4h0m0 5h0m1-35h0m0 26h0m0 7h0m0 3h0m0 1h0m1-4h0" stroke="#FF7F00"/><rect x="348" y="2872.1" width="23.7" height="199.1" rx="2.9" fill="#FFFF33"/><path d="M352 2843h0m0 7h0m0 27h0m0 1h0m0 2h0m1-24h0m0 6h0m0 10h0m0 2h0m0 3h0m1-22h0m0 14h0m1-66h0m0 44h0m0 13h0m0 7h0m0 8h0m1-94h0m0 58h0m0 11h0m0 6h0m0 4h0m0 9h0m0 5h0m1-76h0m0 39h0m0 13h0m0 2h0m0 10h0m0 11h0m0 2h0m0 1h0m0 1h0m1-67h0m0 30h0m0 20h0m0 1h0m0 2h0m0 17h0m1-53h0m0 8h0m0 3h0m0 7h0m0 22h0m1-43h0m0 33h0m0 7h0m0 3h0m1-17h0m0 23h0m0 2h0m0 3h0m0 0h0m0 2h0m0 0h0m1-48h0m0 39h0m0 2h0m0 2h0m1-95h0m0 21h0m0 49h0m0 3h0m0 9h0m0 18h0m1-39h0m0 10h0m0 14h0m0 7h0m0 4h0m1-74h0m0 22h0m0 28h0m1-26h0m0 37h0m0 6h0m0 2h0m0 8h0m1-41h0m0 36h0m0 3h0m0 1h0m1-45h0m0 20h0m0 19h0m0 2h0m0 3h0m0 2h0m1-28h0m0 6h0m0 6h0m0 8h0m0 7h0" stroke="#FFFF33"/><rect x="366" y="2894.6" width="23.7" height="176.6" rx="2.9" fill="#A65628"/><path d="M369 2862h0m0 38h0m1-37h0m0 22h0m0 18h0m1-115h0m0 47h0m0 7h0m0 42h0m0 7h0m0 5h0m1-41h0m0 19h0m0 3h0m0 1h0m0 24h0m1-75h0m0 32h0m0 26h0m0 8h0m0 5h0m0 0h0m1-20h0m0 2h0m0 17h0m1-54h0m0 31h0m0 1h0m0 21h0m0 4h0m1-52h0m0 23h0m0 1h0m0 12h0m1 6h0m0 3h0m0 7h0m1-233h0m0 209h0m0 7h0m0 7h0m0 2h0m0 4h0m0 3h0m1-57h0m0 45h0m0 5h0m0 4h0m0 1h0m0 2h0m0 1h0m1-13h0m0 13h0m0 2h0m1-34h0m1-10h0m0 8h0m0 27h0m0 6h0m1-6h0m0 3h0m0 3h0m0 2h0m1-79h0m0 49h0m0 6h0m0 4h0m0 7h0m0 2h0m0 13h0m1-29h0m0 23h0m0 2h0m0 0h0m1-33h0m0 4h0m0 19h0m0 1h0m1 10h0" stroke="#A65628"/><rect x="384" y="2887.1" width="48.5" height="184.1" rx="2.9" fill="#F781BF"/><path d="M387 2860h0m0 9h0m1-41h0m0 2h0m0 30h0m0 17h0m0 11h0m1-15h0m0 2h0m0 4h0m0 0h0m0 1h0m0 7h0m0 1h0m0 1h0m0 2h0m0 4h0m1-91h0m0 77h0m0 2h0m1-26h0m0 30h0m0 2h0m0 3h0m0 2h0m1-178h0m0 147h0m0 19h0m0 2h0m0 7h0m1-7h0m0 6h0m0 1h0m1-163h0m0 86h0m0 44h0m0 7h0m0 7h0m0 5h0m0 3h0m0 5h0m1-19h0m0 1h0m0 12h0m0 7h0m0 1h0m1-12h0m0 10h0m0 10h0m1-3h0m0 3h0m1-68h0m0 19h0m0 19h0m0 26h0m0 1h0m1-93h0m0 56h0m0 1h0m0 19h0m0 7h0m0 11h0m0 1h0m1-91h0m0 56h0m0 34h0m0 0h0m1-33h0m0 21h0m0 6h0m1-49h0m0 43h0m0 6h0m0 8h0m1-60h0m0 16h0m0 3h0m0 1h0m0 15h0m0 15h0m0 1h0m1-38h0m0 23h0m0 3h0m0 3h0m1-26h0m0 22h0m0 8h0m0 4h0m0 2h0m1-9h0m0 10h0m0 1h0m1-70h0m0 52h0m0 22h0m1-44h0m0 32h0m0 4h0m0 4h0m1-28h0m0 24h0m0 4h0m0 2h0m0 3h0m1-56h0m0 44h0m1-45h0m0 42h0m0 3h0m0 2h0m0 1h0m1-8h0m0 7h0m1-81h0m0 87h0m0 1h0m0 2h0m1-85h0m0 23h0m0 25h0m0 16h0m0 4h0m0 8h0m0 5h0m0 0h0m0 5h0m1-12h0m0 5h0m1 6h0m1-49h0m0 29h0m0 10h0m0 11h0m1-61h0m0 58h0m0 1h0m0 2h0m1-34h0m0 13h0m0 4h0m1-45h0m0 18h0m0 19h0m0 15h0m0 0h0m0 1h0m0 0h0m0 1h0m1-9h0m0 5h0m0 3h0m1 2h0m1-56h0m0 45h0m0 13h0m0 4h0m0 1h0m1-73h0m0 19h0m1-53h0m0 73h0m0 12h0m0 4h0m0 9h0m0 7h0m1-66h0m0 15h0m0 12h0m0 4h0m0 10h0m0 12h0m0 1h0m0 1h0m1-17h0m0 9h0m0 9h0m0 5h0m0 5h0m0 2h0m1-49h0m0 14h0m0 17h0m0 5h0m0 4h0m1-46h0m0 23h0m0 8h0m0 17h0m0 8h0" stroke="#F781BF"/><rect x="426.8" y="2887.1" width="46.5" height="184.1" rx="2.9" fill="#999999"/><path d="M430 2888h0m1-10h0m0 3h0m0 2h0m0 5h0m0 7h0m1-33h0m0 9h0m0 12h0m0 7h0m1-78h0m0 2h0m0 69h0m1-15h0m0 3h0m0 15h0m0 5h0m0 1h0m1-32h0m0 0h0m0 16h0m0 13h0m0 2h0m1-39h0m0 41h0m1-40h0m0 34h0m1-71h0m0 7h0m0 57h0m0 3h0m0 2h0m0 3h0m0 1h0m0 0h0m0 3h0m1-100h0m0 34h0m0 31h0m0 23h0m0 1h0m0 0h0m0 3h0m0 1h0m0 3h0m0 5h0m1-43h0m0 1h0m0 43h0m1-58h0m0 2h0m0 37h0m0 6h0m0 13h0m1-87h0m0 42h0m0 11h0m0 33h0m1-50h0m0 10h0m0 5h0m0 7h0m0 4h0m0 10h0m0 13h0m1-50h0m0 17h0m0 30h0m0 1h0m1-56h0m0 32h0m1-24h0m0 3h0m0 19h0m0 11h0m0 6h0m0 1h0m0 2h0m0 3h0m1-62h0m0 7h0m0 22h0m0 4h0m0 5h0m0 23h0m0 1h0m0 5h0m1-37h0m0 4h0m0 19h0m0 2h0m0 2h0m0 1h0m1-17h0m0 7h0m0 4h0m0 5h0m0 2h0m1-74h0m0 68h0m0 11h0m0 6h0m1-27h0m0 3h0m1-2h0m0 21h0m0 4h0m1-20h0m0 8h0m0 6h0m0 5h0m1-77h0m0 27h0m0 25h0m0 12h0m1-169h0m0 159h0m0 11h0m1-28h0m0 26h0m1-140h0m0 87h0m0 26h0m0 17h0m0 1h0m0 2h0m0 11h0m0 7h0m1-24h0m0 10h0m0 12h0m0 1h0m0 1h0m1-59h0m0 39h0m0 9h0m0 1h0m0 0h0m0 9h0m0 6h0m1-35h0m0 27h0m0 0h0m0 2h0m0 2h0m0 3h0m1-67h0m0 13h0m0 38h0m1-47h0m0 22h0m0 9h0m0 7h0m0 11h0m0 8h0m0 6h0m1-56h0m0 25h0m0 11h0m0 2h0m0 6h0m0 3h0m0 1h0m1-30h0m0 26h0m0 5h0m0 0h0m0 5h0m0 1h0m1-37h0m0 6h0m0 12h0m0 3h0m0 4h0m0 1h0m0 1h0m0 12h0m1-87h0m0 71h0m0 5h0m1-32h0m0 3h0m0 36h0m0 1h0m1-77h0m0 56h0m0 8h0m0 3h0m0 3h0m0 2h0m1-37h0m0 7h0m0 36h0m0 2h0m1-59h0m0 49h0m0 1h0m0 6h0m0 1h0" stroke="#999999"/><rect x="467.5" y="2894.6" width="32.7" height="176.6" rx="2.9" fill="#E41A1C"/><path d="M470 2865h0m0 10h0m1 14h0m2-27h0m0 34h0m0 0h0m1-15h0m0 0h0m0 3h0m0 1h0m0 6h0m1-57h0m0 23h0m0 9h0m0 1h0m0 11h0m0 0h0m0 19h0m1-3h0m0 1h0m0 3h0m0 5h0m1-25h0m0 2h0m0 3h0m0 7h0m0 3h0m1-3h0m0 2h0m1-78h0m0 46h0m0 14h0m0 9h0m0 5h0m0 6h0m1-38h0m0 17h0m0 3h0m0 9h0m0 2h0m0 1h0m0 8h0m0 2h0m0 1h0m0 1h0m0 3h0m1-153h0m0 88h0m0 8h0m0 20h0m0 13h0m0 4h0m0 5h0m0 8h0m1-63h0m0 16h0m0 48h0m0 4h0m0 0h0m1-62h0m0 33h0m0 11h0m0 0h0m0 1h0m0 14h0m0 0h0m0 5h0m1-50h0m0 35h0m1-68h0m0 72h0m0 2h0m1-142h0m0 61h0m0 40h0m0 5h0m0 39h0m0 2h0m0 1h0m1-39h0m0 1h0m0 2h0m0 29h0m0 5h0m0 1h0m0 3h0m1-8h0m1-70h0m0 72h0m0 5h0m1-45h0m1-43h0m0 53h0m0 14h0m0 8h0m0 9h0m0 1h0m1-11h0m0 1h0m1-18h0m0 23h0m1-38h0m0 27h0m0 17h0m1-34h0m0 28h0m0 1h0m0 7h0m0 0h0m1-33h0m0 8h0m0 8h0m0 3h0m0 9h0m1-97h0m0 64h0m0 1h0m0 3h0m0 28h0" stroke="#E41A1C"/><rect x="494.5" y="2887.1" width="18.3" height="184.1" rx="2.9" fill="#377EB8"/><path d="M498 2820h0m0 53h0m0 10h0m1-34h0m0 28h0m0 12h0m0 1h0m1-63h0m0 22h0m0 12h0m0 7h0m0 11h0m0 12h0m0 2h0m0 2h0m1-29h0m1-21h0m0 12h0m1-83h0m0 22h0m0 71h0m0 3h0m0 9h0m0 16h0m1-119h0m0 110h0m0 2h0m0 3h0m0 4h0m1-105h0m0 50h0m0 35h0m1-69h0m0 72h0m0 11h0m1-30h0m0 16h0m0 6h0m0 7h0m1-79h0m0 41h0m0 23h0m0 14h0m0 5h0m1-43h0m0 36h0m0 4h0m1-139h0m0 140h0" stroke="#377EB8"/><rect x="507.1" y="2887.1" width="11.3" height="184.1" rx="2.9" fill="#4DAF4A"/><path d="M511 2832h0m0 14h0m0 18h0m0 3h0m0 5h0m0 2h0m0 4h0m0 1h0m0 10h0m1-17h0m0 8h0m0 4h0m0 9h0m0 2h0m1-30h0m1-52h0m0 55h0m0 1h0m0 8h0m0 15h0m1-9h0" stroke="#4DAF4A"/><rect x="512.8" y="2887.1" width="25.2" height="184.1" rx="2.9" fill="#984EA3"/><path d="M516 2858h0m0 4h0m0 16h0m0 14h0m1-109h0m0 80h0m0 19h0m1-59h0m0 18h0m1 28h0m0 9h0m0 8h0m0 6h0m0 0h0m0 2h0m0 1h0m0 0h0m1-40h0m0 34h0m0 4h0m1-127h0m0 76h0m0 36h0m0 4h0m0 2h0m1-111h0m0 91h0m0 7h0m0 6h0m0 7h0m1-127h0m0 70h0m0 15h0m0 3h0m0 33h0m0 4h0m0 3h0m0 6h0m1-32h0m0 2h0m0 1h0m0 19h0m0 8h0m0 2h0m1-81h0m0 8h0m0 40h0m0 10h0m0 9h0m0 13h0m1-26h0m0 10h0m0 2h0m0 18h0m1-69h0m0 32h0m0 13h0m0 24h0m0 1h0m1-21h0m0 3h0m0 7h0m1-25h0m0 2h0m0 5h0m1-119h0m0 59h0m0 71h0m0 1h0m0 3h0m0 8h0m1-209h0m0 171h0m0 11h0m0 8h0m0 21h0m1-49h0m0 26h0m0 2h0m0 19h0m0 3h0m1-30h0m0 2h0m0 7h0m0 5h0m0 13h0m0 1h0m0 4h0m1-33h0m0 25h0m1-62h0m0 50h0m0 21h0" stroke="#984EA3"/><rect x="532.2" y="2874.6" width="20.3" height="196.6" rx="2.9" fill="#FF7F00"/><path d="M535 2879h0m1-11h0m0 0h0m0 6h0m0 4h0m0 5h0m1-23h0m0 4h0m1-113h0m0 95h0m0 0h0m0 8h0m0 8h0m0 19h0m1-93h0m0 44h0m0 23h0m0 24h0m1-69h0m0 28h0m0 37h0m1-103h0m0 93h0m0 9h0m1-60h0m0 18h0m0 5h0m0 1h0m0 6h0m0 11h0m1-30h0m0 3h0m0 11h0m0 14h0m0 6h0m0 15h0m1-31h0m0 11h0m0 7h0m1-75h0m0 72h0m0 1h0m0 1h0m0 21h0m1-41h0m0 23h0m0 0h0m1-14h0m0 1h0m0 8h0m0 1h0m0 14h0m0 4h0m1-79h0m0 3h0m0 1h0m0 14h0m0 29h0m0 6h0m0 12h0m0 8h0m0 10h0m1-36h0m0 19h0m1-1h0m0 13h0" stroke="#FF7F00"/><rect x="546.9" y="2887.1" width="13.2" height="184.1" rx="2.9" fill="#FFFF33"/><path d="M550 2839h0m0 27h0m0 9h0m0 5h0m0 3h0m1-73h0m0 27h0m0 14h0m0 40h0m0 2h0m0 0h0m1-15h0m0 10h0m0 1h0m0 4h0m1-39h0m0 10h0m0 1h0m0 2h0m0 25h0m1-92h0m0 48h0m0 7h0m0 16h0m0 15h0m1-18h0m0 9h0m0 16h0m0 0h0m0 1h0m1-89h0m0 43h0m0 7h0m0 13h0m0 15h0m1-24h0" stroke="#FFFF33"/><rect x="554.4" y="2892.1" width="10.9" height="179.1" rx="2.9" fill="#A65628"/><path d="M557 2824h0m0 54h0m1-3h0m0 11h0m0 3h0m1-85h0m0 28h0m0 12h0m0 23h0m0 15h0m0 1h0m1-59h0m0 33h0m0 23h0m0 6h0m0 3h0m0 2h0m0 7h0m0 0h0m0 1h0m1-32h0m0 4h0m0 4h0m1-28h0m0 47h0m0 1h0" stroke="#A65628"/><rect x="559.6" y="2892.1" width="13.6" height="179.1" rx="2.9" fill="#F781BF"/><path d="M562 2893h0m1-100h0m0 46h0m0 55h0m0 3h0m0 0h0m1-68h0m0 47h0m0 7h0m0 5h0m1-204h0m0 178h0m0 20h0m0 11h0m0 0h0m1-4h0m0 7h0m0 4h0m1-18h0m0 0h0m0 13h0m0 1h0m0 0h0m1-40h0m0 37h0m0 5h0m1-36h0m0 3h0m0 15h0m0 12h0m1-10h0" stroke="#F781BF"/><rect x="567.5" y="2887.1" width="25.8" height="184.1" rx="2.9" fill="#999999"/><path d="M570 2881h0m1-21h0m0 4h0m0 14h0m0 9h0m1 0h0m1-23h0m1-36h0m0 39h0m0 13h0m0 6h0m0 3h0m1-12h0m0 9h0m0 5h0m0 4h0m0 0h0m1-57h0m0 21h0m0 4h0m0 11h0m0 10h0m0 7h0m0 0h0m0 1h0m1-12h0m0 10h0m0 1h0m0 0h0m0 3h0m1-54h0m0 50h0m0 3h0m0 1h0m1-41h0m0 13h0m0 18h0m0 1h0m1-16h0m0 1h0m0 1h0m0 5h0m0 18h0m1-17h0m0 4h0m1-16h0m0 6h0m0 1h0m0 12h0m1-47h0m0 5h0m0 14h0m0 26h0m0 0h0m1-115h0m0 100h0m0 3h0m0 0h0m0 4h0m0 10h0m0 4h0m1-22h0m0 23h0m0 6h0m2-57h0m0 24h0m0 6h0m0 8h0m1-23h0m0 15h0m1-20h0m0 19h0m0 5h0m0 18h0m1-43h0m0 11h0m0 3h0m0 13h0m0 9h0m0 4h0m0 3h0m0 1h0" stroke="#999999"/><rect x="587.6" y="2882.1" width="32.1" height="189.1" rx="2.9" fill="#E41A1C"/><path d="M591 2851h0m0 27h0m1-62h0m0 74h0m1-39h0m0 16h0m0 9h0m0 9h0m1-180h0m0 141h0m0 6h0m0 22h0m0 2h0m0 0h0m0 1h0m0 1h0m0 9h0m1-85h0m0 34h0m0 16h0m0 26h0m0 1h0m0 11h0m1-98h0m0 64h0m0 14h0m1-16h0m0 10h0m0 7h0m0 5h0m0 3h0m0 1h0m0 8h0m1-76h0m0 28h0m0 10h0m0 24h0m0 9h0m1-54h0m0 22h0m0 14h0m0 7h0m0 18h0m1-48h0m0 2h0m0 11h0m0 13h0m0 2h0m0 6h0m0 10h0m0 3h0m0 1h0m1-134h0m0 48h0m0 18h0m0 57h0m1-10h0m0 7h0m0 5h0m0 4h0m1-80h0m0 66h0m0 11h0m0 7h0m1-48h0m0 43h0m0 1h0m0 3h0m0 1h0m0 1h0m1-37h0m0 19h0m0 11h0m0 5h0m1-78h0m0 35h0m0 18h0m1 8h0m0 14h0m1-17h0m0 1h0m0 2h0m1-33h0m0 35h0m1-3h0m0 5h0m0 3h0m0 1h0m0 4h0m1-29h0m0 6h0m0 14h0m0 2h0m0 5h0m1-23h0m0 8h0m0 2h0m0 6h0m0 5h0m1-63h0m0 51h0m0 10h0m0 0h0m0 4h0m0 1h0m0 8h0m1-47h0m0 23h0m0 9h0m0 13h0m0 1h0m1-17h0m0 5h0m0 13h0m1-5h0m0 1h0" stroke="#E41A1C"/><rect x="614" y="2904.6" width="34.6" height="166.6" rx="2.9" fill="#377EB8"/><path d="M617 2900h0m0 1h0m0 4h0m1-78h0m0 14h0m0 36h0m0 17h0m0 2h0m1-11h0m0 23h0m1-32h0m0 30h0m1-80h0m0 37h0m0 35h0m0 6h0m0 3h0m0 5h0m1-67h0m0 51h0m0 1h0m0 14h0m1-13h0m0 11h0m1-3h0m1-11h0m0 2h0m0 1h0m0 12h0m1-18h0m0 14h0m0 1h0m1-50h0m0 37h0m0 13h0m0 2h0m1-74h0m0 28h0m0 30h0m0 2h0m1-67h0m0 20h0m0 26h0m0 17h0m0 11h0m0 1h0m0 4h0m0 3h0m1-5h0m0 4h0m0 2h0m1-93h0m0 53h0m0 6h0m0 6h0m0 3h0m0 12h0m0 13h0m1-96h0m0 4h0m0 56h0m0 13h0m0 0h0m1-5h0m0 24h0m0 2h0m1-113h0m0 25h0m0 65h0m0 9h0m0 3h0m0 2h0m0 2h0m0 1h0m0 10h0m1-13h0m0 7h0m1-67h0m0 1h0m0 17h0m0 24h0m0 2h0m0 12h0m0 10h0m1-18h0m0 6h0m0 11h0m0 5h0m1-67h0m0 22h0m0 14h0m0 1h0m0 7h0m0 12h0m0 9h0m1-8h0m0 10h0m1-57h0m0 8h0m0 37h0m0 9h0m1-72h0m0 51h0m0 1h0m0 1h0m0 21h0m1-39h0m0 21h0m0 5h0m0 0h0m0 1h0m0 16h0m1-61h0m0 34h0m0 8h0m0 6h0m0 10h0m1-50h0m0 18h0m1 17h0m0 13h0m0 4h0m1-8h0" stroke="#377EB8"/><rect x="642.9" y="2887.1" width="10" height="184.1" rx="2.9" fill="#4DAF4A"/><path d="M646 2825h0m0 43h0m1-1h0m0 6h0m0 18h0m1-27h0m0 9h0m0 9h0m0 1h0m0 0h0m0 9h0m0 1h0m1-32h0m0 2h0m0 4h0m0 6h0m0 9h0m0 9h0m1-69h0m0 65h0" stroke="#4DAF4A"/><rect x="647.2" y="2884.6" width="18.8" height="186.6" rx="2.9" fill="#984EA3"/><path d="M651 2841h0m0 0h0m0 2h0m0 3h0m0 20h0m0 5h0m0 15h0m0 3h0m1-45h0m0 30h0m0 19h0m1-62h0m0 57h0m1-53h0m0 9h0m0 5h0m0 11h0m0 12h0m0 15h0m0 1h0m0 2h0m1-17h0m0 12h0m1-53h0m0 27h0m0 9h0m0 8h0m0 10h0m0 5h0m1-21h0m0 9h0m1-4h0m0 2h0m0 6h0m0 7h0m1-52h0m0 51h0m1-82h0m0 52h0m0 23h0m0 0h0m0 6h0m1-205h0m0 134h0m0 11h0m0 8h0m0 17h0m0 14h0m0 4h0m0 7h0m0 3h0m0 7h0m0 0h0m1-159h0m0 136h0m0 2h0m0 4h0m0 1h0m0 13h0m1-27h0m0 7h0m0 14h0" stroke="#984EA3"/><rect x="660.3" y="2887.1" width="8.5" height="184.1" rx="2.9" fill="#FF7F00"/><path d="M663 2893h0m1-63h0m0 14h0m0 16h0m0 7h0m0 24h0m0 3h0m1-63h0m0 9h0m0 30h0m0 7h0m0 14h0m0 3h0m1-57h0m0 47h0m0 3h0" stroke="#FF7F00"/><rect x="663.1" y="2887.1" width="13.8" height="184.1" rx="2.9" fill="#FFFF33"/><path d="M666 2837h0m0 38h0m0 6h0m0 6h0m1-92h0m0 44h0m0 14h0m0 7h0m0 12h0m0 17h0m0 2h0m1-31h0m0 4h0m0 11h0m0 2h0m0 4h0m1-63h0m0 33h0m0 3h0m0 19h0m0 13h0m1-93h0m0 53h0m0 4h0m0 8h0m0 5h0m0 3h0m0 15h0m0 6h0m1-63h0m0 43h0m1-65h0m0 8h0m0 39h0m0 8h0m0 10h0m0 5h0m0 6h0m0 0h0m0 4h0m1-94h0m0 73h0m0 13h0m0 1h0m0 18h0m1-7h0" stroke="#FFFF33"/><rect x="671.2" y="2899.6" width="15.5" height="171.6" rx="2.9" fill="#A65628"/><path d="M674 2872h0m0 15h0m1-16h0m0 4h0m0 19h0m0 2h0m1-72h0m0 51h0m0 4h0m0 15h0m0 1h0m1-94h0m0 58h0m0 18h0m0 14h0m0 8h0m1-58h0m0 11h0m0 13h0m0 16h0m1-68h0m0 25h0m0 8h0m0 54h0m0 3h0m0 0h0m0 2h0m1-57h0m0 10h0m0 30h0m0 7h0m0 4h0m0 6h0m1-41h0m0 8h0m1-17h0m0 15h0m0 9h0m0 6h0m0 6h0m0 12h0m0 4h0m0 1h0m1-36h0m0 14h0m0 1h0m0 7h0m0 8h0m1-4h0m0 1h0" stroke="#A65628"/><rect x="681" y="2889.6" width="33.7" height="181.6" rx="2.9" fill="#F781BF"/><path d="M684 2848h0m0 4h0m0 19h0m0 12h0m0 10h0m1-57h0m0 41h0m0 17h0m0 2h0m0 2h0m1-40h0m0 34h0m1-29h0m0 22h0m0 8h0m0 4h0m1-73h0m0 19h0m0 29h0m0 9h0m0 12h0m1-41h0m0 10h0m0 21h0m0 5h0m1-172h0m0 132h0m0 4h0m0 7h0m0 26h0m0 5h0m0 6h0m1-50h0m0 1h0m0 15h0m0 3h0m0 14h0m0 10h0m1-19h0m0 20h0m1-52h0m0 4h0m0 34h0m0 12h0m0 1h0m0 3h0m0 5h0m1-30h0m0 8h0m1-15h0m0 9h0m0 11h0m0 2h0m0 3h0m0 8h0m1-77h0m0 41h0m0 2h0m0 25h0m0 2h0m0 1h0m0 2h0m0 2h0m1 6h0m1-101h0m0 56h0m0 21h0m0 5h0m0 9h0m0 11h0m1-84h0m0 4h0m0 13h0m0 14h0m0 5h0m0 12h0m1-24h0m0 22h0m0 6h0m0 10h0m0 9h0m0 7h0m0 1h0m1-33h0m0 9h0m0 10h0m0 13h0m0 1h0m1-201h0m0 38h0m0 61h0m0 11h0m0 87h0m1-51h0m0 25h0m0 4h0m0 11h0m0 8h0m0 5h0m0 1h0m1-45h0m0 4h0m0 13h0m0 8h0m0 4h0m0 9h0m1-22h0m1 11h0m0 9h0m0 8h0m0 1h0m0 1h0m1-21h0m0 1h0m0 7h0m0 16h0m1-43h0m0 29h0m0 7h0m0 8h0m1-56h0m0 27h0m0 14h0m1-61h0m0 39h0m0 11h0m0 6h0m0 15h0m0 4h0m0 2h0m1-9h0m0 2h0m0 5h0m1-31h0m0 1h0m0 20h0m0 3h0" stroke="#F781BF"/><rect x="709" y="2899.6" width="8.9" height="171.6" rx="2.9" fill="#999999"/><path d="M712 2888h0m1-47h0m0 54h0m0 0h0m0 10h0m1-19h0m0 11h0m0 1h0m0 8h0m1-49h0m0 48h0" stroke="#999999"/><rect x="712.2" y="2894.6" width="23.4" height="176.6" rx="2.9" fill="#E41A1C"/><path d="M717 2873h0m1-112h0m0 46h0m0 31h0m0 5h0m0 11h0m0 30h0m0 2h0m0 6h0m0 4h0m1-45h0m0 42h0m0 9h0m1-26h0m0 15h0m1-90h0m0 86h0m0 5h0m1-18h0m0 13h0m0 1h0m0 1h0m1-19h0m0 26h0m0 2h0m1-9h0m0 3h0m0 9h0m1-21h0m0 8h0m1-61h0m0 15h0m0 37h0m0 8h0m0 6h0m0 5h0m1-3h0m0 3h0m1-97h0m0 87h0m0 7h0m1-53h0m0 45h0m0 7h0m1 0h0m1-35h0m0 9h0m0 29h0m1-39h0m1-52h0m0 68h0m0 6h0m0 11h0m0 9h0" stroke="#E41A1C"/><rect x="730" y="2887.1" width="8.2" height="184.1" rx="2.9" fill="#377EB8"/><path d="M733 2813h0m0 40h0m0 19h0m0 9h0m0 6h0m0 6h0m0 0h0m1-135h0m0 114h0m0 5h0m1-46h0m0 46h0m0 3h0m0 1h0m0 13h0" stroke="#377EB8"/><rect x="732.5" y="2887.1" width="9.8" height="184.1" rx="2.9" fill="#4DAF4A"/><path d="M735 2721h0m1 145h0m0 1h0m0 2h0m0 9h0m0 8h0m0 9h0m1-30h0m0 17h0m0 3h0m0 1h0m1-68h0m0 13h0m0 51h0m1-25h0m0 6h0m0 7h0m0 11h0" stroke="#4DAF4A"/><rect x="736.6" y="2874.6" width="41" height="196.6" rx="2.9" fill="#984EA3"/><path d="M739 2880h0m1-50h0m0 52h0m1-97h0m0 84h0m0 2h0m1-21h0m0 16h0m0 13h0m1-14h0m1-165h0m0 116h0m1-33h0m0 58h0m1 6h0m0 9h0m1-43h0m0 23h0m0 6h0m0 13h0m0 15h0m0 13h0m1-64h0m0 24h0m0 22h0m0 13h0m1-104h0m0 23h0m0 48h0m0 16h0m0 12h0m0 2h0m1-31h0m0 11h0m0 16h0m0 3h0m0 2h0m0 2h0m0 1h0m0 3h0m1-64h0m0 44h0m0 3h0m0 4h0m1-84h0m0 58h0m0 4h0m0 4h0m0 1h0m0 5h0m0 8h0m0 1h0m0 3h0m0 1h0m0 1h0m0 4h0m0 2h0m0 4h0m1-35h0m0 32h0m1-50h0m0 1h0m0 35h0m0 6h0m0 2h0m1-44h0m0 15h0m1-25h0m0 10h0m0 32h0m0 12h0m1-9h0m0 4h0m0 2h0m0 6h0m0 4h0m1-52h0m0 32h0m1-14h0m0 3h0m0 17h0m1-64h0m0 71h0m0 2h0m0 6h0m0 2h0m1-27h0m0 21h0m0 4h0m0 2h0m1-71h0m0 35h0m0 21h0m0 2h0m0 12h0m1-38h0m0 7h0m0 21h0m0 6h0m1-57h0m0 43h0m0 15h0m0 3h0m1-54h0m0 55h0m1-49h0m0 6h0m0 16h0m0 1h0m0 6h0m0 16h0m0 1h0m0 0h0m0 3h0m1-26h0m0 11h0m0 3h0m0 12h0m1-44h0m0 10h0m0 14h0m0 19h0m1-36h0m0 26h0m0 1h0m0 11h0m1-44h0m0 30h0m1-13h0m0 11h0m0 0h0m0 6h0m0 0h0m0 8h0m1-102h0m0 35h0m0 40h0m0 17h0m0 3h0m0 7h0m1-39h0m0 23h0m1-58h0m0 16h0m0 50h0m0 8h0m0 1h0" stroke="#984EA3"/><rect x="771.9" y="2887.1" width="9.4" height="184.1" rx="2.9" fill="#FF7F00"/><path d="M775 2723h0m0 85h0m0 64h0m0 1h0m1 15h0m0 4h0m0 3h0m1-11h0m0 3h0m0 2h0m0 1h0m1-35h0m0 23h0m0 1h0m0 1h0m0 0h0m0 9h0" stroke="#FF7F00"/><rect x="775.6" y="2887.1" width="22.1" height="184.1" rx="2.9" fill="#FFFF33"/><path d="M779 2861h0m0 18h0m0 10h0m0 2h0m1-38h0m0 37h0m0 5h0m1-19h0m1-55h0m0 47h0m0 25h0m1-87h0m0 7h0m0 4h0m0 47h0m0 5h0m0 4h0m0 7h0m0 1h0m0 4h0m2-136h0m0 127h0m1-20h0m0 6h0m0 15h0m1-18h0m0 7h0m0 6h0m1-15h0m0 5h0m0 1h0m0 15h0m0 1h0m0 3h0m0 8h0m0 2h0m1-33h0m0 20h0m0 3h0m0 4h0m1-72h0m0 55h0m0 14h0m0 3h0m1-91h0m0 52h0m0 28h0m0 14h0m1-76h0m0 81h0m1-27h0m0 11h0m0 2h0m0 3h0m0 11h0m1-82h0m0 15h0m0 20h0m0 36h0m0 6h0m0 2h0m0 4h0m1-48h0" stroke="#FFFF33"/><rect x="792" y="2887.1" width="11.6" height="184.1" rx="2.9" fill="#A65628"/><path d="M795 2832h0m0 26h0m1-14h0m0 15h0m0 22h0m0 4h0m0 5h0m1-114h0m0 47h0m0 16h0m0 24h0m1 3h0m0 23h0m1-38h0m0 17h0m0 0h0m0 4h0m0 16h0m0 1h0m0 2h0m1-45h0m0 18h0m0 2h0m0 1h0m0 9h0m0 16h0m1-34h0" stroke="#A65628"/><rect x="797.9" y="2882.1" width="41.9" height="189.1" rx="2.9" fill="#F781BF"/><path d="M801 2818h0m0 58h0m0 2h0m0 10h0m1-37h0m0 0h0m0 11h0m0 6h0m0 11h0m0 2h0m0 4h0m0 0h0m0 0h0m1-52h0m0 19h0m1 0h0m0 22h0m0 6h0m0 3h0m0 5h0m0 2h0m1-115h0m0 106h0m0 1h0m1-78h0m0 21h0m0 38h0m1-2h0m0 19h0m0 9h0m1-24h0m0 15h0m0 1h0m0 9h0m1-56h0m0 5h0m0 2h0m0 42h0m0 3h0m0 4h0m1-42h0m0 9h0m0 6h0m0 13h0m1-1h0m0 5h0m0 2h0m1-102h0m1 25h0m0 41h0m0 1h0m0 14h0m0 15h0m1-49h0m0 36h0m0 5h0m0 13h0m0 4h0m0 2h0m0 2h0m1-21h0m1-43h0m0 15h0m0 39h0m1-33h0m0 24h0m0 4h0m0 5h0m1-33h0m0 23h0m1-3h0m0 5h0m0 5h0m0 13h0m0 1h0m1-121h0m0 81h0m0 0h0m0 16h0m0 22h0m1-181h0m0 0h0m0 160h0m0 10h0m0 6h0m0 4h0m1-54h0m0 8h0m0 3h0m0 8h0m0 19h0m0 0h0m0 3h0m0 12h0m1-22h0m0 4h0m0 3h0m0 3h0m0 8h0m1-75h0m0 74h0m1-14h0m0 4h0m1-85h0m0 66h0m0 6h0m0 20h0m1-27h0m0 21h0m0 13h0m0 0h0m1-29h0m1-81h0m0 12h0m0 48h0m0 19h0m0 2h0m0 10h0m0 20h0m0 0h0m0 2h0m0 2h0m0 0h0m1-77h0m0 11h0m0 29h0m0 11h0m1-24h0m0 9h0m0 22h0m0 1h0m0 1h0m0 5h0m0 11h0m1-21h0m0 19h0m0 3h0m1-142h0m0 110h0m0 5h0m0 3h0m0 13h0m1-67h0m0 40h0m0 5h0m1 0h0m0 13h0m0 13h0m0 5h0m0 2h0m0 0h0m1-72h0m0 64h0m0 0h0m0 1h0m0 7h0m1-83h0m0 82h0" stroke="#F781BF"/><rect x="834.1" y="2887.1" width="17.8" height="184.1" rx="2.9" fill="#999999"/><path d="M837 2772h0m0 113h0m1-50h0m0 9h0m0 21h0m0 4h0m0 19h0m0 4h0m1-18h0m0 1h0m0 3h0m0 16h0m1-43h0m0 21h0m0 7h0m0 1h0m0 4h0m0 5h0m1-53h0m0 23h0m0 12h0m0 3h0m0 14h0m1-42h0m0 2h0m0 16h0m0 21h0m1-42h0m0 33h0m0 12h0m1-94h0m0 85h0m0 0h0m0 16h0m1-60h0m0 14h0m0 29h0m0 6h0m0 11h0m0 0h0m1-63h0m0 42h0m0 12h0m1-47h0m0 25h0m0 8h0m0 8h0m1-19h0m0 18h0m0 8h0m0 0h0m1-11h0m0 18h0" stroke="#999999"/><rect x="846.2" y="2899.6" width="9.8" height="171.6" rx="2.9" fill="#E41A1C"/><path d="M849 2854h0m1 17h0m1-47h0m0 61h0m0 3h0m1-22h0m0 26h0m0 11h0" stroke="#E41A1C"/><rect x="850.4" y="2897.1" width="32.5" height="174.1" rx="2.9" fill="#377EB8"/><path d="M854 2655h0m0 106h0m0 56h0m0 28h0m0 30h0m0 5h0m0 16h0m0 5h0m0 4h0m1-92h0m0 44h0m0 29h0m0 6h0m1-32h0m0 29h0m0 10h0m1-78h0m0 51h0m0 15h0m0 16h0m1-90h0m0 92h0m1-176h0m0 150h0m0 11h0m0 1h0m1-27h0m0 14h0m0 26h0m0 0h0m1-25h0m0 2h0m0 19h0m1-56h0m0 46h0m0 1h0m0 12h0m0 1h0m1-177h0m0 131h0m0 1h0m0 3h0m1 12h0m0 10h0m1-16h0m0 19h0m0 4h0m0 5h0m1 8h0m1-68h0m1-36h0m0 30h0m0 10h0m0 25h0m0 16h0m0 1h0m0 3h0m0 5h0m0 2h0m0 2h0m0 5h0m0 0h0m0 4h0m1-53h0m0 1h0m0 10h0m0 21h0m0 8h0m0 0h0m1-98h0m0 85h0m0 4h0m0 2h0m0 1h0m0 8h0m1-86h0m0 81h0m0 14h0m1-65h0m0 33h0m1 12h0m0 7h0m0 4h0m0 4h0m0 7h0m1-126h0m0 112h0m1-39h0m1 0h0m0 28h0m0 10h0m0 13h0m0 2h0m1-38h0m0 23h0m0 6h0m0 10h0m1-41h0m0 36h0m0 2h0m1-89h0m0 74h0m0 8h0m0 3h0m1-39h0" stroke="#377EB8"/><rect x="877.2" y="2887.1" width="28.7" height="184.1" rx="2.9" fill="#4DAF4A"/><path d="M881 2875h0m0 18h0m0 2h0m1-38h0m0 16h0m1-85h0m0 90h0m0 5h0m0 11h0m1-14h0m0 5h0m0 1h0m0 2h0m1-77h0m0 49h0m0 31h0m0 2h0m1-140h0m0 32h0m0 52h0m0 42h0m0 4h0m0 6h0m1-24h0m0 1h0m0 23h0m1-43h0m0 41h0m0 1h0m0 4h0m0 2h0m1-71h0m0 52h0m0 9h0m2-96h0m0 73h0m0 30h0m0 3h0m0 1h0m0 0h0m0 0h0m1-112h0m0 97h0m0 3h0m0 1h0m0 3h0m1-61h0m0 14h0m0 20h0m0 17h0m0 2h0m0 14h0m1-60h0m0 36h0m0 1h0m0 3h0m0 2h0m1-20h0m0 26h0m0 4h0m0 10h0m1-57h0m0 36h0m0 7h0m0 0h0m0 10h0m0 2h0m1-32h0m0 29h0m0 4h0m1-47h0m0 19h0m0 24h0m0 3h0m0 2h0m0 0h0m1-66h0m0 34h0m0 2h0m0 10h0m0 1h0m0 17h0m0 1h0m1-48h0m0 20h0m0 4h0m0 23h0m1-116h0m0 89h0m0 12h0m0 6h0m0 3h0m0 6h0m1-27h0m0 15h0m0 3h0m0 11h0m1-28h0m0 18h0m0 4h0m0 2h0" stroke="#4DAF4A"/><rect x="900.2" y="2887.1" width="8" height="184.1" rx="2.9" fill="#984EA3"/><path d="M904 2850h0m0 10h0m0 14h0m0 8h0m0 11h0m1-53h0m0 24h0m0 6h0m0 8h0m0 4h0m0 12h0" stroke="#984EA3"/><rect x="902.5" y="2887.1" width="11.3" height="184.1" rx="2.9" fill="#FF7F00"/><path d="M905 2791h0m0 81h0m1 16h0m0 4h0m1-69h0m0 13h0m0 3h0m0 9h0m0 2h0m0 11h0m0 2h0m0 18h0m0 5h0m1-47h0m0 21h0m0 3h0m0 13h0m0 5h0m0 3h0m0 2h0m0 1h0m0 3h0m0 1h0m1-30h0m1-17h0m0 5h0m0 20h0m0 3h0m0 11h0m0 0h0m1-20h0m0 32h0" stroke="#FF7F00"/><rect x="908.1" y="2887.1" width="12.8" height="184.1" rx="2.9" fill="#FFFF33"/><path d="M912 2852h0m0 24h0m0 11h0m0 3h0m0 3h0m1-92h0m0 41h0m0 34h0m1-80h0m0 84h0m0 13h0m1-24h0m0 3h0m0 5h0m0 18h0m0 0h0m1-76h0m0 6h0m0 7h0m0 11h0m1 39h0m0 3h0m0 7h0m0 1h0m0 1h0m1-110h0m0 25h0m0 54h0m0 4h0m0 9h0" stroke="#FFFF33"/><rect x="915.2" y="2874.6" width="37.6" height="196.6" rx="2.9" fill="#A65628"/><path d="M918 2870h0m1-61h0m0 7h0m0 11h0m0 21h0m0 8h0m0 15h0m0 3h0m0 1h0m0 2h0m0 2h0m1-87h0m0 72h0m0 8h0m1-49h0m0 6h0m0 31h0m0 2h0m0 0h0m1-81h0m0 28h0m0 46h0m0 12h0m0 5h0m0 0h0m0 10h0m1-41h0m0 29h0m1-63h0m0 57h0m0 3h0m0 1h0m0 12h0m1-99h0m0 68h0m0 6h0m0 6h0m0 17h0m0 2h0m0 3h0m1-8h0m1-34h0m0 21h0m0 7h0m0 0h0m1-63h0m0 52h0m0 0h0m0 10h0m0 1h0m0 1h0m0 8h0m1-64h0m0 26h0m0 23h0m0 7h0m0 1h0m0 1h0m0 9h0m1-10h0m0 2h0m0 3h0m0 3h0m0 2h0m1-109h0m0 64h0m0 10h0m0 10h0m0 10h0m0 4h0m1-44h0m0 33h0m0 18h0m0 5h0m1-49h0m0 20h0m0 11h0m0 4h0m1-56h0m0 17h0m0 10h0m0 20h0m0 8h0m0 6h0m1-230h0m0 239h0m1-41h0m0 15h0m0 8h0m0 0h0m0 5h0m0 4h0m0 0h0m0 1h0m0 0h0m1-45h0m0 17h0m0 17h0m0 14h0m0 1h0m0 2h0m0 2h0m1-60h0m0 29h0m0 12h0m0 7h0m0 4h0m0 4h0m0 4h0m1-62h0m0 56h0m1-64h0m0 19h0m1-11h0m0 28h0m0 10h0m0 5h0m1-55h0m0 57h0m0 0h0m0 12h0m0 1h0m1-53h0m0 21h0m0 35h0m1-13h0m1-54h0m0 1h0m0 42h0m0 6h0m0 0h0m0 2h0m0 7h0m0 2h0m0 4h0m1-82h0m0 38h0m0 4h0m0 13h0m0 2h0m0 18h0m1-29h0m0 12h0m0 5h0m0 9h0m0 8h0m2-139h0m0 95h0m0 24h0m0 1h0m0 9h0m0 9h0m0 4h0" stroke="#A65628"/><rect x="947.1" y="2887.1" width="9.5" height="184.1" rx="2.9" fill="#F781BF"/><path d="M950 2834h0m0 25h0m0 4h0m0 18h0m0 4h0m1 9h0m1-42h0m0 21h0m0 6h0m0 5h0m0 4h0m1-89h0m0 67h0m0 11h0m0 2h0m0 4h0m0 2h0m0 1h0m0 3h0m1-11h0" stroke="#F781BF"/><rect x="950.9" y="2887.1" width="22.9" height="184.1" rx="2.9" fill="#999999"/><path d="M954 2884h0m0 2h0m0 4h0m1-81h0m0 65h0m0 17h0m0 2h0m1-80h0m0 18h0m0 45h0m0 12h0m1-71h0m0 59h0m0 0h0m0 0h0m0 3h0m1-139h0m0 42h0m0 106h0m0 3h0m0 3h0m1-97h0m0 65h0m0 23h0m0 3h0m0 7h0m1-33h0m0 24h0m0 4h0m0 3h0m1-28h0m0 26h0m1-82h0m0 59h0m0 2h0m0 9h0m0 12h0m1-12h0m0 1h0m0 4h0m0 5h0m1-55h0m0 6h0m0 24h0m0 4h0m0 3h0m0 8h0m0 8h0m0 6h0m1-19h0m1-17h0m0 5h0m0 5h0m0 23h0m1-31h0m0 36h0m1-121h0m0 41h0m0 40h0m0 7h0m0 6h0m0 1h0m0 12h0m0 2h0m0 8h0m1-141h0m0 81h0m0 19h0m0 9h0m0 1h0m0 20h0m0 2h0m0 12h0m1-49h0m0 50h0m0 0h0m1-62h0m0 54h0" stroke="#999999"/><rect x="968.1" y="2874.6" width="33.8" height="196.6" rx="2.9" fill="#E41A1C"/><path d="M971 2787h0m0 24h0m0 49h0m1-54h0m0 11h0m0 44h0m0 5h0m0 2h0m0 14h0m1-16h0m1-2h0m0 10h0m0 0h0m0 5h0m0 2h0m0 1h0m0 0h0m1-6h0m0 5h0m0 0h0m1-22h0m0 8h0m0 5h0m0 0h0m0 6h0m1-83h0m0 43h0m0 21h0m0 9h0m0 4h0m0 8h0m1-41h0m0 12h0m0 0h0m0 16h0m0 6h0m0 2h0m0 5h0m1-40h0m0 16h0m0 7h0m0 14h0m1-39h0m0 11h0m0 13h0m0 13h0m1-10h0m0 12h0m1-64h0m0 3h0m0 43h0m0 3h0m0 10h0m0 9h0m1-107h0m0 40h0m0 47h0m0 7h0m0 14h0m1-67h0m0 41h0m0 6h0m0 11h0m0 3h0m0 7h0m1-68h0m0 25h0m0 42h0m1-73h0m0 56h0m0 7h0m0 1h0m0 5h0m1-38h0m0 23h0m0 4h0m0 13h0m1-128h0m0 93h0m0 16h0m0 16h0m1-80h0m0 1h0m0 4h0m0 33h0m0 14h0m0 4h0m0 17h0m0 13h0m1-62h0m0 18h0m0 19h0m0 8h0m0 8h0m0 3h0m1-20h0m0 0h0m0 8h0m0 3h0m0 9h0m0 4h0m1-19h0m0 15h0m0 5h0m1-42h0m0 5h0m0 0h0m0 29h0m1-35h0m0 20h0m0 7h0m0 4h0m0 7h0m1-45h0m0 30h0m1 4h0m0 5h0m0 10h0m1-43h0m0 8h0m0 5h0m0 26h0m1 0h0m0 2h0m1-20h0m0 5h0m0 11h0m0 2h0m0 1h0" stroke="#E41A1C"/><rect x="996.2" y="2888" width="10.9" height="183.1" rx="2.9" fill="#377EB8"/><path d="M999 2880h0m0 11h0m1-35h0m0 26h0m0 7h0m0 1h0m1-56h0m0 34h0m0 0h0m0 20h0m1-50h0m0 29h0m0 10h0m0 13h0m0 0h0m0 2h0m0 2h0m1 1h0m0 1h0m1-7h0m0 5h0" stroke="#377EB8"/><rect x="1001.5" y="2879.3" width="30.1" height="191.9" rx="2.9" fill="#4DAF4A"/><path d="M1005 2880h0m0 7h0m1-134h0m0 99h0m0 31h0m1-24h0m0 9h0m1-27h0m0 10h0m0 7h0m0 22h0m0 2h0m1-59h0m0 23h0m0 15h0m1-23h0m0 5h0m0 3h0m0 11h0m0 2h0m0 12h0m1-134h0m0 88h0m0 13h0m0 20h0m0 0h0m0 1h0m0 2h0m0 10h0m0 1h0m0 7h0m0 1h0m0 2h0m1-31h0m0 4h0m0 19h0m0 2h0m0 10h0m1-60h0m0 42h0m0 3h0m0 4h0m0 5h0m0 2h0m0 3h0m1-39h0m0 15h0m0 7h0m0 18h0m0 1h0m1-54h0m0 12h0m0 19h0m0 9h0m0 9h0m1-28h0m0 6h0m0 20h0m0 2h0m0 3h0m1-63h0m0 7h0m0 47h0m0 1h0m0 3h0m0 7h0m1-11h0m0 6h0m1-47h0m0 12h0m0 21h0m0 15h0m0 2h0m1-41h0m0 27h0m0 8h0m0 5h0m1-13h0m0 15h0m1-70h0m0 24h0m0 9h0m0 27h0m0 1h0m1-2h0m0 8h0m0 2h0m1-5h0m0 0h0m0 3h0m0 4h0m1-34h0m0 11h0m0 6h0m0 7h0m0 2h0m1-15h0m0 6h0m0 4h0m0 3h0m0 6h0m0 4h0m0 0h0m1-45h0m0 35h0m0 5h0m0 0h0m0 4h0m1-152h0m0 102h0m0 17h0m0 1h0m0 11h0m1-17h0m0 15h0m0 14h0" stroke="#4DAF4A"/><rect x="1025.9" y="2890.3" width="8.9" height="180.9" rx="2.9" fill="#984EA3"/><path d="M1029 2817h0m0 60h0m0 15h0m1-62h0m0 28h0m0 9h0m0 8h0m0 3h0m0 19h0m0 0h0m0 1h0m1-51h0m0 25h0m1-2h0" stroke="#984EA3"/><rect x="1029.1" y="2892.7" width="12.2" height="178.4" rx="2.9" fill="#FF7F00"/><path d="M1032 2861h0m1-19h0m0 1h0m0 24h0m0 6h0m0 1h0m0 14h0m0 2h0m0 2h0m1-56h0m0 57h0m1-41h0m0 27h0m0 6h0m0 0h0m0 3h0m0 12h0m1-61h0m0 28h0m0 34h0m2-29h0m0 1h0m0 4h0m0 0h0m0 1h0m0 0h0m0 15h0m0 6h0" stroke="#FF7F00"/><rect x="1035.6" y="2892.7" width="10.4" height="178.4" rx="2.9" fill="#FFFF33"/><path d="M1038 2877h0m1-29h0m0 24h0m0 7h0m0 8h0m0 2h0m1-25h0m0 8h0m0 3h0m0 21h0m1 1h0m0 2h0m1-20h0m0 16h0" stroke="#FFFF33"/><rect x="1040.3" y="2889.1" width="7.6" height="182" rx="2.9" fill="#A65628"/><path d="M1043 2839h0m0 49h0m1-70h0m0 18h0m0 16h0m0 13h0m0 23h0m1-12h0m0 9h0" stroke="#A65628"/><rect x="1042.2" y="2892.7" width="12.6" height="178.4" rx="2.9" fill="#F781BF"/><path d="M1045 2866h0m0 17h0m0 14h0m1-47h0m1-46h0m0 43h0m0 31h0m0 16h0m0 2h0m1-46h0m0 46h0m0 5h0m1-12h0m1-12h0m0 14h0m1-78h0m0 47h0m0 10h0m0 17h0m0 5h0m0 9h0" stroke="#F781BF"/><rect x="1049.1" y="2898.1" width="14.4" height="173" rx="2.9" fill="#999999"/><path d="M1052 2887h0m0 15h0m0 2h0m0 1h0m1-28h0m0 1h0m0 9h0m0 14h0m1-31h0m0 15h0m0 0h0m0 19h0m0 0h0m0 2h0m1-146h0m0 59h0m0 32h0m0 1h0m0 29h0m0 3h0m0 17h0m0 1h0m1-36h0m0 8h0m0 2h0m0 14h0m0 6h0m0 1h0m1-46h0m0 10h0m0 10h0m0 3h0m0 7h0m0 4h0m0 5h0m0 2h0m0 3h0m0 8h0m1-71h0m0 34h0m0 12h0m0 21h0m0 1h0m0 1h0m0 4h0m0 0h0m1-48h0m0 31h0m0 8h0m0 4h0m1-20h0m0 4h0m0 14h0m0 0h0m0 7h0m1-14h0" stroke="#999999"/><rect x="1057.8" y="2879.3" width="16.4" height="191.9" rx="2.9" fill="#E41A1C"/><path d="M1061 2855h0m0 5h0m0 3h0m0 8h0m0 7h0m1-149h0m0 71h0m0 65h0m0 3h0m0 3h0m0 4h0m0 0h0m0 3h0m1-70h0m0 47h0m0 4h0m0 22h0m0 1h0m0 2h0m1-52h0m0 8h0m0 42h0m0 5h0m1-59h0m0 21h0m0 14h0m0 22h0m1-58h0m0 33h0m0 9h0m0 5h0m0 6h0m0 3h0m0 0h0m0 3h0m1-36h0m0 16h0m0 5h0m0 2h0m0 2h0m1-23h0m0 13h0m0 3h0m0 14h0m0 1h0m0 2h0m1-81h0m0 27h0m0 8h0m0 13h0m0 15h0m0 3h0m1-16h0m0 10h0m0 18h0m1-35h0m0 4h0" stroke="#E41A1C"/><rect x="1068.4" y="2892.7" width="10.8" height="178.4" rx="2.9" fill="#377EB8"/><path d="M1071 2833h0m0 59h0m1-43h0m0 48h0m0 2h0m1-94h0m0 71h0m0 9h0m0 12h0m0 1h0m0 3h0m1-126h0m0 86h0m0 5h0m0 1h0m0 20h0m0 3h0m0 4h0m0 2h0m0 3h0m1-90h0m0 2h0m0 61h0m0 16h0m0 10h0m1-53h0m0 25h0" stroke="#377EB8"/><rect x="1073.5" y="2892.7" width="13.7" height="178.4" rx="2.9" fill="#4DAF4A"/><path d="M1076 2840h0m0 48h0m1-41h0m0 18h0m0 13h0m1-57h0m0 33h0m0 21h0m0 12h0m0 9h0m1-85h0m0 28h0m0 23h0m0 18h0m0 12h0m1-73h0m0 4h0m0 62h0m0 5h0m0 0h0m1-68h0m0 14h0m0 6h0m0 17h0m0 6h0m0 2h0m0 9h0m0 1h0m0 7h0m0 17h0m1-36h0m0 26h0m0 5h0m0 3h0m1-47h0m0 44h0m1-14h0m0 0h0m0 2h0m0 2h0" stroke="#4DAF4A"/><rect x="1081.5" y="2879.3" width="19.2" height="191.9" rx="2.9" fill="#984EA3"/><path d="M1084 2868h0m1 0h0m0 6h0m0 1h0m0 3h0m1-174h0m0 111h0m0 52h0m0 9h0m1-11h0m0 9h0m0 12h0m1-38h0m0 24h0m0 10h0m1-15h0m1-23h0m1 17h0m0 2h0m0 10h0m1-30h0m0 33h0m0 4h0m0 3h0m0 1h0m1-79h0m0 10h0m0 60h0m0 7h0m0 4h0m1-18h0m1-54h0m0 50h0m0 2h0m0 6h0m0 6h0m0 1h0m1-93h0m0 80h0m0 20h0m1-41h0m0 22h0m0 9h0m0 8h0m0 1h0m0 0h0m1-67h0m0 57h0" stroke="#984EA3"/><rect x="1095" y="2889.5" width="7.2" height="181.6" rx="2.9" fill="#FF7F00"/><path d="M1098 2887h0m0 6h0m1-175h0m0 75h0m0 83h0m0 8h0m0 4h0" stroke="#FF7F00"/><rect x="1096.5" y="2892.7" width="13.6" height="178.4" rx="2.9" fill="#FFFF33"/><path d="M1100 2884h0m0 7h0m0 3h0m0 4h0m1-97h0m0 8h0m0 67h0m0 13h0m0 3h0m0 2h0m1-20h0m0 11h0m0 1h0m0 4h0m0 9h0m1-53h0m0 25h0m0 5h0m0 2h0m0 2h0m0 5h0m1-47h0m0 36h0m0 26h0m1-52h0m0 32h0m1 2h0m0 1h0m0 4h0m0 7h0m1-7h0m0 7h0m0 2h0m0 0h0" stroke="#FFFF33"/><rect x="1104.4" y="2892.7" width="10.3" height="178.4" rx="2.9" fill="#A65628"/><path d="M1108 2768h0m0 54h0m0 64h0m0 2h0m0 1h0m1-98h0m0 21h0m0 16h0m0 13h0m0 8h0m0 17h0m0 4h0m0 14h0m1-62h0m0 41h0m0 9h0m1-2h0m0 15h0m0 9h0m0 2h0m0 1h0m1-78h0" stroke="#A65628"/><rect x="1109" y="2898.1" width="9.4" height="173" rx="2.9" fill="#F781BF"/><path d="M1112 2735h0m0 155h0m0 10h0m0 1h0m1-54h0m0 45h0m0 3h0m0 5h0m0 6h0m0 0h0m1-31h0m0 2h0m0 3h0m0 11h0m0 3h0m1-122h0m0 113h0" stroke="#F781BF"/><rect x="1112.8" y="2898.1" width="9.9" height="173" rx="2.9" fill="#999999"/><path d="M1116 2890h0m0 6h0m1-11h0m0 8h0m1-23h0m0 7h0m0 11h0m0 8h0m1 7h0" stroke="#999999"/><rect x="1116.9" y="2892.7" width="14.4" height="178.4" rx="2.9" fill="#E41A1C"/><path d="M1120 2835h0m0 25h0m0 35h0m0 1h0m1-15h0m0 2h0m0 8h0m0 8h0m1-40h0m0 24h0m0 4h0m0 2h0m0 1h0m0 8h0m1-19h0m0 4h0m0 2h0m0 6h0m0 4h0m1-41h0m0 15h0m0 1h0m0 18h0m0 6h0m0 1h0m0 1h0m1-133h0m0 98h0m0 4h0m0 19h0m0 6h0m0 9h0m1-164h0m0 101h0m0 31h0m0 3h0m0 0h0m0 15h0m0 4h0m0 3h0m0 6h0m1-79h0m0 74h0m0 1h0m1-73h0m0 12h0m0 10h0m0 35h0m0 0h0m0 9h0m0 4h0m0 5h0" stroke="#E41A1C"/><rect x="1125.6" y="2903.1" width="9.5" height="168.1" rx="2.9" fill="#377EB8"/><path d="M1129 2872h0m0 6h0m0 26h0m0 3h0m0 1h0m0 1h0m1-68h0m0 8h0m0 30h0m0 3h0m0 8h0m0 8h0m0 4h0m0 7h0m1-107h0m0 93h0m0 8h0m0 6h0m0 2h0m1-39h0m0 24h0m0 12h0" stroke="#377EB8"/><rect x="1129.4" y="2892.7" width="13.8" height="178.4" rx="2.9" fill="#4DAF4A"/><path d="M1132 2891h0m1-65h0m0 35h0m0 19h0m0 1h0m0 6h0m0 9h0m1-68h0m0 60h0m1-25h0m0 9h0m0 3h0m0 2h0m0 14h0m1-44h0m0 40h0m1-29h0m0 14h0m0 14h0m0 3h0m0 9h0m0 2h0m0 1h0m1-143h0m0 27h0m0 66h0m0 43h0m0 4h0m0 0h0m0 1h0m0 2h0m1-46h0m0 16h0m0 5h0m0 7h0m0 4h0m0 0h0m0 7h0m1-34h0m0 11h0m0 10h0m0 0h0m0 12h0m0 5h0" stroke="#4DAF4A"/><rect x="1137.5" y="2892.7" width="11.7" height="178.4" rx="2.9" fill="#984EA3"/><path d="M1140 2894h0m1-51h0m0 25h0m0 4h0m0 7h0m1-14h0m0 16h0m0 9h0m0 6h0m1-68h0m0 22h0m0 4h0m0 13h0m0 6h0m0 1h0m0 18h0m1-72h0m0 71h0m0 4h0m0 1h0m0 0h0m0 3h0m1-66h0m0 6h0m0 50h0m0 12h0m1-52h0m0 28h0m0 9h0m0 7h0m0 5h0" stroke="#984EA3"/><rect x="1143.5" y="2895.6" width="9.1" height="175.6" rx="2.9" fill="#FF7F00"/><path d="M1146 2902h0m1-19h0m0 3h0m0 2h0m1-84h0m0 20h0m0 3h0m0 38h0m0 19h0m0 6h0m1-51h0m0 8h0m0 29h0m0 21h0m1-47h0m0 2h0" stroke="#FF7F00"/><rect x="1146.9" y="2892.7" width="18.8" height="178.4" rx="2.9" fill="#FFFF33"/><path d="M1150 2852h0m0 15h0m0 3h0m0 18h0m0 5h0m1-69h0m0 25h0m0 15h0m0 30h0m0 0h0m1-74h0m0 13h0m0 27h0m0 7h0m0 8h0m0 8h0m0 7h0m1-169h0m0 179h0m1-53h0m0 12h0m0 14h0m1 9h0m0 4h0m0 6h0m0 6h0m1-41h0m0 4h0m0 15h0m0 7h0m0 5h0m0 11h0m1-13h0m0 4h0m0 6h0m0 0h0m1-149h0m0 132h0m0 0h0m1-18h0m0 5h0m0 4h0m0 18h0m0 1h0m0 10h0m1-96h0m0 17h0m0 14h0m0 44h0m0 0h0m0 0h0m0 23h0m1-66h0m0 31h0m0 5h0m0 2h0m0 17h0m0 11h0m1-30h0m0 9h0m0 16h0m1-4h0m0 9h0" stroke="#FFFF33"/><rect x="1160" y="2884.7" width="46.7" height="186.5" rx="2.9" fill="#A65628"/><path d="M1163 2763h0m1 79h0m0 22h0m0 16h0m1-101h0m0 30h0m0 10h0m0 44h0m0 24h0m1-61h0m0 59h0m0 7h0m1-145h0m0 79h0m0 44h0m0 2h0m0 11h0m0 8h0m1-121h0m0 71h0m0 4h0m0 33h0m0 4h0m0 4h0m0 5h0m0 2h0m1-38h0m0 12h0m0 9h0m0 1h0m0 1h0m1 11h0m0 1h0m1-66h0m0 62h0m1-64h0m0 40h0m0 15h0m0 11h0m1-34h0m0 7h0m0 20h0m0 4h0m0 7h0m0 0h0m1-53h0m0 27h0m0 1h0m0 5h0m0 1h0m0 5h0m0 13h0m1-61h0m0 53h0m0 10h0m1-77h0m0 14h0m0 36h0m0 1h0m0 14h0m0 4h0m0 6h0m1-67h0m0 41h0m0 19h0m0 1h0m0 8h0m1-41h0m0 4h0m1 25h0m1 1h0m0 5h0m1-62h0m0 9h0m0 26h0m0 30h0m1-36h0m0 3h0m0 2h0m0 25h0m0 1h0m0 1h0m0 0h0m0 1h0m1-189h0m0 166h0m0 17h0m0 5h0m1-30h0m0 32h0m0 5h0m1-16h0m0 12h0m0 3h0m1-42h0m0 15h0m0 0h0m0 3h0m0 8h0m0 2h0m0 13h0m1-15h0m1-9h0m0 2h0m1-132h0m0 115h0m0 15h0m0 2h0m0 19h0m1-108h0m0 67h0m0 32h0m0 3h0m1-65h0m0 55h0m0 7h0m1 2h0m0 4h0m0 3h0m1-27h0m0 8h0m0 2h0m0 5h0m0 6h0m0 4h0m0 3h0m0 4h0m1-101h0m0 77h0m0 7h0m0 3h0m1-44h0m0 2h0m0 20h0m0 18h0m0 2h0m0 6h0m1-65h0m0 51h0m1-43h0m0 35h0m0 1h0m0 20h0m0 11h0m1-83h0m0 43h0m0 30h0m0 8h0m1-54h0m0 42h0m0 7h0m0 2h0m0 1h0m1-47h0m0 15h0m0 7h0m0 9h0m0 7h0m1-57h0m0 37h0m0 8h0m0 19h0m1-23h0m0 11h0m0 0h0m0 12h0m1-41h0m0 23h0m0 3h0m0 13h0m1 3h0" stroke="#A65628"/><rect x="1201" y="2898.1" width="23.7" height="173" rx="2.9" fill="#F781BF"/><path d="M1204 2853h0m0 44h0m1-15h0m0 5h0m0 2h0m0 1h0m0 0h0m0 1h0m0 3h0m0 0h0m0 6h0m1-46h0m0 42h0m1-73h0m0 53h0m1-1h0m0 12h0m0 10h0m1-5h0m0 1h0m0 1h0m0 4h0m1-46h0m0 48h0m0 1h0m0 2h0m1-22h0m0 0h0m0 21h0m1-54h0m0 50h0m0 1h0m0 2h0m0 0h0m1-59h0m0 17h0m0 43h0m1-96h0m0 60h0m0 12h0m0 3h0m0 9h0m1-39h0m0 6h0m0 22h0m0 19h0m0 1h0m0 3h0m1-28h0m0 7h0m0 9h0m0 8h0m0 1h0m0 1h0m1-87h0m0 22h0m0 23h0m0 20h0m0 28h0m0 0h0m1-44h0m0 9h0m0 9h0m0 1h0m0 14h0m0 6h0m1-59h0m0 28h0m0 1h0m0 14h0m0 17h0m0 3h0m1-46h0m0 5h0m0 3h0m0 23h0m0 1h0m0 9h0m0 1h0m1-60h0m0 25h0m0 23h0m0 2h0m0 2h0m1-19h0m0 23h0" stroke="#F781BF"/><rect x="1219" y="2892.7" width="26.9" height="178.4" rx="2.9" fill="#999999"/><path d="M1222 2879h0m0 19h0m1-56h0m0 10h0m0 2h0m0 6h0m0 32h0m1-73h0m0 29h0m0 15h0m0 31h0m0 1h0m0 3h0m1-82h0m0 43h0m0 24h0m1-10h0m0 4h0m0 2h0m0 11h0m0 2h0m0 4h0m1-51h0m0 37h0m1-40h0m0 29h0m0 24h0m0 6h0m1-65h0m0 34h0m0 9h0m0 3h0m0 13h0m1-14h0m1 4h0m0 11h0m0 1h0m0 3h0m1-78h0m0 14h0m0 0h0m0 1h0m0 55h0m0 3h0m0 4h0m0 1h0m1-117h0m0 35h0m0 46h0m0 29h0m0 4h0m1-79h0m0 39h0m0 7h0m0 13h0m0 8h0m0 5h0m0 2h0m1-21h0m0 13h0m0 17h0m1-27h0m0 3h0m0 12h0m0 6h0m1-27h0m0 23h0m1-25h0m1-62h0m0 32h0m0 32h0m0 15h0m0 1h0m0 6h0m0 1h0m1-84h0m0 75h0m0 1h0m0 5h0m0 4h0m1-26h0m0 4h0m0 1h0m0 4h0m0 22h0m1-155h0m1 77h0m0 66h0m0 8h0m0 8h0" stroke="#999999"/><rect x="1240.2" y="2898.7" width="8.5" height="172.5" rx="2.9" fill="#E41A1C"/><path d="M1243 2900h0m1-30h0m0 6h0m0 9h0m0 22h0m1-127h0m0 61h0m0 17h0m0 44h0m0 5h0m1-3h0" stroke="#E41A1C"/><rect x="1243.1" y="2892.7" width="12.4" height="178.4" rx="2.9" fill="#377EB8"/><path d="M1246 2867h0m1 12h0m1-65h0m0 22h0m0 8h0m0 50h0m0 7h0m1-51h0m0 11h0m0 9h0m0 10h0m0 3h0m0 5h0m1-67h0m0 12h0m0 6h0m0 16h0m0 15h0m0 3h0m0 5h0m1-37h0m0 18h0m0 13h0m0 2h0m0 11h0m0 12h0m1-48h0m0 29h0m0 10h0m0 2h0m1-99h0" stroke="#377EB8"/><rect x="1249.8" y="2892.7" width="11.5" height="178.4" rx="2.9" fill="#4DAF4A"/><path d="M1253 2868h0m0 12h0m0 4h0m0 3h0m0 2h0m1-16h0m0 14h0m1-7h0m0 1h0m0 5h0m0 11h0m0 3h0m1-1h0m1-27h0m0 21h0m1-3h0m0 6h0m0 3h0" stroke="#4DAF4A"/><rect x="1255.6" y="2900.8" width="13.9" height="170.4" rx="2.9" fill="#984EA3"/><path d="M1258 2872h0m1-10h0m0 8h0m0 34h0m1-23h0m0 25h0m1-56h0m0 12h0m0 14h0m0 22h0m1-41h0m0 24h0m0 14h0m0 9h0m0 1h0m0 3h0m1-83h0m0 20h0m0 50h0m0 4h0m1-5h0m0 2h0m0 8h0m1-90h0m0 67h0m0 11h0m0 5h0m0 8h0m1-51h0m0 26h0m0 13h0m0 11h0m0 1h0m0 4h0" stroke="#984EA3"/><rect x="1263.8" y="2897.9" width="8.7" height="173.2" rx="2.9" fill="#FF7F00"/><path d="M1267 2793h0m0 100h0m0 4h0m1-120h0m0 108h0m0 3h0m0 5h0m0 12h0m1-30h0m0 30h0m1-5h0" stroke="#FF7F00"/><rect x="1266.8" y="2892.7" width="30.4" height="178.4" rx="2.9" fill="#FFFF33"/><path d="M1270 2883h0m0 18h0m1-102h0m0 81h0m0 2h0m0 1h0m0 1h0m0 6h0m0 9h0m1-71h0m0 8h0m0 52h0m0 6h0m1-79h0m0 60h0m0 1h0m0 5h0m0 0h0m0 0h0m0 9h0m1-43h0m0 16h0m0 25h0m1-31h0m0 26h0m0 12h0m1-2h0m1-94h0m0 37h0m0 15h0m0 19h0m0 25h0m1-54h0m0 30h0m0 13h0m1-7h0m0 13h0m0 4h0m1-76h0m0 27h0m0 13h0m0 3h0m0 7h0m0 1h0m0 16h0m0 6h0m0 6h0m0 2h0m1-30h0m0 2h0m0 17h0m0 8h0m0 3h0m1-38h0m0 19h0m0 6h0m0 6h0m1-6h0m0 11h0m0 2h0m1-89h0m0 12h0m0 44h0m0 2h0m0 6h0m0 4h0m0 12h0m0 7h0m1-69h0m0 43h0m0 21h0m1-16h0m0 15h0m0 7h0m1-47h0m0 29h0m0 5h0m0 9h0m0 2h0m1-71h0m0 10h0m0 6h0m0 0h0m0 38h0m0 22h0m1-88h0m0 68h0m0 11h0m0 1h0m1-80h0m0 61h0m0 15h0m0 8h0m0 4h0m1-109h0m0 8h0m0 58h0m0 14h0m0 11h0m0 0h0m0 15h0m1-101h0m0 79h0m0 4h0m0 0h0m0 9h0m0 6h0m0 1h0m0 3h0m1-55h0m0 0h0m0 39h0m0 4h0m0 1h0m0 11h0m1-20h0m0 5h0" stroke="#FFFF33"/><rect x="1291.5" y="2892.7" width="15.5" height="178.4" rx="2.9" fill="#A65628"/><path d="M1294 2901h0m1-16h0m0 1h0m0 14h0m1-83h0m0 31h0m0 12h0m0 4h0m0 14h0m0 15h0m0 2h0m0 4h0m0 1h0m1-118h0m0 112h0m0 3h0m0 4h0m1-55h0m0 16h0m0 16h0m1 0h0m1 6h0m0 4h0m0 2h0m1-153h0m0 58h0m0 62h0m0 12h0m0 3h0m0 6h0m0 19h0m1-44h0m0 36h0m0 1h0m0 6h0m0 1h0m1-48h0m0 4h0m0 18h0m0 8h0m0 1h0m0 2h0m1-27h0m0 4h0m0 13h0m0 18h0m0 6h0" stroke="#A65628"/><rect x="1301.3" y="2895.5" width="7.7" height="175.6" rx="2.9" fill="#F781BF"/><path d="M1304 2859h0m0 27h0m1 12h0m0 2h0m1 3h0" stroke="#F781BF"/><rect x="1303.3" y="2895" width="11" height="176.1" rx="2.9" fill="#999999"/><path d="M1306 2900h0m1-26h0m0 11h0m0 5h0m0 7h0m1-29h0m0 10h0m0 14h0m0 4h0m0 6h0m1-68h0m0 26h0m0 12h0m0 15h0m0 3h0m0 12h0m1-67h0m0 39h0m0 14h0m0 11h0m1-131h0m0 54h0m0 30h0m0 26h0m0 9h0m0 2h0m0 6h0m0 0h0" stroke="#999999"/><rect x="1308.6" y="2887.4" width="29.9" height="183.8" rx="2.9" fill="#E41A1C"/><path d="M1312 2846h0m0 4h0m0 17h0m1 11h0m0 4h0m0 2h0m0 4h0m0 1h0m0 5h0m1-29h0m0 16h0m0 3h0m0 2h0m1-22h0m0 14h0m0 14h0m0 0h0m1-61h0m0 53h0m1-56h0m0 7h0m0 13h0m0 22h0m0 0h0m0 19h0m1-93h0m0 33h0m0 34h0m0 5h0m0 7h0m0 20h0m1-23h0m0 15h0m1-36h0m0 6h0m0 12h0m0 2h0m0 4h0m0 6h0m0 2h0m0 5h0m0 1h0m0 0h0m1-66h0m0 50h0m0 13h0m0 8h0m1-74h0m0 46h0m0 1h0m0 16h0m0 8h0m0 0h0m1-3h0m1-36h0m0 27h0m0 7h0m1-86h0m0 32h0m0 8h0m0 28h0m0 17h0m0 4h0m0 3h0m1-83h0m0 58h0m0 0h0m0 13h0m1-31h0m0 11h0m0 10h0m0 7h0m0 16h0m0 3h0m1-76h0m0 56h0m0 15h0m1-66h0m0 52h0m0 1h0m0 2h0m0 1h0m0 12h0m1-81h0m0 67h0m0 5h0m0 2h0m0 1h0m1-8h0m0 12h0m1-14h0m0 1h0m0 0h0m0 7h0m0 3h0m0 2h0m0 2h0m1-16h0m0 14h0m0 3h0m0 0h0m1-1h0m0 0h0m1-73h0m0 26h0m0 2h0m0 13h0m0 8h0m0 4h0m0 10h0m0 11h0m0 1h0m1-44h0m0 42h0" stroke="#E41A1C"/><rect x="1332.8" y="2892.7" width="19.3" height="178.4" rx="2.9" fill="#377EB8"/><path d="M1336 2765h0m0 127h0m0 8h0m1-67h0m1-28h0m0 77h0m0 5h0m0 5h0m0 1h0m1-1h0m0 0h0m0 6h0m1-69h0m0 53h0m0 11h0m0 1h0m0 1h0m1-195h0m0 160h0m0 13h0m0 6h0m0 10h0m0 0h0m1-36h0m0 28h0m0 17h0m1-52h0m1-4h0m0 36h0m0 6h0m0 12h0m0 4h0m0 0h0m1-79h0m0 9h0m0 56h0m0 4h0m0 6h0m1-33h0m0 16h0m0 8h0m0 7h0m0 3h0m1-45h0m0 16h0m0 6h0m0 12h0m0 5h0m0 3h0m1-25h0m0 18h0m0 0h0m0 5h0m0 4h0m0 4h0m1-91h0" stroke="#377EB8"/><rect x="1346.4" y="2892.7" width="12.8" height="178.4" rx="2.9" fill="#4DAF4A"/><path d="M1349 2894h0m1-19h0m0 15h0m0 7h0m0 4h0m1-48h0m0 21h0m0 11h0m0 3h0m0 4h0m0 6h0m1-54h0m0 16h0m0 38h0m1-45h0m0 36h0m0 6h0m1-67h0m0 59h0m0 8h0m0 4h0m1-100h0m0 60h0m0 24h0m0 15h0m1-69h0m0 49h0m0 13h0" stroke="#4DAF4A"/><rect x="1353.5" y="2887.4" width="25.1" height="183.8" rx="2.9" fill="#984EA3"/><path d="M1356 2859h0m1 2h0m0 5h0m0 0h0m1 22h0m1-97h0m0 73h0m0 6h0m0 3h0m0 9h0m0 5h0m0 2h0m0 4h0m1-59h0m0 0h0m0 38h0m0 16h0m1-23h0m0 4h0m0 11h0m0 0h0m0 14h0m1-27h0m0 12h0m0 4h0m0 11h0m1-51h0m0 33h0m0 5h0m1-29h0m0 12h0m0 2h0m0 16h0m0 7h0m1-29h0m0 14h0m0 4h0m0 4h0m0 4h0m0 4h0m0 6h0m1-25h0m1-61h0m0 2h0m0 48h0m0 30h0m0 3h0m0 2h0m1-15h0m0 12h0m1-44h0m0 7h0m0 8h0m1 19h0m1-20h0m0 0h0m0 16h0m0 3h0m0 6h0m0 0h0m1-143h0m0 109h0m0 41h0m1-77h0m0 49h0m1-25h0m0 21h0m1 22h0m0 5h0m1 5h0" stroke="#984EA3"/><rect x="1372.9" y="2890.4" width="7.3" height="180.8" rx="2.9" fill="#FF7F00"/><path d="M1376 2750h0m0 127h0m0 12h0m1-35h0" stroke="#FF7F00"/><rect x="1374.5" y="2892.7" width="23.8" height="178.4" rx="2.9" fill="#FFFF33"/><path d="M1377 2788h0m0 106h0m1-33h0m0 8h0m0 9h0m0 9h0m0 1h0m0 6h0m0 2h0m1 0h0m0 3h0m1-60h0m0 3h0m0 36h0m1-27h0m0 48h0m1-45h0m0 21h0m0 8h0m0 10h0m0 6h0m1-59h0m0 21h0m1 13h0m0 13h0m0 9h0m0 2h0m1-18h0m0 11h0m1-86h0m0 71h0m1 1h0m0 1h0m0 7h0m0 10h0m0 1h0m1-119h0m0 68h0m0 19h0m0 19h0m0 5h0m0 11h0m0 0h0m1-31h0m0 14h0m0 18h0m1-82h0m0 45h0m0 12h0m0 16h0m0 3h0m0 0h0m0 1h0m1-22h0m0 26h0m0 1h0m1-55h0m0 5h0m0 5h0m0 21h0m0 3h0m0 13h0m0 6h0m1-57h0m0 1h0m0 26h0m1 0h0m0 5h0m1-44h0m0 14h0" stroke="#FFFF33"/><rect x="1392.6" y="2889.4" width="10.3" height="181.7" rx="2.9" fill="#A65628"/><path d="M1396 2893h0m0 0h0m0 2h0m1-107h0m0 54h0m0 24h0m0 4h0m0 18h0m0 5h0m1-49h0m0 28h0m0 22h0m1-52h0m0 20h0m0 0h0m0 5h0m0 8h0m0 1h0m0 15h0m1-27h0m0 30h0m0 1h0" stroke="#A65628"/><rect x="1397.2" y="2892.6" width="7.9" height="178.6" rx="2.9" fill="#F781BF"/><path d="M1400 2787h0m0 93h0m1-152h0m0 135h0m0 29h0m0 5h0m1-47h0m0 2h0m0 29h0m0 1h0m0 12h0m0 2h0" stroke="#F781BF"/><rect x="1399.4" y="2891.9" width="9.4" height="179.3" rx="2.9" fill="#999999"/><path d="M1402 2891h0m1-38h0m0 22h0m0 17h0m1-150h0m0 93h0m0 38h0m0 10h0m0 3h0m0 4h0m0 5h0m0 1h0m1-17h0m0 19h0m1-8h0" stroke="#999999"/><rect x="1403.1" y="2889.7" width="7" height="181.5" rx="2.9" fill="#E41A1C"/><path d="M1406 2866h0m0 19h0m0 3h0m0 8h0m1-101h0m0 65h0m0 14h0m0 11h0m0 11h0m0 0h0" stroke="#E41A1C"/><rect x="1404.4" y="2894.2" width="8.6" height="176.9" rx="2.9" fill="#377EB8"/><path d="M1407 2867h0m0 23h0m1-149h0m0 75h0m0 65h0m0 1h0m0 8h0m0 3h0m0 3h0m0 4h0m1-12h0m0 10h0m1-14h0" stroke="#377EB8"/><rect x="1407.3" y="2885.3" width="9.1" height="185.8" rx="2.9" fill="#4DAF4A"/><path d="M1410 2716h0m0 176h0m1-54h0m0 16h0m0 2h0m1-36h0m0 9h0m0 62h0m0 1h0m1-101h0m0 34h0m0 24h0m0 23h0m0 12h0m0 9h0m1-24h0" stroke="#4DAF4A"/><rect x="1410.7" y="2895.5" width="7.9" height="175.6" rx="2.9" fill="#984EA3"/><path d="M1414 2746h0m0 7h0m0 50h0m0 34h0m0 43h0m0 2h0m0 10h0m1 12h0m1-28h0m0 7h0m0 18h0" stroke="#984EA3"/><rect x="1412.9" y="2892.7" width="9.9" height="178.4" rx="2.9" fill="#FF7F00"/><path d="M1416 2867h0m0 8h0m0 17h0m1-27h0m0 8h0m0 11h0m1-20h0m0 13h0m0 22h0m1-76h0m0 44h0m0 7h0m0 14h0m0 7h0m0 3h0m0 3h0m1-20h0m0 19h0" stroke="#FF7F00"/></g><path d="M181.4 2558.6V3087.9H1467" fill="none" stroke="#8a8a8a" stroke-width="2.3" stroke-linejoin="round"/><path d="M181.4 3068.3V2578.2M171.9 3068.3H181.4M171.9 2998.3H181.4M171.9 2928.3H181.4M171.9 2858.3H181.4M171.9 2788.2H181.4M171.9 2718.2H181.4M171.9 2648.2H181.4M171.9 2578.2H181.4M243 3087.9H1418.1M243 3087.9v9.8M273.8 3087.9v9.8M301.8 3087.9v9.8M309 3087.9v9.8M332 3087.9v9.8M358.2 3087.9v9.8M377.5 3087.9v9.8M408.2 3087.9v9.8M450.8 3087.9v9.8M482 3087.9v9.8M504.3 3087.9v9.8M512 3087.9v9.8M525.6 3087.9v9.8M543.7 3087.9v9.8M553.8 3087.9v9.8M559.1 3087.9v9.8M565.2 3087.9v9.8M581 3087.9v9.8M597.9 3087.9v9.8M631.2 3087.9v9.8M646.8 3087.9v9.8M658.4 3087.9v9.8M664.4 3087.9v9.8M670.2 3087.9v9.8M679.6 3087.9v9.8M694.1 3087.9v9.8M713.2 3087.9v9.8M723.1 3087.9v9.8M734 3087.9v9.8M737.8 3087.9v9.8M758 3087.9v9.8M775.6 3087.9v9.8M786.5 3087.9v9.8M798 3087.9v9.8M821.3 3087.9v9.8M843.8 3087.9v9.8M851.3 3087.9v9.8M866.9 3087.9v9.8M891.8 3087.9v9.8M903.8 3087.9v9.8M906.6 3087.9v9.8M915.1 3087.9v9.8M933.8 3087.9v9.8M952.2 3087.9v9.8M962.5 3087.9v9.8M986 3087.9v9.8M1001.5 3087.9v9.8M1015 3087.9v9.8M1030 3087.9v9.8M1035.2 3087.9v9.8M1040.4 3087.9v9.8M1044.4 3087.9v9.8M1049.1 3087.9v9.8M1056.6 3087.9v9.8M1065.6 3087.9v9.8M1074.1 3087.9v9.8M1081.1 3087.9v9.8M1089.2 3087.9v9.8M1099.4 3087.9v9.8M1103.1 3087.9v9.8M1110 3087.9v9.8M1113.8 3087.9v9.8M1117.5 3087.9v9.8M1125 3087.9v9.8M1130 3087.9v9.8M1136.2 3087.9v9.8M1142.8 3087.9v9.8M1147.9 3087.9v9.8M1155.6 3087.9v9.8M1184 3087.9v9.8M1211.9 3087.9v9.8M1232.2 3087.9v9.8M1244.8 3087.9v9.8M1249 3087.9v9.8M1256.2 3087.9v9.8M1263.6 3087.9v9.8M1268 3087.9v9.8M1282.3 3087.9v9.8M1301.3 3087.9v9.8M1305.3 3087.9v9.8M1308.8 3087.9v9.8M1320.4 3087.9v9.8M1342.4 3087.9v9.8M1351.9 3087.9v9.8M1365.7 3087.9v9.8M1375.9 3087.9v9.8M1386.7 3087.9v9.8M1397.3 3087.9v9.8M1401.2 3087.9v9.8M1403.4 3087.9v9.8M1406.2 3087.9v9.8M1408.5 3087.9v9.8M1411.5 3087.9v9.8M1414.3 3087.9v9.8M1418.1 3087.9v9.8" fill="none" stroke="#3c3c3c" stroke-width="2.3" stroke-linecap="round"/><path d="M181.4 2648.2H1467" stroke="#888" stroke-width="2.2" stroke-dasharray="6.5 3.03"/><text transform="translate(160,3068.3) rotate(-90)" text-anchor="middle" class="tl">0</text><text transform="translate(160,2998.3) rotate(-90)" text-anchor="middle" class="tl">1</text><text transform="translate(160,2928.3) rotate(-90)" text-anchor="middle" class="tl">2</text><text transform="translate(160,2858.3) rotate(-90)" text-anchor="middle" class="tl">3</text><text transform="translate(160,2788.2) rotate(-90)" text-anchor="middle" class="tl">4</text><text transform="translate(160,2718.2) rotate(-90)" text-anchor="middle" class="tl">5</text><text transform="translate(160,2648.2) rotate(-90)" text-anchor="middle" class="tl">6</text><text transform="translate(160,2578.2) rotate(-90)" text-anchor="middle" class="tl">7</text><text x="243" y="3157.4" text-anchor="middle" class="tl">KZ288185.1</text><text x="450.8" y="3157.4" text-anchor="middle" class="tl">KZ288193.1</text><text x="646.8" y="3157.4" text-anchor="middle" class="tl">KZ288205.1</text><text x="843.8" y="3157.4" text-anchor="middle" class="tl">KZ288220.1</text><text x="1035.2" y="3157.4" text-anchor="middle" class="tl">KZ288234.1</text><text x="1232.2" y="3157.4" text-anchor="middle" class="tl">KZ288256.1</text><text transform="translate(50.2,2932.9) rotate(-90)" class="yl"><tspan class="d1" dy="1.65">&#8211;</tspan><tspan dx="1.5" dy="-1.65">log10(P)</tspan></text><path d="M1713.7 3068.3 L1716.3 3065.5 L1718.9 3062.7 L1721.6 3059.9 L1724.2 3057.1 L1726.8 3054.4 L1729.4 3051.6 L1732 3048.8 L1734.6 3046 L1737.3 3043.3 L1739.9 3040.5 L1742.5 3037.8 L1745.1 3035 L1747.7 3032.2 L1750.4 3029.4 L1753 3026.7 L1755.6 3023.9 L1758.2 3021.1 L1760.8 3018.3 L1763.4 3015.5 L1766.1 3012.7 L1768.7 3009.9 L1771.3 3007.1 L1773.9 3004.2 L1776.5 3001.4 L1779.2 2998.6 L1781.8 2995.7 L1784.4 2992.8 L1787 2989.9 L1789.6 2987 L1792.2 2984.1 L1794.8 2981.2 L1797.4 2978.3 L1800 2975.4 L1802.6 2972.5 L1805.2 2969.5 L1807.8 2966.6 L1810.4 2963.6 L1812.9 2960.7 L1815.5 2957.7 L1818.1 2954.7 L1820.7 2951.7 L1823.3 2948.7 L1825.9 2945.7 L1828.5 2942.7 L1831.1 2939.7 L1833.7 2936.7 L1836.3 2933.6 L1838.9 2930.6 L1841.4 2927.6 L1844 2924.5 L1846.6 2921.5 L1849.2 2918.5 L1851.8 2915.4 L1854.4 2912.4 L1857 2909.3 L1859.6 2906.2 L1862.2 2903.2 L1864.8 2900.1 L1867.3 2897.1 L1869.9 2894 L1872.5 2890.9 L1875.1 2887.9 L1877.7 2884.8 L1880.4 2881.6 L1883.1 2878.4 L1885.8 2875.2 L1888.5 2872 L1891.1 2868.7 L1893.8 2865.5 L1896.5 2862.2 L1899.2 2859 L1901.9 2855.8 L1904.6 2852.5 L1907.3 2849.3 L1909.9 2846.1 L1912.6 2843 L1915.3 2839.8 L1918 2836.7 L1920.7 2833.6 L1923.4 2830.6 L1926.1 2827.5 L1928.8 2824.5 L1931.4 2821.4 L1934.1 2818.4 L1936.8 2815.3 L1939.5 2812.2 L1942.2 2809.1 L1944.9 2805.9 L1947.6 2802.7 L1950.3 2799.5 L1952.9 2796.2 L1955.6 2792.8 L1958.3 2789.4 L1961 2786 L1963.7 2782.6 L1966.4 2779.2 L1969.1 2775.8 L1971.7 2772.4 L1974.4 2769 L1977.1 2765.7 L1979.8 2762.5 L1982.5 2759.3 L1985.2 2756.2 L1987.9 2753.1 L1990.6 2750.1 L1993.2 2747.1 L1995.9 2744.2 L1998.6 2741.3 L2001.3 2738.4 L2004 2735.5 L2006.7 2732.6 L2009.4 2729.7 L2012 2726.7 L2014.7 2723.7 L2017.4 2720.6 L2020.1 2717.5 L2022.8 2714.3 L2025.5 2711.1 L2028.2 2707.9 L2030.9 2704.6 L2033.5 2701.3 L2036.2 2698 L2038.9 2694.8 L2041.6 2691.5 L2044.3 2688.3 L2047 2685.1 L2049.7 2681.9 L2052.3 2678.8 L2055.3 2675.5 L2058.2 2672.3 L2061.1 2669 L2064 2665.9 L2066.9 2662.7 L2069.8 2659.5 L2072.7 2656.2 L2075.6 2652.7 L2078.5 2649.3 L2081.5 2645.9 L2084.4 2642.9 L2087.3 2640.2 L2090.2 2637.8 L2093.1 2635.8 L2096 2633.8 L2098.9 2632 L2101.8 2630.1 L2104.7 2628.1 L2107.7 2626 L2110.6 2623.9 L2113.5 2621.7 L2116.4 2619.5 L2119.3 2617.4 L2122.2 2615.2" fill="none" stroke="#0000FF" stroke-width="13.5" stroke-linecap="round" stroke-linejoin="round"/><path d="M2130.6 2607.2h0M2138.1 2592.7h0M2151.8 2584.6h0M2167.8 2578.2h0M2203.9 2578.2h0" stroke="#0000FF" stroke-width="11.2" stroke-linecap="round"/><path d="M1695.2 3087.9L2194.6 2558.6" stroke="#FF0000" stroke-opacity="0.62" stroke-width="1.7"/><rect x="1694.1" y="2558.6" width="529.7" height="529.3" fill="none" stroke="#8a8a8a" stroke-width="2.3" stroke-linejoin="round"/><path d="M1694.1 3068.3V2585.4M1684.6 3068.3H1694.1M1684.6 2987.8H1694.1M1684.6 2907.3H1694.1M1684.6 2826.9H1694.1M1684.6 2746.4H1694.1M1684.6 2665.9H1694.1M1684.6 2585.4H1694.1M1713.7 3087.9H2169.3M1713.7 3087.9v9.5M1789.6 3087.9v9.5M1865.6 3087.9v9.5M1941.5 3087.9v9.5M2017.4 3087.9v9.5M2093.3 3087.9v9.5M2169.3 3087.9v9.5" fill="none" stroke="#3c3c3c" stroke-width="2.3" stroke-linecap="round"/><text transform="translate(1672.5,3068.3) rotate(-90)" text-anchor="middle" class="tl">0</text><text transform="translate(1672.5,2987.8) rotate(-90)" text-anchor="middle" class="tl">1</text><text transform="translate(1672.5,2907.3) rotate(-90)" text-anchor="middle" class="tl">2</text><text transform="translate(1672.5,2826.9) rotate(-90)" text-anchor="middle" class="tl">3</text><text transform="translate(1672.5,2746.4) rotate(-90)" text-anchor="middle" class="tl">4</text><text transform="translate(1672.5,2665.9) rotate(-90)" text-anchor="middle" class="tl">5</text><text transform="translate(1672.5,2585.4) rotate(-90)" text-anchor="middle" class="tl">6</text><text x="1713.7" y="3120.4" text-anchor="middle" class="tl">0</text><text x="1789.6" y="3120.4" text-anchor="middle" class="tl">1</text><text x="1865.6" y="3120.4" text-anchor="middle" class="tl">2</text><text x="1941.5" y="3120.4" text-anchor="middle" class="tl">3</text><text x="2017.4" y="3120.4" text-anchor="middle" class="tl">4</text><text x="2093.3" y="3120.4" text-anchor="middle" class="tl">5</text><text x="2169.3" y="3120.4" text-anchor="middle" class="tl">6</text><text x="1950.5" y="3156.3" text-anchor="middle" class="al">Expected <tspan class="d2" dx="2" dy="1.5">&#8211;</tspan><tspan dx="1" dy="-1.5">log10(p)</tspan></text><text transform="translate(1636.5,2823.2) rotate(-90)" text-anchor="middle" class="al">Observed -log10(p)</text><text x="6.4" y="2620" class="lt">J</text><text x="824" y="3229.5" text-anchor="middle" class="yl">Chromosome</text></svg></body></html>
